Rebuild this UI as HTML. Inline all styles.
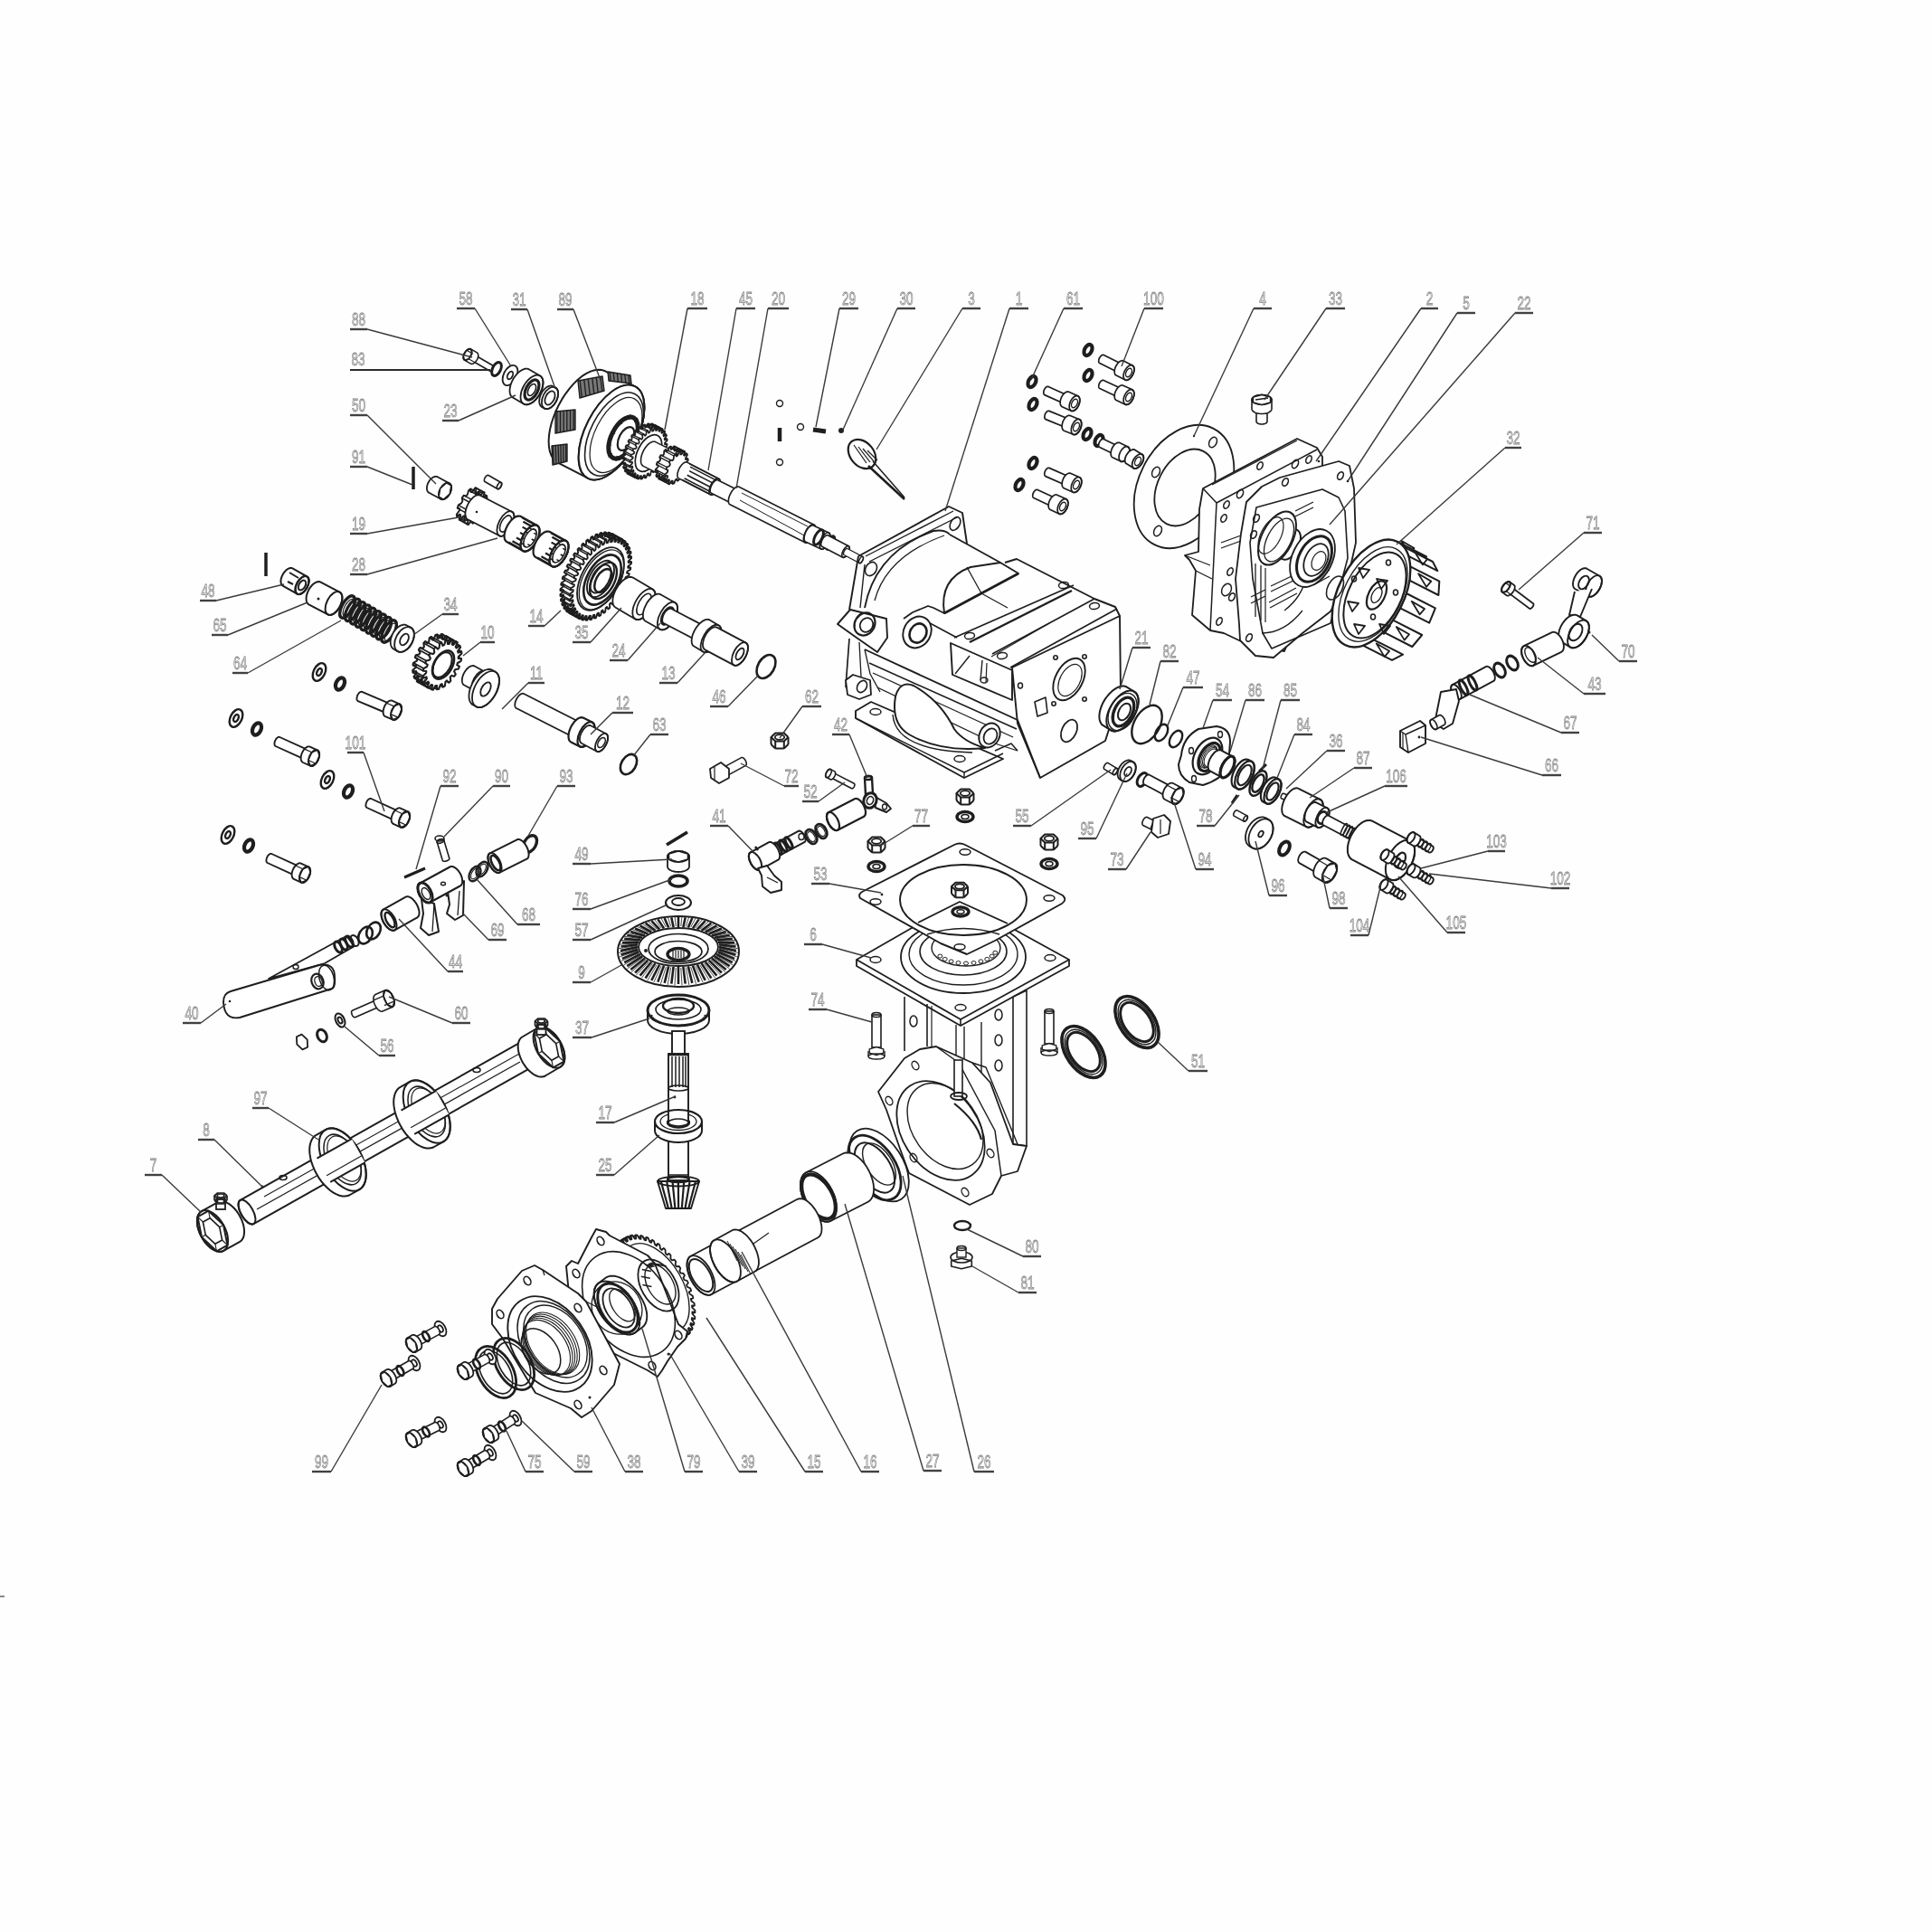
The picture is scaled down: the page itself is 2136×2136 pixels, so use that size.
<!DOCTYPE html>
<html><head><meta charset="utf-8"><style>
html,body{margin:0;padding:0;background:#fefefe;}
svg{display:block;}
.t{font-family:"Liberation Sans",sans-serif;font-size:20px;fill:#ececec;stroke:#7a7a7a;stroke-width:0.75;text-anchor:middle;}
</style></head><body>
<svg width="2136" height="2136" viewBox="0 0 2136 2136">
<rect x="0" y="0" width="2136" height="2136" fill="#fefefe"/>
<rect x="0" y="1764" width="5" height="2" fill="#888"/>
<polygon points="544.7,404 545,404.1 545.1,404.3 545.3,404.6 545.3,404.9 545.4,405.2 545.4,405.5 545.4,405.9 545.3,406.3 545.2,406.7 545.1,407.1 544.9,407.6 544.7,408 544.4,408.3 544.2,408.7 543.9,409 543.6,409.3 543.3,409.6 542.9,409.8 542.6,410 542.3,410.1 542,410.2 541.7,410.2 541.5,410.1 541.3,410 522.2,399 522,398.9 521.8,398.7 521.7,398.4 521.6,398.1 521.5,397.8 521.5,397.5 521.5,397.1 521.6,396.7 521.7,396.3 521.9,395.9 522,395.4 522.3,395 522.5,394.6 522.8,394.3 523.1,393.9 523.4,393.6 523.7,393.4 524,393.2 524.3,393 524.6,392.9 524.9,392.8 525.2,392.8 525.4,392.9 525.7,393" fill="#fff" stroke="#1e1e1e" stroke-width="1.6" stroke-linejoin="round"/>
<ellipse cx="523.9" cy="396" rx="1.9" ry="3.5" transform="rotate(-150 523.9 396)" fill="none" stroke="#1e1e1e" stroke-width="1.6"/>
<polygon points="527.4,389.9 527.8,390.2 528.2,390.6 528.4,391.1 528.6,391.7 528.7,392.4 528.8,393.1 528.7,393.8 528.6,394.6 528.3,395.5 528.1,396.3 527.7,397.1 527.3,397.9 526.8,398.7 526.2,399.4 525.7,400.1 525.1,400.7 524.4,401.2 523.8,401.6 523.2,402 522.6,402.2 522,402.3 521.4,402.4 520.9,402.3 520.4,402.1 513.5,398.1 513.1,397.8 512.8,397.4 512.5,396.9 512.3,396.3 512.2,395.6 512.2,394.9 512.2,394.2 512.4,393.4 512.6,392.5 512.9,391.7 513.2,390.9 513.7,390.1 514.2,389.3 514.7,388.6 515.3,387.9 515.9,387.3 516.5,386.8 517.1,386.4 517.7,386 518.4,385.8 519,385.7 519.5,385.6 520,385.7 520.5,385.9" fill="#fff" stroke="#1e1e1e" stroke-width="1.6" stroke-linejoin="round"/>
<ellipse cx="517" cy="392" rx="3.9" ry="7" transform="rotate(-150 517 392)" fill="none" stroke="#1e1e1e" stroke-width="1.6"/>
<line x1="515.9" y1="387.3" x2="522.8" y2="391.3" stroke="#1e1e1e" stroke-width="1.2"/>
<line x1="518.1" y1="396.7" x2="525.1" y2="400.7" stroke="#1e1e1e" stroke-width="1.2"/>
<polygon points="515.9,387.3 520.5,385.9 521.6,390.6 518.1,396.7 513.5,398.1 512.4,393.4" fill="none" stroke="#1e1e1e" stroke-width="1.3" stroke-linejoin="round"/>
<ellipse cx="549" cy="408" rx="4.5" ry="8" transform="rotate(27 549 408)" fill="none" stroke="#1e1e1e" stroke-width="3"/>
<ellipse cx="564" cy="415" rx="7.2" ry="12" transform="rotate(27 564 415)" fill="#fff" stroke="#1e1e1e" stroke-width="1.8"/>
<ellipse cx="564" cy="415" rx="2.7" ry="4.6" transform="rotate(27 564 415)" fill="none" stroke="#1e1e1e" stroke-width="1.8"/>
<polygon points="566.9,439.5 565.9,438.8 565,437.7 564.3,436.5 563.9,435 563.6,433.3 563.5,431.5 563.7,429.5 564.1,427.5 564.6,425.3 565.4,423.2 566.3,421.1 567.4,419 568.7,417 570.1,415.2 571.6,413.4 573.1,411.9 574.7,410.6 576.4,409.5 578,408.6 579.6,408 581.1,407.7 582.5,407.7 583.9,407.9 585.1,408.5 597.1,415.5 598.1,416.2 599,417.3 599.7,418.5 600.1,420 600.4,421.7 600.5,423.5 600.3,425.5 599.9,427.5 599.4,429.7 598.6,431.8 597.7,433.9 596.6,436 595.3,438 593.9,439.8 592.4,441.6 590.9,443.1 589.3,444.4 587.6,445.5 586,446.4 584.4,447 582.9,447.3 581.5,447.3 580.1,447.1 578.9,446.5" fill="#fff" stroke="#1e1e1e" stroke-width="1.8" stroke-linejoin="round"/>
<ellipse cx="588" cy="431" rx="9.9" ry="18" transform="rotate(30.3 588 431)" fill="none" stroke="#1e1e1e" stroke-width="1.8"/>
<ellipse cx="588" cy="431" rx="6.5" ry="12" transform="rotate(27 588 431)" fill="none" stroke="#1e1e1e" stroke-width="3.2"/>
<ellipse cx="588" cy="431" rx="3.8" ry="7" transform="rotate(27 588 431)" fill="none" stroke="#1e1e1e" stroke-width="1.6"/>
<polygon points="599.4,450.2 598.6,449.7 597.8,448.9 597.2,448 596.7,446.9 596.4,445.7 596.2,444.3 596.2,442.9 596.4,441.4 596.6,439.8 597.1,438.2 597.7,436.6 598.4,435.1 599.2,433.6 600.1,432.2 601.2,430.9 602.3,429.8 603.4,428.8 604.6,427.9 605.8,427.3 607,426.8 608.1,426.6 609.2,426.5 610.3,426.7 611.2,427.1 613.9,428.4 614.8,429 615.5,429.7 616.1,430.7 616.6,431.7 616.9,433 617.1,434.3 617.1,435.8 617,437.3 616.7,438.8 616.2,440.4 615.7,442 614.9,443.5 614.1,445 613.2,446.4 612.2,447.7 611.1,448.9 609.9,449.9 608.7,450.7 607.5,451.3 606.4,451.8 605.2,452.1 604.1,452.1 603.1,451.9 602.1,451.6" fill="#fff" stroke="#1e1e1e" stroke-width="1.8" stroke-linejoin="round"/>
<ellipse cx="608" cy="440" rx="7.8" ry="13" transform="rotate(27 608 440)" fill="none" stroke="#1e1e1e" stroke-width="1.8"/>
<ellipse cx="608" cy="440" rx="4.8" ry="8.1" transform="rotate(27 608 440)" fill="none" stroke="#1e1e1e" stroke-width="1.8"/>
<polygon points="616.9,511.7 613.8,509.5 611.2,506.6 609.2,502.8 607.7,498.4 606.9,493.3 606.6,487.6 607,481.5 608,475 609.6,468.3 611.8,461.5 614.5,454.7 617.7,447.9 621.3,441.4 625.3,435.3 629.6,429.6 634.1,424.4 638.8,419.8 643.5,415.9 648.3,412.9 652.9,410.6 657.4,409.2 661.7,408.7 665.6,409.1 669.1,410.3 702.1,427.3 705.2,429.5 707.8,432.4 709.8,436.2 711.3,440.6 712.1,445.7 712.4,451.4 712,457.5 711,464 709.4,470.7 707.2,477.5 704.5,484.3 701.3,491.1 697.7,497.6 693.7,503.7 689.4,509.4 684.9,514.6 680.2,519.2 675.5,523.1 670.7,526.1 666.1,528.4 661.6,529.8 657.3,530.3 653.4,529.9 649.9,528.7" fill="#fff" stroke="#1e1e1e" stroke-width="2" stroke-linejoin="round"/>
<ellipse cx="676" cy="478" rx="28.5" ry="57" transform="rotate(27.3 676 478)" fill="none" stroke="#1e1e1e" stroke-width="2"/>
<polygon points="639,421 666,416 668,432 641,440" fill="#777" stroke="#1e1e1e" stroke-width="1.4" stroke-linejoin="round"/>
<line x1="641.2" y1="420.6" x2="643.2" y2="439.3" stroke="#1e1e1e" stroke-width="1.3"/>
<line x1="645.8" y1="419.8" x2="647.8" y2="438" stroke="#1e1e1e" stroke-width="1.3"/>
<line x1="650.2" y1="418.9" x2="652.2" y2="436.7" stroke="#1e1e1e" stroke-width="1.3"/>
<line x1="654.8" y1="418.1" x2="656.8" y2="435.3" stroke="#1e1e1e" stroke-width="1.3"/>
<line x1="659.2" y1="417.2" x2="661.2" y2="434" stroke="#1e1e1e" stroke-width="1.3"/>
<line x1="663.8" y1="416.4" x2="665.8" y2="432.7" stroke="#1e1e1e" stroke-width="1.3"/>
<polygon points="614,455 636,453 636,475 614,479" fill="#777" stroke="#1e1e1e" stroke-width="1.4" stroke-linejoin="round"/>
<line x1="615.8" y1="454.8" x2="615.8" y2="478.7" stroke="#1e1e1e" stroke-width="1.3"/>
<line x1="619.5" y1="454.5" x2="619.5" y2="478" stroke="#1e1e1e" stroke-width="1.3"/>
<line x1="623.2" y1="454.2" x2="623.2" y2="477.3" stroke="#1e1e1e" stroke-width="1.3"/>
<line x1="626.8" y1="453.8" x2="626.8" y2="476.7" stroke="#1e1e1e" stroke-width="1.3"/>
<line x1="630.5" y1="453.5" x2="630.5" y2="476" stroke="#1e1e1e" stroke-width="1.3"/>
<line x1="634.2" y1="453.2" x2="634.2" y2="475.3" stroke="#1e1e1e" stroke-width="1.3"/>
<polygon points="610,493 627,491 627,510 611,514" fill="#777" stroke="#1e1e1e" stroke-width="1.4" stroke-linejoin="round"/>
<line x1="611.4" y1="492.8" x2="612.3" y2="513.7" stroke="#1e1e1e" stroke-width="1.3"/>
<line x1="614.2" y1="492.5" x2="615" y2="513" stroke="#1e1e1e" stroke-width="1.3"/>
<line x1="617.1" y1="492.2" x2="617.7" y2="512.3" stroke="#1e1e1e" stroke-width="1.3"/>
<line x1="619.9" y1="491.8" x2="620.3" y2="511.7" stroke="#1e1e1e" stroke-width="1.3"/>
<line x1="622.8" y1="491.5" x2="623" y2="511" stroke="#1e1e1e" stroke-width="1.3"/>
<line x1="625.6" y1="491.2" x2="625.7" y2="510.3" stroke="#1e1e1e" stroke-width="1.3"/>
<polygon points="672,411 697,415 698,424 673,421" fill="#777" stroke="#1e1e1e" stroke-width="1.4" stroke-linejoin="round"/>
<line x1="674.1" y1="411.3" x2="675.1" y2="421.2" stroke="#1e1e1e" stroke-width="1.3"/>
<line x1="678.2" y1="412" x2="679.2" y2="421.8" stroke="#1e1e1e" stroke-width="1.3"/>
<line x1="682.4" y1="412.7" x2="683.4" y2="422.2" stroke="#1e1e1e" stroke-width="1.3"/>
<line x1="686.6" y1="413.3" x2="687.6" y2="422.8" stroke="#1e1e1e" stroke-width="1.3"/>
<line x1="690.8" y1="414" x2="691.8" y2="423.2" stroke="#1e1e1e" stroke-width="1.3"/>
<line x1="694.9" y1="414.7" x2="695.9" y2="423.8" stroke="#1e1e1e" stroke-width="1.3"/>
<ellipse cx="676" cy="478" rx="28.5" ry="57" transform="rotate(27 676 478)" fill="#fff" stroke="#1e1e1e" stroke-width="2"/>
<ellipse cx="679" cy="480" rx="26" ry="50" transform="rotate(27 679 480)" fill="none" stroke="#1e1e1e" stroke-width="1.6"/>
<ellipse cx="681" cy="481" rx="23" ry="45" transform="rotate(27 681 481)" fill="none" stroke="#1e1e1e" stroke-width="1.2"/>
<ellipse cx="689" cy="484" rx="13" ry="25" transform="rotate(27 689 484)" fill="none" stroke="#1e1e1e" stroke-width="5"/>
<ellipse cx="692" cy="485" rx="7.5" ry="14" transform="rotate(27 692 485)" fill="none" stroke="#1e1e1e" stroke-width="2.2"/>
<line x1="697.9" y1="488.5" x2="702.4" y2="490.8" stroke="#1e1e1e" stroke-width="1.2"/>
<line x1="690.3" y1="499.2" x2="692.3" y2="504.2" stroke="#1e1e1e" stroke-width="1.2"/>
<line x1="682.3" y1="504" x2="681" y2="509.8" stroke="#1e1e1e" stroke-width="1.2"/>
<line x1="676.7" y1="501.2" x2="672.8" y2="505.6" stroke="#1e1e1e" stroke-width="1.2"/>
<line x1="675.9" y1="491.8" x2="670.7" y2="493.2" stroke="#1e1e1e" stroke-width="1.2"/>
<line x1="680.1" y1="479.5" x2="675.6" y2="477.2" stroke="#1e1e1e" stroke-width="1.2"/>
<line x1="687.7" y1="468.8" x2="685.7" y2="463.8" stroke="#1e1e1e" stroke-width="1.2"/>
<line x1="695.7" y1="464" x2="697" y2="458.2" stroke="#1e1e1e" stroke-width="1.2"/>
<line x1="701.3" y1="466.8" x2="705.2" y2="462.4" stroke="#1e1e1e" stroke-width="1.2"/>
<line x1="702.1" y1="476.2" x2="707.3" y2="474.8" stroke="#1e1e1e" stroke-width="1.2"/>
<polygon points="722.2,503.7 723.5,505.9 722.5,507.7 720.1,507.3 719.2,508.8 719.9,511.7 718.7,513.3 716.7,512.1 715.6,513.4 715.7,516.8 714.4,518.2 712.9,516.2 711.7,517.2 711.2,520.9 709.8,521.9 708.9,519.2 707.6,519.9 706.5,523.8 705.1,524.4 704.8,521.2 703.7,521.5 702,525.4 700.7,525.5 701,521.9 700,521.9 697.8,525.5 696.7,525.2 697.6,521.4 696.7,521 694.2,524.2 693.3,523.5 694.8,519.6 694.1,518.9 691.4,521.5 690.7,520.4 692.7,516.7 692.2,515.7 689.4,517.6 689,516.2 691.4,512.8 691.1,511.5 688.4,512.6 688.3,511 690.9,508.2 691,506.6 688.4,506.9 688.6,505.1 691.4,502.9 691.7,501.3 689.5,500.7 690,498.7 692.8,497.4 693.4,495.7 691.5,494.2 692.3,492.3 695,491.8 695.7,490.2 694.4,487.9 695.5,486.1 697.8,486.5 698.8,485 698.1,482.1 699.3,480.5 701.3,481.7 702.4,480.4 702.3,477 703.6,475.7 705.1,477.7 706.3,476.6 706.8,472.9 708.2,471.9 709.1,474.6 710.3,473.9 711.4,470 712.8,469.4 713.1,472.7 714.3,472.3 716,468.5 717.2,468.3 716.9,471.9 718,472 720.1,468.4 721.3,468.6 720.3,472.5 721.2,472.9 723.7,469.7 724.7,470.3 723.2,474.2 723.9,475 726.6,472.3 727.3,473.4 725.3,477.1 725.8,478.2 728.6,476.3 729,477.6 726.6,481 726.8,482.3 729.6,481.2 729.7,482.9 727,485.7 727,487.2 729.5,486.9 729.3,488.8 726.5,490.9 726.2,492.6 728.5,493.2 728,495.1 725.2,496.5 724.6,498.1 726.4,499.6 725.7,501.5 723,502" fill="#fff" stroke="#1e1e1e" stroke-width="1.7" stroke-linejoin="round"/>
<line x1="723.5" y1="505.9" x2="731.5" y2="510" stroke="#1e1e1e" stroke-width="1.4"/>
<line x1="722.5" y1="507.7" x2="730.5" y2="511.8" stroke="#1e1e1e" stroke-width="1.4"/>
<line x1="719.9" y1="511.7" x2="727.9" y2="515.8" stroke="#1e1e1e" stroke-width="1.4"/>
<line x1="718.7" y1="513.3" x2="726.7" y2="517.4" stroke="#1e1e1e" stroke-width="1.4"/>
<line x1="715.7" y1="516.8" x2="723.7" y2="520.9" stroke="#1e1e1e" stroke-width="1.4"/>
<line x1="714.4" y1="518.2" x2="722.4" y2="522.2" stroke="#1e1e1e" stroke-width="1.4"/>
<line x1="711.2" y1="520.9" x2="719.2" y2="525" stroke="#1e1e1e" stroke-width="1.4"/>
<line x1="709.8" y1="521.9" x2="717.8" y2="526" stroke="#1e1e1e" stroke-width="1.4"/>
<line x1="706.5" y1="523.8" x2="714.5" y2="527.9" stroke="#1e1e1e" stroke-width="1.4"/>
<line x1="705.1" y1="524.4" x2="713.2" y2="528.5" stroke="#1e1e1e" stroke-width="1.4"/>
<line x1="702" y1="525.4" x2="710" y2="529.4" stroke="#1e1e1e" stroke-width="1.4"/>
<line x1="700.7" y1="525.5" x2="708.7" y2="529.6" stroke="#1e1e1e" stroke-width="1.4"/>
<line x1="697.8" y1="525.5" x2="705.9" y2="529.6" stroke="#1e1e1e" stroke-width="1.4"/>
<line x1="696.7" y1="525.2" x2="704.7" y2="529.3" stroke="#1e1e1e" stroke-width="1.4"/>
<line x1="694.2" y1="524.2" x2="702.3" y2="528.2" stroke="#1e1e1e" stroke-width="1.4"/>
<line x1="693.3" y1="523.5" x2="701.3" y2="527.6" stroke="#1e1e1e" stroke-width="1.4"/>
<line x1="691.4" y1="521.5" x2="699.4" y2="525.6" stroke="#1e1e1e" stroke-width="1.4"/>
<line x1="690.7" y1="520.4" x2="698.7" y2="524.5" stroke="#1e1e1e" stroke-width="1.4"/>
<line x1="689.4" y1="517.6" x2="697.4" y2="521.7" stroke="#1e1e1e" stroke-width="1.4"/>
<line x1="689" y1="516.2" x2="697" y2="520.3" stroke="#1e1e1e" stroke-width="1.4"/>
<line x1="688.4" y1="512.6" x2="696.4" y2="516.7" stroke="#1e1e1e" stroke-width="1.4"/>
<line x1="688.3" y1="511" x2="696.3" y2="515.1" stroke="#1e1e1e" stroke-width="1.4"/>
<line x1="688.4" y1="506.9" x2="696.4" y2="511" stroke="#1e1e1e" stroke-width="1.4"/>
<line x1="688.6" y1="505.1" x2="696.6" y2="509.1" stroke="#1e1e1e" stroke-width="1.4"/>
<line x1="689.5" y1="500.7" x2="697.5" y2="504.7" stroke="#1e1e1e" stroke-width="1.4"/>
<line x1="690" y1="498.7" x2="698" y2="502.8" stroke="#1e1e1e" stroke-width="1.4"/>
<line x1="691.5" y1="494.2" x2="699.5" y2="498.3" stroke="#1e1e1e" stroke-width="1.4"/>
<line x1="692.3" y1="492.3" x2="700.3" y2="496.4" stroke="#1e1e1e" stroke-width="1.4"/>
<line x1="694.4" y1="487.9" x2="702.5" y2="492" stroke="#1e1e1e" stroke-width="1.4"/>
<line x1="695.5" y1="486.1" x2="703.5" y2="490.2" stroke="#1e1e1e" stroke-width="1.4"/>
<line x1="698.1" y1="482.1" x2="706.1" y2="486.2" stroke="#1e1e1e" stroke-width="1.4"/>
<line x1="699.3" y1="480.5" x2="707.3" y2="484.6" stroke="#1e1e1e" stroke-width="1.4"/>
<line x1="702.3" y1="477" x2="710.3" y2="481.1" stroke="#1e1e1e" stroke-width="1.4"/>
<line x1="703.6" y1="475.7" x2="711.6" y2="479.8" stroke="#1e1e1e" stroke-width="1.4"/>
<line x1="706.8" y1="472.9" x2="714.8" y2="477" stroke="#1e1e1e" stroke-width="1.4"/>
<line x1="708.2" y1="471.9" x2="716.2" y2="476" stroke="#1e1e1e" stroke-width="1.4"/>
<line x1="711.4" y1="470" x2="719.5" y2="474.1" stroke="#1e1e1e" stroke-width="1.4"/>
<line x1="712.8" y1="469.4" x2="720.8" y2="473.5" stroke="#1e1e1e" stroke-width="1.4"/>
<line x1="716" y1="468.5" x2="724" y2="472.6" stroke="#1e1e1e" stroke-width="1.4"/>
<line x1="717.2" y1="468.3" x2="725.3" y2="472.4" stroke="#1e1e1e" stroke-width="1.4"/>
<line x1="720.1" y1="468.4" x2="728.1" y2="472.4" stroke="#1e1e1e" stroke-width="1.4"/>
<line x1="721.3" y1="468.6" x2="729.3" y2="472.7" stroke="#1e1e1e" stroke-width="1.4"/>
<line x1="723.7" y1="469.7" x2="731.7" y2="473.8" stroke="#1e1e1e" stroke-width="1.4"/>
<line x1="724.7" y1="470.3" x2="732.7" y2="474.4" stroke="#1e1e1e" stroke-width="1.4"/>
<line x1="726.6" y1="472.3" x2="734.6" y2="476.4" stroke="#1e1e1e" stroke-width="1.4"/>
<line x1="727.3" y1="473.4" x2="735.3" y2="477.5" stroke="#1e1e1e" stroke-width="1.4"/>
<line x1="728.6" y1="476.3" x2="736.6" y2="480.3" stroke="#1e1e1e" stroke-width="1.4"/>
<line x1="729" y1="477.6" x2="737" y2="481.7" stroke="#1e1e1e" stroke-width="1.4"/>
<line x1="729.6" y1="481.2" x2="737.6" y2="485.3" stroke="#1e1e1e" stroke-width="1.4"/>
<line x1="729.7" y1="482.9" x2="737.7" y2="486.9" stroke="#1e1e1e" stroke-width="1.4"/>
<line x1="729.5" y1="486.9" x2="737.6" y2="491" stroke="#1e1e1e" stroke-width="1.4"/>
<line x1="729.3" y1="488.8" x2="737.4" y2="492.9" stroke="#1e1e1e" stroke-width="1.4"/>
<line x1="728.5" y1="493.2" x2="736.5" y2="497.3" stroke="#1e1e1e" stroke-width="1.4"/>
<line x1="728" y1="495.1" x2="736" y2="499.2" stroke="#1e1e1e" stroke-width="1.4"/>
<line x1="726.4" y1="499.6" x2="734.5" y2="503.7" stroke="#1e1e1e" stroke-width="1.4"/>
<line x1="725.7" y1="501.5" x2="733.7" y2="505.6" stroke="#1e1e1e" stroke-width="1.4"/>
<polygon points="730.2,507.7 731.5,510 730.5,511.8 728.2,511.4 727.2,512.9 727.9,515.8 726.7,517.4 724.7,516.2 723.6,517.5 723.7,520.9 722.4,522.2 720.9,520.2 719.7,521.3 719.2,525 717.8,526 716.9,523.3 715.7,524 714.5,527.9 713.2,528.5 712.9,525.3 711.7,525.6 710,529.4 708.7,529.6 709.1,526 708,526 705.9,529.6 704.7,529.3 705.7,525.5 704.7,525.1 702.3,528.2 701.3,527.6 702.8,523.7 702.1,523 699.4,525.6 698.7,524.5 700.7,520.8 700.2,519.7 697.4,521.7 697,520.3 699.4,516.9 699.2,515.6 696.4,516.7 696.3,515.1 699,512.3 699,510.7 696.4,511 696.6,509.1 699.4,507 699.8,505.4 697.5,504.7 698,502.8 700.8,501.5 701.4,499.8 699.5,498.3 700.3,496.4 703,495.9 703.8,494.3 702.5,492 703.5,490.2 705.8,490.6 706.8,489.1 706.1,486.2 707.3,484.6 709.3,485.8 710.4,484.5 710.3,481.1 711.6,479.8 713.1,481.8 714.3,480.7 714.8,477 716.2,476 717.1,478.7 718.3,478 719.5,474.1 720.8,473.5 721.1,476.7 722.3,476.4 724,472.6 725.3,472.4 724.9,476 726,476 728.1,472.4 729.3,472.7 728.3,476.5 729.3,476.9 731.7,473.8 732.7,474.4 731.2,478.3 731.9,479 734.6,476.4 735.3,477.5 733.3,481.2 733.8,482.3 736.6,480.3 737,481.7 734.6,485.1 734.8,486.4 737.6,485.3 737.7,486.9 735,489.7 735,491.3 737.6,491 737.4,492.9 734.6,495 734.2,496.6 736.5,497.3 736,499.2 733.2,500.5 732.6,502.2 734.5,503.7 733.7,505.6 731,506.1" fill="#fff" stroke="#1e1e1e" stroke-width="1.7" stroke-linejoin="round"/>
<ellipse cx="717" cy="501" rx="12.1" ry="22" transform="rotate(27 717 501)" fill="none" stroke="#1e1e1e" stroke-width="1.7"/>
<polygon points="711.3,515.4 710.5,514.9 709.8,514.1 709.2,513.1 708.8,511.9 708.6,510.6 708.5,509.1 708.6,507.5 708.8,505.8 709.2,504 709.8,502.2 710.5,500.4 711.3,498.6 712.2,496.9 713.3,495.3 714.4,493.8 715.5,492.4 716.8,491.2 718,490.1 719.2,489.3 720.5,488.7 721.6,488.3 722.7,488.2 723.8,488.3 724.7,488.6 744.7,498.6 745.5,499.1 746.2,499.9 746.8,500.9 747.2,502.1 747.4,503.4 747.5,504.9 747.4,506.5 747.2,508.2 746.8,510 746.2,511.8 745.5,513.6 744.7,515.4 743.8,517.1 742.7,518.7 741.6,520.2 740.5,521.6 739.2,522.8 738,523.9 736.8,524.7 735.5,525.3 734.4,525.7 733.3,525.8 732.2,525.7 731.3,525.4" fill="#fff" stroke="#1e1e1e" stroke-width="1.6" stroke-linejoin="round"/>
<ellipse cx="738" cy="512" rx="7.5" ry="15" transform="rotate(26.6 738 512)" fill="none" stroke="#1e1e1e" stroke-width="1.6"/>
<polygon points="744.4,515.2 745.4,517.7 744,519.9 741.8,519.4 740.6,521 740.3,524.6 738.6,526.2 737.4,524 736.1,525 734.6,528.9 733,529.6 733,526.2 731.8,526.3 729.5,529.8 728.2,529.4 729.4,525.4 728.6,524.6 725.9,527.1 725.3,525.6 727.4,521.9 727.2,520.4 724.6,521.3 724.7,519.1 727.4,516.4 727.7,514.5 725.8,513.6 726.6,511.1 729.3,509.9 730.2,507.9 729.2,505.4 730.6,503.2 732.8,503.7 734,502.1 734.3,498.5 736,496.9 737.2,499.1 738.5,498.1 740,494.2 741.6,493.5 741.6,496.9 742.8,496.8 745.1,493.3 746.4,493.7 745.2,497.7 746,498.5 748.7,496 749.4,497.5 747.2,501.2 747.4,502.7 750,501.8 749.9,504 747.3,506.7 746.9,508.6 748.8,509.5 748,512 745.3,513.2" fill="#fff" stroke="#1e1e1e" stroke-width="1.8" stroke-linejoin="round"/>
<line x1="745.4" y1="517.7" x2="756.1" y2="523.1" stroke="#1e1e1e" stroke-width="1.4"/>
<line x1="744" y1="519.9" x2="754.7" y2="525.4" stroke="#1e1e1e" stroke-width="1.4"/>
<line x1="740.3" y1="524.6" x2="751" y2="530" stroke="#1e1e1e" stroke-width="1.4"/>
<line x1="738.6" y1="526.2" x2="749.3" y2="531.7" stroke="#1e1e1e" stroke-width="1.4"/>
<line x1="734.6" y1="528.9" x2="745.3" y2="534.4" stroke="#1e1e1e" stroke-width="1.4"/>
<line x1="733" y1="529.6" x2="743.7" y2="535" stroke="#1e1e1e" stroke-width="1.4"/>
<line x1="729.5" y1="529.8" x2="740.2" y2="535.3" stroke="#1e1e1e" stroke-width="1.4"/>
<line x1="728.2" y1="529.4" x2="738.9" y2="534.8" stroke="#1e1e1e" stroke-width="1.4"/>
<line x1="725.9" y1="527.1" x2="736.6" y2="532.5" stroke="#1e1e1e" stroke-width="1.4"/>
<line x1="725.3" y1="525.6" x2="736" y2="531.1" stroke="#1e1e1e" stroke-width="1.4"/>
<line x1="724.6" y1="521.3" x2="735.3" y2="526.7" stroke="#1e1e1e" stroke-width="1.4"/>
<line x1="724.7" y1="519.1" x2="735.4" y2="524.6" stroke="#1e1e1e" stroke-width="1.4"/>
<line x1="725.8" y1="513.6" x2="736.5" y2="519" stroke="#1e1e1e" stroke-width="1.4"/>
<line x1="726.6" y1="511.1" x2="737.3" y2="516.5" stroke="#1e1e1e" stroke-width="1.4"/>
<line x1="729.2" y1="505.4" x2="739.9" y2="510.9" stroke="#1e1e1e" stroke-width="1.4"/>
<line x1="730.6" y1="503.2" x2="741.3" y2="508.6" stroke="#1e1e1e" stroke-width="1.4"/>
<line x1="734.3" y1="498.5" x2="745" y2="504" stroke="#1e1e1e" stroke-width="1.4"/>
<line x1="736" y1="496.9" x2="746.7" y2="502.3" stroke="#1e1e1e" stroke-width="1.4"/>
<line x1="740" y1="494.2" x2="750.7" y2="499.6" stroke="#1e1e1e" stroke-width="1.4"/>
<line x1="741.6" y1="493.5" x2="752.3" y2="499" stroke="#1e1e1e" stroke-width="1.4"/>
<line x1="745.1" y1="493.3" x2="755.8" y2="498.7" stroke="#1e1e1e" stroke-width="1.4"/>
<line x1="746.4" y1="493.7" x2="757.1" y2="499.2" stroke="#1e1e1e" stroke-width="1.4"/>
<line x1="748.7" y1="496" x2="759.4" y2="501.5" stroke="#1e1e1e" stroke-width="1.4"/>
<line x1="749.4" y1="497.5" x2="760" y2="502.9" stroke="#1e1e1e" stroke-width="1.4"/>
<line x1="750" y1="501.8" x2="760.7" y2="507.3" stroke="#1e1e1e" stroke-width="1.4"/>
<line x1="749.9" y1="504" x2="760.6" y2="509.4" stroke="#1e1e1e" stroke-width="1.4"/>
<line x1="748.8" y1="509.5" x2="759.5" y2="515" stroke="#1e1e1e" stroke-width="1.4"/>
<line x1="748" y1="512" x2="758.7" y2="517.5" stroke="#1e1e1e" stroke-width="1.4"/>
<polygon points="755.1,520.6 756.1,523.1 754.7,525.4 752.5,524.9 751.3,526.5 751,530 749.3,531.7 748.1,529.5 746.8,530.4 745.3,534.4 743.7,535 743.7,531.6 742.5,531.7 740.2,535.3 738.9,534.8 740.1,530.9 739.3,530.1 736.6,532.5 736,531.1 738.1,527.4 737.9,525.9 735.3,526.7 735.4,524.6 738,521.8 738.4,519.9 736.5,519 737.3,516.5 740,515.3 740.9,513.4 739.9,510.9 741.3,508.6 743.5,509.1 744.7,507.5 745,504 746.7,502.3 747.9,504.5 749.2,503.6 750.7,499.6 752.3,499 752.3,502.4 753.5,502.3 755.8,498.7 757.1,499.2 755.9,503.1 756.7,503.9 759.4,501.5 760,502.9 757.9,506.6 758.1,508.1 760.7,507.3 760.6,509.4 758,512.2 757.6,514.1 759.5,515 758.7,517.5 756,518.7" fill="#fff" stroke="#1e1e1e" stroke-width="1.8" stroke-linejoin="round"/>
<polygon points="750.4,528.9 749.9,528.5 749.5,528.1 749.2,527.4 749,526.7 748.9,525.8 748.9,524.8 749,523.8 749.2,522.7 749.6,521.5 750,520.3 750.4,519.1 751,517.9 751.6,516.8 752.3,515.7 753.1,514.7 753.8,513.8 754.6,513 755.4,512.3 756.2,511.7 757,511.3 757.7,511 758.4,510.9 759,510.9 759.6,511.1 794.6,529.1 795.1,529.5 795.5,529.9 795.8,530.6 796,531.3 796.1,532.2 796.1,533.2 796,534.2 795.8,535.3 795.4,536.5 795,537.7 794.6,538.9 794,540.1 793.4,541.2 792.7,542.3 791.9,543.3 791.2,544.2 790.4,545 789.6,545.7 788.8,546.3 788,546.7 787.3,547 786.6,547.1 786,547.1 785.4,546.9" fill="#fff" stroke="#1e1e1e" stroke-width="1.6" stroke-linejoin="round"/>
<ellipse cx="790" cy="538" rx="4.5" ry="10" transform="rotate(27.2 790 538)" fill="none" stroke="#1e1e1e" stroke-width="1.6"/>
<line x1="762.4" y1="512.9" x2="793.4" y2="528.9" stroke="#1e1e1e" stroke-width="1.6"/>
<line x1="763" y1="516.1" x2="794" y2="532.1" stroke="#1e1e1e" stroke-width="1.6"/>
<line x1="762.1" y1="520.6" x2="793.1" y2="536.6" stroke="#1e1e1e" stroke-width="1.6"/>
<line x1="759.7" y1="525.3" x2="790.7" y2="541.3" stroke="#1e1e1e" stroke-width="1.6"/>
<line x1="756.6" y1="528.8" x2="787.6" y2="544.8" stroke="#1e1e1e" stroke-width="1.6"/>
<line x1="753.6" y1="530.1" x2="784.6" y2="546.1" stroke="#1e1e1e" stroke-width="1.6"/>
<polygon points="786.4,545.2 786,544.9 785.7,544.5 785.5,544 785.3,543.4 785.2,542.7 785.2,541.9 785.3,541.1 785.4,540.2 785.7,539.3 786,538.3 786.3,537.3 786.8,536.4 787.3,535.5 787.8,534.6 788.4,533.8 789,533 789.6,532.4 790.3,531.8 790.9,531.3 791.5,531 792.1,530.8 792.6,530.7 793.1,530.7 793.6,530.8 815.6,541.8 816,542.1 816.3,542.5 816.5,543 816.7,543.6 816.8,544.3 816.8,545.1 816.7,545.9 816.6,546.8 816.3,547.7 816,548.7 815.7,549.7 815.2,550.6 814.7,551.5 814.2,552.4 813.6,553.2 813,554 812.4,554.6 811.7,555.2 811.1,555.7 810.5,556 809.9,556.2 809.4,556.3 808.9,556.3 808.4,556.2" fill="#fff" stroke="#1e1e1e" stroke-width="1.6" stroke-linejoin="round"/>
<ellipse cx="812" cy="549" rx="3.6" ry="8" transform="rotate(26.6 812 549)" fill="none" stroke="#1e1e1e" stroke-width="1.6"/>
<polygon points="807,557.8 806.5,557.4 806.1,556.9 805.7,556.2 805.5,555.4 805.4,554.4 805.4,553.4 805.5,552.2 805.7,551 806,549.7 806.4,548.4 807,547.1 807.6,545.8 808.3,544.5 809,543.3 809.8,542.2 810.7,541.2 811.5,540.3 812.4,539.5 813.3,538.9 814.1,538.4 814.9,538.1 815.7,537.9 816.3,538 817,538.2 900,580.2 900.5,580.6 900.9,581.1 901.3,581.8 901.5,582.6 901.6,583.6 901.6,584.6 901.5,585.8 901.3,587 901,588.3 900.6,589.6 900,590.9 899.4,592.2 898.7,593.5 898,594.7 897.2,595.8 896.3,596.8 895.5,597.7 894.6,598.5 893.7,599.1 892.9,599.6 892.1,599.9 891.3,600.1 890.7,600 890,599.8" fill="#fff" stroke="#1e1e1e" stroke-width="1.6" stroke-linejoin="round"/>
<ellipse cx="895" cy="590" rx="5" ry="11" transform="rotate(26.8 895 590)" fill="none" stroke="#1e1e1e" stroke-width="1.6"/>
<line x1="820" y1="545" x2="893" y2="582" stroke="#1e1e1e" stroke-width="1"/>
<line x1="818" y1="553" x2="891" y2="593" stroke="#1e1e1e" stroke-width="1"/>
<polygon points="890.7,599 890.2,598.7 889.8,598.2 889.5,597.6 889.3,596.9 889.1,596 889.1,595 889.2,594 889.3,592.9 889.6,591.7 890,590.5 890.4,589.3 890.9,588.1 891.5,586.9 892.2,585.8 892.9,584.8 893.6,583.8 894.4,583 895.1,582.2 895.9,581.7 896.7,581.2 897.4,580.9 898.1,580.8 898.7,580.8 899.3,581 916.3,589 916.8,589.3 917.2,589.8 917.5,590.4 917.7,591.1 917.9,592 917.9,593 917.8,594 917.7,595.1 917.4,596.3 917,597.5 916.6,598.7 916.1,599.9 915.5,601.1 914.8,602.2 914.1,603.2 913.4,604.2 912.6,605 911.9,605.8 911.1,606.3 910.3,606.8 909.6,607.1 908.9,607.2 908.3,607.2 907.7,607" fill="#fff" stroke="#1e1e1e" stroke-width="1.6" stroke-linejoin="round"/>
<ellipse cx="912" cy="598" rx="4.5" ry="10" transform="rotate(25.2 912 598)" fill="none" stroke="#1e1e1e" stroke-width="1.6"/>
<ellipse cx="905" cy="594" rx="4" ry="9" transform="rotate(27 905 594)" fill="none" stroke="#1e1e1e" stroke-width="3"/>
<ellipse cx="918" cy="600" rx="3.5" ry="8" transform="rotate(27 918 600)" fill="none" stroke="#1e1e1e" stroke-width="3"/>
<polygon points="908.8,604.2 908.4,604 908.1,603.6 907.9,603.2 907.8,602.6 907.7,602 907.7,601.4 907.8,600.6 908,599.8 908.2,599 908.5,598.2 908.8,597.4 909.2,596.5 909.7,595.7 910.1,595 910.7,594.3 911.2,593.6 911.8,593.1 912.3,592.6 912.9,592.2 913.4,591.9 913.9,591.7 914.4,591.6 914.8,591.7 915.2,591.8 938.2,603.8 938.6,604 938.9,604.4 939.1,604.8 939.2,605.4 939.3,606 939.3,606.6 939.2,607.4 939,608.2 938.8,609 938.5,609.8 938.2,610.6 937.8,611.5 937.3,612.3 936.9,613 936.3,613.7 935.8,614.4 935.2,614.9 934.7,615.4 934.1,615.8 933.6,616.1 933.1,616.3 932.6,616.4 932.2,616.3 931.8,616.2" fill="#fff" stroke="#1e1e1e" stroke-width="1.6" stroke-linejoin="round"/>
<ellipse cx="935" cy="610" rx="3.1" ry="7" transform="rotate(27.6 935 610)" fill="none" stroke="#1e1e1e" stroke-width="1.6"/>
<polygon points="933.1,613.5 932.9,613.4 932.8,613.2 932.7,612.9 932.6,612.6 932.5,612.3 932.6,611.9 932.6,611.5 932.7,611 932.8,610.6 933,610.1 933.2,609.6 933.4,609.2 933.7,608.7 933.9,608.3 934.2,607.9 934.6,607.5 934.9,607.2 935.2,606.9 935.5,606.7 935.8,606.5 936.1,606.4 936.4,606.4 936.6,606.4 936.9,606.5 953.9,615.5 954.1,615.6 954.2,615.8 954.3,616.1 954.4,616.4 954.5,616.7 954.4,617.1 954.4,617.5 954.3,618 954.2,618.4 954,618.9 953.8,619.4 953.6,619.8 953.3,620.3 953.1,620.7 952.8,621.1 952.4,621.5 952.1,621.8 951.8,622.1 951.5,622.3 951.2,622.5 950.9,622.6 950.6,622.6 950.4,622.6 950.1,622.5" fill="#fff" stroke="#1e1e1e" stroke-width="1.4" stroke-linejoin="round"/>
<ellipse cx="952" cy="619" rx="1.8" ry="4" transform="rotate(27.9 952 619)" fill="none" stroke="#1e1e1e" stroke-width="1.4"/>
<line x1="457" y1="516" x2="457" y2="541" stroke="#1e1e1e" stroke-width="3.5"/>
<polygon points="474.3,544.8 473.6,544.4 473.1,543.8 472.6,543 472.3,542.2 472,541.3 471.9,540.2 471.9,539.1 472.1,537.9 472.3,536.7 472.7,535.5 473.1,534.3 473.7,533.2 474.4,532 475.1,531 475.9,530 476.8,529.1 477.7,528.4 478.6,527.8 479.5,527.3 480.5,527 481.4,526.8 482.2,526.8 483,526.9 483.7,527.2 496.7,534.2 497.4,534.6 497.9,535.2 498.4,536 498.7,536.8 499,537.7 499.1,538.8 499.1,539.9 498.9,541.1 498.7,542.3 498.3,543.5 497.9,544.7 497.3,545.8 496.6,547 495.9,548 495.1,549 494.2,549.9 493.3,550.6 492.4,551.2 491.5,551.7 490.5,552 489.6,552.2 488.8,552.2 488,552.1 487.3,551.8" fill="#fff" stroke="#1e1e1e" stroke-width="1.8" stroke-linejoin="round"/>
<ellipse cx="492" cy="543" rx="6" ry="10" transform="rotate(28.3 492 543)" fill="none" stroke="#1e1e1e" stroke-width="1.8"/>
<polygon points="497.2,545.9 490.4,552 485.2,549.1 486.8,540.1 493.6,534 498.8,536.9" fill="#fff" stroke="#1e1e1e" stroke-width="1.4" stroke-linejoin="round"/>
<polygon points="536,532.5 535.8,532.3 535.6,532.1 535.5,531.8 535.4,531.5 535.4,531.2 535.4,530.8 535.4,530.3 535.5,529.9 535.6,529.4 535.8,528.9 536,528.5 536.3,528 536.5,527.6 536.8,527.1 537.2,526.8 537.5,526.4 537.8,526.1 538.2,525.8 538.5,525.6 538.9,525.5 539.2,525.4 539.5,525.4 539.7,525.4 540,525.5 554,533.5 554.2,533.7 554.4,533.9 554.5,534.2 554.6,534.5 554.6,534.8 554.6,535.2 554.6,535.7 554.5,536.1 554.4,536.6 554.2,537.1 554,537.5 553.7,538 553.5,538.4 553.2,538.9 552.8,539.2 552.5,539.6 552.2,539.9 551.8,540.2 551.5,540.4 551.1,540.5 550.8,540.6 550.5,540.6 550.3,540.6 550,540.5" fill="#fff" stroke="#1e1e1e" stroke-width="1.6" stroke-linejoin="round"/>
<ellipse cx="552" cy="537" rx="2" ry="4" transform="rotate(29.7 552 537)" fill="none" stroke="#1e1e1e" stroke-width="1.6"/>
<polygon points="523.2,560.4 523.8,563.7 521.7,566.7 519.5,565.7 517.8,567.5 516.4,572.3 514,573.9 513.7,570.2 512.2,570.6 509.2,575.2 507.6,574.6 509.3,569.8 508.5,568.6 505.1,571.1 504.8,568.7 507.9,564.5 508.2,562.2 505.7,561.8 506.8,558.4 510.1,556.4 511.4,553.9 510.7,550.6 512.8,547.6 515,548.6 516.8,546.8 518.2,542 520.5,540.4 520.8,544.1 522.3,543.7 525.3,539.2 526.9,539.7 525.2,544.5 526,545.7 529.4,543.2 529.7,545.6 526.6,549.8 526.3,552.1 528.8,552.5 527.7,555.9 524.4,557.9" fill="#fff" stroke="#1e1e1e" stroke-width="1.9" stroke-linejoin="round"/>
<line x1="523.8" y1="563.7" x2="532.6" y2="568.5" stroke="#1e1e1e" stroke-width="1.5"/>
<line x1="521.7" y1="566.7" x2="530.5" y2="571.6" stroke="#1e1e1e" stroke-width="1.5"/>
<line x1="516.4" y1="572.3" x2="525.1" y2="577.2" stroke="#1e1e1e" stroke-width="1.5"/>
<line x1="514" y1="573.9" x2="522.8" y2="578.7" stroke="#1e1e1e" stroke-width="1.5"/>
<line x1="509.2" y1="575.2" x2="518" y2="580" stroke="#1e1e1e" stroke-width="1.5"/>
<line x1="507.6" y1="574.6" x2="516.3" y2="579.5" stroke="#1e1e1e" stroke-width="1.5"/>
<line x1="505.1" y1="571.1" x2="513.9" y2="576" stroke="#1e1e1e" stroke-width="1.5"/>
<line x1="504.8" y1="568.7" x2="513.5" y2="573.6" stroke="#1e1e1e" stroke-width="1.5"/>
<line x1="505.7" y1="561.8" x2="514.4" y2="566.6" stroke="#1e1e1e" stroke-width="1.5"/>
<line x1="506.8" y1="558.4" x2="515.5" y2="563.3" stroke="#1e1e1e" stroke-width="1.5"/>
<line x1="510.7" y1="550.6" x2="519.4" y2="555.5" stroke="#1e1e1e" stroke-width="1.5"/>
<line x1="512.8" y1="547.6" x2="521.5" y2="552.4" stroke="#1e1e1e" stroke-width="1.5"/>
<line x1="518.2" y1="542" x2="526.9" y2="546.8" stroke="#1e1e1e" stroke-width="1.5"/>
<line x1="520.5" y1="540.4" x2="529.2" y2="545.3" stroke="#1e1e1e" stroke-width="1.5"/>
<line x1="525.3" y1="539.2" x2="534" y2="544" stroke="#1e1e1e" stroke-width="1.5"/>
<line x1="526.9" y1="539.7" x2="535.7" y2="544.5" stroke="#1e1e1e" stroke-width="1.5"/>
<line x1="529.4" y1="543.2" x2="538.1" y2="548" stroke="#1e1e1e" stroke-width="1.5"/>
<line x1="529.7" y1="545.6" x2="538.5" y2="550.4" stroke="#1e1e1e" stroke-width="1.5"/>
<line x1="528.8" y1="552.5" x2="537.6" y2="557.4" stroke="#1e1e1e" stroke-width="1.5"/>
<line x1="527.7" y1="555.9" x2="536.5" y2="560.7" stroke="#1e1e1e" stroke-width="1.5"/>
<polygon points="531.9,565.3 532.6,568.5 530.5,571.6 528.2,570.5 526.5,572.4 525.1,577.2 522.8,578.7 522.5,575.1 520.9,575.5 518,580 516.3,579.5 518,574.6 517.3,573.5 513.9,576 513.5,573.6 516.7,569.3 516.9,567.1 514.4,566.6 515.5,563.3 518.8,561.2 520.1,558.7 519.4,555.5 521.5,552.4 523.8,553.5 525.5,551.6 526.9,546.8 529.2,545.3 529.5,548.9 531.1,548.5 534,544 535.7,544.5 534,549.4 534.7,550.5 538.1,548 538.5,550.4 535.3,554.7 535.1,556.9 537.6,557.4 536.5,560.7 533.2,562.8" fill="#fff" stroke="#1e1e1e" stroke-width="1.9" stroke-linejoin="round"/>
<polygon points="517.1,574.3 516.3,573.8 515.6,573 515.1,572 514.7,570.8 514.5,569.5 514.4,568 514.5,566.4 514.8,564.7 515.2,562.9 515.8,561.1 516.5,559.3 517.3,557.6 518.3,555.9 519.3,554.2 520.5,552.7 521.7,551.4 522.9,550.2 524.1,549.1 525.4,548.3 526.6,547.7 527.8,547.4 528.9,547.2 529.9,547.3 530.9,547.7 565.9,565.7 566.7,566.2 567.4,567 567.9,568 568.3,569.2 568.5,570.5 568.6,572 568.5,573.6 568.2,575.3 567.8,577.1 567.2,578.9 566.5,580.7 565.7,582.4 564.7,584.1 563.7,585.8 562.5,587.3 561.3,588.6 560.1,589.8 558.9,590.9 557.6,591.7 556.4,592.3 555.2,592.6 554.1,592.8 553.1,592.7 552.1,592.3" fill="#fff" stroke="#1e1e1e" stroke-width="1.8" stroke-linejoin="round"/>
<ellipse cx="559" cy="579" rx="7.5" ry="15" transform="rotate(27.2 559 579)" fill="none" stroke="#1e1e1e" stroke-width="1.8"/>
<ellipse cx="559" cy="579" rx="5" ry="10" transform="rotate(29 559 579)" fill="none" stroke="#1e1e1e" stroke-width="1.6"/>
<circle cx="527" cy="566" r="1.3" fill="#222"/>
<polygon points="560.2,599 559.4,598.4 558.7,597.5 558.1,596.4 557.8,595.2 557.6,593.7 557.6,592.1 557.7,590.4 558.1,588.6 558.6,586.8 559.2,584.9 560.1,583 561,581.1 562.1,579.3 563.3,577.6 564.5,576.1 565.8,574.6 567.2,573.4 568.5,572.4 569.9,571.5 571.2,570.9 572.5,570.6 573.7,570.5 574.8,570.6 575.8,571 593.8,581 594.6,581.6 595.3,582.5 595.9,583.6 596.2,584.8 596.4,586.3 596.4,587.9 596.3,589.6 595.9,591.4 595.4,593.2 594.8,595.1 593.9,597 593,598.9 591.9,600.7 590.7,602.4 589.5,603.9 588.2,605.4 586.8,606.6 585.5,607.6 584.1,608.5 582.8,609.1 581.5,609.4 580.3,609.5 579.2,609.4 578.2,609" fill="#fff" stroke="#1e1e1e" stroke-width="2.2" stroke-linejoin="round"/>
<ellipse cx="586" cy="595" rx="8" ry="16" transform="rotate(29.1 586 595)" fill="none" stroke="#1e1e1e" stroke-width="2.2"/>
<line x1="577.3" y1="572.4" x2="595.3" y2="582.4" stroke="#1e1e1e" stroke-width="2.2"/>
<line x1="578.4" y1="576.7" x2="596.4" y2="586.7" stroke="#1e1e1e" stroke-width="2.2"/>
<line x1="577.6" y1="582.6" x2="595.6" y2="592.6" stroke="#1e1e1e" stroke-width="2.2"/>
<line x1="575" y1="588.9" x2="593" y2="598.9" stroke="#1e1e1e" stroke-width="2.2"/>
<line x1="571" y1="594.5" x2="589" y2="604.5" stroke="#1e1e1e" stroke-width="2.2"/>
<line x1="566.5" y1="598.3" x2="584.5" y2="608.3" stroke="#1e1e1e" stroke-width="2.2"/>
<line x1="562.2" y1="599.5" x2="580.2" y2="609.5" stroke="#1e1e1e" stroke-width="2.2"/>
<ellipse cx="586" cy="595" rx="8" ry="16" transform="rotate(29 586 595)" fill="#fff" stroke="#1e1e1e" stroke-width="2.4"/>
<ellipse cx="586" cy="595" rx="5.5" ry="11" transform="rotate(29 586 595)" fill="none" stroke="#1e1e1e" stroke-width="1.6"/>
<line x1="587.8" y1="596.2" x2="590.8" y2="597.7" stroke="#1e1e1e" stroke-width="1.4"/>
<line x1="583.3" y1="601.7" x2="586.3" y2="603.2" stroke="#1e1e1e" stroke-width="1.4"/>
<line x1="578.6" y1="603.4" x2="581.6" y2="604.9" stroke="#1e1e1e" stroke-width="1.4"/>
<line x1="576" y1="600.5" x2="579" y2="602" stroke="#1e1e1e" stroke-width="1.4"/>
<line x1="576.7" y1="594.3" x2="579.7" y2="595.8" stroke="#1e1e1e" stroke-width="1.4"/>
<line x1="580.3" y1="587.7" x2="583.3" y2="589.2" stroke="#1e1e1e" stroke-width="1.4"/>
<line x1="585.2" y1="583.8" x2="588.2" y2="585.3" stroke="#1e1e1e" stroke-width="1.4"/>
<line x1="589.1" y1="584.5" x2="592.1" y2="586" stroke="#1e1e1e" stroke-width="1.4"/>
<line x1="590.1" y1="589.4" x2="593.1" y2="590.9" stroke="#1e1e1e" stroke-width="1.4"/>
<line x1="587.8" y1="596.2" x2="590.8" y2="597.7" stroke="#1e1e1e" stroke-width="1.4"/>
<polygon points="592.2,616 591.4,615.4 590.7,614.5 590.1,613.4 589.8,612.2 589.6,610.7 589.6,609.1 589.7,607.4 590.1,605.6 590.6,603.8 591.2,601.9 592.1,600 593,598.1 594.1,596.3 595.3,594.6 596.5,593.1 597.8,591.6 599.2,590.4 600.5,589.4 601.9,588.5 603.2,587.9 604.5,587.6 605.7,587.5 606.8,587.6 607.8,588 625.8,598 626.6,598.6 627.3,599.5 627.9,600.6 628.2,601.8 628.4,603.3 628.4,604.9 628.3,606.6 627.9,608.4 627.4,610.2 626.8,612.1 625.9,614 625,615.9 623.9,617.7 622.7,619.4 621.5,620.9 620.2,622.4 618.8,623.6 617.5,624.6 616.1,625.5 614.8,626.1 613.5,626.4 612.3,626.5 611.2,626.4 610.2,626" fill="#fff" stroke="#1e1e1e" stroke-width="2.2" stroke-linejoin="round"/>
<ellipse cx="618" cy="612" rx="8" ry="16" transform="rotate(29.1 618 612)" fill="none" stroke="#1e1e1e" stroke-width="2.2"/>
<line x1="609.3" y1="589.4" x2="627.3" y2="599.4" stroke="#1e1e1e" stroke-width="2.2"/>
<line x1="610.4" y1="593.7" x2="628.4" y2="603.7" stroke="#1e1e1e" stroke-width="2.2"/>
<line x1="609.6" y1="599.6" x2="627.6" y2="609.6" stroke="#1e1e1e" stroke-width="2.2"/>
<line x1="607" y1="605.9" x2="625" y2="615.9" stroke="#1e1e1e" stroke-width="2.2"/>
<line x1="603" y1="611.5" x2="621" y2="621.5" stroke="#1e1e1e" stroke-width="2.2"/>
<line x1="598.5" y1="615.3" x2="616.5" y2="625.3" stroke="#1e1e1e" stroke-width="2.2"/>
<line x1="594.2" y1="616.5" x2="612.2" y2="626.5" stroke="#1e1e1e" stroke-width="2.2"/>
<ellipse cx="618" cy="612" rx="8" ry="16" transform="rotate(29 618 612)" fill="#fff" stroke="#1e1e1e" stroke-width="2.4"/>
<ellipse cx="618" cy="612" rx="5.5" ry="11" transform="rotate(29 618 612)" fill="none" stroke="#1e1e1e" stroke-width="1.6"/>
<line x1="619.8" y1="613.2" x2="622.8" y2="614.7" stroke="#1e1e1e" stroke-width="1.4"/>
<line x1="615.3" y1="618.7" x2="618.3" y2="620.2" stroke="#1e1e1e" stroke-width="1.4"/>
<line x1="610.6" y1="620.4" x2="613.6" y2="621.9" stroke="#1e1e1e" stroke-width="1.4"/>
<line x1="608" y1="617.5" x2="611" y2="619" stroke="#1e1e1e" stroke-width="1.4"/>
<line x1="608.7" y1="611.3" x2="611.7" y2="612.8" stroke="#1e1e1e" stroke-width="1.4"/>
<line x1="612.3" y1="604.7" x2="615.3" y2="606.2" stroke="#1e1e1e" stroke-width="1.4"/>
<line x1="617.2" y1="600.8" x2="620.2" y2="602.3" stroke="#1e1e1e" stroke-width="1.4"/>
<line x1="621.1" y1="601.5" x2="624.1" y2="603" stroke="#1e1e1e" stroke-width="1.4"/>
<line x1="622.1" y1="606.4" x2="625.1" y2="607.9" stroke="#1e1e1e" stroke-width="1.4"/>
<line x1="619.8" y1="613.2" x2="622.8" y2="614.7" stroke="#1e1e1e" stroke-width="1.4"/>
<polygon points="675.2,646.2 676.8,648.8 675.7,650.7 672.8,650.2 671.7,651.9 672.8,655.1 671.6,656.9 669,655.7 667.8,657.2 668.4,660.9 667,662.6 664.8,660.7 663.5,662.1 663.7,666.2 662.2,667.6 660.5,665.1 659.1,666.3 658.7,670.7 657.2,671.9 655.9,668.8 654.5,669.7 653.6,674.4 652.1,675.3 651.3,671.7 649.9,672.4 648.5,677.2 647,677.8 646.8,673.8 645.4,674.3 643.6,679 642.1,679.4 642.4,675 641.1,675.2 638.8,679.8 637.4,679.9 638.2,675.3 637.1,675.2 634.4,679.7 633.1,679.4 634.4,674.7 633.4,674.3 630.4,678.5 629.3,677.9 631.1,673.2 630.1,672.5 626.9,676.3 626,675.4 628.2,670.8 627.4,669.9 624,673.2 623.3,672 625.9,667.5 625.3,666.4 621.8,669.2 621.2,667.8 624.2,663.6 623.8,662.3 620.2,664.4 619.9,662.8 623.1,659 623,657.5 619.5,658.9 619.4,657.2 622.8,653.8 622.8,652.2 619.4,652.9 619.6,651 623.1,648.2 623.3,646.4 620.2,646.5 620.6,644.5 624.1,642.3 624.5,640.4 621.7,639.8 622.3,637.7 625.8,636.2 626.4,634.3 623.9,633 624.7,630.9 628,630 628.8,628.2 626.7,626.2 627.7,624.2 630.9,624 631.9,622.2 630.2,619.5 631.3,617.6 634.3,618.1 635.4,616.5 634.2,613.3 635.4,611.5 638,612.7 639.2,611.1 638.6,607.4 640,605.8 642.2,607.7 643.5,606.3 643.3,602.2 644.8,600.8 646.6,603.3 647.9,602.1 648.3,597.7 649.8,596.5 651.1,599.6 652.5,598.6 653.4,594 654.9,593.1 655.7,596.6 657.1,595.9 658.5,591.2 660,590.5 660.2,594.6 661.6,594.1 663.5,589.4 664.9,589 664.6,593.3 665.9,593.2 668.2,588.5 669.6,588.5 668.8,593.1 670,593.1 672.6,588.7 673.9,589 672.6,593.7 673.6,594 676.6,589.9 677.7,590.5 676,595.2 676.9,595.8 680.1,592.1 681.1,592.9 678.8,597.6 679.6,598.5 683,595.2 683.8,596.3 681.1,600.8 681.7,601.9 685.2,599.2 685.8,600.6 682.8,604.8 683.2,606.1 686.8,604 687.1,605.6 683.9,609.4 684.1,610.9 687.5,609.4 687.6,611.2 684.2,614.6 684.2,616.2 687.6,615.5 687.4,617.3 683.9,620.2 683.7,621.9 686.8,621.9 686.5,623.9 682.9,626.1 682.5,627.9 685.3,628.6 684.8,630.6 681.2,632.2 680.6,634 683.1,635.4 682.3,637.4 679,638.3 678.2,640.2 680.3,642.2 679.3,644.2 676.1,644.4" fill="#fff" stroke="#1e1e1e" stroke-width="1.9" stroke-linejoin="round"/>
<line x1="676.8" y1="648.8" x2="687.3" y2="654.6" stroke="#1e1e1e" stroke-width="1.5"/>
<line x1="675.7" y1="650.7" x2="686.2" y2="656.6" stroke="#1e1e1e" stroke-width="1.5"/>
<line x1="672.8" y1="655.1" x2="683.3" y2="660.9" stroke="#1e1e1e" stroke-width="1.5"/>
<line x1="671.6" y1="656.9" x2="682.1" y2="662.7" stroke="#1e1e1e" stroke-width="1.5"/>
<line x1="668.4" y1="660.9" x2="678.9" y2="666.8" stroke="#1e1e1e" stroke-width="1.5"/>
<line x1="667" y1="662.6" x2="677.5" y2="668.4" stroke="#1e1e1e" stroke-width="1.5"/>
<line x1="663.7" y1="666.2" x2="674.2" y2="672" stroke="#1e1e1e" stroke-width="1.5"/>
<line x1="662.2" y1="667.6" x2="672.7" y2="673.4" stroke="#1e1e1e" stroke-width="1.5"/>
<line x1="658.7" y1="670.7" x2="669.2" y2="676.5" stroke="#1e1e1e" stroke-width="1.5"/>
<line x1="657.2" y1="671.9" x2="667.7" y2="677.7" stroke="#1e1e1e" stroke-width="1.5"/>
<line x1="653.6" y1="674.4" x2="664.1" y2="680.2" stroke="#1e1e1e" stroke-width="1.5"/>
<line x1="652.1" y1="675.3" x2="662.6" y2="681.1" stroke="#1e1e1e" stroke-width="1.5"/>
<line x1="648.5" y1="677.2" x2="659" y2="683" stroke="#1e1e1e" stroke-width="1.5"/>
<line x1="647" y1="677.8" x2="657.5" y2="683.6" stroke="#1e1e1e" stroke-width="1.5"/>
<line x1="643.6" y1="679" x2="654.1" y2="684.8" stroke="#1e1e1e" stroke-width="1.5"/>
<line x1="642.1" y1="679.4" x2="652.6" y2="685.2" stroke="#1e1e1e" stroke-width="1.5"/>
<line x1="638.8" y1="679.8" x2="649.3" y2="685.7" stroke="#1e1e1e" stroke-width="1.5"/>
<line x1="637.4" y1="679.9" x2="647.9" y2="685.7" stroke="#1e1e1e" stroke-width="1.5"/>
<line x1="634.4" y1="679.7" x2="644.9" y2="685.5" stroke="#1e1e1e" stroke-width="1.5"/>
<line x1="633.1" y1="679.4" x2="643.6" y2="685.2" stroke="#1e1e1e" stroke-width="1.5"/>
<line x1="630.4" y1="678.5" x2="640.9" y2="684.3" stroke="#1e1e1e" stroke-width="1.5"/>
<line x1="629.3" y1="677.9" x2="639.8" y2="683.7" stroke="#1e1e1e" stroke-width="1.5"/>
<line x1="626.9" y1="676.3" x2="637.4" y2="682.1" stroke="#1e1e1e" stroke-width="1.5"/>
<line x1="626" y1="675.4" x2="636.4" y2="681.3" stroke="#1e1e1e" stroke-width="1.5"/>
<line x1="624" y1="673.2" x2="634.5" y2="679" stroke="#1e1e1e" stroke-width="1.5"/>
<line x1="623.3" y1="672" x2="633.7" y2="677.9" stroke="#1e1e1e" stroke-width="1.5"/>
<line x1="621.8" y1="669.2" x2="632.3" y2="675" stroke="#1e1e1e" stroke-width="1.5"/>
<line x1="621.2" y1="667.8" x2="631.7" y2="673.6" stroke="#1e1e1e" stroke-width="1.5"/>
<line x1="620.2" y1="664.4" x2="630.7" y2="670.2" stroke="#1e1e1e" stroke-width="1.5"/>
<line x1="619.9" y1="662.8" x2="630.4" y2="668.6" stroke="#1e1e1e" stroke-width="1.5"/>
<line x1="619.5" y1="658.9" x2="630" y2="664.7" stroke="#1e1e1e" stroke-width="1.5"/>
<line x1="619.4" y1="657.2" x2="629.9" y2="663" stroke="#1e1e1e" stroke-width="1.5"/>
<line x1="619.4" y1="652.9" x2="629.9" y2="658.7" stroke="#1e1e1e" stroke-width="1.5"/>
<line x1="619.6" y1="651" x2="630.1" y2="656.8" stroke="#1e1e1e" stroke-width="1.5"/>
<line x1="620.2" y1="646.5" x2="630.7" y2="652.3" stroke="#1e1e1e" stroke-width="1.5"/>
<line x1="620.6" y1="644.5" x2="631.1" y2="650.3" stroke="#1e1e1e" stroke-width="1.5"/>
<line x1="621.7" y1="639.8" x2="632.2" y2="645.6" stroke="#1e1e1e" stroke-width="1.5"/>
<line x1="622.3" y1="637.7" x2="632.8" y2="643.6" stroke="#1e1e1e" stroke-width="1.5"/>
<line x1="623.9" y1="633" x2="634.4" y2="638.8" stroke="#1e1e1e" stroke-width="1.5"/>
<line x1="624.7" y1="630.9" x2="635.2" y2="636.7" stroke="#1e1e1e" stroke-width="1.5"/>
<line x1="626.7" y1="626.2" x2="637.2" y2="632" stroke="#1e1e1e" stroke-width="1.5"/>
<line x1="627.7" y1="624.2" x2="638.2" y2="630" stroke="#1e1e1e" stroke-width="1.5"/>
<line x1="630.2" y1="619.5" x2="640.7" y2="625.4" stroke="#1e1e1e" stroke-width="1.5"/>
<line x1="631.3" y1="617.6" x2="641.8" y2="623.4" stroke="#1e1e1e" stroke-width="1.5"/>
<line x1="634.2" y1="613.3" x2="644.7" y2="619.1" stroke="#1e1e1e" stroke-width="1.5"/>
<line x1="635.4" y1="611.5" x2="645.9" y2="617.3" stroke="#1e1e1e" stroke-width="1.5"/>
<line x1="638.6" y1="607.4" x2="649.1" y2="613.2" stroke="#1e1e1e" stroke-width="1.5"/>
<line x1="640" y1="605.8" x2="650.5" y2="611.6" stroke="#1e1e1e" stroke-width="1.5"/>
<line x1="643.3" y1="602.2" x2="653.8" y2="608" stroke="#1e1e1e" stroke-width="1.5"/>
<line x1="644.8" y1="600.8" x2="655.3" y2="606.6" stroke="#1e1e1e" stroke-width="1.5"/>
<line x1="648.3" y1="597.7" x2="658.8" y2="603.5" stroke="#1e1e1e" stroke-width="1.5"/>
<line x1="649.8" y1="596.5" x2="660.3" y2="602.3" stroke="#1e1e1e" stroke-width="1.5"/>
<line x1="653.4" y1="594" x2="663.9" y2="599.8" stroke="#1e1e1e" stroke-width="1.5"/>
<line x1="654.9" y1="593.1" x2="665.4" y2="598.9" stroke="#1e1e1e" stroke-width="1.5"/>
<line x1="658.5" y1="591.2" x2="669" y2="597" stroke="#1e1e1e" stroke-width="1.5"/>
<line x1="660" y1="590.5" x2="670.5" y2="596.4" stroke="#1e1e1e" stroke-width="1.5"/>
<line x1="663.5" y1="589.4" x2="673.9" y2="595.2" stroke="#1e1e1e" stroke-width="1.5"/>
<line x1="664.9" y1="589" x2="675.4" y2="594.8" stroke="#1e1e1e" stroke-width="1.5"/>
<line x1="668.2" y1="588.5" x2="678.7" y2="594.3" stroke="#1e1e1e" stroke-width="1.5"/>
<line x1="669.6" y1="588.5" x2="680.1" y2="594.3" stroke="#1e1e1e" stroke-width="1.5"/>
<line x1="672.6" y1="588.7" x2="683.1" y2="594.5" stroke="#1e1e1e" stroke-width="1.5"/>
<line x1="673.9" y1="589" x2="684.4" y2="594.8" stroke="#1e1e1e" stroke-width="1.5"/>
<line x1="676.6" y1="589.9" x2="687.1" y2="595.7" stroke="#1e1e1e" stroke-width="1.5"/>
<line x1="677.7" y1="590.5" x2="688.2" y2="596.3" stroke="#1e1e1e" stroke-width="1.5"/>
<line x1="680.1" y1="592.1" x2="690.6" y2="597.9" stroke="#1e1e1e" stroke-width="1.5"/>
<line x1="681.1" y1="592.9" x2="691.6" y2="598.7" stroke="#1e1e1e" stroke-width="1.5"/>
<line x1="683" y1="595.2" x2="693.5" y2="601" stroke="#1e1e1e" stroke-width="1.5"/>
<line x1="683.8" y1="596.3" x2="694.3" y2="602.1" stroke="#1e1e1e" stroke-width="1.5"/>
<line x1="685.2" y1="599.2" x2="695.7" y2="605" stroke="#1e1e1e" stroke-width="1.5"/>
<line x1="685.8" y1="600.6" x2="696.3" y2="606.4" stroke="#1e1e1e" stroke-width="1.5"/>
<line x1="686.8" y1="604" x2="697.3" y2="609.8" stroke="#1e1e1e" stroke-width="1.5"/>
<line x1="687.1" y1="605.6" x2="697.6" y2="611.4" stroke="#1e1e1e" stroke-width="1.5"/>
<line x1="687.5" y1="609.4" x2="698" y2="615.3" stroke="#1e1e1e" stroke-width="1.5"/>
<line x1="687.6" y1="611.2" x2="698.1" y2="617" stroke="#1e1e1e" stroke-width="1.5"/>
<line x1="687.6" y1="615.5" x2="698.1" y2="621.3" stroke="#1e1e1e" stroke-width="1.5"/>
<line x1="687.4" y1="617.3" x2="697.9" y2="623.2" stroke="#1e1e1e" stroke-width="1.5"/>
<line x1="686.8" y1="621.9" x2="697.3" y2="627.7" stroke="#1e1e1e" stroke-width="1.5"/>
<line x1="686.5" y1="623.9" x2="696.9" y2="629.7" stroke="#1e1e1e" stroke-width="1.5"/>
<line x1="685.3" y1="628.6" x2="695.8" y2="634.4" stroke="#1e1e1e" stroke-width="1.5"/>
<line x1="684.8" y1="630.6" x2="695.2" y2="636.4" stroke="#1e1e1e" stroke-width="1.5"/>
<line x1="683.1" y1="635.4" x2="693.6" y2="641.2" stroke="#1e1e1e" stroke-width="1.5"/>
<line x1="682.3" y1="637.4" x2="692.8" y2="643.3" stroke="#1e1e1e" stroke-width="1.5"/>
<line x1="680.3" y1="642.2" x2="690.8" y2="648" stroke="#1e1e1e" stroke-width="1.5"/>
<line x1="679.3" y1="644.2" x2="689.8" y2="650" stroke="#1e1e1e" stroke-width="1.5"/>
<polygon points="685.6,652 687.3,654.6 686.2,656.6 683.2,656 682.2,657.7 683.3,660.9 682.1,662.7 679.5,661.5 678.3,663.1 678.9,666.8 677.5,668.4 675.3,666.5 674,667.9 674.2,672 672.7,673.4 670.9,670.9 669.6,672.1 669.2,676.5 667.7,677.7 666.4,674.6 665,675.6 664.1,680.2 662.6,681.1 661.8,677.5 660.4,678.3 659,683 657.5,683.6 657.3,679.6 655.9,680.1 654.1,684.8 652.6,685.2 652.9,680.8 651.6,681 649.3,685.7 647.9,685.7 648.7,681.1 647.5,681 644.9,685.5 643.6,685.2 644.9,680.5 643.9,680.1 640.9,684.3 639.8,683.7 641.5,679 640.6,678.4 637.4,682.1 636.4,681.3 638.7,676.6 637.9,675.7 634.5,679 633.7,677.9 636.4,673.4 635.8,672.3 632.3,675 631.7,673.6 634.7,669.4 634.3,668.1 630.7,670.2 630.4,668.6 633.6,664.8 633.4,663.3 630,664.7 629.9,663 633.3,659.6 633.3,658 629.9,658.7 630.1,656.8 633.6,654 633.8,652.3 630.7,652.3 631.1,650.3 634.6,648.1 635,646.3 632.2,645.6 632.8,643.6 636.3,642 636.9,640.1 634.4,638.8 635.2,636.7 638.5,635.8 639.3,634 637.2,632 638.2,630 641.4,629.8 642.4,628 640.7,625.4 641.8,623.4 644.8,624 645.8,622.3 644.7,619.1 645.9,617.3 648.5,618.5 649.7,616.9 649.1,613.2 650.5,611.6 652.7,613.5 654,612.1 653.8,608 655.3,606.6 657.1,609.1 658.4,607.9 658.8,603.5 660.3,602.3 661.6,605.4 663,604.4 663.9,599.8 665.4,598.9 666.2,602.5 667.6,601.7 669,597 670.5,596.4 670.7,600.4 672.1,599.9 673.9,595.2 675.4,594.8 675.1,599.2 676.4,599 678.7,594.3 680.1,594.3 679.3,598.9 680.5,599 683.1,594.5 684.4,594.8 683.1,599.5 684.1,599.9 687.1,595.7 688.2,596.3 686.5,601 687.4,601.6 690.6,597.9 691.6,598.7 689.3,603.4 690.1,604.3 693.5,601 694.3,602.1 691.6,606.6 692.2,607.7 695.7,605 696.3,606.4 693.3,610.6 693.7,611.9 697.3,609.8 697.6,611.4 694.4,615.2 694.6,616.7 698,615.3 698.1,617 694.7,620.4 694.7,622 698.1,621.3 697.9,623.2 694.4,626 694.2,627.7 697.3,627.7 696.9,629.7 693.4,631.9 693,633.7 695.8,634.4 695.2,636.4 691.7,638 691.1,639.9 693.6,641.2 692.8,643.3 689.5,644.2 688.7,646 690.8,648 689.8,650 686.6,650.2" fill="#fff" stroke="#1e1e1e" stroke-width="1.9" stroke-linejoin="round"/>
<ellipse cx="664" cy="640" rx="20.9" ry="38" transform="rotate(29 664 640)" fill="none" stroke="#1e1e1e" stroke-width="1.9"/>
<ellipse cx="664" cy="640" rx="12.1" ry="22" transform="rotate(29 664 640)" fill="none" stroke="#1e1e1e" stroke-width="1.9"/>
<ellipse cx="664" cy="640" rx="9.4" ry="17" transform="rotate(29 664 640)" fill="none" stroke="#1e1e1e" stroke-width="1.9"/>
<ellipse cx="665" cy="641" rx="20" ry="36" transform="rotate(29 665 641)" fill="none" stroke="#1e1e1e" stroke-width="1.3"/>
<ellipse cx="666" cy="641" rx="17" ry="30" transform="rotate(29 666 641)" fill="none" stroke="#1e1e1e" stroke-width="2.6"/>
<ellipse cx="667" cy="642" rx="12" ry="22" transform="rotate(29 667 642)" fill="none" stroke="#1e1e1e" stroke-width="2.4"/>
<ellipse cx="667" cy="642" rx="8" ry="14" transform="rotate(29 667 642)" fill="none" stroke="#1e1e1e" stroke-width="2.5"/>
<polygon points="680.3,671.4 679.3,670.6 678.5,669.5 677.9,668.3 677.5,666.7 677.4,665 677.4,663.1 677.6,661.1 678.1,659 678.7,656.8 679.6,654.6 680.6,652.3 681.8,650.2 683.2,648.1 684.6,646.1 686.1,644.3 687.7,642.6 689.4,641.2 691.1,640 692.7,639.1 694.3,638.4 695.8,638 697.2,637.9 698.5,638.2 699.7,638.6 721.7,651.6 722.7,652.4 723.5,653.5 724.1,654.7 724.5,656.3 724.6,658 724.6,659.9 724.4,661.9 723.9,664 723.3,666.2 722.4,668.4 721.4,670.7 720.2,672.8 718.8,674.9 717.4,676.9 715.9,678.7 714.3,680.4 712.6,681.8 710.9,683 709.3,683.9 707.7,684.6 706.2,685 704.8,685.1 703.5,684.8 702.3,684.4" fill="#fff" stroke="#1e1e1e" stroke-width="1.8" stroke-linejoin="round"/>
<ellipse cx="712" cy="668" rx="9.5" ry="19" transform="rotate(30.6 712 668)" fill="none" stroke="#1e1e1e" stroke-width="1.8"/>
<ellipse cx="712" cy="668" rx="6" ry="13" transform="rotate(29 712 668)" fill="none" stroke="#1e1e1e" stroke-width="1.6"/>
<polygon points="713.7,686.8 712.8,686.1 712,685.2 711.5,684.1 711.1,682.7 710.9,681.2 710.9,679.5 711,677.7 711.4,675.8 712,673.8 712.7,671.8 713.6,669.8 714.6,667.8 715.7,665.9 717,664.1 718.3,662.5 719.8,661 721.2,659.7 722.7,658.6 724.1,657.7 725.5,657.1 726.9,656.7 728.1,656.6 729.3,656.8 730.3,657.2 746.3,666.2 747.2,666.9 748,667.8 748.5,668.9 748.9,670.3 749.1,671.8 749.1,673.5 749,675.3 748.6,677.2 748,679.2 747.3,681.2 746.4,683.2 745.4,685.2 744.3,687.1 743,688.9 741.7,690.5 740.2,692 738.8,693.3 737.3,694.4 735.9,695.3 734.5,695.9 733.1,696.3 731.9,696.4 730.7,696.2 729.7,695.8" fill="#fff" stroke="#1e1e1e" stroke-width="1.8" stroke-linejoin="round"/>
<ellipse cx="738" cy="681" rx="8.5" ry="17" transform="rotate(29.4 738 681)" fill="none" stroke="#1e1e1e" stroke-width="1.8"/>
<ellipse cx="738" cy="681" rx="5" ry="10" transform="rotate(29 738 681)" fill="none" stroke="#1e1e1e" stroke-width="3.2"/>
<polygon points="733.8,689 733.3,688.6 732.9,688.2 732.6,687.6 732.4,686.9 732.3,686.1 732.2,685.2 732.3,684.2 732.5,683.2 732.7,682.1 733.1,681 733.5,680 734,678.9 734.6,677.9 735.2,676.9 735.9,676 736.6,675.2 737.4,674.5 738.1,673.9 738.9,673.4 739.6,673.1 740.3,672.8 741,672.8 741.6,672.8 742.2,673 784.2,695 784.7,695.4 785.1,695.8 785.4,696.4 785.6,697.1 785.7,697.9 785.8,698.8 785.7,699.8 785.5,700.8 785.3,701.9 784.9,703 784.5,704 784,705.1 783.4,706.1 782.8,707.1 782.1,708 781.4,708.8 780.6,709.5 779.9,710.1 779.1,710.6 778.4,710.9 777.7,711.2 777,711.2 776.4,711.2 775.8,711" fill="#fff" stroke="#1e1e1e" stroke-width="1.8" stroke-linejoin="round"/>
<ellipse cx="780" cy="703" rx="4.5" ry="9" transform="rotate(27.6 780 703)" fill="none" stroke="#1e1e1e" stroke-width="1.8"/>
<polygon points="767.3,714.6 766.4,713.9 765.7,712.9 765.1,711.8 764.8,710.4 764.6,708.9 764.7,707.2 764.9,705.4 765.3,703.5 765.9,701.5 766.7,699.5 767.6,697.6 768.7,695.6 769.9,693.8 771.2,692 772.6,690.4 774.1,688.9 775.5,687.7 777,686.6 778.5,685.8 779.9,685.2 781.3,684.9 782.6,684.8 783.7,685 784.7,685.4 794.7,691.4 795.6,692.1 796.3,693.1 796.9,694.2 797.2,695.6 797.4,697.1 797.3,698.8 797.1,700.6 796.7,702.5 796.1,704.5 795.3,706.5 794.4,708.4 793.3,710.4 792.1,712.2 790.8,714 789.4,715.6 787.9,717.1 786.5,718.3 785,719.4 783.5,720.2 782.1,720.8 780.7,721.1 779.4,721.2 778.3,721 777.3,720.6" fill="#fff" stroke="#1e1e1e" stroke-width="1.8" stroke-linejoin="round"/>
<ellipse cx="786" cy="706" rx="8.5" ry="17" transform="rotate(31 786 706)" fill="none" stroke="#1e1e1e" stroke-width="1.8"/>
<polygon points="779.4,718.4 778.7,717.8 778.1,717.1 777.6,716.2 777.2,715.1 777,713.8 777,712.4 777.1,710.9 777.4,709.3 777.8,707.7 778.3,706 779,704.4 779.8,702.7 780.7,701.1 781.7,699.6 782.8,698.2 783.9,697 785.1,695.9 786.3,694.9 787.4,694.2 788.6,693.7 789.7,693.3 790.7,693.2 791.7,693.3 792.6,693.6 824.6,710.6 825.3,711.2 825.9,711.9 826.4,712.8 826.8,713.9 827,715.2 827,716.6 826.9,718.1 826.6,719.7 826.2,721.3 825.7,723 825,724.6 824.2,726.3 823.3,727.9 822.3,729.4 821.2,730.8 820.1,732 818.9,733.1 817.7,734.1 816.6,734.8 815.4,735.3 814.3,735.7 813.3,735.8 812.3,735.7 811.4,735.4" fill="#fff" stroke="#1e1e1e" stroke-width="1.8" stroke-linejoin="round"/>
<ellipse cx="818" cy="723" rx="7" ry="14" transform="rotate(28 818 723)" fill="none" stroke="#1e1e1e" stroke-width="1.8"/>
<ellipse cx="818" cy="723" rx="3.5" ry="7" transform="rotate(29 818 723)" fill="none" stroke="#1e1e1e" stroke-width="1.8"/>
<line x1="294" y1="611" x2="294" y2="637" stroke="#1e1e1e" stroke-width="3.5"/>
<polygon points="312.6,647.6 312,647.1 311.4,646.5 311,645.7 310.7,644.8 310.5,643.8 310.5,642.7 310.5,641.5 310.7,640.2 311.1,638.9 311.5,637.6 312.1,636.3 312.7,635 313.5,633.8 314.3,632.7 315.2,631.6 316.1,630.6 317.1,629.8 318.1,629.1 319.1,628.6 320,628.2 321,628 321.8,628 322.7,628.1 323.4,628.4 339.4,637.4 340,637.9 340.6,638.5 341,639.3 341.3,640.2 341.5,641.2 341.5,642.3 341.5,643.5 341.3,644.8 340.9,646.1 340.5,647.4 339.9,648.7 339.3,650 338.5,651.2 337.7,652.3 336.8,653.4 335.9,654.4 334.9,655.2 333.9,655.9 332.9,656.4 332,656.8 331,657 330.2,657 329.3,656.9 328.6,656.6" fill="#fff" stroke="#1e1e1e" stroke-width="2" stroke-linejoin="round"/>
<ellipse cx="334" cy="647" rx="6.1" ry="11" transform="rotate(29.4 334 647)" fill="none" stroke="#1e1e1e" stroke-width="2"/>
<ellipse cx="334" cy="647" rx="6" ry="11" transform="rotate(29 334 647)" fill="none" stroke="#1e1e1e" stroke-width="2.2"/>
<ellipse cx="334" cy="647" rx="3.5" ry="6" transform="rotate(29 334 647)" fill="none" stroke="#1e1e1e" stroke-width="2"/>
<line x1="320" y1="633" x2="330" y2="639" stroke="#1e1e1e" stroke-width="2"/>
<line x1="318" y1="643" x2="324" y2="646" stroke="#1e1e1e" stroke-width="2"/>
<polygon points="341.5,668.4 340.7,667.8 340,667.1 339.4,666.1 339,665 338.7,663.7 338.6,662.2 338.6,660.7 338.8,659.1 339.2,657.4 339.7,655.8 340.4,654.1 341.2,652.4 342.1,650.8 343.1,649.3 344.2,648 345.3,646.7 346.5,645.6 347.8,644.7 349,644 350.2,643.5 351.4,643.2 352.5,643.1 353.6,643.2 354.5,643.6 375.5,654.6 376.3,655.2 377,655.9 377.6,656.9 378,658 378.3,659.3 378.4,660.8 378.4,662.3 378.2,663.9 377.8,665.6 377.3,667.2 376.6,668.9 375.8,670.6 374.9,672.2 373.9,673.7 372.8,675 371.7,676.3 370.5,677.4 369.2,678.3 368,679 366.8,679.5 365.6,679.8 364.5,679.9 363.4,679.8 362.5,679.4" fill="#fff" stroke="#1e1e1e" stroke-width="2" stroke-linejoin="round"/>
<ellipse cx="369" cy="667" rx="7.7" ry="14" transform="rotate(27.6 369 667)" fill="none" stroke="#1e1e1e" stroke-width="2"/>
<circle cx="352" cy="662" r="1.5" fill="#222"/>
<ellipse cx="384" cy="671" rx="6" ry="13.5" transform="rotate(29 384 671)" fill="none" stroke="#1e1e1e" stroke-width="3.4"/>
<ellipse cx="386" cy="672" rx="5" ry="11" transform="rotate(29 386 672)" fill="none" stroke="#1e1e1e" stroke-width="1.2"/>
<ellipse cx="389.8" cy="674.4" rx="6" ry="13.5" transform="rotate(29 389.8 674.4)" fill="none" stroke="#1e1e1e" stroke-width="3.4"/>
<ellipse cx="391.8" cy="675.4" rx="5" ry="11" transform="rotate(29 391.8 675.4)" fill="none" stroke="#1e1e1e" stroke-width="1.2"/>
<ellipse cx="395.5" cy="677.8" rx="6" ry="13.5" transform="rotate(29 395.5 677.8)" fill="none" stroke="#1e1e1e" stroke-width="3.4"/>
<ellipse cx="397.5" cy="678.8" rx="5" ry="11" transform="rotate(29 397.5 678.8)" fill="none" stroke="#1e1e1e" stroke-width="1.2"/>
<ellipse cx="401.2" cy="681.1" rx="6" ry="13.5" transform="rotate(29 401.2 681.1)" fill="none" stroke="#1e1e1e" stroke-width="3.4"/>
<ellipse cx="403.2" cy="682.1" rx="5" ry="11" transform="rotate(29 403.2 682.1)" fill="none" stroke="#1e1e1e" stroke-width="1.2"/>
<ellipse cx="407" cy="684.5" rx="6" ry="13.5" transform="rotate(29 407 684.5)" fill="none" stroke="#1e1e1e" stroke-width="3.4"/>
<ellipse cx="409" cy="685.5" rx="5" ry="11" transform="rotate(29 409 685.5)" fill="none" stroke="#1e1e1e" stroke-width="1.2"/>
<ellipse cx="412.8" cy="687.9" rx="6" ry="13.5" transform="rotate(29 412.8 687.9)" fill="none" stroke="#1e1e1e" stroke-width="3.4"/>
<ellipse cx="414.8" cy="688.9" rx="5" ry="11" transform="rotate(29 414.8 688.9)" fill="none" stroke="#1e1e1e" stroke-width="1.2"/>
<ellipse cx="418.5" cy="691.2" rx="6" ry="13.5" transform="rotate(29 418.5 691.2)" fill="none" stroke="#1e1e1e" stroke-width="3.4"/>
<ellipse cx="420.5" cy="692.2" rx="5" ry="11" transform="rotate(29 420.5 692.2)" fill="none" stroke="#1e1e1e" stroke-width="1.2"/>
<ellipse cx="424.2" cy="694.6" rx="6" ry="13.5" transform="rotate(29 424.2 694.6)" fill="none" stroke="#1e1e1e" stroke-width="3.4"/>
<ellipse cx="426.2" cy="695.6" rx="5" ry="11" transform="rotate(29 426.2 695.6)" fill="none" stroke="#1e1e1e" stroke-width="1.2"/>
<ellipse cx="430" cy="698" rx="6" ry="13.5" transform="rotate(29 430 698)" fill="none" stroke="#1e1e1e" stroke-width="3.4"/>
<ellipse cx="432" cy="699" rx="5" ry="11" transform="rotate(29 432 699)" fill="none" stroke="#1e1e1e" stroke-width="1.2"/>
<polygon points="435.4,717.7 434.4,717 433.5,716.1 432.8,715 432.3,713.7 431.9,712.2 431.7,710.7 431.7,709 431.9,707.2 432.3,705.4 432.9,703.6 433.6,701.8 434.5,700.1 435.5,698.4 436.7,696.8 437.9,695.4 439.2,694.1 440.6,693 442,692.1 443.4,691.4 444.9,691 446.2,690.7 447.5,690.7 448.8,691 449.9,691.5 454.3,693.9 455.3,694.6 456.1,695.5 456.8,696.6 457.4,697.9 457.7,699.3 457.9,700.9 457.9,702.6 457.7,704.3 457.3,706.1 456.7,708 456,709.8 455.1,711.5 454.1,713.2 453,714.8 451.7,716.2 450.4,717.5 449,718.6 447.6,719.5 446.2,720.2 444.8,720.6 443.4,720.8 442.1,720.8 440.9,720.6 439.7,720.1" fill="#fff" stroke="#1e1e1e" stroke-width="1.8" stroke-linejoin="round"/>
<ellipse cx="447" cy="707" rx="9.3" ry="15" transform="rotate(29 447 707)" fill="none" stroke="#1e1e1e" stroke-width="1.8"/>
<ellipse cx="447" cy="707" rx="4.2" ry="6.8" transform="rotate(29 447 707)" fill="none" stroke="#1e1e1e" stroke-width="1.8"/>
<polygon points="490.7,736 492.4,739.1 490.9,741.4 487.8,740.6 486.4,742.4 486.9,746.5 485.1,748.4 482.8,746.1 481.1,747.4 480.5,752.1 478.5,753.4 477.2,749.9 475.5,750.7 473.8,755.5 471.8,756 471.7,751.7 470.2,751.7 467.5,756.3 465.7,756 466.8,751.2 465.5,750.6 462.1,754.3 460.8,753.2 462.9,748.5 462,747.2 458.3,749.9 457.5,748.1 460.5,743.8 460.1,742.1 456.4,743.4 456.2,741.1 459.8,737.7 459.9,735.7 456.5,735.4 457,732.8 460.8,730.7 461.4,728.5 458.8,726.8 459.8,724.2 463.4,723.5 464.5,721.4 462.8,718.3 464.4,716 467.5,716.8 468.9,715 468.3,710.9 470.2,709 472.5,711.3 474.1,710 474.8,705.2 476.8,704 478,707.5 479.7,706.7 481.5,701.9 483.4,701.4 483.5,705.7 485.1,705.7 487.8,701.1 489.5,701.4 488.5,706.2 489.8,706.8 493.1,703.1 494.5,704.1 492.3,708.9 493.2,710.1 496.9,707.5 497.7,709.3 494.7,713.6 495.1,715.3 498.9,714 499,716.3 495.5,719.7 495.4,721.7 498.7,722 498.3,724.6 494.5,726.7 493.9,728.9 496.5,730.6 495.5,733.2 491.8,733.9" fill="#fff" stroke="#1e1e1e" stroke-width="2.1" stroke-linejoin="round"/>
<line x1="492.4" y1="739.1" x2="503.8" y2="745.4" stroke="#1e1e1e" stroke-width="1.7"/>
<line x1="490.9" y1="741.4" x2="502.3" y2="747.7" stroke="#1e1e1e" stroke-width="1.7"/>
<line x1="486.9" y1="746.5" x2="498.3" y2="752.8" stroke="#1e1e1e" stroke-width="1.7"/>
<line x1="485.1" y1="748.4" x2="496.4" y2="754.7" stroke="#1e1e1e" stroke-width="1.7"/>
<line x1="480.5" y1="752.1" x2="491.9" y2="758.4" stroke="#1e1e1e" stroke-width="1.7"/>
<line x1="478.5" y1="753.4" x2="489.8" y2="759.7" stroke="#1e1e1e" stroke-width="1.7"/>
<line x1="473.8" y1="755.5" x2="485.2" y2="761.8" stroke="#1e1e1e" stroke-width="1.7"/>
<line x1="471.8" y1="756" x2="483.2" y2="762.3" stroke="#1e1e1e" stroke-width="1.7"/>
<line x1="467.5" y1="756.3" x2="478.8" y2="762.6" stroke="#1e1e1e" stroke-width="1.7"/>
<line x1="465.7" y1="756" x2="477.1" y2="762.3" stroke="#1e1e1e" stroke-width="1.7"/>
<line x1="462.1" y1="754.3" x2="473.5" y2="760.6" stroke="#1e1e1e" stroke-width="1.7"/>
<line x1="460.8" y1="753.2" x2="472.2" y2="759.6" stroke="#1e1e1e" stroke-width="1.7"/>
<line x1="458.3" y1="749.9" x2="469.7" y2="756.2" stroke="#1e1e1e" stroke-width="1.7"/>
<line x1="457.5" y1="748.1" x2="468.9" y2="754.4" stroke="#1e1e1e" stroke-width="1.7"/>
<line x1="456.4" y1="743.4" x2="467.8" y2="749.7" stroke="#1e1e1e" stroke-width="1.7"/>
<line x1="456.2" y1="741.1" x2="467.6" y2="747.4" stroke="#1e1e1e" stroke-width="1.7"/>
<line x1="456.5" y1="735.4" x2="467.9" y2="741.7" stroke="#1e1e1e" stroke-width="1.7"/>
<line x1="457" y1="732.8" x2="468.4" y2="739.1" stroke="#1e1e1e" stroke-width="1.7"/>
<line x1="458.8" y1="726.8" x2="470.1" y2="733.1" stroke="#1e1e1e" stroke-width="1.7"/>
<line x1="459.8" y1="724.2" x2="471.2" y2="730.5" stroke="#1e1e1e" stroke-width="1.7"/>
<line x1="462.8" y1="718.3" x2="474.2" y2="724.6" stroke="#1e1e1e" stroke-width="1.7"/>
<line x1="464.4" y1="716" x2="475.7" y2="722.3" stroke="#1e1e1e" stroke-width="1.7"/>
<line x1="468.3" y1="710.9" x2="479.7" y2="717.2" stroke="#1e1e1e" stroke-width="1.7"/>
<line x1="470.2" y1="709" x2="481.6" y2="715.3" stroke="#1e1e1e" stroke-width="1.7"/>
<line x1="474.8" y1="705.2" x2="486.1" y2="711.6" stroke="#1e1e1e" stroke-width="1.7"/>
<line x1="476.8" y1="704" x2="488.2" y2="710.3" stroke="#1e1e1e" stroke-width="1.7"/>
<line x1="481.5" y1="701.9" x2="492.8" y2="708.2" stroke="#1e1e1e" stroke-width="1.7"/>
<line x1="483.4" y1="701.4" x2="494.8" y2="707.7" stroke="#1e1e1e" stroke-width="1.7"/>
<line x1="487.8" y1="701.1" x2="499.2" y2="707.4" stroke="#1e1e1e" stroke-width="1.7"/>
<line x1="489.5" y1="701.4" x2="500.9" y2="707.7" stroke="#1e1e1e" stroke-width="1.7"/>
<line x1="493.1" y1="703.1" x2="504.5" y2="709.4" stroke="#1e1e1e" stroke-width="1.7"/>
<line x1="494.5" y1="704.1" x2="505.8" y2="710.4" stroke="#1e1e1e" stroke-width="1.7"/>
<line x1="496.9" y1="707.5" x2="508.3" y2="713.8" stroke="#1e1e1e" stroke-width="1.7"/>
<line x1="497.7" y1="709.3" x2="509.1" y2="715.6" stroke="#1e1e1e" stroke-width="1.7"/>
<line x1="498.9" y1="714" x2="510.2" y2="720.3" stroke="#1e1e1e" stroke-width="1.7"/>
<line x1="499" y1="716.3" x2="510.4" y2="722.6" stroke="#1e1e1e" stroke-width="1.7"/>
<line x1="498.7" y1="722" x2="510.1" y2="728.3" stroke="#1e1e1e" stroke-width="1.7"/>
<line x1="498.3" y1="724.6" x2="509.6" y2="730.9" stroke="#1e1e1e" stroke-width="1.7"/>
<line x1="496.5" y1="730.6" x2="507.9" y2="736.9" stroke="#1e1e1e" stroke-width="1.7"/>
<line x1="495.5" y1="733.2" x2="506.8" y2="739.5" stroke="#1e1e1e" stroke-width="1.7"/>
<polygon points="502.1,742.3 503.8,745.4 502.3,747.7 499.2,746.9 497.7,748.7 498.3,752.8 496.4,754.7 494.1,752.4 492.5,753.7 491.9,758.4 489.8,759.7 488.6,756.2 486.9,757 485.2,761.8 483.2,762.3 483.1,758 481.5,758 478.8,762.6 477.1,762.3 478.2,757.5 476.9,756.9 473.5,760.6 472.2,759.6 474.3,754.8 473.4,753.5 469.7,756.2 468.9,754.4 471.9,750.1 471.5,748.4 467.8,749.7 467.6,747.4 471.1,744 471.3,742 467.9,741.7 468.4,739.1 472.1,737 472.8,734.8 470.1,733.1 471.2,730.5 474.8,729.8 475.9,727.7 474.2,724.6 475.7,722.3 478.8,723.1 480.3,721.3 479.7,717.2 481.6,715.3 483.9,717.6 485.5,716.3 486.1,711.6 488.2,710.3 489.4,713.8 491.1,713 492.8,708.2 494.8,707.7 494.9,712 496.5,712 499.2,707.4 500.9,707.7 499.8,712.5 501.1,713.1 504.5,709.4 505.8,710.4 503.7,715.2 504.6,716.5 508.3,713.8 509.1,715.6 506.1,719.9 506.5,721.6 510.2,720.3 510.4,722.6 506.9,726 506.7,728 510.1,728.3 509.6,730.9 505.9,733 505.2,735.2 507.9,736.9 506.8,739.5 503.2,740.2" fill="#fff" stroke="#1e1e1e" stroke-width="2.1" stroke-linejoin="round"/>
<ellipse cx="489" cy="735" rx="9" ry="15" transform="rotate(29 489 735)" fill="none" stroke="#1e1e1e" stroke-width="2.1"/>
<ellipse cx="490" cy="735" rx="10" ry="17" transform="rotate(29 490 735)" fill="none" stroke="#1e1e1e" stroke-width="2.6"/>
<polygon points="513.3,757.5 512.5,757 511.9,756.4 511.5,755.5 511.1,754.5 510.9,753.4 510.8,752.2 510.9,750.9 511.1,749.5 511.4,748.1 511.9,746.7 512.5,745.2 513.2,743.8 514,742.5 514.9,741.2 515.8,740 516.9,739 517.9,738.1 519,737.3 520,736.7 521.1,736.3 522.1,736.1 523.1,736 523.9,736.1 524.7,736.5 535.7,742.5 536.5,743 537.1,743.6 537.5,744.5 537.9,745.5 538.1,746.6 538.2,747.8 538.1,749.1 537.9,750.5 537.6,751.9 537.1,753.3 536.5,754.8 535.8,756.2 535,757.5 534.1,758.8 533.2,760 532.1,761 531.1,761.9 530,762.7 529,763.3 527.9,763.7 526.9,763.9 525.9,764 525.1,763.9 524.3,763.5" fill="#fff" stroke="#1e1e1e" stroke-width="1.8" stroke-linejoin="round"/>
<ellipse cx="530" cy="753" rx="6.6" ry="12" transform="rotate(28.6 530 753)" fill="none" stroke="#1e1e1e" stroke-width="1.8"/>
<polygon points="522.8,779.3 521.5,778.4 520.5,777.1 519.6,775.6 519,773.8 518.6,771.8 518.5,769.5 518.6,767.1 519,764.6 519.6,762 520.5,759.4 521.6,756.8 522.9,754.2 524.4,751.7 526,749.4 527.8,747.3 529.7,745.4 531.6,743.7 533.6,742.3 535.5,741.2 537.4,740.5 539.3,740 541.1,740 542.7,740.2 544.2,740.8 547.7,742.8 549,743.7 550,744.9 550.9,746.5 551.5,748.3 551.9,750.3 552,752.5 551.9,754.9 551.5,757.5 550.9,760.1 550,762.7 548.9,765.3 547.6,767.9 546.1,770.3 544.5,772.6 542.7,774.8 540.8,776.7 538.9,778.4 536.9,779.8 535,780.8 533.1,781.6 531.2,782 529.4,782.1 527.8,781.8 526.3,781.2" fill="#fff" stroke="#1e1e1e" stroke-width="1.8" stroke-linejoin="round"/>
<ellipse cx="537" cy="762" rx="12.1" ry="22" transform="rotate(29 537 762)" fill="none" stroke="#1e1e1e" stroke-width="1.8"/>
<ellipse cx="537" cy="762" rx="4.6" ry="8.4" transform="rotate(29 537 762)" fill="none" stroke="#1e1e1e" stroke-width="1.8"/>
<polygon points="570.9,783 570.4,782.7 570,782.2 569.7,781.6 569.5,780.9 569.3,780.1 569.3,779.2 569.3,778.3 569.5,777.2 569.7,776.2 570.1,775.1 570.5,774 571,773 571.6,771.9 572.2,771 572.9,770 573.6,769.2 574.3,768.5 575,767.9 575.8,767.4 576.5,767 577.2,766.8 577.9,766.7 578.5,766.8 579.1,767 644.1,800 644.6,800.3 645,800.8 645.3,801.4 645.5,802.1 645.7,802.9 645.7,803.8 645.7,804.7 645.5,805.8 645.3,806.8 644.9,807.9 644.5,809 644,810 643.4,811.1 642.8,812 642.1,813 641.4,813.8 640.7,814.5 640,815.1 639.2,815.6 638.5,816 637.8,816.2 637.1,816.3 636.5,816.2 635.9,816" fill="#fff" stroke="#1e1e1e" stroke-width="1.8" stroke-linejoin="round"/>
<ellipse cx="640" cy="808" rx="4.5" ry="9" transform="rotate(26.9 640 808)" fill="none" stroke="#1e1e1e" stroke-width="1.8"/>
<polygon points="631.3,820.4 630.5,819.9 629.8,819.1 629.2,818.1 628.8,816.9 628.6,815.6 628.5,814.1 628.6,812.5 628.8,810.8 629.2,809 629.8,807.2 630.5,805.4 631.3,803.6 632.2,801.9 633.3,800.3 634.4,798.8 635.5,797.4 636.8,796.2 638,795.1 639.2,794.3 640.5,793.7 641.6,793.3 642.7,793.2 643.8,793.3 644.7,793.6 654.7,798.6 655.5,799.1 656.2,799.9 656.8,800.9 657.2,802.1 657.4,803.4 657.5,804.9 657.4,806.5 657.2,808.2 656.8,810 656.2,811.8 655.5,813.6 654.7,815.4 653.8,817.1 652.7,818.7 651.6,820.2 650.5,821.6 649.2,822.8 648,823.9 646.8,824.7 645.5,825.3 644.4,825.7 643.3,825.8 642.2,825.7 641.3,825.4" fill="#fff" stroke="#1e1e1e" stroke-width="2.2" stroke-linejoin="round"/>
<ellipse cx="648" cy="812" rx="7.5" ry="15" transform="rotate(26.6 648 812)" fill="none" stroke="#1e1e1e" stroke-width="2.2"/>
<polygon points="642.9,821.7 642.3,821.3 641.8,820.7 641.4,820 641.1,819.1 641,818.1 640.9,817.1 641,815.9 641.2,814.6 641.5,813.3 642,812 642.5,810.7 643.1,809.4 643.9,808.2 644.6,807 645.5,805.9 646.4,804.9 647.3,804 648.2,803.3 649.1,802.7 650,802.3 650.9,802 651.7,801.9 652.5,802 653.1,802.3 670.1,811.3 670.7,811.7 671.2,812.3 671.6,813 671.9,813.9 672,814.9 672.1,815.9 672,817.1 671.8,818.4 671.5,819.7 671,821 670.5,822.3 669.9,823.6 669.1,824.8 668.4,826 667.5,827.1 666.6,828.1 665.7,829 664.8,829.7 663.9,830.3 663,830.7 662.1,831 661.3,831.1 660.5,831 659.9,830.7" fill="#fff" stroke="#1e1e1e" stroke-width="1.8" stroke-linejoin="round"/>
<ellipse cx="665" cy="821" rx="5.5" ry="11" transform="rotate(27.9 665 821)" fill="none" stroke="#1e1e1e" stroke-width="1.8"/>
<ellipse cx="665" cy="821" rx="3.5" ry="6" transform="rotate(29 665 821)" fill="none" stroke="#1e1e1e" stroke-width="1.6"/>
<ellipse cx="353" cy="743" rx="6.3" ry="10.5" transform="rotate(26 353 743)" fill="#fff" stroke="#1e1e1e" stroke-width="2.4"/>
<ellipse cx="353" cy="743" rx="2.5" ry="4.2" transform="rotate(26 353 743)" fill="none" stroke="#1e1e1e" stroke-width="2.4"/>
<ellipse cx="376" cy="756" rx="4.5" ry="7" transform="rotate(26 376 756)" fill="none" stroke="#1e1e1e" stroke-width="4.2"/>
<polygon points="395.8,775.1 395.5,774.9 395.2,774.6 394.9,774.2 394.7,773.8 394.6,773.3 394.5,772.7 394.5,772.1 394.5,771.5 394.6,770.8 394.8,770.2 395,769.5 395.2,768.8 395.5,768.2 395.9,767.5 396.3,767 396.7,766.4 397.1,766 397.6,765.6 398,765.3 398.5,765 398.9,764.9 399.4,764.8 399.8,764.8 400.2,764.9 431.9,778.4 432.2,778.6 432.5,778.9 432.8,779.3 433,779.7 433.1,780.2 433.2,780.7 433.2,781.3 433.2,782 433.1,782.6 433,783.3 432.8,784 432.5,784.7 432.2,785.3 431.8,785.9 431.5,786.5 431.1,787 430.6,787.5 430.2,787.9 429.7,788.2 429.2,788.5 428.8,788.6 428.4,788.7 427.9,788.7 427.6,788.5" fill="#fff" stroke="#1e1e1e" stroke-width="1.9" stroke-linejoin="round"/>
<ellipse cx="429.7" cy="783.5" rx="3" ry="5.5" transform="rotate(23 429.7 783.5)" fill="none" stroke="#1e1e1e" stroke-width="1.9"/>
<polygon points="426,792.2 425.4,791.9 424.9,791.4 424.4,790.8 424.1,790 423.8,789.2 423.7,788.2 423.6,787.2 423.7,786.1 423.9,784.9 424.1,783.8 424.5,782.6 424.9,781.4 425.4,780.3 426,779.2 426.7,778.2 427.4,777.3 428.2,776.5 428.9,775.9 429.7,775.3 430.5,774.9 431.3,774.6 432.1,774.5 432.8,774.5 433.4,774.7 441.7,778.3 442.3,778.6 442.8,779.1 443.3,779.7 443.6,780.5 443.9,781.3 444,782.3 444.1,783.3 444,784.4 443.9,785.5 443.6,786.7 443.3,787.9 442.8,789 442.3,790.2 441.7,791.2 441,792.2 440.3,793.1 439.6,793.9 438.8,794.6 438,795.2 437.2,795.6 436.4,795.9 435.7,796 434.9,795.9 434.3,795.7" fill="#fff" stroke="#1e1e1e" stroke-width="1.9" stroke-linejoin="round"/>
<ellipse cx="438" cy="787" rx="5.2" ry="9.5" transform="rotate(23 438 787)" fill="none" stroke="#1e1e1e" stroke-width="1.9"/>
<line x1="440.3" y1="793.1" x2="432" y2="789.6" stroke="#1e1e1e" stroke-width="1.2"/>
<line x1="435.7" y1="780.9" x2="427.4" y2="777.3" stroke="#1e1e1e" stroke-width="1.2"/>
<polygon points="440.3,793.1 434.3,795.7 432,789.6 435.7,780.9 441.7,778.3 444,784.4" fill="none" stroke="#1e1e1e" stroke-width="1.3" stroke-linejoin="round"/>
<ellipse cx="261" cy="794" rx="6.3" ry="10.5" transform="rotate(26 261 794)" fill="#fff" stroke="#1e1e1e" stroke-width="2.4"/>
<ellipse cx="261" cy="794" rx="2.5" ry="4.2" transform="rotate(26 261 794)" fill="none" stroke="#1e1e1e" stroke-width="2.4"/>
<ellipse cx="284" cy="806" rx="4.5" ry="7" transform="rotate(26 284 806)" fill="none" stroke="#1e1e1e" stroke-width="4.2"/>
<polygon points="304.7,825 304.4,824.8 304.1,824.5 303.9,824.2 303.7,823.7 303.5,823.2 303.5,822.7 303.4,822.1 303.5,821.4 303.6,820.8 303.8,820.1 304,819.4 304.2,818.8 304.6,818.1 304.9,817.5 305.3,816.9 305.7,816.4 306.2,816 306.6,815.6 307.1,815.3 307.6,815 308,814.9 308.5,814.8 308.9,814.9 309.3,815 341,829.3 341.4,829.5 341.7,829.8 341.9,830.1 342.1,830.6 342.3,831.1 342.3,831.6 342.4,832.2 342.3,832.9 342.2,833.5 342,834.2 341.8,834.9 341.6,835.5 341.2,836.2 340.9,836.8 340.5,837.4 340.1,837.9 339.6,838.3 339.1,838.7 338.7,839 338.2,839.3 337.8,839.4 337.3,839.5 336.9,839.4 336.5,839.3" fill="#fff" stroke="#1e1e1e" stroke-width="1.9" stroke-linejoin="round"/>
<ellipse cx="338.8" cy="834.3" rx="3" ry="5.5" transform="rotate(24.2 338.8 834.3)" fill="none" stroke="#1e1e1e" stroke-width="1.9"/>
<polygon points="334.9,843 334.3,842.6 333.8,842.1 333.4,841.5 333,840.7 332.8,839.9 332.7,838.9 332.6,837.9 332.7,836.8 332.9,835.6 333.2,834.5 333.6,833.3 334,832.2 334.6,831.1 335.2,830 335.9,829 336.6,828.1 337.4,827.3 338.2,826.7 339,826.1 339.8,825.7 340.6,825.5 341.3,825.4 342,825.4 342.7,825.6 350.9,829.3 351.5,829.7 352,830.2 352.4,830.8 352.8,831.6 353,832.4 353.1,833.4 353.2,834.4 353.1,835.5 352.9,836.7 352.6,837.8 352.2,839 351.8,840.1 351.2,841.3 350.6,842.3 349.9,843.3 349.2,844.2 348.4,845 347.6,845.6 346.8,846.2 346,846.6 345.2,846.8 344.5,846.9 343.8,846.9 343.1,846.7" fill="#fff" stroke="#1e1e1e" stroke-width="1.9" stroke-linejoin="round"/>
<ellipse cx="347" cy="838" rx="5.2" ry="9.5" transform="rotate(24.2 347 838)" fill="none" stroke="#1e1e1e" stroke-width="1.9"/>
<line x1="349.2" y1="844.2" x2="341" y2="840.5" stroke="#1e1e1e" stroke-width="1.2"/>
<line x1="344.8" y1="831.8" x2="336.6" y2="828.1" stroke="#1e1e1e" stroke-width="1.2"/>
<polygon points="349.2,844.2 343.1,846.7 340.9,840.5 344.8,831.8 350.9,829.3 353.1,835.5" fill="none" stroke="#1e1e1e" stroke-width="1.3" stroke-linejoin="round"/>
<ellipse cx="362" cy="862" rx="6.3" ry="10.5" transform="rotate(26 362 862)" fill="#fff" stroke="#1e1e1e" stroke-width="2.4"/>
<ellipse cx="362" cy="862" rx="2.5" ry="4.2" transform="rotate(26 362 862)" fill="none" stroke="#1e1e1e" stroke-width="2.4"/>
<ellipse cx="385" cy="875" rx="4.5" ry="7" transform="rotate(26 385 875)" fill="none" stroke="#1e1e1e" stroke-width="4.2"/>
<polygon points="405.7,893 405.4,892.8 405.1,892.5 404.8,892.1 404.6,891.7 404.5,891.2 404.4,890.6 404.4,890 404.5,889.4 404.6,888.7 404.8,888.1 405,887.4 405.3,886.7 405.6,886.1 405.9,885.5 406.3,884.9 406.8,884.4 407.2,884 407.7,883.6 408.2,883.3 408.6,883 409.1,882.9 409.5,882.8 409.9,882.9 410.3,883 441.1,897.2 441.5,897.4 441.8,897.7 442,898.1 442.2,898.5 442.3,899 442.4,899.6 442.4,900.2 442.4,900.8 442.2,901.5 442.1,902.2 441.9,902.8 441.6,903.5 441.3,904.1 440.9,904.7 440.5,905.3 440.1,905.8 439.6,906.3 439.1,906.7 438.7,907 438.2,907.2 437.8,907.3 437.3,907.4 436.9,907.3 436.5,907.2" fill="#fff" stroke="#1e1e1e" stroke-width="1.9" stroke-linejoin="round"/>
<ellipse cx="438.8" cy="902.2" rx="3" ry="5.5" transform="rotate(24.8 438.8 902.2)" fill="none" stroke="#1e1e1e" stroke-width="1.9"/>
<polygon points="434.8,910.9 434.3,910.5 433.8,910 433.3,909.4 433,908.6 432.8,907.7 432.7,906.8 432.6,905.7 432.7,904.6 432.9,903.5 433.2,902.3 433.6,901.2 434.1,900 434.6,898.9 435.3,897.9 436,896.9 436.7,896 437.5,895.2 438.3,894.6 439.1,894.1 439.9,893.7 440.7,893.4 441.4,893.3 442.2,893.4 442.8,893.6 451,897.4 451.6,897.7 452.1,898.2 452.5,898.9 452.8,899.6 453,900.5 453.2,901.4 453.2,902.5 453.1,903.6 452.9,904.7 452.6,905.9 452.2,907 451.7,908.2 451.2,909.3 450.6,910.3 449.9,911.3 449.1,912.2 448.3,913 447.5,913.6 446.7,914.2 445.9,914.6 445.1,914.8 444.4,914.9 443.7,914.8 443,914.6" fill="#fff" stroke="#1e1e1e" stroke-width="1.9" stroke-linejoin="round"/>
<ellipse cx="447" cy="906" rx="5.2" ry="9.5" transform="rotate(24.8 447 906)" fill="none" stroke="#1e1e1e" stroke-width="1.9"/>
<line x1="449.1" y1="912.2" x2="440.9" y2="908.4" stroke="#1e1e1e" stroke-width="1.2"/>
<line x1="444.9" y1="899.8" x2="436.7" y2="896" stroke="#1e1e1e" stroke-width="1.2"/>
<polygon points="449.1,912.2 443,914.6 440.9,908.4 444.9,899.8 451,897.4 453.1,903.6" fill="none" stroke="#1e1e1e" stroke-width="1.3" stroke-linejoin="round"/>
<ellipse cx="252" cy="923" rx="6.3" ry="10.5" transform="rotate(26 252 923)" fill="#fff" stroke="#1e1e1e" stroke-width="2.4"/>
<ellipse cx="252" cy="923" rx="2.5" ry="4.2" transform="rotate(26 252 923)" fill="none" stroke="#1e1e1e" stroke-width="2.4"/>
<ellipse cx="275" cy="935" rx="4.5" ry="7" transform="rotate(26 275 935)" fill="none" stroke="#1e1e1e" stroke-width="4.2"/>
<polygon points="295.7,954 295.4,953.8 295.1,953.5 294.8,953.1 294.6,952.7 294.5,952.2 294.4,951.6 294.4,951 294.5,950.4 294.6,949.7 294.8,949.1 295,948.4 295.3,947.7 295.6,947.1 295.9,946.5 296.3,945.9 296.8,945.4 297.2,945 297.7,944.6 298.2,944.3 298.6,944 299.1,943.9 299.5,943.8 299.9,943.9 300.3,944 331.1,958.2 331.5,958.4 331.8,958.7 332,959.1 332.2,959.5 332.3,960 332.4,960.6 332.4,961.2 332.4,961.8 332.2,962.5 332.1,963.2 331.9,963.8 331.6,964.5 331.3,965.1 330.9,965.7 330.5,966.3 330.1,966.8 329.6,967.3 329.1,967.7 328.7,968 328.2,968.2 327.8,968.3 327.3,968.4 326.9,968.3 326.5,968.2" fill="#fff" stroke="#1e1e1e" stroke-width="1.9" stroke-linejoin="round"/>
<ellipse cx="328.8" cy="963.2" rx="3" ry="5.5" transform="rotate(24.8 328.8 963.2)" fill="none" stroke="#1e1e1e" stroke-width="1.9"/>
<polygon points="324.8,971.9 324.3,971.5 323.8,971 323.3,970.4 323,969.6 322.8,968.7 322.7,967.8 322.6,966.7 322.7,965.6 322.9,964.5 323.2,963.3 323.6,962.2 324.1,961 324.6,959.9 325.3,958.9 326,957.9 326.7,957 327.5,956.2 328.3,955.6 329.1,955.1 329.9,954.7 330.7,954.4 331.4,954.3 332.2,954.4 332.8,954.6 341,958.4 341.6,958.7 342.1,959.2 342.5,959.9 342.8,960.6 343,961.5 343.2,962.4 343.2,963.5 343.1,964.6 342.9,965.7 342.6,966.9 342.2,968 341.7,969.2 341.2,970.3 340.6,971.3 339.9,972.3 339.1,973.2 338.3,974 337.5,974.6 336.7,975.2 335.9,975.6 335.1,975.8 334.4,975.9 333.7,975.8 333,975.6" fill="#fff" stroke="#1e1e1e" stroke-width="1.9" stroke-linejoin="round"/>
<ellipse cx="337" cy="967" rx="5.2" ry="9.5" transform="rotate(24.8 337 967)" fill="none" stroke="#1e1e1e" stroke-width="1.9"/>
<line x1="339.1" y1="973.2" x2="330.9" y2="969.4" stroke="#1e1e1e" stroke-width="1.2"/>
<line x1="334.9" y1="960.8" x2="326.7" y2="957" stroke="#1e1e1e" stroke-width="1.2"/>
<polygon points="339.1,973.2 333,975.6 330.9,969.4 334.9,960.8 341,958.4 343.1,964.6" fill="none" stroke="#1e1e1e" stroke-width="1.3" stroke-linejoin="round"/>
<line x1="447" y1="970" x2="470" y2="960" stroke="#1e1e1e" stroke-width="3"/>
<polygon points="496.8,948.9 496.9,949.1 496.8,949.4 496.8,949.7 496.6,950 496.4,950.3 496.1,950.5 495.8,950.8 495.4,951.1 495,951.3 494.5,951.6 494.1,951.7 493.6,951.9 493.1,952 492.6,952.1 492.1,952.2 491.6,952.2 491.1,952.2 490.7,952.2 490.3,952.1 490,952 489.7,951.8 489.4,951.6 489.3,951.4 489.2,951.1 483.2,931.1 483.1,930.9 483.2,930.6 483.2,930.3 483.4,930 483.6,929.7 483.9,929.5 484.2,929.2 484.6,928.9 485,928.7 485.5,928.4 485.9,928.3 486.4,928.1 486.9,928 487.4,927.9 487.9,927.8 488.4,927.8 488.9,927.8 489.3,927.8 489.7,927.9 490,928 490.3,928.2 490.6,928.4 490.7,928.6 490.8,928.9" fill="#fff" stroke="#1e1e1e" stroke-width="1.6" stroke-linejoin="round"/>
<ellipse cx="487" cy="930" rx="2" ry="4" transform="rotate(-106.7 487 930)" fill="none" stroke="#1e1e1e" stroke-width="1.6"/>
<ellipse cx="486" cy="927" rx="5" ry="3" fill="none" stroke="#1e1e1e" stroke-width="1.6"/>
<ellipse cx="586" cy="933" rx="6.5" ry="10" transform="rotate(30 586 933)" fill="none" stroke="#1e1e1e" stroke-width="3.4"/>
<polygon points="571.6,928.3 572.4,928 573.2,927.9 574.1,928.1 575,928.4 576,928.9 577,929.5 578,930.3 579,931.3 579.9,932.4 580.8,933.6 581.6,934.9 582.4,936.3 583,937.7 583.6,939.2 584,940.6 584.3,942 584.5,943.4 584.6,944.7 584.5,945.9 584.3,947 584,947.9 583.6,948.7 583,949.3 582.4,949.7 552.4,964.7 551.6,965 550.8,965.1 549.9,964.9 549,964.6 548,964.1 547,963.5 546,962.7 545,961.7 544.1,960.6 543.2,959.4 542.4,958.1 541.6,956.7 541,955.3 540.4,953.8 540,952.4 539.7,951 539.5,949.6 539.4,948.3 539.5,947.1 539.7,946 540,945.1 540.4,944.3 541,943.7 541.6,943.3" fill="#fff" stroke="#1e1e1e" stroke-width="2" stroke-linejoin="round"/>
<ellipse cx="547" cy="954" rx="6" ry="12" transform="rotate(153.4 547 954)" fill="none" stroke="#1e1e1e" stroke-width="2"/>
<ellipse cx="548" cy="954" rx="4" ry="9" transform="rotate(-28 548 954)" fill="none" stroke="#1e1e1e" stroke-width="2.6"/>
<ellipse cx="525" cy="966" rx="5.5" ry="9" transform="rotate(30 525 966)" fill="none" stroke="#1e1e1e" stroke-width="2.4"/>
<ellipse cx="533" cy="961" rx="5.5" ry="9" transform="rotate(30 533 961)" fill="none" stroke="#1e1e1e" stroke-width="2.4"/>
<ellipse cx="525" cy="966" rx="3.5" ry="6.5" transform="rotate(30 525 966)" fill="none" stroke="#1e1e1e" stroke-width="1.1"/>
<ellipse cx="533" cy="961" rx="3.5" ry="6.5" transform="rotate(30 533 961)" fill="none" stroke="#1e1e1e" stroke-width="1.1"/>
<polygon points="466,994 480,999 485,1030 474,1034 465,1026 468,1010" fill="#fff" stroke="#1e1e1e" stroke-width="2" stroke-linejoin="round"/>
<polygon points="495,986 513,974 512,1012 503,1017 494,1010 497,1000" fill="#fff" stroke="#1e1e1e" stroke-width="2" stroke-linejoin="round"/>
<line x1="480" y1="1000" x2="478" y2="1030" stroke="#1e1e1e" stroke-width="1.3"/>
<line x1="508" y1="985" x2="506" y2="1012" stroke="#1e1e1e" stroke-width="1.3"/>
<polygon points="497.3,958.5 498.1,958.1 498.9,958 499.9,958.1 500.9,958.3 502,958.7 503,959.3 504.1,960.1 505.1,961 506.2,962 507.1,963.2 508,964.5 508.8,965.8 509.5,967.2 510.1,968.7 510.6,970.1 510.9,971.5 511.1,972.9 511.2,974.2 511.1,975.4 510.9,976.5 510.5,977.5 510.1,978.4 509.5,979 508.7,979.5 475.7,997.5 474.9,997.9 474.1,998 473.1,997.9 472.1,997.7 471,997.3 470,996.7 468.9,995.9 467.9,995 466.8,994 465.9,992.8 465,991.5 464.2,990.2 463.5,988.8 462.9,987.3 462.4,985.9 462.1,984.5 461.9,983.1 461.8,981.8 461.9,980.6 462.1,979.5 462.5,978.5 462.9,977.6 463.5,977 464.3,976.5" fill="#fff" stroke="#1e1e1e" stroke-width="2" stroke-linejoin="round"/>
<ellipse cx="470" cy="987" rx="6.6" ry="12" transform="rotate(151.4 470 987)" fill="none" stroke="#1e1e1e" stroke-width="2"/>
<ellipse cx="470" cy="987" rx="6.6" ry="12" transform="rotate(-28 470 987)" fill="#fff" stroke="#1e1e1e" stroke-width="3"/>
<ellipse cx="471" cy="988" rx="4" ry="7" transform="rotate(-28 471 988)" fill="none" stroke="#1e1e1e" stroke-width="1.4"/>
<ellipse cx="490" cy="977" rx="2.5" ry="1.8" fill="none" stroke="#1e1e1e" stroke-width="1.4"/>
<circle cx="494" cy="990" r="1.5" fill="#222"/>
<polygon points="448.6,991.7 449.4,991.3 450.3,991.2 451.3,991.3 452.3,991.6 453.4,992.1 454.5,992.7 455.6,993.6 456.7,994.6 457.8,995.7 458.8,997 459.8,998.4 460.7,999.8 461.5,1001.3 462.1,1002.9 462.7,1004.4 463.1,1005.9 463.4,1007.4 463.5,1008.8 463.5,1010.1 463.3,1011.2 463,1012.3 462.6,1013.1 462,1013.8 461.4,1014.3 436.4,1028.3 435.6,1028.7 434.7,1028.8 433.7,1028.7 432.7,1028.4 431.6,1027.9 430.5,1027.3 429.4,1026.4 428.3,1025.4 427.2,1024.3 426.2,1023 425.2,1021.6 424.3,1020.2 423.5,1018.7 422.9,1017.1 422.3,1015.6 421.9,1014.1 421.6,1012.6 421.5,1011.2 421.5,1009.9 421.7,1008.8 422,1007.7 422.4,1006.9 423,1006.2 423.6,1005.7" fill="#fff" stroke="#1e1e1e" stroke-width="2" stroke-linejoin="round"/>
<ellipse cx="430" cy="1017" rx="6.5" ry="13" transform="rotate(150.8 430 1017)" fill="none" stroke="#1e1e1e" stroke-width="2"/>
<ellipse cx="431" cy="1017" rx="4" ry="9" transform="rotate(-28 431 1017)" fill="none" stroke="#1e1e1e" stroke-width="2.4"/>
<ellipse cx="404" cy="1034" rx="7" ry="10" transform="rotate(30 404 1034)" fill="none" stroke="#1e1e1e" stroke-width="2.6"/>
<ellipse cx="413" cy="1029" rx="7" ry="10" transform="rotate(30 413 1029)" fill="none" stroke="#1e1e1e" stroke-width="2.6"/>
<polygon points="297,1082 383,1035 392,1046 359,1065" fill="#fff" stroke="#1e1e1e" stroke-width="1.8" stroke-linejoin="round"/>
<ellipse cx="386" cy="1041" rx="3.5" ry="6.5" transform="rotate(-28 386 1041)" fill="none" stroke="#1e1e1e" stroke-width="3"/>
<ellipse cx="380" cy="1044" rx="3.5" ry="6.5" transform="rotate(-28 380 1044)" fill="none" stroke="#1e1e1e" stroke-width="3"/>
<ellipse cx="374" cy="1047" rx="3.5" ry="6.5" transform="rotate(-28 374 1047)" fill="none" stroke="#1e1e1e" stroke-width="3"/>
<ellipse cx="392" cy="1040" rx="4" ry="6.5" transform="rotate(-28 392 1040)" fill="none" stroke="#1e1e1e" stroke-width="2"/>
<ellipse cx="327" cy="1069" rx="3" ry="2.5" fill="none" stroke="#1e1e1e" stroke-width="1.4"/>
<path d="M255,1096 L353,1067 Q370,1064 370,1080 Q371,1092 367,1093 L265,1125 Q248,1128 247,1108 Q247,1098 255,1096 Z" fill="#fff" stroke="#1e1e1e" stroke-width="1.9" stroke-linejoin="round"/>
<ellipse cx="361" cy="1081" rx="8" ry="14" transform="rotate(-15 361 1081)" fill="none" stroke="#1e1e1e" stroke-width="1.5"/>
<ellipse cx="351" cy="1085" rx="6.5" ry="8.5" transform="rotate(-20 351 1085)" fill="none" stroke="#1e1e1e" stroke-width="2.2"/>
<ellipse cx="352" cy="1085" rx="4" ry="5.5" transform="rotate(-20 352 1085)" fill="none" stroke="#1e1e1e" stroke-width="1.4"/>
<circle cx="254" cy="1107" r="1.3" fill="#222"/>
<polygon points="392.6,1124.7 392.3,1124.7 392.1,1124.7 391.8,1124.7 391.5,1124.6 391.2,1124.4 390.8,1124.2 390.5,1123.9 390.2,1123.5 389.9,1123.1 389.6,1122.7 389.4,1122.3 389.2,1121.8 389,1121.3 388.8,1120.8 388.7,1120.3 388.6,1119.9 388.6,1119.4 388.6,1119 388.6,1118.6 388.7,1118.2 388.8,1117.9 389,1117.7 389.2,1117.5 389.4,1117.3 417.4,1105.1 417.7,1105.1 417.9,1105 418.2,1105.1 418.5,1105.2 418.8,1105.4 419.2,1105.6 419.5,1105.9 419.8,1106.3 420.1,1106.7 420.4,1107.1 420.6,1107.5 420.8,1108 421,1108.5 421.2,1109 421.3,1109.5 421.4,1109.9 421.4,1110.4 421.4,1110.8 421.4,1111.2 421.3,1111.6 421.2,1111.9 421,1112.1 420.8,1112.3 420.6,1112.5" fill="#fff" stroke="#1e1e1e" stroke-width="1.6" stroke-linejoin="round"/>
<ellipse cx="419" cy="1108.8" rx="2" ry="4" transform="rotate(-23.6 419 1108.8)" fill="none" stroke="#1e1e1e" stroke-width="1.6"/>
<polygon points="423,1118 422.4,1118.1 421.7,1118.2 420.9,1118 420.2,1117.7 419.4,1117.3 418.6,1116.7 417.8,1116 417,1115.1 416.3,1114.1 415.6,1113.1 415,1112 414.4,1110.8 413.9,1109.6 413.5,1108.4 413.2,1107.1 413,1105.9 412.9,1104.8 412.9,1103.7 413,1102.7 413.2,1101.9 413.6,1101.1 414,1100.5 414.4,1100 415,1099.6 426,1094.8 426.6,1094.7 427.3,1094.6 428.1,1094.8 428.8,1095.1 429.6,1095.5 430.4,1096.1 431.2,1096.8 432,1097.7 432.7,1098.6 433.4,1099.7 434,1100.8 434.6,1102 435.1,1103.2 435.5,1104.4 435.8,1105.7 436,1106.9 436.1,1108 436.1,1109.1 436,1110.1 435.8,1110.9 435.4,1111.7 435,1112.3 434.6,1112.8 434,1113.2" fill="#fff" stroke="#1e1e1e" stroke-width="1.6" stroke-linejoin="round"/>
<ellipse cx="430" cy="1104" rx="5" ry="10" transform="rotate(-23.6 430 1104)" fill="none" stroke="#1e1e1e" stroke-width="1.6"/>
<line x1="436" y1="1106.9" x2="425" y2="1111.6" stroke="#1e1e1e" stroke-width="1.2"/>
<line x1="424" y1="1101.1" x2="413" y2="1105.9" stroke="#1e1e1e" stroke-width="1.2"/>
<polygon points="436,1106.9 434,1113.2 428,1110.3 424,1101.1 426,1094.8 432,1097.7" fill="none" stroke="#1e1e1e" stroke-width="1.3" stroke-linejoin="round"/>
<ellipse cx="376" cy="1128" rx="4.8" ry="8" transform="rotate(-25 376 1128)" fill="#fff" stroke="#1e1e1e" stroke-width="2"/>
<ellipse cx="376" cy="1128" rx="2.2" ry="3.6" transform="rotate(-25 376 1128)" fill="none" stroke="#1e1e1e" stroke-width="2"/>
<ellipse cx="356" cy="1145" rx="5" ry="7" transform="rotate(-25 356 1145)" fill="none" stroke="#1e1e1e" stroke-width="3"/>
<polygon points="339.7,1149.3 340.1,1157.7 334.4,1160.4 328.3,1154.7 327.9,1146.3 333.6,1143.6" fill="#fff" stroke="#1e1e1e" stroke-width="1.8" stroke-linejoin="round"/>
<polygon points="574.6,1152.9 575.5,1152.6 576.4,1152.5 577.5,1152.7 578.6,1153 579.7,1153.6 581,1154.4 582.2,1155.4 583.4,1156.6 584.6,1157.9 585.8,1159.4 586.9,1161 587.9,1162.7 588.8,1164.4 589.6,1166.2 590.3,1167.9 590.8,1169.7 591.1,1171.3 591.4,1172.9 591.4,1174.4 591.3,1175.7 591.1,1176.8 590.6,1177.8 590.1,1178.5 589.4,1179.1 280.4,1353.1 279.5,1353.4 278.6,1353.5 277.5,1353.3 276.4,1353 275.3,1352.4 274,1351.6 272.8,1350.6 271.6,1349.4 270.4,1348.1 269.2,1346.6 268.1,1345 267.1,1343.3 266.2,1341.6 265.4,1339.8 264.7,1338.1 264.2,1336.3 263.9,1334.7 263.6,1333.1 263.6,1331.6 263.7,1330.3 263.9,1329.2 264.4,1328.2 264.9,1327.5 265.6,1326.9" fill="#fff" stroke="#1e1e1e" stroke-width="2" stroke-linejoin="round"/>
<ellipse cx="273" cy="1340" rx="6.8" ry="15" transform="rotate(150.6 273 1340)" fill="none" stroke="#1e1e1e" stroke-width="2"/>
<line x1="575" y1="1174" x2="284" y2="1337" stroke="#1e1e1e" stroke-width="1.3"/>
<line x1="583" y1="1160" x2="292" y2="1323" stroke="#1e1e1e" stroke-width="1.1"/>
<ellipse cx="313" cy="1302" rx="4" ry="2.5" fill="none" stroke="#1e1e1e" stroke-width="1.6"/>
<ellipse cx="355" cy="1275" rx="4" ry="2.5" fill="none" stroke="#1e1e1e" stroke-width="1.6"/>
<ellipse cx="527" cy="1183" rx="4" ry="2.5" fill="none" stroke="#1e1e1e" stroke-width="1.6"/>
<circle cx="290" cy="1312" r="1.4" fill="#222"/>
<polygon points="386.9,1321 384.4,1322.1 381.5,1322.5 378.5,1322.4 375.3,1321.7 372,1320.4 368.6,1318.6 365.2,1316.2 361.8,1313.3 358.6,1310 355.5,1306.4 352.6,1302.4 350.1,1298.1 347.8,1293.7 345.9,1289.2 344.3,1284.7 343.2,1280.2 342.5,1275.9 342.2,1271.7 342.4,1267.8 343.1,1264.3 344.1,1261.2 345.6,1258.5 347.4,1256.4 349.7,1254.8 360.1,1248.9 362.7,1247.8 365.5,1247.4 368.5,1247.5 371.7,1248.2 375.1,1249.5 378.5,1251.4 381.9,1253.7 385.2,1256.6 388.5,1259.9 391.5,1263.6 394.4,1267.5 397,1271.8 399.2,1276.2 401.2,1280.7 402.7,1285.2 403.8,1289.7 404.5,1294.1 404.8,1298.2 404.6,1302.1 404,1305.6 402.9,1308.7 401.4,1311.4 399.6,1313.5 397.4,1315.1" fill="#fff" stroke="#1e1e1e" stroke-width="2" stroke-linejoin="round"/>
<ellipse cx="378.7" cy="1282" rx="20.9" ry="38" transform="rotate(-29.3 378.7 1282)" fill="none" stroke="#1e1e1e" stroke-width="2"/>
<ellipse cx="378.7" cy="1282" rx="16.7" ry="30.4" transform="rotate(-29 378.7 1282)" fill="none" stroke="#1e1e1e" stroke-width="1.5"/>
<ellipse cx="380.5" cy="1281" rx="15" ry="27.4" transform="rotate(-29 380.5 1281)" fill="none" stroke="#1e1e1e" stroke-width="1.2"/>
<polygon points="365.2,1306.9 403.5,1285.3 388.8,1259.1 350.5,1280.7" fill="#fff" stroke="none"/>
<line x1="365.2" y1="1306.9" x2="403.5" y2="1285.3" stroke="#1e1e1e" stroke-width="2"/>
<line x1="350.5" y1="1280.7" x2="388.8" y2="1259.1" stroke="#1e1e1e" stroke-width="2"/>
<line x1="361.1" y1="1299.7" x2="399.5" y2="1278.1" stroke="#1e1e1e" stroke-width="1.2"/>
<polygon points="479.9,1268 477.4,1269.1 474.5,1269.5 471.5,1269.4 468.3,1268.7 465,1267.4 461.6,1265.6 458.2,1263.2 454.8,1260.3 451.6,1257 448.5,1253.4 445.6,1249.4 443.1,1245.1 440.8,1240.7 438.9,1236.2 437.3,1231.7 436.2,1227.2 435.5,1222.9 435.2,1218.7 435.4,1214.8 436.1,1211.3 437.1,1208.2 438.6,1205.5 440.4,1203.4 442.7,1201.8 453.1,1195.9 455.7,1194.8 458.5,1194.4 461.5,1194.5 464.7,1195.2 468.1,1196.5 471.5,1198.4 474.9,1200.7 478.2,1203.6 481.5,1206.9 484.5,1210.6 487.4,1214.5 490,1218.8 492.2,1223.2 494.2,1227.7 495.7,1232.2 496.8,1236.7 497.5,1241.1 497.8,1245.2 497.6,1249.1 497,1252.6 495.9,1255.7 494.4,1258.4 492.6,1260.5 490.4,1262.1" fill="#fff" stroke="#1e1e1e" stroke-width="2" stroke-linejoin="round"/>
<ellipse cx="471.7" cy="1229" rx="20.9" ry="38" transform="rotate(-29.3 471.7 1229)" fill="none" stroke="#1e1e1e" stroke-width="2"/>
<ellipse cx="471.7" cy="1229" rx="16.7" ry="30.4" transform="rotate(-29 471.7 1229)" fill="none" stroke="#1e1e1e" stroke-width="1.5"/>
<ellipse cx="473.5" cy="1228" rx="15" ry="27.4" transform="rotate(-29 473.5 1228)" fill="none" stroke="#1e1e1e" stroke-width="1.2"/>
<polygon points="458.2,1253.9 496.5,1232.3 481.8,1206.1 443.5,1227.7" fill="#fff" stroke="none"/>
<line x1="458.2" y1="1253.9" x2="496.5" y2="1232.3" stroke="#1e1e1e" stroke-width="2"/>
<line x1="443.5" y1="1227.7" x2="481.8" y2="1206.1" stroke="#1e1e1e" stroke-width="2"/>
<line x1="454.1" y1="1246.7" x2="492.5" y2="1225.1" stroke="#1e1e1e" stroke-width="1.2"/>
<polygon points="240.9,1329.1 242.5,1328.5 244.4,1328.2 246.4,1328.3 248.5,1328.7 250.7,1329.6 252.9,1330.8 255.1,1332.4 257.3,1334.3 259.5,1336.5 261.5,1338.9 263.3,1341.5 265,1344.3 266.5,1347.2 267.8,1350.2 268.8,1353.2 269.5,1356.1 269.9,1359 270.1,1361.7 269.9,1364.3 269.5,1366.6 268.8,1368.6 267.8,1370.4 266.6,1371.8 265.1,1372.9 247.1,1382.9 245.5,1383.5 243.6,1383.8 241.6,1383.7 239.5,1383.3 237.3,1382.4 235.1,1381.2 232.9,1379.6 230.7,1377.7 228.5,1375.5 226.5,1373.1 224.7,1370.5 223,1367.7 221.5,1364.8 220.2,1361.8 219.2,1358.8 218.5,1355.9 218.1,1353 217.9,1350.3 218.1,1347.7 218.5,1345.4 219.2,1343.4 220.2,1341.6 221.4,1340.2 222.9,1339.1" fill="#fff" stroke="#1e1e1e" stroke-width="2" stroke-linejoin="round"/>
<ellipse cx="235" cy="1361" rx="13.8" ry="25" transform="rotate(150.9 235 1361)" fill="none" stroke="#1e1e1e" stroke-width="2"/>
<polygon points="247,1354.3 251.5,1376.6 239.5,1383.3 223,1367.7 218.5,1345.4 230.5,1338.7" fill="#fff" stroke="#1e1e1e" stroke-width="2" stroke-linejoin="round"/>
<polygon points="242.7,1356.7 245.6,1371 237.9,1375.3 227.3,1365.3 224.4,1351 232.1,1346.7" fill="none" stroke="#1e1e1e" stroke-width="1.6" stroke-linejoin="round"/>
<line x1="242.7" y1="1356.7" x2="247" y2="1354.3" stroke="#1e1e1e" stroke-width="1.1"/>
<line x1="245.6" y1="1371" x2="251.5" y2="1376.6" stroke="#1e1e1e" stroke-width="1.1"/>
<line x1="237.9" y1="1375.3" x2="239.5" y2="1383.3" stroke="#1e1e1e" stroke-width="1.1"/>
<line x1="227.3" y1="1365.3" x2="223" y2="1367.7" stroke="#1e1e1e" stroke-width="1.1"/>
<line x1="224.4" y1="1351" x2="218.5" y2="1345.4" stroke="#1e1e1e" stroke-width="1.1"/>
<line x1="232.1" y1="1346.7" x2="230.5" y2="1338.7" stroke="#1e1e1e" stroke-width="1.1"/>
<rect x="239" y="1326" width="10" height="11" fill="#fff" stroke="#1e1e1e" stroke-width="1.8"/>
<line x1="239" y1="1331" x2="249" y2="1331" stroke="#1e1e1e" stroke-width="1.4"/>
<polyline points="251,1322 247.5,1325 240.5,1325 237,1322 240.5,1319 247.5,1319 251,1322" fill="#fff" stroke="#1e1e1e" stroke-width="1.7" stroke-linejoin="round"/>
<line x1="237" y1="1322" x2="237" y2="1327" stroke="#1e1e1e" stroke-width="1.7"/>
<line x1="240.5" y1="1325" x2="240.5" y2="1330" stroke="#1e1e1e" stroke-width="1.7"/>
<line x1="247.5" y1="1325" x2="247.5" y2="1330" stroke="#1e1e1e" stroke-width="1.7"/>
<line x1="251" y1="1322" x2="251" y2="1327" stroke="#1e1e1e" stroke-width="1.7"/>
<line x1="237" y1="1327" x2="240.5" y2="1330" stroke="#1e1e1e" stroke-width="1.7"/>
<line x1="240.5" y1="1330" x2="247.5" y2="1330" stroke="#1e1e1e" stroke-width="1.7"/>
<line x1="247.5" y1="1330" x2="251" y2="1327" stroke="#1e1e1e" stroke-width="1.7"/>
<ellipse cx="244" cy="1322" rx="3.9" ry="1.9" fill="none" stroke="#1e1e1e" stroke-width="1.5"/>
<polygon points="602.7,1189.5 601,1190.3 599.2,1190.6 597.2,1190.6 595.1,1190.1 592.8,1189.3 590.6,1188.2 588.3,1186.6 586.1,1184.8 583.9,1182.7 581.8,1180.3 579.9,1177.7 578.1,1175 576.6,1172.1 575.3,1169.2 574.2,1166.2 573.4,1163.3 572.9,1160.4 572.7,1157.7 572.7,1155.1 573.1,1152.8 573.8,1150.8 574.7,1149 575.9,1147.5 577.3,1146.5 594.3,1136.5 596,1135.7 597.8,1135.4 599.8,1135.4 601.9,1135.9 604.2,1136.7 606.4,1137.8 608.7,1139.4 610.9,1141.2 613.1,1143.3 615.2,1145.7 617.1,1148.3 618.9,1151 620.4,1153.9 621.7,1156.8 622.8,1159.8 623.6,1162.7 624.1,1165.6 624.3,1168.3 624.3,1170.9 623.9,1173.2 623.2,1175.2 622.3,1177 621.1,1178.5 619.7,1179.5" fill="#fff" stroke="#1e1e1e" stroke-width="2" stroke-linejoin="round"/>
<ellipse cx="607" cy="1158" rx="13.8" ry="25" transform="rotate(-30.5 607 1158)" fill="none" stroke="#1e1e1e" stroke-width="2"/>
<polygon points="619,1151.3 623.5,1173.6 611.5,1180.3 595,1164.7 590.5,1142.4 602.5,1135.7" fill="#fff" stroke="#1e1e1e" stroke-width="2" stroke-linejoin="round"/>
<polygon points="614.7,1153.7 617.6,1168 609.9,1172.3 599.3,1162.3 596.4,1148 604.1,1143.7" fill="none" stroke="#1e1e1e" stroke-width="1.6" stroke-linejoin="round"/>
<line x1="614.7" y1="1153.7" x2="619" y2="1151.3" stroke="#1e1e1e" stroke-width="1.1"/>
<line x1="617.6" y1="1168" x2="623.5" y2="1173.6" stroke="#1e1e1e" stroke-width="1.1"/>
<line x1="609.9" y1="1172.3" x2="611.5" y2="1180.3" stroke="#1e1e1e" stroke-width="1.1"/>
<line x1="599.3" y1="1162.3" x2="595" y2="1164.7" stroke="#1e1e1e" stroke-width="1.1"/>
<line x1="596.4" y1="1148" x2="590.5" y2="1142.4" stroke="#1e1e1e" stroke-width="1.1"/>
<line x1="604.1" y1="1143.7" x2="602.5" y2="1135.7" stroke="#1e1e1e" stroke-width="1.1"/>
<rect x="593.5" y="1133" width="10" height="11" fill="#fff" stroke="#1e1e1e" stroke-width="1.8"/>
<line x1="593.5" y1="1138" x2="603.5" y2="1138" stroke="#1e1e1e" stroke-width="1.4"/>
<polyline points="605.5,1129 602,1132 595,1132 591.5,1129 595,1126 602,1126 605.5,1129" fill="#fff" stroke="#1e1e1e" stroke-width="1.7" stroke-linejoin="round"/>
<line x1="591.5" y1="1129" x2="591.5" y2="1134" stroke="#1e1e1e" stroke-width="1.7"/>
<line x1="595" y1="1132" x2="595" y2="1137" stroke="#1e1e1e" stroke-width="1.7"/>
<line x1="602" y1="1132" x2="602" y2="1137" stroke="#1e1e1e" stroke-width="1.7"/>
<line x1="605.5" y1="1129" x2="605.5" y2="1134" stroke="#1e1e1e" stroke-width="1.7"/>
<line x1="591.5" y1="1134" x2="595" y2="1137" stroke="#1e1e1e" stroke-width="1.7"/>
<line x1="595" y1="1137" x2="602" y2="1137" stroke="#1e1e1e" stroke-width="1.7"/>
<line x1="602" y1="1137" x2="605.5" y2="1134" stroke="#1e1e1e" stroke-width="1.7"/>
<ellipse cx="598.5" cy="1129" rx="3.9" ry="1.9" fill="none" stroke="#1e1e1e" stroke-width="1.5"/>
<ellipse cx="862" cy="446" rx="3.5" ry="3.5" fill="none" stroke="#1e1e1e" stroke-width="1.4"/>
<ellipse cx="885" cy="472" rx="3.5" ry="3.5" fill="none" stroke="#1e1e1e" stroke-width="1.4"/>
<ellipse cx="862" cy="511" rx="3.5" ry="3.5" fill="none" stroke="#1e1e1e" stroke-width="1.4"/>
<line x1="862" y1="473" x2="862" y2="488" stroke="#1e1e1e" stroke-width="4.5"/>
<line x1="899" y1="475" x2="913" y2="477" stroke="#1e1e1e" stroke-width="5"/>
<circle cx="930" cy="476" r="3" fill="#222"/>
<ellipse cx="953" cy="502" rx="13" ry="18" transform="rotate(-40 953 502)" fill="#fff" stroke="#1e1e1e" stroke-width="2.2"/>
<line x1="944" y1="492" x2="958" y2="512" stroke="#1e1e1e" stroke-width="1.2"/>
<line x1="949" y1="494" x2="962" y2="511" stroke="#1e1e1e" stroke-width="1.2"/>
<line x1="954" y1="496" x2="966" y2="510" stroke="#1e1e1e" stroke-width="1.2"/>
<line x1="959" y1="498" x2="970" y2="509" stroke="#1e1e1e" stroke-width="1.2"/>
<line x1="960" y1="515" x2="1000" y2="552" stroke="#1e1e1e" stroke-width="2.5"/>
<line x1="965" y1="510" x2="1000" y2="550" stroke="#1e1e1e" stroke-width="1.5"/>
<polygon points="946,786 963,776 1109,839 1066,860 946,794" fill="#fff" stroke="#1e1e1e" stroke-width="1.9" stroke-linejoin="round"/>
<line x1="946" y1="794" x2="1066" y2="854" stroke="#1e1e1e" stroke-width="1.4"/>
<line x1="1066" y1="854" x2="1109" y2="833" stroke="#1e1e1e" stroke-width="1.4"/>
<line x1="1066" y1="854" x2="1066" y2="860" stroke="#1e1e1e" stroke-width="1.4"/>
<ellipse cx="968" cy="787" rx="6" ry="3.5" fill="none" stroke="#1e1e1e" stroke-width="1.5"/>
<ellipse cx="1061" cy="839" rx="6" ry="3.5" fill="none" stroke="#1e1e1e" stroke-width="1.5"/>
<polygon points="1119,738 1238,681 1239,766 1222,819 1150,860 1125,800" fill="#fff" stroke="#1e1e1e" stroke-width="1.9" stroke-linejoin="round"/>
<ellipse cx="1182" cy="751" rx="15" ry="25" transform="rotate(28 1182 751)" fill="none" stroke="#1e1e1e" stroke-width="1.9"/>
<ellipse cx="1183" cy="752" rx="11" ry="19" transform="rotate(28 1183 752)" fill="none" stroke="#1e1e1e" stroke-width="1.2"/>
<ellipse cx="1167" cy="727" rx="2.2" ry="2.2" fill="none" stroke="#1e1e1e" stroke-width="1.6"/>
<ellipse cx="1199" cy="726" rx="2.2" ry="2.2" fill="none" stroke="#1e1e1e" stroke-width="1.6"/>
<ellipse cx="1199" cy="773" rx="2.2" ry="2.2" fill="none" stroke="#1e1e1e" stroke-width="1.6"/>
<ellipse cx="1165" cy="778" rx="2.2" ry="2.2" fill="none" stroke="#1e1e1e" stroke-width="1.6"/>
<polygon points="1144,776 1156,771 1158,788 1147,792" fill="none" stroke="#1e1e1e" stroke-width="1.6" stroke-linejoin="round"/>
<ellipse cx="1182" cy="808" rx="8" ry="13" transform="rotate(25 1182 808)" fill="none" stroke="#1e1e1e" stroke-width="1.8"/>
<ellipse cx="1128" cy="758" rx="2.5" ry="3" fill="none" stroke="#1e1e1e" stroke-width="1.5"/>
<polyline points="956,718 1125,796 1150,860" fill="none" stroke="#1e1e1e" stroke-width="1.9" stroke-linejoin="round"/>
<line x1="961" y1="733" x2="1124" y2="806" stroke="#1e1e1e" stroke-width="1.6"/>
<line x1="965" y1="744" x2="1120" y2="815" stroke="#1e1e1e" stroke-width="1.3"/>
<polyline points="970,760 1100,822 1125,830" fill="none" stroke="#1e1e1e" stroke-width="1.3" stroke-linejoin="round"/>
<path d="M990,770 Q995,752 1010,758 Q1040,775 1055,806 Q1065,820 1089,827 Q1040,832 1005,812 Q985,800 990,770 Z" fill="#fff" stroke="#1e1e1e" stroke-width="2" stroke-linejoin="round"/>
<path d="M987,790 Q990,830 1075,832" fill="none" stroke="#1e1e1e" stroke-width="1.4" stroke-linejoin="round"/>
<ellipse cx="1094" cy="813" rx="11" ry="14" transform="rotate(28 1094 813)" fill="#fff" stroke="#1e1e1e" stroke-width="1.9"/>
<ellipse cx="1095" cy="814" rx="7" ry="9" transform="rotate(28 1095 814)" fill="none" stroke="#1e1e1e" stroke-width="1.8"/>
<polyline points="1100,830 1118,822 1125,830" fill="none" stroke="#1e1e1e" stroke-width="1.5" stroke-linejoin="round"/>
<polyline points="949,615 1049,560 1064,567 1069,601" fill="none" stroke="#1e1e1e" stroke-width="1.9" stroke-linejoin="round"/>
<line x1="957" y1="615" x2="1054" y2="565" stroke="#1e1e1e" stroke-width="1.4"/>
<line x1="961" y1="621" x2="1058" y2="572" stroke="#1e1e1e" stroke-width="1.4"/>
<ellipse cx="1056" cy="579" rx="5" ry="8" transform="rotate(30 1056 579)" fill="none" stroke="#1e1e1e" stroke-width="1.6"/>
<polyline points="949,615 939,674" fill="none" stroke="#1e1e1e" stroke-width="1.9" stroke-linejoin="round"/>
<line x1="951" y1="672" x2="956" y2="624" stroke="#1e1e1e" stroke-width="1.4"/>
<ellipse cx="963" cy="629" rx="6" ry="8" transform="rotate(30 963 629)" fill="none" stroke="#1e1e1e" stroke-width="1.6"/>
<path d="M956,672 Q968,610 1032,587 Q1045,585 1050,591" fill="none" stroke="#1e1e1e" stroke-width="1.9" stroke-linejoin="round"/>
<path d="M967,664 Q980,615 1044,592" fill="none" stroke="#1e1e1e" stroke-width="1.3" stroke-linejoin="round"/>
<line x1="1050" y1="591" x2="1106" y2="622" stroke="#1e1e1e" stroke-width="1.9"/>
<path d="M1044,678 Q1038,640 1073,627 L1106,622 L1126,634 Z" fill="#fff" stroke="#1e1e1e" stroke-width="1.9" stroke-linejoin="round"/>
<line x1="1126" y1="634" x2="1044" y2="678" stroke="#1e1e1e" stroke-width="2.6"/>
<polyline points="1069,627 1085,656 1114,672" fill="none" stroke="#1e1e1e" stroke-width="1.3" stroke-linejoin="round"/>
<polyline points="1111,622 1124,618 1210,662 1233,671 1238,681" fill="none" stroke="#1e1e1e" stroke-width="1.9" stroke-linejoin="round"/>
<line x1="1055" y1="705" x2="1187" y2="647" stroke="#1e1e1e" stroke-width="1.7"/>
<line x1="1072" y1="710" x2="1185" y2="653" stroke="#1e1e1e" stroke-width="2.4"/>
<line x1="1097" y1="723" x2="1210" y2="662" stroke="#1e1e1e" stroke-width="1.7"/>
<line x1="1117" y1="738" x2="1235" y2="673" stroke="#1e1e1e" stroke-width="1.7"/>
<line x1="1096" y1="726" x2="1160" y2="689" stroke="#1e1e1e" stroke-width="1.2"/>
<ellipse cx="1072" cy="703" rx="5.5" ry="3.5" transform="rotate(-8 1072 703)" fill="none" stroke="#1e1e1e" stroke-width="1.5"/>
<ellipse cx="1108" cy="725" rx="5.5" ry="3.5" transform="rotate(-8 1108 725)" fill="none" stroke="#1e1e1e" stroke-width="1.5"/>
<ellipse cx="1176" cy="647" rx="5.5" ry="3.5" transform="rotate(-8 1176 647)" fill="none" stroke="#1e1e1e" stroke-width="1.5"/>
<ellipse cx="1210" cy="670" rx="5.5" ry="3.5" transform="rotate(-8 1210 670)" fill="none" stroke="#1e1e1e" stroke-width="1.5"/>
<polygon points="1051,711 1053,746 1119,774 1119,741" fill="#fff" stroke="#1e1e1e" stroke-width="1.9" stroke-linejoin="round"/>
<line x1="1056" y1="745" x2="1072" y2="725" stroke="#1e1e1e" stroke-width="1.4"/>
<line x1="1086" y1="730" x2="1084" y2="752" stroke="#1e1e1e" stroke-width="1.4"/>
<line x1="1091" y1="733" x2="1090" y2="755" stroke="#1e1e1e" stroke-width="1.2"/>
<ellipse cx="1088" cy="752" rx="4" ry="3" fill="none" stroke="#1e1e1e" stroke-width="1.4"/>
<polyline points="999,684 1009,677 1026,670 1032,672 1044,678" fill="none" stroke="#1e1e1e" stroke-width="1.8" stroke-linejoin="round"/>
<line x1="1017" y1="683" x2="1058" y2="705" stroke="#1e1e1e" stroke-width="1.6"/>
<ellipse cx="1014" cy="699" rx="15" ry="18" transform="rotate(28 1014 699)" fill="#fff" stroke="#1e1e1e" stroke-width="1.9"/>
<ellipse cx="1015" cy="700" rx="9" ry="11" transform="rotate(28 1015 700)" fill="none" stroke="#1e1e1e" stroke-width="2.6"/>
<polygon points="926,690 940,674 980,684 981,705 970,721 947,705" fill="#fff" stroke="#1e1e1e" stroke-width="1.9" stroke-linejoin="round"/>
<ellipse cx="956" cy="690" rx="11" ry="13" transform="rotate(30 956 690)" fill="none" stroke="#1e1e1e" stroke-width="2.2"/>
<ellipse cx="958" cy="691" rx="7" ry="8" transform="rotate(30 958 691)" fill="none" stroke="#1e1e1e" stroke-width="1.8"/>
<polyline points="939,706 936,746 935,760" fill="none" stroke="#1e1e1e" stroke-width="1.7" stroke-linejoin="round"/>
<line x1="950" y1="710" x2="952" y2="748" stroke="#1e1e1e" stroke-width="1.3"/>
<polygon points="935,752 943,746 962,752 963,768 950,773 937,768" fill="#fff" stroke="#1e1e1e" stroke-width="1.8" stroke-linejoin="round"/>
<ellipse cx="953" cy="759" rx="5" ry="7" transform="rotate(30 953 759)" fill="none" stroke="#1e1e1e" stroke-width="1.6"/>
<polyline points="956,718 962,745 973,765" fill="none" stroke="#1e1e1e" stroke-width="1.3" stroke-linejoin="round"/>
<ellipse cx="1203" cy="387" rx="4" ry="6.5" transform="rotate(25 1203 387)" fill="none" stroke="#1e1e1e" stroke-width="4.2"/>
<polygon points="1215.8,401.5 1215.5,401.3 1215.2,401 1215,400.7 1214.8,400.3 1214.7,399.8 1214.7,399.3 1214.7,398.7 1214.8,398.2 1214.9,397.6 1215,397 1215.3,396.4 1215.5,395.8 1215.9,395.2 1216.2,394.7 1216.6,394.2 1217,393.7 1217.4,393.3 1217.8,393 1218.3,392.7 1218.7,392.5 1219.1,392.4 1219.5,392.4 1219.9,392.4 1220.2,392.5 1240.4,402.6 1240.7,402.8 1241,403.1 1241.2,403.4 1241.3,403.8 1241.4,404.3 1241.5,404.8 1241.5,405.3 1241.4,405.9 1241.3,406.5 1241.1,407.1 1240.9,407.7 1240.6,408.3 1240.3,408.9 1240,409.4 1239.6,409.9 1239.2,410.4 1238.8,410.8 1238.3,411.1 1237.9,411.4 1237.5,411.6 1237,411.7 1236.6,411.7 1236.3,411.7 1235.9,411.6" fill="#fff" stroke="#1e1e1e" stroke-width="1.7" stroke-linejoin="round"/>
<ellipse cx="1238.2" cy="407.1" rx="2.8" ry="5" transform="rotate(26.6 1238.2 407.1)" fill="none" stroke="#1e1e1e" stroke-width="1.7"/>
<polygon points="1234.1,415.1 1233.6,414.8 1233.1,414.3 1232.7,413.7 1232.5,412.9 1232.3,412.1 1232.2,411.2 1232.2,410.2 1232.3,409.2 1232.5,408.1 1232.8,407 1233.2,405.9 1233.7,404.9 1234.3,403.8 1234.9,402.9 1235.6,402 1236.3,401.1 1237.1,400.4 1237.9,399.8 1238.7,399.3 1239.4,399 1240.2,398.8 1240.9,398.7 1241.6,398.8 1242.2,399 1252,404 1252.6,404.3 1253,404.8 1253.4,405.4 1253.7,406.1 1253.9,407 1254,407.9 1254,408.9 1253.8,409.9 1253.6,411 1253.3,412.1 1252.9,413.1 1252.4,414.2 1251.9,415.2 1251.2,416.2 1250.6,417.1 1249.8,417.9 1249.1,418.7 1248.3,419.3 1247.5,419.7 1246.7,420.1 1246,420.3 1245.3,420.3 1244.6,420.3 1244,420" fill="#fff" stroke="#1e1e1e" stroke-width="1.7" stroke-linejoin="round"/>
<ellipse cx="1248" cy="412" rx="5" ry="9" transform="rotate(26.6 1248 412)" fill="none" stroke="#1e1e1e" stroke-width="1.7"/>
<ellipse cx="1248" cy="412" rx="3" ry="5" transform="rotate(25 1248 412)" fill="none" stroke="#1e1e1e" stroke-width="1.4"/>
<ellipse cx="1203" cy="415" rx="4" ry="6.5" transform="rotate(25 1203 415)" fill="none" stroke="#1e1e1e" stroke-width="4.2"/>
<polygon points="1215.9,429.5 1215.6,429.3 1215.3,429.1 1215.1,428.7 1214.9,428.3 1214.8,427.9 1214.7,427.4 1214.7,426.8 1214.8,426.3 1214.9,425.7 1215,425 1215.3,424.4 1215.5,423.8 1215.8,423.3 1216.1,422.7 1216.5,422.2 1216.9,421.7 1217.3,421.3 1217.7,421 1218.2,420.7 1218.6,420.5 1219,420.4 1219.4,420.3 1219.8,420.4 1220.1,420.5 1240.1,429.8 1240.5,430 1240.7,430.3 1240.9,430.6 1241.1,431 1241.2,431.5 1241.3,432 1241.3,432.5 1241.2,433.1 1241.1,433.7 1241,434.3 1240.8,434.9 1240.5,435.5 1240.2,436.1 1239.9,436.6 1239.5,437.2 1239.1,437.6 1238.7,438 1238.3,438.4 1237.9,438.7 1237.4,438.9 1237,439 1236.6,439 1236.3,439 1235.9,438.9" fill="#fff" stroke="#1e1e1e" stroke-width="1.7" stroke-linejoin="round"/>
<ellipse cx="1238" cy="434.3" rx="2.8" ry="5" transform="rotate(25 1238 434.3)" fill="none" stroke="#1e1e1e" stroke-width="1.7"/>
<polygon points="1234.2,442.5 1233.7,442.2 1233.2,441.7 1232.8,441.1 1232.5,440.4 1232.3,439.5 1232.2,438.6 1232.2,437.7 1232.2,436.6 1232.4,435.5 1232.7,434.4 1233.1,433.3 1233.5,432.3 1234.1,431.2 1234.7,430.2 1235.3,429.3 1236.1,428.5 1236.8,427.7 1237.6,427.1 1238.3,426.6 1239.1,426.2 1239.8,426 1240.5,425.9 1241.2,426 1241.8,426.2 1251.8,430.8 1252.4,431.2 1252.8,431.7 1253.2,432.3 1253.5,433 1253.8,433.8 1253.9,434.7 1253.9,435.7 1253.8,436.7 1253.6,437.8 1253.3,438.9 1252.9,440 1252.5,441.1 1252,442.1 1251.3,443.1 1250.7,444.1 1250,444.9 1249.2,445.6 1248.5,446.2 1247.7,446.7 1246.9,447.1 1246.2,447.3 1245.5,447.4 1244.8,447.4 1244.2,447.2" fill="#fff" stroke="#1e1e1e" stroke-width="1.7" stroke-linejoin="round"/>
<ellipse cx="1248" cy="439" rx="5" ry="9" transform="rotate(25 1248 439)" fill="none" stroke="#1e1e1e" stroke-width="1.7"/>
<ellipse cx="1248" cy="439" rx="3" ry="5" transform="rotate(25 1248 439)" fill="none" stroke="#1e1e1e" stroke-width="1.4"/>
<ellipse cx="1141" cy="422" rx="4" ry="6.5" transform="rotate(25 1141 422)" fill="none" stroke="#1e1e1e" stroke-width="4.2"/>
<polygon points="1154.9,436.6 1154.6,436.4 1154.4,436.1 1154.1,435.8 1154,435.4 1153.8,434.9 1153.8,434.4 1153.8,433.9 1153.8,433.3 1153.9,432.7 1154,432.1 1154.2,431.5 1154.5,430.9 1154.8,430.3 1155.1,429.7 1155.5,429.2 1155.9,428.7 1156.3,428.3 1156.7,428 1157.1,427.7 1157.5,427.5 1157.9,427.4 1158.3,427.3 1158.7,427.3 1159.1,427.4 1180,436.9 1180.3,437.1 1180.6,437.4 1180.8,437.7 1181,438.1 1181.1,438.5 1181.2,439.1 1181.2,439.6 1181.2,440.2 1181.1,440.8 1180.9,441.4 1180.7,442 1180.5,442.6 1180.2,443.2 1179.9,443.7 1179.5,444.3 1179.1,444.7 1178.7,445.1 1178.3,445.5 1177.9,445.8 1177.4,446 1177,446.1 1176.6,446.2 1176.3,446.1 1175.9,446" fill="#fff" stroke="#1e1e1e" stroke-width="1.7" stroke-linejoin="round"/>
<ellipse cx="1178" cy="441.5" rx="2.8" ry="5" transform="rotate(24.3 1178 441.5)" fill="none" stroke="#1e1e1e" stroke-width="1.7"/>
<polygon points="1174.3,449.7 1173.7,449.3 1173.2,448.9 1172.8,448.3 1172.5,447.6 1172.3,446.7 1172.2,445.8 1172.1,444.8 1172.2,443.8 1172.4,442.7 1172.7,441.6 1173,440.5 1173.5,439.4 1174,438.4 1174.6,437.4 1175.2,436.5 1175.9,435.6 1176.7,434.9 1177.4,434.2 1178.2,433.7 1178.9,433.4 1179.7,433.1 1180.4,433 1181.1,433.1 1181.7,433.3 1191.7,437.8 1192.3,438.1 1192.7,438.6 1193.1,439.2 1193.5,439.9 1193.7,440.7 1193.8,441.6 1193.8,442.6 1193.8,443.7 1193.6,444.7 1193.3,445.8 1193,446.9 1192.5,448 1192,449.1 1191.4,450.1 1190.8,451 1190.1,451.9 1189.3,452.6 1188.6,453.2 1187.8,453.7 1187,454.1 1186.3,454.4 1185.6,454.5 1184.9,454.4 1184.3,454.2" fill="#fff" stroke="#1e1e1e" stroke-width="1.7" stroke-linejoin="round"/>
<ellipse cx="1188" cy="446" rx="5" ry="9" transform="rotate(24.3 1188 446)" fill="none" stroke="#1e1e1e" stroke-width="1.7"/>
<ellipse cx="1188" cy="446" rx="3" ry="5" transform="rotate(25 1188 446)" fill="none" stroke="#1e1e1e" stroke-width="1.4"/>
<ellipse cx="1142" cy="447" rx="4" ry="6.5" transform="rotate(25 1142 447)" fill="none" stroke="#1e1e1e" stroke-width="4.2"/>
<polygon points="1156.1,463.6 1155.8,463.5 1155.5,463.2 1155.3,462.9 1155.1,462.5 1155,462 1154.9,461.5 1154.8,461 1154.9,460.4 1154.9,459.8 1155.1,459.2 1155.2,458.6 1155.5,458 1155.7,457.4 1156,456.8 1156.4,456.3 1156.7,455.8 1157.1,455.4 1157.5,455 1157.9,454.7 1158.4,454.5 1158.8,454.3 1159.2,454.3 1159.5,454.3 1159.9,454.4 1181.7,463.2 1182,463.4 1182.3,463.7 1182.5,464 1182.7,464.4 1182.9,464.8 1182.9,465.3 1183,465.9 1183,466.4 1182.9,467 1182.8,467.7 1182.6,468.3 1182.4,468.9 1182.1,469.5 1181.8,470.1 1181.4,470.6 1181.1,471.1 1180.7,471.5 1180.3,471.9 1179.9,472.2 1179.5,472.4 1179,472.5 1178.7,472.6 1178.3,472.6 1177.9,472.5" fill="#fff" stroke="#1e1e1e" stroke-width="1.7" stroke-linejoin="round"/>
<ellipse cx="1179.8" cy="467.9" rx="2.8" ry="5" transform="rotate(22.1 1179.8 467.9)" fill="none" stroke="#1e1e1e" stroke-width="1.7"/>
<polygon points="1176.4,476.2 1175.9,475.9 1175.3,475.4 1174.9,474.9 1174.6,474.1 1174.3,473.3 1174.2,472.4 1174.1,471.5 1174.1,470.4 1174.3,469.3 1174.5,468.2 1174.8,467.1 1175.2,466 1175.7,464.9 1176.3,463.9 1176.9,462.9 1177.5,462.1 1178.2,461.3 1179,460.6 1179.7,460.1 1180.4,459.7 1181.2,459.4 1181.9,459.3 1182.6,459.3 1183.2,459.5 1193.4,463.7 1194,464 1194.5,464.4 1194.9,465 1195.2,465.7 1195.5,466.5 1195.6,467.4 1195.7,468.4 1195.7,469.4 1195.5,470.5 1195.3,471.6 1195,472.8 1194.6,473.9 1194.1,474.9 1193.6,476 1192.9,476.9 1192.3,477.8 1191.6,478.6 1190.8,479.2 1190.1,479.7 1189.4,480.2 1188.6,480.4 1187.9,480.5 1187.2,480.5 1186.6,480.3" fill="#fff" stroke="#1e1e1e" stroke-width="1.7" stroke-linejoin="round"/>
<ellipse cx="1190" cy="472" rx="5" ry="9" transform="rotate(22.1 1190 472)" fill="none" stroke="#1e1e1e" stroke-width="1.7"/>
<ellipse cx="1190" cy="472" rx="3" ry="5" transform="rotate(25 1190 472)" fill="none" stroke="#1e1e1e" stroke-width="1.4"/>
<ellipse cx="1142" cy="512" rx="4" ry="6.5" transform="rotate(25 1142 512)" fill="none" stroke="#1e1e1e" stroke-width="4.2"/>
<polygon points="1156,526.6 1155.7,526.4 1155.4,526.1 1155.2,525.8 1155,525.4 1154.9,525 1154.8,524.5 1154.8,523.9 1154.8,523.3 1154.9,522.7 1155,522.1 1155.2,521.5 1155.5,520.9 1155.8,520.3 1156.1,519.7 1156.4,519.2 1156.8,518.8 1157.2,518.3 1157.6,518 1158.1,517.7 1158.5,517.5 1158.9,517.3 1159.3,517.3 1159.7,517.3 1160,517.4 1181.9,527 1182.2,527.2 1182.5,527.5 1182.7,527.8 1182.9,528.2 1183,528.6 1183.1,529.1 1183.1,529.7 1183.1,530.3 1183,530.9 1182.9,531.5 1182.7,532.1 1182.4,532.7 1182.2,533.3 1181.8,533.8 1181.5,534.4 1181.1,534.8 1180.7,535.3 1180.3,535.6 1179.9,535.9 1179.4,536.1 1179,536.2 1178.6,536.3 1178.3,536.3 1177.9,536.2" fill="#fff" stroke="#1e1e1e" stroke-width="1.7" stroke-linejoin="round"/>
<ellipse cx="1179.9" cy="531.6" rx="2.8" ry="5" transform="rotate(23.6 1179.9 531.6)" fill="none" stroke="#1e1e1e" stroke-width="1.7"/>
<polygon points="1176.3,539.8 1175.8,539.5 1175.3,539 1174.9,538.4 1174.5,537.7 1174.3,536.9 1174.2,536 1174.1,535 1174.2,534 1174.4,532.9 1174.6,531.8 1175,530.7 1175.4,529.6 1175.9,528.5 1176.5,527.5 1177.1,526.6 1177.8,525.8 1178.5,525 1179.3,524.4 1180,523.8 1180.8,523.5 1181.5,523.2 1182.2,523.1 1182.9,523.2 1183.5,523.3 1193.6,527.8 1194.2,528.1 1194.7,528.5 1195.1,529.1 1195.4,529.9 1195.6,530.7 1195.8,531.6 1195.8,532.6 1195.7,533.6 1195.6,534.7 1195.3,535.8 1195,536.9 1194.5,538 1194,539 1193.4,540.1 1192.8,541 1192.1,541.8 1191.4,542.6 1190.7,543.2 1189.9,543.7 1189.1,544.1 1188.4,544.4 1187.7,544.5 1187,544.4 1186.4,544.2" fill="#fff" stroke="#1e1e1e" stroke-width="1.7" stroke-linejoin="round"/>
<ellipse cx="1190" cy="536" rx="5" ry="9" transform="rotate(23.6 1190 536)" fill="none" stroke="#1e1e1e" stroke-width="1.7"/>
<ellipse cx="1190" cy="536" rx="3" ry="5" transform="rotate(25 1190 536)" fill="none" stroke="#1e1e1e" stroke-width="1.4"/>
<ellipse cx="1127" cy="536" rx="4" ry="6.5" transform="rotate(25 1127 536)" fill="none" stroke="#1e1e1e" stroke-width="4.2"/>
<polygon points="1142.9,550.5 1142.6,550.3 1142.3,550.1 1142.1,549.7 1141.9,549.3 1141.8,548.9 1141.7,548.4 1141.7,547.8 1141.8,547.3 1141.9,546.7 1142,546 1142.3,545.4 1142.5,544.8 1142.8,544.3 1143.1,543.7 1143.5,543.2 1143.9,542.7 1144.3,542.3 1144.7,542 1145.2,541.7 1145.6,541.5 1146,541.4 1146.4,541.3 1146.8,541.4 1147.1,541.5 1167.1,550.8 1167.5,551 1167.7,551.3 1167.9,551.6 1168.1,552 1168.2,552.5 1168.3,553 1168.3,553.5 1168.2,554.1 1168.1,554.7 1168,555.3 1167.8,555.9 1167.5,556.5 1167.2,557.1 1166.9,557.6 1166.5,558.2 1166.1,558.6 1165.7,559 1165.3,559.4 1164.9,559.7 1164.4,559.9 1164,560 1163.6,560 1163.3,560 1162.9,559.9" fill="#fff" stroke="#1e1e1e" stroke-width="1.7" stroke-linejoin="round"/>
<ellipse cx="1165" cy="555.3" rx="2.8" ry="5" transform="rotate(25 1165 555.3)" fill="none" stroke="#1e1e1e" stroke-width="1.7"/>
<polygon points="1161.2,563.5 1160.7,563.2 1160.2,562.7 1159.8,562.1 1159.5,561.4 1159.3,560.5 1159.2,559.6 1159.2,558.7 1159.2,557.6 1159.4,556.5 1159.7,555.4 1160.1,554.3 1160.5,553.3 1161.1,552.2 1161.7,551.2 1162.3,550.3 1163.1,549.5 1163.8,548.7 1164.6,548.1 1165.3,547.6 1166.1,547.2 1166.8,547 1167.5,546.9 1168.2,547 1168.8,547.2 1178.8,551.8 1179.4,552.2 1179.8,552.7 1180.2,553.3 1180.5,554 1180.8,554.8 1180.9,555.7 1180.9,556.7 1180.8,557.7 1180.6,558.8 1180.3,559.9 1179.9,561 1179.5,562.1 1179,563.1 1178.3,564.1 1177.7,565.1 1177,565.9 1176.2,566.6 1175.5,567.2 1174.7,567.7 1173.9,568.1 1173.2,568.3 1172.5,568.4 1171.8,568.4 1171.2,568.2" fill="#fff" stroke="#1e1e1e" stroke-width="1.7" stroke-linejoin="round"/>
<ellipse cx="1175" cy="560" rx="5" ry="9" transform="rotate(25 1175 560)" fill="none" stroke="#1e1e1e" stroke-width="1.7"/>
<ellipse cx="1175" cy="560" rx="3" ry="5" transform="rotate(25 1175 560)" fill="none" stroke="#1e1e1e" stroke-width="1.4"/>
<ellipse cx="1202" cy="480" rx="4" ry="6.5" transform="rotate(25 1202 480)" fill="none" stroke="#1e1e1e" stroke-width="4.2"/>
<ellipse cx="1215" cy="487" rx="4" ry="6.5" transform="rotate(25 1215 487)" fill="none" stroke="#1e1e1e" stroke-width="4.2"/>
<polygon points="1215.8,494.5 1215.5,494.3 1215.3,494 1215.1,493.7 1214.9,493.3 1214.8,492.9 1214.7,492.3 1214.7,491.8 1214.8,491.2 1214.9,490.6 1215,490 1215.3,489.4 1215.5,488.8 1215.8,488.2 1216.2,487.7 1216.5,487.2 1216.9,486.7 1217.4,486.3 1217.8,486 1218.2,485.7 1218.6,485.5 1219.1,485.4 1219.4,485.3 1219.8,485.4 1220.2,485.5 1236.1,493.2 1236.5,493.4 1236.7,493.6 1236.9,494 1237.1,494.4 1237.2,494.8 1237.3,495.3 1237.3,495.9 1237.2,496.4 1237.1,497 1236.9,497.7 1236.7,498.3 1236.5,498.9 1236.2,499.4 1235.8,500 1235.4,500.5 1235,501 1234.6,501.4 1234.2,501.7 1233.8,502 1233.4,502.2 1232.9,502.3 1232.5,502.3 1232.2,502.3 1231.8,502.2" fill="#fff" stroke="#1e1e1e" stroke-width="1.7" stroke-linejoin="round"/>
<ellipse cx="1234" cy="497.7" rx="2.8" ry="5" transform="rotate(25.6 1234 497.7)" fill="none" stroke="#1e1e1e" stroke-width="1.7"/>
<polygon points="1230.1,505.8 1229.5,505.4 1229.1,505 1228.7,504.3 1228.4,503.6 1228.2,502.8 1228.1,501.9 1228.1,500.9 1228.2,499.9 1228.4,498.8 1228.7,497.7 1229.1,496.6 1229.5,495.5 1230.1,494.5 1230.7,493.5 1231.4,492.6 1232.1,491.8 1232.8,491 1233.6,490.4 1234.4,489.9 1235.1,489.6 1235.9,489.4 1236.6,489.3 1237.3,489.3 1237.9,489.6 1246.9,493.9 1247.4,494.2 1247.9,494.7 1248.3,495.3 1248.6,496 1248.8,496.9 1248.9,497.8 1248.9,498.8 1248.8,499.8 1248.6,500.9 1248.3,502 1247.9,503.1 1247.5,504.1 1246.9,505.2 1246.3,506.2 1245.6,507.1 1244.9,507.9 1244.2,508.6 1243.4,509.3 1242.6,509.7 1241.9,510.1 1241.1,510.3 1240.4,510.4 1239.7,510.3 1239.1,510.1" fill="#fff" stroke="#1e1e1e" stroke-width="1.7" stroke-linejoin="round"/>
<ellipse cx="1243" cy="502" rx="5" ry="9" transform="rotate(25.6 1243 502)" fill="none" stroke="#1e1e1e" stroke-width="1.7"/>
<polygon points="1245.2,512.6 1244.7,512.2 1244.3,511.7 1244,511 1243.8,510.3 1243.7,509.5 1243.7,508.5 1243.8,507.6 1244,506.5 1244.3,505.5 1244.7,504.4 1245.2,503.4 1245.8,502.4 1246.5,501.4 1247.2,500.5 1247.9,499.7 1248.7,498.9 1249.6,498.3 1250.4,497.7 1251.2,497.3 1252,497.1 1252.8,496.9 1253.5,496.9 1254.2,497.1 1254.8,497.4 1262.8,502.4 1263.3,502.8 1263.7,503.3 1264,504 1264.2,504.7 1264.3,505.5 1264.3,506.5 1264.2,507.4 1264,508.5 1263.7,509.5 1263.3,510.6 1262.8,511.6 1262.2,512.6 1261.5,513.6 1260.8,514.5 1260.1,515.3 1259.3,516.1 1258.4,516.7 1257.6,517.3 1256.8,517.7 1256,517.9 1255.2,518.1 1254.5,518.1 1253.8,517.9 1253.2,517.6" fill="#fff" stroke="#1e1e1e" stroke-width="1.8" stroke-linejoin="round"/>
<ellipse cx="1258" cy="510" rx="5" ry="9" transform="rotate(32 1258 510)" fill="none" stroke="#1e1e1e" stroke-width="1.8"/>
<ellipse cx="1258" cy="510" rx="3" ry="5" transform="rotate(25 1258 510)" fill="none" stroke="#1e1e1e" stroke-width="1.4"/>
<polygon points="1401,466 1400.9,466.4 1400.8,466.8 1400.5,467.1 1400.2,467.5 1399.8,467.8 1399.2,468.1 1398.7,468.4 1398,468.6 1397.3,468.8 1396.6,468.9 1395.8,469 1395,469 1394.2,469 1393.4,468.9 1392.7,468.8 1392,468.6 1391.3,468.4 1390.8,468.1 1390.2,467.8 1389.8,467.5 1389.5,467.1 1389.2,466.8 1389.1,466.4 1389,466 1389,450 1389.1,449.6 1389.2,449.2 1389.5,448.9 1389.8,448.5 1390.2,448.2 1390.8,447.9 1391.3,447.6 1392,447.4 1392.7,447.2 1393.4,447.1 1394.2,447 1395,447 1395.8,447 1396.6,447.1 1397.3,447.2 1398,447.4 1398.7,447.6 1399.2,447.9 1399.8,448.2 1400.2,448.5 1400.5,448.9 1400.8,449.2 1400.9,449.6 1401,450" fill="#fff" stroke="#1e1e1e" stroke-width="1.6" stroke-linejoin="round"/>
<ellipse cx="1395" cy="450" rx="3" ry="6" transform="rotate(-90 1395 450)" fill="none" stroke="#1e1e1e" stroke-width="1.6"/>
<polygon points="1406,452 1405.9,452.7 1405.6,453.4 1405.2,454.1 1404.5,454.8 1403.7,455.3 1402.8,455.9 1401.7,456.4 1400.5,456.8 1399.2,457.1 1397.8,457.3 1396.4,457.5 1395,457.5 1393.6,457.5 1392.2,457.3 1390.8,457.1 1389.5,456.8 1388.3,456.4 1387.2,455.9 1386.3,455.3 1385.5,454.8 1384.8,454.1 1384.4,453.4 1384.1,452.7 1384,452 1384,442 1384.1,441.3 1384.4,440.6 1384.8,439.9 1385.5,439.2 1386.3,438.7 1387.2,438.1 1388.3,437.6 1389.5,437.2 1390.8,436.9 1392.2,436.7 1393.6,436.5 1395,436.5 1396.4,436.5 1397.8,436.7 1399.2,436.9 1400.5,437.2 1401.7,437.6 1402.8,438.1 1403.7,438.7 1404.5,439.2 1405.2,439.9 1405.6,440.6 1405.9,441.3 1406,442" fill="#fff" stroke="#1e1e1e" stroke-width="1.6" stroke-linejoin="round"/>
<ellipse cx="1395" cy="442" rx="5.5" ry="11" transform="rotate(-90 1395 442)" fill="none" stroke="#1e1e1e" stroke-width="1.6"/>
<polygon points="1395,447.5 1385.5,444.8 1385.5,439.2 1395,436.5 1404.5,439.2 1404.5,444.8" fill="#fff" stroke="#1e1e1e" stroke-width="1.4" stroke-linejoin="round"/>
<line x1="1388" y1="442" x2="1402" y2="440" stroke="#1e1e1e" stroke-width="1.6"/>
<ellipse cx="1309" cy="538" rx="50" ry="72" transform="rotate(27 1309 538)" fill="none" stroke="#1e1e1e" stroke-width="1.8"/>
<ellipse cx="1310" cy="539" rx="30" ry="45" transform="rotate(27 1310 539)" fill="none" stroke="#1e1e1e" stroke-width="1.8"/>
<ellipse cx="1341" cy="489" rx="4" ry="6" transform="rotate(27 1341 489)" fill="none" stroke="#1e1e1e" stroke-width="1.5"/>
<ellipse cx="1278" cy="522" rx="4" ry="6" transform="rotate(27 1278 522)" fill="none" stroke="#1e1e1e" stroke-width="1.5"/>
<ellipse cx="1280" cy="587" rx="4" ry="6" transform="rotate(27 1280 587)" fill="none" stroke="#1e1e1e" stroke-width="1.5"/>
<circle cx="1320" cy="482" r="1.2" fill="#222"/>
<polygon points="1330,540 1434,485 1456,495 1462,505 1462,523 1470,600 1420,720 1370,708 1353,700 1338,697 1318,680 1322,631 1315,619 1310,614 1325,610 1326,563" fill="#fff" stroke="#1e1e1e" stroke-width="1.8" stroke-linejoin="round"/>
<polyline points="1340,536 1434,487" fill="none" stroke="#1e1e1e" stroke-width="1.3" stroke-linejoin="round"/>
<polyline points="1345,556 1456,497" fill="none" stroke="#1e1e1e" stroke-width="1.5" stroke-linejoin="round"/>
<polyline points="1330,540 1345,556 1338,697" fill="none" stroke="#1e1e1e" stroke-width="1.5" stroke-linejoin="round"/>
<polyline points="1310,614 1338,625" fill="none" stroke="#1e1e1e" stroke-width="1.3" stroke-linejoin="round"/>
<polyline points="1322,631 1340,640" fill="none" stroke="#1e1e1e" stroke-width="1.3" stroke-linejoin="round"/>
<ellipse cx="1356" cy="558" rx="2.8" ry="4.4" transform="rotate(27 1356 558)" fill="none" stroke="#1e1e1e" stroke-width="1.6"/>
<ellipse cx="1353" cy="573" rx="2.8" ry="4.4" transform="rotate(27 1353 573)" fill="none" stroke="#1e1e1e" stroke-width="1.6"/>
<ellipse cx="1371" cy="546" rx="3.1" ry="5" transform="rotate(27 1371 546)" fill="none" stroke="#1e1e1e" stroke-width="1.6"/>
<ellipse cx="1393" cy="515" rx="2.8" ry="4.4" transform="rotate(27 1393 515)" fill="none" stroke="#1e1e1e" stroke-width="1.6"/>
<ellipse cx="1432" cy="513" rx="3.1" ry="5" transform="rotate(27 1432 513)" fill="none" stroke="#1e1e1e" stroke-width="1.6"/>
<ellipse cx="1447" cy="508" rx="2.8" ry="4.4" transform="rotate(27 1447 508)" fill="none" stroke="#1e1e1e" stroke-width="1.6"/>
<ellipse cx="1348" cy="687" rx="2.8" ry="4.4" transform="rotate(27 1348 687)" fill="none" stroke="#1e1e1e" stroke-width="1.6"/>
<ellipse cx="1360" cy="632" rx="2.8" ry="4.4" transform="rotate(27 1360 632)" fill="none" stroke="#1e1e1e" stroke-width="1.6"/>
<polygon points="1378,555 1395,538 1415,528 1480,510 1492,515 1497,540 1499,600 1490,640 1471,676 1440,700 1408,727 1388,725 1371,708 1370,690 1366,640 1372,590" fill="#fff" stroke="#1e1e1e" stroke-width="1.8" stroke-linejoin="round"/>
<polygon points="1389,561 1462,541 1480,550 1487,565 1490,617 1471,689 1406,717 1396,700 1385,640 1382,600" fill="none" stroke="#1e1e1e" stroke-width="1.6" stroke-linejoin="round"/>
<ellipse cx="1421" cy="533" rx="3" ry="4.5" transform="rotate(27 1421 533)" fill="none" stroke="#1e1e1e" stroke-width="1.6"/>
<ellipse cx="1482" cy="526" rx="3" ry="4.5" transform="rotate(27 1482 526)" fill="none" stroke="#1e1e1e" stroke-width="1.6"/>
<ellipse cx="1389" cy="573" rx="3" ry="4.5" transform="rotate(27 1389 573)" fill="none" stroke="#1e1e1e" stroke-width="1.6"/>
<ellipse cx="1386" cy="591" rx="3" ry="4.5" transform="rotate(27 1386 591)" fill="none" stroke="#1e1e1e" stroke-width="1.6"/>
<ellipse cx="1381" cy="705" rx="3" ry="4.5" transform="rotate(27 1381 705)" fill="none" stroke="#1e1e1e" stroke-width="1.6"/>
<ellipse cx="1362" cy="660" rx="3" ry="4.5" transform="rotate(27 1362 660)" fill="none" stroke="#1e1e1e" stroke-width="1.6"/>
<circle cx="1458" cy="510" r="1.3" fill="#222"/>
<circle cx="1490" cy="532" r="1.3" fill="#222"/>
<line x1="1350" y1="600" x2="1372" y2="592" stroke="#1e1e1e" stroke-width="1.3"/>
<line x1="1350" y1="606" x2="1372" y2="598" stroke="#1e1e1e" stroke-width="1.3"/>
<line x1="1388" y1="623" x2="1388" y2="682" stroke="#1e1e1e" stroke-width="1.3"/>
<line x1="1394" y1="625" x2="1394" y2="686" stroke="#1e1e1e" stroke-width="1.3"/>
<line x1="1399" y1="628" x2="1399" y2="688" stroke="#1e1e1e" stroke-width="1.2"/>
<line x1="1405" y1="648" x2="1430" y2="636" stroke="#1e1e1e" stroke-width="1.3"/>
<line x1="1405" y1="654" x2="1430" y2="642" stroke="#1e1e1e" stroke-width="1.3"/>
<line x1="1432" y1="565" x2="1452" y2="555" stroke="#1e1e1e" stroke-width="1.3"/>
<line x1="1432" y1="571" x2="1452" y2="561" stroke="#1e1e1e" stroke-width="1.3"/>
<path d="M1420,675 Q1440,660 1445,635" fill="none" stroke="#1e1e1e" stroke-width="1.3" stroke-linejoin="round"/>
<line x1="1403" y1="666" x2="1433" y2="650" stroke="#1e1e1e" stroke-width="1.3"/>
<line x1="1404" y1="672" x2="1434" y2="656" stroke="#1e1e1e" stroke-width="1.3"/>
<line x1="1383" y1="660" x2="1399" y2="652" stroke="#1e1e1e" stroke-width="1.3"/>
<line x1="1383" y1="667" x2="1399" y2="659" stroke="#1e1e1e" stroke-width="1.3"/>
<line x1="1452" y1="640" x2="1470" y2="630" stroke="#1e1e1e" stroke-width="1.3"/>
<line x1="1452" y1="647" x2="1470" y2="637" stroke="#1e1e1e" stroke-width="1.3"/>
<path d="M1395,700 Q1420,700 1440,675" fill="none" stroke="#1e1e1e" stroke-width="1.3" stroke-linejoin="round"/>
<ellipse cx="1356" cy="652" rx="5" ry="7" transform="rotate(27 1356 652)" fill="none" stroke="#1e1e1e" stroke-width="1.5"/>
<polygon points="1434,585.9 1435.1,586.6 1436.1,587.6 1436.8,588.8 1437.4,590.3 1437.8,591.9 1438,593.7 1437.9,595.7 1437.7,597.8 1437.3,599.9 1436.6,602.1 1435.8,604.3 1434.9,606.4 1433.7,608.5 1432.5,610.4 1431.1,612.3 1429.6,613.9 1428.1,615.3 1426.6,616.5 1425,617.5 1423.5,618.2 1422,618.6 1420.5,618.7 1419.2,618.5 1418,618.1 1404,611.1 1402.9,610.4 1401.9,609.4 1401.2,608.2 1400.6,606.7 1400.2,605.1 1400,603.3 1400.1,601.3 1400.3,599.2 1400.7,597.1 1401.4,594.9 1402.2,592.7 1403.1,590.6 1404.3,588.5 1405.5,586.6 1406.9,584.7 1408.4,583.1 1409.9,581.7 1411.4,580.5 1413,579.5 1414.5,578.8 1416,578.4 1417.5,578.3 1418.8,578.5 1420,578.9" fill="#fff" stroke="#1e1e1e" stroke-width="2" stroke-linejoin="round"/>
<ellipse cx="1412" cy="595" rx="9.9" ry="18" transform="rotate(-153.4 1412 595)" fill="none" stroke="#1e1e1e" stroke-width="2"/>
<ellipse cx="1412" cy="595" rx="17" ry="32" transform="rotate(27 1412 595)" fill="#fff" stroke="#1e1e1e" stroke-width="2"/>
<ellipse cx="1414" cy="597" rx="13" ry="26" transform="rotate(27 1414 597)" fill="none" stroke="#1e1e1e" stroke-width="1.3"/>
<ellipse cx="1405" cy="592" rx="11" ry="22" transform="rotate(27 1405 592)" fill="none" stroke="#1e1e1e" stroke-width="1.2"/>
<ellipse cx="1451" cy="617" rx="22" ry="34" transform="rotate(27 1451 617)" fill="#fff" stroke="#1e1e1e" stroke-width="1.8"/>
<ellipse cx="1453" cy="618" rx="17" ry="27" transform="rotate(27 1453 618)" fill="none" stroke="#1e1e1e" stroke-width="3"/>
<ellipse cx="1455" cy="619" rx="12" ry="19" transform="rotate(27 1455 619)" fill="none" stroke="#1e1e1e" stroke-width="1.8"/>
<ellipse cx="1458" cy="620" rx="7" ry="11" transform="rotate(27 1458 620)" fill="none" stroke="#1e1e1e" stroke-width="1.2"/>
<polygon points="1535.1,596.7 1567.2,613 1577.1,615.3 1545.1,599" fill="#fff" stroke="#1e1e1e" stroke-width="2" stroke-linejoin="round"/>
<polygon points="1549.2,597.8 1563.5,606.1 1558.1,612.3" fill="none" stroke="#1e1e1e" stroke-width="1.8" stroke-linejoin="round"/>
<polygon points="1552,604.6 1584,621 1589.3,631.1 1557.2,614.8" fill="#fff" stroke="#1e1e1e" stroke-width="2" stroke-linejoin="round"/>
<polygon points="1563.9,609.8 1578.1,618.1 1572.8,624.3" fill="none" stroke="#1e1e1e" stroke-width="1.8" stroke-linejoin="round"/>
<polygon points="1559.2,626.3 1591.3,642.7 1590.4,658 1558.3,641.6" fill="#fff" stroke="#1e1e1e" stroke-width="2" stroke-linejoin="round"/>
<polygon points="1568.1,634.3 1582.3,642.6 1577,648.9" fill="none" stroke="#1e1e1e" stroke-width="1.8" stroke-linejoin="round"/>
<polygon points="1554.8,656 1586.9,672.3 1580.2,688.7 1548.1,672.3" fill="#fff" stroke="#1e1e1e" stroke-width="2" stroke-linejoin="round"/>
<polygon points="1560.7,664.8 1575,673.1 1569.6,679.3" fill="none" stroke="#1e1e1e" stroke-width="1.8" stroke-linejoin="round"/>
<polygon points="1540.1,685.7 1572.2,702 1561.3,715 1529.3,698.7" fill="#fff" stroke="#1e1e1e" stroke-width="2" stroke-linejoin="round"/>
<polygon points="1543.8,693.1 1558,701.3 1552.7,707.6" fill="none" stroke="#1e1e1e" stroke-width="1.8" stroke-linejoin="round"/>
<polygon points="1518.9,707.4 1551,723.7 1539,729.9 1506.9,713.6" fill="#fff" stroke="#1e1e1e" stroke-width="2" stroke-linejoin="round"/>
<polygon points="1521.8,711.5 1536,719.8 1530.7,726.1" fill="none" stroke="#1e1e1e" stroke-width="1.8" stroke-linejoin="round"/>
<ellipse cx="1516" cy="656" rx="36" ry="64" transform="rotate(27 1516 656)" fill="#fff" stroke="#1e1e1e" stroke-width="2.4"/>
<ellipse cx="1518" cy="657" rx="31.7" ry="56.3" transform="rotate(27 1518 657)" fill="none" stroke="#1e1e1e" stroke-width="1.3"/>
<ellipse cx="1520" cy="658" rx="28.8" ry="51.2" transform="rotate(27 1520 658)" fill="none" stroke="#1e1e1e" stroke-width="2"/>
<polygon points="1502,628 1514,630 1507,639" fill="none" stroke="#1e1e1e" stroke-width="1.8" stroke-linejoin="round"/>
<polygon points="1522,640 1534,642 1527,651" fill="none" stroke="#1e1e1e" stroke-width="1.8" stroke-linejoin="round"/>
<polygon points="1490,665 1502,667 1495,676" fill="none" stroke="#1e1e1e" stroke-width="1.8" stroke-linejoin="round"/>
<polygon points="1497,690 1509,692 1502,701" fill="none" stroke="#1e1e1e" stroke-width="1.8" stroke-linejoin="round"/>
<polygon points="1525,690 1537,692 1530,701" fill="none" stroke="#1e1e1e" stroke-width="1.8" stroke-linejoin="round"/>
<ellipse cx="1522" cy="658" rx="9" ry="17" transform="rotate(27 1522 658)" fill="none" stroke="#1e1e1e" stroke-width="2.2"/>
<ellipse cx="1522" cy="658" rx="5" ry="9" transform="rotate(27 1522 658)" fill="none" stroke="#1e1e1e" stroke-width="1.4"/>
<ellipse cx="1535" cy="622" rx="2.5" ry="3" fill="none" stroke="#1e1e1e" stroke-width="1.6"/>
<ellipse cx="1543" cy="655" rx="2.5" ry="3" fill="none" stroke="#1e1e1e" stroke-width="1.6"/>
<ellipse cx="1518" cy="682" rx="2.5" ry="3" fill="none" stroke="#1e1e1e" stroke-width="1.6"/>
<ellipse cx="1497" cy="640" rx="2.5" ry="3" fill="none" stroke="#1e1e1e" stroke-width="1.6"/>
<ellipse cx="1476" cy="650" rx="8" ry="14" transform="rotate(27 1476 650)" fill="none" stroke="#1e1e1e" stroke-width="1.6"/>
<polygon points="1695.1,667.2 1695.3,667.4 1695.4,667.6 1695.5,667.8 1695.5,668.1 1695.5,668.4 1695.5,668.8 1695.4,669.1 1695.3,669.5 1695.1,669.9 1694.9,670.3 1694.7,670.7 1694.4,671 1694.1,671.4 1693.8,671.7 1693.5,672 1693.2,672.3 1692.8,672.5 1692.5,672.7 1692.2,672.9 1691.9,672.9 1691.6,673 1691.3,673 1691.1,672.9 1690.9,672.8 1667.7,655.4 1667.5,655.2 1667.4,655 1667.3,654.8 1667.3,654.5 1667.3,654.2 1667.3,653.8 1667.4,653.5 1667.5,653.1 1667.7,652.7 1667.9,652.3 1668.1,651.9 1668.4,651.6 1668.7,651.2 1669,650.9 1669.3,650.6 1669.6,650.3 1670,650.1 1670.3,649.9 1670.6,649.7 1670.9,649.7 1671.2,649.6 1671.5,649.6 1671.7,649.7 1671.9,649.8" fill="#fff" stroke="#1e1e1e" stroke-width="1.8" stroke-linejoin="round"/>
<ellipse cx="1669.8" cy="652.6" rx="1.8" ry="3.5" transform="rotate(-143.1 1669.8 652.6)" fill="none" stroke="#1e1e1e" stroke-width="1.8"/>
<polygon points="1674,647 1674.3,647.3 1674.6,647.7 1674.8,648.2 1674.8,648.8 1674.8,649.4 1674.7,650.1 1674.6,650.9 1674.3,651.6 1674,652.4 1673.6,653.2 1673.1,654 1672.6,654.7 1672,655.4 1671.4,656.1 1670.8,656.7 1670.1,657.2 1669.5,657.7 1668.8,658 1668.2,658.3 1667.6,658.5 1667,658.6 1666.5,658.6 1666,658.4 1665.6,658.2 1660.8,654.6 1660.5,654.3 1660.2,653.9 1660,653.4 1660,652.8 1660,652.2 1660.1,651.5 1660.2,650.7 1660.5,650 1660.8,649.2 1661.2,648.4 1661.7,647.6 1662.2,646.9 1662.8,646.2 1663.4,645.5 1664,644.9 1664.7,644.4 1665.3,643.9 1666,643.6 1666.6,643.3 1667.2,643.1 1667.8,643 1668.3,643 1668.8,643.2 1669.2,643.4" fill="#fff" stroke="#1e1e1e" stroke-width="1.8" stroke-linejoin="round"/>
<ellipse cx="1665" cy="649" rx="3.5" ry="7" transform="rotate(-143.1 1665 649)" fill="none" stroke="#1e1e1e" stroke-width="1.8"/>
<line x1="1664.7" y1="644.4" x2="1669.5" y2="648" stroke="#1e1e1e" stroke-width="1.2"/>
<line x1="1665.3" y1="653.6" x2="1670.1" y2="657.2" stroke="#1e1e1e" stroke-width="1.2"/>
<polygon points="1664.7,644.4 1669.2,643.4 1669.5,648 1665.3,653.6 1660.8,654.6 1660.5,650" fill="none" stroke="#1e1e1e" stroke-width="1.3" stroke-linejoin="round"/>
<polygon points="1741.6,651.3 1740.8,650.7 1740.2,650 1739.7,649.1 1739.3,648 1739.1,646.8 1739,645.5 1739.1,644.1 1739.4,642.6 1739.8,641 1740.3,639.5 1741,638 1741.8,636.5 1742.7,635 1743.7,633.7 1744.7,632.4 1745.8,631.3 1747,630.3 1748.2,629.5 1749.3,628.9 1750.5,628.5 1751.6,628.2 1752.6,628.2 1753.6,628.3 1754.4,628.7 1768.4,636.7 1769.2,637.3 1769.8,638 1770.3,638.9 1770.7,640 1770.9,641.2 1771,642.5 1770.9,643.9 1770.6,645.4 1770.2,647 1769.7,648.5 1769,650 1768.2,651.5 1767.3,653 1766.3,654.3 1765.3,655.6 1764.2,656.7 1763,657.7 1761.8,658.5 1760.7,659.1 1759.5,659.5 1758.4,659.8 1757.4,659.8 1756.4,659.7 1755.6,659.3" fill="#fff" stroke="#1e1e1e" stroke-width="1.9" stroke-linejoin="round"/>
<ellipse cx="1762" cy="648" rx="7.2" ry="13" transform="rotate(29.7 1762 648)" fill="none" stroke="#1e1e1e" stroke-width="1.9"/>
<ellipse cx="1751" cy="644" rx="5" ry="8" transform="rotate(30 1751 644)" fill="none" stroke="#1e1e1e" stroke-width="1.9"/>
<polyline points="1741,654 1735,680 1747,682 1760,651" fill="#fff" stroke="#1e1e1e" stroke-width="1.9" stroke-linejoin="round"/>
<polygon points="1726.3,709.6 1725.3,708.8 1724.5,707.8 1723.9,706.6 1723.4,705.2 1723.2,703.6 1723.1,701.9 1723.3,700.1 1723.7,698.1 1724.2,696.1 1725,694.1 1725.9,692.1 1727,690.2 1728.2,688.3 1729.5,686.6 1730.9,685 1732.4,683.5 1734,682.3 1735.5,681.3 1737.1,680.5 1738.6,680 1740,679.7 1741.4,679.7 1742.6,679.9 1743.7,680.4 1753.7,686.4 1754.7,687.2 1755.5,688.2 1756.1,689.4 1756.6,690.8 1756.8,692.4 1756.9,694.1 1756.7,695.9 1756.3,697.9 1755.8,699.9 1755,701.9 1754.1,703.9 1753,705.8 1751.8,707.7 1750.5,709.4 1749.1,711 1747.6,712.5 1746,713.7 1744.5,714.7 1742.9,715.5 1741.4,716 1740,716.3 1738.6,716.3 1737.4,716.1 1736.3,715.6" fill="#fff" stroke="#1e1e1e" stroke-width="1.9" stroke-linejoin="round"/>
<ellipse cx="1745" cy="701" rx="9.4" ry="17" transform="rotate(31 1745 701)" fill="none" stroke="#1e1e1e" stroke-width="1.9"/>
<ellipse cx="1742" cy="699" rx="6.5" ry="10" transform="rotate(30 1742 699)" fill="none" stroke="#1e1e1e" stroke-width="1.9"/>
<circle cx="1757" cy="699" r="1.5" fill="#222"/>
<polygon points="1715.8,699.2 1716.6,698.9 1717.5,698.8 1718.4,698.9 1719.4,699.2 1720.5,699.7 1721.5,700.3 1722.5,701.1 1723.5,702.1 1724.5,703.2 1725.4,704.4 1726.2,705.7 1726.9,707.1 1727.6,708.6 1728.1,710 1728.5,711.5 1728.8,712.9 1728.9,714.3 1728.9,715.6 1728.8,716.8 1728.5,717.9 1728.1,718.9 1727.6,719.7 1727,720.3 1726.2,720.8 1695.2,735.8 1694.4,736.1 1693.5,736.2 1692.6,736.1 1691.6,735.8 1690.5,735.3 1689.5,734.7 1688.5,733.9 1687.5,732.9 1686.5,731.8 1685.6,730.6 1684.8,729.3 1684.1,727.9 1683.4,726.4 1682.9,725 1682.5,723.5 1682.2,722.1 1682.1,720.7 1682.1,719.4 1682.2,718.2 1682.5,717.1 1682.9,716.1 1683.4,715.3 1684,714.7 1684.8,714.2" fill="#fff" stroke="#1e1e1e" stroke-width="1.9" stroke-linejoin="round"/>
<ellipse cx="1690" cy="725" rx="6.6" ry="12" transform="rotate(154.2 1690 725)" fill="none" stroke="#1e1e1e" stroke-width="1.9"/>
<ellipse cx="1692" cy="724" rx="5" ry="9" transform="rotate(-30 1692 724)" fill="none" stroke="#1e1e1e" stroke-width="1.4"/>
<ellipse cx="1658" cy="741" rx="5.5" ry="8.5" transform="rotate(-30 1658 741)" fill="none" stroke="#1e1e1e" stroke-width="3"/>
<ellipse cx="1672" cy="733" rx="5.5" ry="8.5" transform="rotate(-30 1672 733)" fill="none" stroke="#1e1e1e" stroke-width="3"/>
<polygon points="1642.7,737.1 1643.3,736.9 1643.9,736.8 1644.6,736.9 1645.3,737.1 1646,737.4 1646.8,737.9 1647.5,738.5 1648.3,739.2 1649,740 1649.7,740.9 1650.4,741.8 1651,742.9 1651.5,743.9 1651.9,745 1652.3,746.1 1652.6,747.1 1652.7,748.1 1652.8,749.1 1652.8,750 1652.7,750.8 1652.5,751.5 1652.2,752.1 1651.8,752.6 1651.3,752.9 1614.3,772.9 1613.7,773.1 1613.1,773.2 1612.4,773.1 1611.7,772.9 1611,772.6 1610.2,772.1 1609.5,771.5 1608.7,770.8 1608,770 1607.3,769.1 1606.6,768.2 1606,767.1 1605.5,766.1 1605.1,765 1604.7,763.9 1604.4,762.9 1604.3,761.9 1604.2,760.9 1604.2,760 1604.3,759.2 1604.5,758.5 1604.8,757.9 1605.2,757.4 1605.7,757.1" fill="#fff" stroke="#1e1e1e" stroke-width="1.9" stroke-linejoin="round"/>
<ellipse cx="1610" cy="765" rx="4.5" ry="9" transform="rotate(151.6 1610 765)" fill="none" stroke="#1e1e1e" stroke-width="1.9"/>
<ellipse cx="1618" cy="760" rx="3" ry="9" transform="rotate(-27 1618 760)" fill="none" stroke="#1e1e1e" stroke-width="3"/>
<ellipse cx="1628" cy="755" rx="3" ry="9" transform="rotate(-27 1628 755)" fill="none" stroke="#1e1e1e" stroke-width="3"/>
<polygon points="1593,765 1610,762 1613,775 1606,800 1596,806 1586,800 1590,780" fill="#fff" stroke="#1e1e1e" stroke-width="1.9" stroke-linejoin="round"/>
<polygon points="1591.1,790.8 1591.5,790.6 1591.9,790.6 1592.3,790.6 1592.8,790.7 1593.3,791 1593.8,791.3 1594.3,791.7 1594.8,792.1 1595.3,792.6 1595.8,793.2 1596.2,793.9 1596.6,794.5 1597,795.2 1597.3,796 1597.5,796.7 1597.7,797.4 1597.9,798 1597.9,798.7 1597.9,799.3 1597.8,799.8 1597.7,800.3 1597.5,800.7 1597.2,801 1596.9,801.2 1587.9,806.2 1587.5,806.4 1587.1,806.4 1586.7,806.4 1586.2,806.3 1585.7,806 1585.2,805.7 1584.7,805.3 1584.2,804.9 1583.7,804.4 1583.2,803.8 1582.8,803.1 1582.4,802.5 1582,801.8 1581.7,801 1581.5,800.3 1581.3,799.6 1581.1,799 1581.1,798.3 1581.1,797.7 1581.2,797.2 1581.3,796.7 1581.5,796.3 1581.8,796 1582.1,795.8" fill="#fff" stroke="#1e1e1e" stroke-width="1.7" stroke-linejoin="round"/>
<ellipse cx="1585" cy="801" rx="3" ry="6" transform="rotate(150.9 1585 801)" fill="none" stroke="#1e1e1e" stroke-width="1.7"/>
<polygon points="1548,808 1570,797 1576,802 1576,822 1557,832 1548,826" fill="#fff" stroke="#1e1e1e" stroke-width="1.9" stroke-linejoin="round"/>
<line x1="1548" y1="808" x2="1554" y2="812" stroke="#1e1e1e" stroke-width="1.4"/>
<line x1="1554" y1="812" x2="1576" y2="802" stroke="#1e1e1e" stroke-width="1.4"/>
<line x1="1554" y1="812" x2="1557" y2="832" stroke="#1e1e1e" stroke-width="1.4"/>
<line x1="1551" y1="810" x2="1551" y2="828" stroke="#1e1e1e" stroke-width="1.2"/>
<circle cx="1569" cy="815" r="1.4" fill="#222"/>
<polygon points="1219.8,802.2 1218.3,801.1 1217.2,799.6 1216.3,797.8 1215.7,795.7 1215.4,793.4 1215.4,790.8 1215.7,788.1 1216.3,785.3 1217.2,782.4 1218.3,779.4 1219.7,776.5 1221.3,773.7 1223.2,771 1225.2,768.5 1227.3,766.2 1229.5,764.1 1231.8,762.3 1234.1,760.9 1236.4,759.7 1238.6,759 1240.8,758.6 1242.8,758.6 1244.6,759 1246.2,759.8 1254.2,764.8 1255.7,765.9 1256.8,767.4 1257.7,769.2 1258.3,771.3 1258.6,773.6 1258.6,776.2 1258.3,778.9 1257.7,781.7 1256.8,784.6 1255.7,787.6 1254.3,790.5 1252.7,793.3 1250.8,796 1248.8,798.5 1246.7,800.8 1244.5,802.9 1242.2,804.7 1239.9,806.1 1237.6,807.3 1235.4,808 1233.2,808.4 1231.2,808.4 1229.4,808 1227.8,807.2" fill="#fff" stroke="#1e1e1e" stroke-width="2" stroke-linejoin="round"/>
<ellipse cx="1241" cy="786" rx="13.8" ry="25" transform="rotate(32 1241 786)" fill="none" stroke="#1e1e1e" stroke-width="2"/>
<ellipse cx="1241" cy="787" rx="14" ry="22" transform="rotate(27 1241 787)" fill="none" stroke="#1e1e1e" stroke-width="1.4"/>
<ellipse cx="1242" cy="787" rx="10" ry="17" transform="rotate(27 1242 787)" fill="none" stroke="#1e1e1e" stroke-width="3.4"/>
<ellipse cx="1243" cy="787" rx="6" ry="10" transform="rotate(27 1243 787)" fill="none" stroke="#1e1e1e" stroke-width="2"/>
<ellipse cx="1268" cy="801" rx="14" ry="23" transform="rotate(30 1268 801)" fill="none" stroke="#1e1e1e" stroke-width="2.4"/>
<ellipse cx="1284" cy="810" rx="6" ry="10" transform="rotate(30 1284 810)" fill="none" stroke="#1e1e1e" stroke-width="2.4"/>
<ellipse cx="1300" cy="817" rx="6" ry="10" transform="rotate(30 1300 817)" fill="none" stroke="#1e1e1e" stroke-width="2.4"/>
<path d="M1306,835 Q1308,815 1325,806 L1345,803 Q1360,805 1360,820 L1358,848 Q1350,862 1330,868 L1315,865 Q1303,858 1303,845 Z" fill="#fff" stroke="#1e1e1e" stroke-width="2" stroke-linejoin="round"/>
<ellipse cx="1335" cy="836" rx="14" ry="22" transform="rotate(30 1335 836)" fill="none" stroke="#1e1e1e" stroke-width="2.2"/>
<ellipse cx="1337" cy="837" rx="10" ry="17" transform="rotate(30 1337 837)" fill="none" stroke="#1e1e1e" stroke-width="3.2"/>
<ellipse cx="1336" cy="836.5" rx="8" ry="14" transform="rotate(30 1336 836.5)" fill="none" stroke="#1e1e1e" stroke-width="1"/>
<ellipse cx="1337" cy="837" rx="7.5" ry="13" transform="rotate(30 1337 837)" fill="none" stroke="#1e1e1e" stroke-width="1"/>
<ellipse cx="1338" cy="837.5" rx="7" ry="12" transform="rotate(30 1338 837.5)" fill="none" stroke="#1e1e1e" stroke-width="1"/>
<ellipse cx="1339" cy="838" rx="6.5" ry="11" transform="rotate(30 1339 838)" fill="none" stroke="#1e1e1e" stroke-width="1"/>
<ellipse cx="1317" cy="830" rx="2.5" ry="3.5" fill="none" stroke="#1e1e1e" stroke-width="1.4"/>
<ellipse cx="1349" cy="812" rx="2.5" ry="3.5" fill="none" stroke="#1e1e1e" stroke-width="1.4"/>
<ellipse cx="1320" cy="861" rx="2.5" ry="3.5" fill="none" stroke="#1e1e1e" stroke-width="1.4"/>
<polygon points="1337.8,852.4 1337.1,851.9 1336.6,851.3 1336.1,850.4 1335.8,849.4 1335.6,848.2 1335.6,846.9 1335.7,845.5 1336,844.1 1336.4,842.5 1336.9,841 1337.5,839.4 1338.3,837.9 1339.1,836.5 1340.1,835.1 1341.1,833.8 1342.1,832.6 1343.2,831.6 1344.3,830.7 1345.4,830 1346.5,829.5 1347.5,829.2 1348.5,829.1 1349.4,829.2 1350.2,829.6 1363.2,836.6 1363.9,837.1 1364.4,837.7 1364.9,838.6 1365.2,839.6 1365.4,840.8 1365.4,842.1 1365.3,843.5 1365,844.9 1364.6,846.5 1364.1,848 1363.5,849.6 1362.7,851.1 1361.9,852.5 1360.9,853.9 1359.9,855.2 1358.9,856.4 1357.8,857.4 1356.7,858.3 1355.6,859 1354.5,859.5 1353.5,859.8 1352.5,859.9 1351.6,859.8 1350.8,859.4" fill="#fff" stroke="#1e1e1e" stroke-width="2" stroke-linejoin="round"/>
<ellipse cx="1357" cy="848" rx="6.5" ry="13" transform="rotate(28.3 1357 848)" fill="none" stroke="#1e1e1e" stroke-width="2"/>
<ellipse cx="1357" cy="848" rx="6" ry="13" transform="rotate(27 1357 848)" fill="none" stroke="#1e1e1e" stroke-width="3.2"/>
<polygon points="1364.7,870.3 1363.8,869.7 1363,868.8 1362.4,867.7 1362,866.4 1361.7,864.9 1361.6,863.2 1361.7,861.3 1362,859.4 1362.5,857.4 1363.1,855.4 1363.9,853.3 1364.9,851.3 1365.9,849.4 1367.1,847.5 1368.4,845.8 1369.7,844.3 1371.1,842.9 1372.5,841.7 1373.9,840.8 1375.3,840.1 1376.7,839.7 1377.9,839.6 1379.1,839.7 1380.2,840 1383.7,841.9 1384.6,842.5 1385.4,843.4 1386,844.5 1386.5,845.8 1386.7,847.3 1386.8,849 1386.7,850.8 1386.4,852.8 1386,854.8 1385.3,856.8 1384.5,858.8 1383.6,860.9 1382.5,862.8 1381.3,864.6 1380,866.4 1378.7,867.9 1377.3,869.3 1375.9,870.4 1374.5,871.4 1373.1,872 1371.8,872.5 1370.5,872.6 1369.3,872.5 1368.3,872.1" fill="#fff" stroke="#1e1e1e" stroke-width="2.2" stroke-linejoin="round"/>
<ellipse cx="1376" cy="857" rx="8.5" ry="17" transform="rotate(27 1376 857)" fill="none" stroke="#1e1e1e" stroke-width="2.2"/>
<ellipse cx="1376" cy="857" rx="6.1" ry="12.2" transform="rotate(27 1376 857)" fill="none" stroke="#1e1e1e" stroke-width="2.2"/>
<ellipse cx="1391" cy="866" rx="7.5" ry="15" transform="rotate(27 1391 866)" fill="#fff" stroke="#1e1e1e" stroke-width="2.4"/>
<ellipse cx="1391" cy="866" rx="5.2" ry="10.5" transform="rotate(27 1391 866)" fill="none" stroke="#1e1e1e" stroke-width="2.4"/>
<line x1="1392" y1="853" x2="1400" y2="845" stroke="#1e1e1e" stroke-width="2.8"/>
<polygon points="1396.6,886.5 1395.8,886 1395.1,885.2 1394.6,884.2 1394.2,883.1 1394,881.7 1393.9,880.2 1394,878.6 1394.2,876.9 1394.7,875.2 1395.2,873.4 1395.9,871.6 1396.8,869.8 1397.7,868.1 1398.7,866.4 1399.9,864.9 1401.1,863.6 1402.3,862.3 1403.5,861.3 1404.8,860.5 1406,859.9 1407.2,859.5 1408.3,859.4 1409.3,859.5 1410.2,859.8 1413.8,861.6 1414.6,862.2 1415.3,863 1415.8,864 1416.2,865.1 1416.5,866.5 1416.5,868 1416.4,869.6 1416.2,871.3 1415.8,873 1415.2,874.8 1414.5,876.6 1413.7,878.4 1412.7,880.1 1411.7,881.7 1410.6,883.3 1409.4,884.6 1408.2,885.8 1406.9,886.9 1405.7,887.7 1404.4,888.3 1403.3,888.7 1402.2,888.8 1401.1,888.7 1400.2,888.4" fill="#fff" stroke="#1e1e1e" stroke-width="2.2" stroke-linejoin="round"/>
<ellipse cx="1407" cy="875" rx="7.5" ry="15" transform="rotate(27 1407 875)" fill="none" stroke="#1e1e1e" stroke-width="2.2"/>
<ellipse cx="1407" cy="875" rx="5.2" ry="10.5" transform="rotate(27 1407 875)" fill="none" stroke="#1e1e1e" stroke-width="2.2"/>
<polygon points="1416.8,882.8 1416.6,882.7 1416.5,882.5 1416.4,882.3 1416.3,882.1 1416.2,881.8 1416.2,881.5 1416.2,881.2 1416.2,880.9 1416.3,880.5 1416.4,880.1 1416.5,879.8 1416.6,879.4 1416.8,879.1 1417,878.7 1417.2,878.4 1417.4,878.1 1417.6,877.9 1417.9,877.6 1418.1,877.5 1418.3,877.3 1418.6,877.2 1418.8,877.2 1419,877.2 1419.2,877.2 1433.2,883.2 1433.4,883.3 1433.5,883.5 1433.6,883.7 1433.7,883.9 1433.8,884.2 1433.8,884.5 1433.8,884.8 1433.8,885.1 1433.7,885.5 1433.6,885.9 1433.5,886.2 1433.4,886.6 1433.2,886.9 1433,887.3 1432.8,887.6 1432.6,887.9 1432.4,888.1 1432.1,888.4 1431.9,888.5 1431.7,888.7 1431.4,888.8 1431.2,888.8 1431,888.8 1430.8,888.8" fill="#fff" stroke="#1e1e1e" stroke-width="1.6" stroke-linejoin="round"/>
<ellipse cx="1432" cy="886" rx="1.5" ry="3" transform="rotate(23.2 1432 886)" fill="none" stroke="#1e1e1e" stroke-width="1.6"/>
<polygon points="1420.4,902.2 1419.5,901.6 1418.7,900.7 1418.1,899.6 1417.6,898.3 1417.3,896.7 1417.2,895.1 1417.3,893.2 1417.6,891.3 1418.1,889.3 1418.7,887.3 1419.5,885.2 1420.4,883.2 1421.5,881.2 1422.6,879.4 1423.9,877.7 1425.2,876.1 1426.6,874.7 1428,873.6 1429.4,872.6 1430.8,871.9 1432.1,871.5 1433.4,871.3 1434.5,871.4 1435.6,871.8 1459.6,883.8 1460.5,884.4 1461.3,885.3 1461.9,886.4 1462.4,887.7 1462.7,889.3 1462.8,890.9 1462.7,892.8 1462.4,894.7 1461.9,896.7 1461.3,898.7 1460.5,900.8 1459.6,902.8 1458.5,904.8 1457.4,906.6 1456.1,908.3 1454.8,909.9 1453.4,911.3 1452,912.4 1450.6,913.4 1449.2,914.1 1447.9,914.5 1446.6,914.7 1445.5,914.6 1444.4,914.2" fill="#fff" stroke="#1e1e1e" stroke-width="1.9" stroke-linejoin="round"/>
<ellipse cx="1452" cy="899" rx="8.5" ry="17" transform="rotate(26.6 1452 899)" fill="none" stroke="#1e1e1e" stroke-width="1.9"/>
<polygon points="1444.6,908.7 1444,908.3 1443.4,907.7 1443,906.9 1442.7,906 1442.5,904.9 1442.4,903.7 1442.5,902.4 1442.7,901 1443,899.6 1443.4,898.2 1444,896.7 1444.6,895.3 1445.4,893.9 1446.2,892.6 1447.1,891.4 1448,890.3 1449,889.3 1450,888.5 1451,887.9 1452,887.4 1452.9,887.1 1453.8,886.9 1454.6,887 1455.4,887.3 1467.4,893.3 1468,893.7 1468.6,894.3 1469,895.1 1469.3,896 1469.5,897.1 1469.6,898.3 1469.5,899.6 1469.3,901 1469,902.4 1468.6,903.8 1468,905.3 1467.4,906.7 1466.6,908.1 1465.8,909.4 1464.9,910.6 1464,911.7 1463,912.7 1462,913.5 1461,914.1 1460,914.6 1459.1,914.9 1458.2,915.1 1457.4,915 1456.6,914.7" fill="#fff" stroke="#1e1e1e" stroke-width="1.9" stroke-linejoin="round"/>
<ellipse cx="1462" cy="904" rx="6" ry="12" transform="rotate(26.6 1462 904)" fill="none" stroke="#1e1e1e" stroke-width="1.9"/>
<ellipse cx="1462" cy="904" rx="5" ry="7" transform="rotate(27 1462 904)" fill="none" stroke="#1e1e1e" stroke-width="2.6"/>
<polygon points="1463.2,912.3 1462.9,912.1 1462.6,911.8 1462.4,911.4 1462.2,910.9 1462.2,910.4 1462.1,909.8 1462.2,909.1 1462.3,908.4 1462.5,907.7 1462.7,907 1463,906.3 1463.3,905.6 1463.7,904.9 1464.2,904.3 1464.6,903.7 1465.1,903.1 1465.6,902.7 1466.1,902.3 1466.6,901.9 1467.1,901.7 1467.6,901.6 1468,901.5 1468.4,901.6 1468.8,901.7 1502.8,919.7 1503.1,919.9 1503.4,920.2 1503.6,920.6 1503.8,921.1 1503.8,921.6 1503.9,922.2 1503.8,922.9 1503.7,923.6 1503.5,924.3 1503.3,925 1503,925.7 1502.7,926.4 1502.3,927.1 1501.8,927.7 1501.4,928.3 1500.9,928.9 1500.4,929.3 1499.9,929.7 1499.4,930.1 1498.9,930.3 1498.4,930.4 1498,930.5 1497.6,930.4 1497.2,930.3" fill="#fff" stroke="#1e1e1e" stroke-width="1.8" stroke-linejoin="round"/>
<ellipse cx="1500" cy="925" rx="3" ry="6" transform="rotate(27.9 1500 925)" fill="none" stroke="#1e1e1e" stroke-width="1.8"/>
<ellipse cx="1486" cy="917" rx="2" ry="7" transform="rotate(27 1486 917)" fill="none" stroke="#1e1e1e" stroke-width="1.6"/>
<ellipse cx="1489" cy="918.6" rx="2" ry="7" transform="rotate(27 1489 918.6)" fill="none" stroke="#1e1e1e" stroke-width="1.6"/>
<ellipse cx="1492" cy="920.2" rx="2" ry="7" transform="rotate(27 1492 920.2)" fill="none" stroke="#1e1e1e" stroke-width="1.6"/>
<ellipse cx="1495" cy="921.8" rx="2" ry="7" transform="rotate(27 1495 921.8)" fill="none" stroke="#1e1e1e" stroke-width="1.6"/>
<ellipse cx="1498" cy="923.4" rx="2" ry="7" transform="rotate(27 1498 923.4)" fill="none" stroke="#1e1e1e" stroke-width="1.6"/>
<polygon points="1494.9,950.3 1493.4,949.3 1492.2,948 1491.2,946.3 1490.5,944.3 1490,942.1 1489.9,939.7 1489.9,937.1 1490.3,934.3 1490.9,931.5 1491.8,928.6 1493,925.7 1494.3,922.9 1495.9,920.2 1497.6,917.6 1499.5,915.2 1501.4,913.1 1503.5,911.2 1505.6,909.6 1507.7,908.4 1509.8,907.5 1511.8,907 1513.7,906.9 1515.5,907.1 1517.1,907.7 1559.1,929.7 1560.6,930.7 1561.8,932 1562.8,933.7 1563.5,935.7 1564,937.9 1564.1,940.3 1564.1,942.9 1563.7,945.7 1563.1,948.5 1562.2,951.4 1561,954.3 1559.7,957.1 1558.1,959.8 1556.4,962.4 1554.5,964.8 1552.6,966.9 1550.5,968.8 1548.4,970.4 1546.3,971.6 1544.2,972.5 1542.2,973 1540.3,973.1 1538.5,972.9 1536.9,972.3" fill="#fff" stroke="#1e1e1e" stroke-width="2" stroke-linejoin="round"/>
<ellipse cx="1548" cy="951" rx="13.2" ry="24" transform="rotate(27.6 1548 951)" fill="none" stroke="#1e1e1e" stroke-width="2"/>
<ellipse cx="1548" cy="951" rx="5" ry="9" transform="rotate(27 1548 951)" fill="none" stroke="#1e1e1e" stroke-width="2.2"/>
<polygon points="1530.1,949.5 1529.9,949.4 1529.7,949.2 1529.6,948.9 1529.5,948.6 1529.4,948.2 1529.4,947.8 1529.4,947.4 1529.5,946.9 1529.6,946.5 1529.8,946 1530,945.5 1530.2,945.1 1530.5,944.6 1530.8,944.2 1531.1,943.8 1531.4,943.4 1531.8,943.1 1532.1,942.8 1532.4,942.6 1532.8,942.5 1533.1,942.4 1533.4,942.4 1533.7,942.4 1533.9,942.5 1546.9,949.5 1547.1,949.6 1547.3,949.8 1547.4,950.1 1547.5,950.4 1547.6,950.8 1547.6,951.2 1547.6,951.6 1547.5,952.1 1547.4,952.5 1547.2,953 1547,953.5 1546.8,953.9 1546.5,954.4 1546.2,954.8 1545.9,955.2 1545.6,955.6 1545.2,955.9 1544.9,956.2 1544.6,956.4 1544.2,956.5 1543.9,956.6 1543.6,956.6 1543.3,956.6 1543.1,956.5" fill="#fff" stroke="#1e1e1e" stroke-width="1.6" stroke-linejoin="round"/>
<ellipse cx="1545" cy="953" rx="2" ry="4" transform="rotate(28.3 1545 953)" fill="none" stroke="#1e1e1e" stroke-width="1.6"/>
<polygon points="1584,935.6 1584.3,935.7 1584.5,936 1584.6,936.2 1584.7,936.6 1584.8,936.9 1584.8,937.4 1584.7,937.8 1584.7,938.2 1584.5,938.7 1584.4,939.2 1584.1,939.7 1583.9,940.1 1583.6,940.6 1583.3,941 1583,941.4 1582.6,941.7 1582.3,942 1581.9,942.2 1581.5,942.4 1581.2,942.5 1580.8,942.6 1580.5,942.6 1580.2,942.6 1580,942.4 1564,933 1563.8,932.8 1563.6,932.6 1563.4,932.3 1563.3,932 1563.3,931.6 1563.2,931.2 1563.3,930.8 1563.4,930.3 1563.5,929.8 1563.7,929.4 1563.9,928.9 1564.1,928.4 1564.4,928 1564.7,927.6 1565.1,927.2 1565.4,926.9 1565.8,926.6 1566.1,926.3 1566.5,926.1 1566.8,926 1567.2,926 1567.5,925.9 1567.8,926 1568.1,926.1" fill="#fff" stroke="#1e1e1e" stroke-width="1.9" stroke-linejoin="round"/>
<ellipse cx="1566" cy="929.6" rx="2.2" ry="4" transform="rotate(-149.4 1566 929.6)" fill="none" stroke="#1e1e1e" stroke-width="1.9"/>
<polygon points="1569.3,924 1569.7,924.3 1570,924.6 1570.3,925.1 1570.4,925.6 1570.5,926.2 1570.5,926.9 1570.5,927.6 1570.3,928.3 1570.1,929.1 1569.9,929.9 1569.5,930.6 1569.1,931.4 1568.6,932.1 1568.1,932.8 1567.6,933.4 1567,933.9 1566.5,934.4 1565.9,934.8 1565.3,935.1 1564.7,935.3 1564.1,935.4 1563.6,935.4 1563.1,935.3 1562.7,935.2 1556.7,931.6 1556.3,931.3 1556,930.9 1555.8,930.5 1555.6,929.9 1555.5,929.3 1555.5,928.7 1555.5,928 1555.7,927.2 1555.9,926.5 1556.2,925.7 1556.5,924.9 1556.9,924.2 1557.4,923.5 1557.9,922.8 1558.4,922.2 1559,921.6 1559.6,921.2 1560.2,920.8 1560.7,920.5 1561.3,920.2 1561.9,920.1 1562.4,920.1 1562.9,920.2 1563.3,920.4" fill="#fff" stroke="#1e1e1e" stroke-width="1.9" stroke-linejoin="round"/>
<ellipse cx="1560" cy="926" rx="3.6" ry="6.5" transform="rotate(-149.4 1560 926)" fill="none" stroke="#1e1e1e" stroke-width="1.9"/>
<ellipse cx="1579" cy="937" rx="2" ry="5" transform="rotate(30 1579 937)" fill="none" stroke="#1e1e1e" stroke-width="1.4"/>
<ellipse cx="1575" cy="934.6" rx="2" ry="5" transform="rotate(30 1575 934.6)" fill="none" stroke="#1e1e1e" stroke-width="1.4"/>
<ellipse cx="1571" cy="932.2" rx="2" ry="5" transform="rotate(30 1571 932.2)" fill="none" stroke="#1e1e1e" stroke-width="1.4"/>
<polygon points="1584,970.6 1584.3,970.7 1584.5,971 1584.6,971.2 1584.7,971.6 1584.8,971.9 1584.8,972.4 1584.7,972.8 1584.7,973.2 1584.5,973.7 1584.4,974.2 1584.1,974.7 1583.9,975.1 1583.6,975.6 1583.3,976 1583,976.4 1582.6,976.7 1582.3,977 1581.9,977.2 1581.5,977.4 1581.2,977.5 1580.8,977.6 1580.5,977.6 1580.2,977.6 1580,977.4 1564,968 1563.8,967.8 1563.6,967.6 1563.4,967.3 1563.3,967 1563.3,966.6 1563.2,966.2 1563.3,965.8 1563.4,965.3 1563.5,964.8 1563.7,964.4 1563.9,963.9 1564.1,963.4 1564.4,963 1564.7,962.6 1565.1,962.2 1565.4,961.9 1565.8,961.6 1566.1,961.3 1566.5,961.1 1566.8,961 1567.2,961 1567.5,960.9 1567.8,961 1568.1,961.1" fill="#fff" stroke="#1e1e1e" stroke-width="1.9" stroke-linejoin="round"/>
<ellipse cx="1566" cy="964.6" rx="2.2" ry="4" transform="rotate(-149.4 1566 964.6)" fill="none" stroke="#1e1e1e" stroke-width="1.9"/>
<polygon points="1569.3,959 1569.7,959.3 1570,959.6 1570.3,960.1 1570.4,960.6 1570.5,961.2 1570.5,961.9 1570.5,962.6 1570.3,963.3 1570.1,964.1 1569.9,964.9 1569.5,965.6 1569.1,966.4 1568.6,967.1 1568.1,967.8 1567.6,968.4 1567,968.9 1566.5,969.4 1565.9,969.8 1565.3,970.1 1564.7,970.3 1564.1,970.4 1563.6,970.4 1563.1,970.3 1562.7,970.2 1556.7,966.6 1556.3,966.3 1556,965.9 1555.8,965.5 1555.6,964.9 1555.5,964.3 1555.5,963.7 1555.5,963 1555.7,962.2 1555.9,961.5 1556.2,960.7 1556.5,959.9 1556.9,959.2 1557.4,958.5 1557.9,957.8 1558.4,957.2 1559,956.6 1559.6,956.2 1560.2,955.8 1560.7,955.5 1561.3,955.2 1561.9,955.1 1562.4,955.1 1562.9,955.2 1563.3,955.4" fill="#fff" stroke="#1e1e1e" stroke-width="1.9" stroke-linejoin="round"/>
<ellipse cx="1560" cy="961" rx="3.6" ry="6.5" transform="rotate(-149.4 1560 961)" fill="none" stroke="#1e1e1e" stroke-width="1.9"/>
<ellipse cx="1579" cy="972" rx="2" ry="5" transform="rotate(30 1579 972)" fill="none" stroke="#1e1e1e" stroke-width="1.4"/>
<ellipse cx="1575" cy="969.6" rx="2" ry="5" transform="rotate(30 1575 969.6)" fill="none" stroke="#1e1e1e" stroke-width="1.4"/>
<ellipse cx="1571" cy="967.2" rx="2" ry="5" transform="rotate(30 1571 967.2)" fill="none" stroke="#1e1e1e" stroke-width="1.4"/>
<polygon points="1553.1,987.6 1553.3,987.8 1553.5,988 1553.7,988.3 1553.8,988.6 1553.8,989 1553.8,989.4 1553.8,989.8 1553.7,990.3 1553.5,990.8 1553.4,991.2 1553.1,991.7 1552.9,992.2 1552.6,992.6 1552.3,993 1551.9,993.4 1551.6,993.7 1551.2,994 1550.8,994.2 1550.5,994.4 1550.1,994.5 1549.8,994.6 1549.5,994.6 1549.2,994.5 1548.9,994.4 1533.8,985.1 1533.6,984.9 1533.4,984.7 1533.3,984.4 1533.2,984.1 1533.1,983.7 1533.1,983.3 1533.2,982.8 1533.3,982.4 1533.4,981.9 1533.6,981.4 1533.8,981 1534.1,980.5 1534.4,980.1 1534.7,979.7 1535,979.3 1535.4,979 1535.7,978.7 1536.1,978.5 1536.5,978.3 1536.8,978.2 1537.2,978.1 1537.5,978.1 1537.8,978.2 1538.1,978.3" fill="#fff" stroke="#1e1e1e" stroke-width="1.9" stroke-linejoin="round"/>
<ellipse cx="1536" cy="981.7" rx="2.2" ry="4" transform="rotate(-148.2 1536 981.7)" fill="none" stroke="#1e1e1e" stroke-width="1.9"/>
<polygon points="1539.4,976.2 1539.7,976.5 1540,976.8 1540.3,977.3 1540.4,977.8 1540.5,978.4 1540.5,979.1 1540.4,979.8 1540.3,980.6 1540.1,981.3 1539.8,982.1 1539.4,982.8 1539,983.6 1538.5,984.3 1538,984.9 1537.5,985.5 1536.9,986.1 1536.3,986.5 1535.7,986.9 1535.1,987.2 1534.5,987.4 1534,987.5 1533.4,987.5 1533,987.4 1532.5,987.2 1526.6,983.5 1526.2,983.2 1525.9,982.9 1525.7,982.4 1525.5,981.8 1525.4,981.2 1525.4,980.6 1525.5,979.9 1525.7,979.1 1525.9,978.4 1526.2,977.6 1526.5,976.9 1527,976.1 1527.4,975.4 1527.9,974.8 1528.5,974.1 1529.1,973.6 1529.7,973.1 1530.3,972.8 1530.9,972.5 1531.4,972.3 1532,972.2 1532.5,972.2 1533,972.3 1533.4,972.5" fill="#fff" stroke="#1e1e1e" stroke-width="1.9" stroke-linejoin="round"/>
<ellipse cx="1530" cy="978" rx="3.6" ry="6.5" transform="rotate(-148.2 1530 978)" fill="none" stroke="#1e1e1e" stroke-width="1.9"/>
<ellipse cx="1548" cy="989" rx="2" ry="5" transform="rotate(30 1548 989)" fill="none" stroke="#1e1e1e" stroke-width="1.4"/>
<ellipse cx="1544" cy="986.6" rx="2" ry="5" transform="rotate(30 1544 986.6)" fill="none" stroke="#1e1e1e" stroke-width="1.4"/>
<ellipse cx="1540" cy="984.2" rx="2" ry="5" transform="rotate(30 1540 984.2)" fill="none" stroke="#1e1e1e" stroke-width="1.4"/>
<polygon points="1554.1,954.6 1554.3,954.8 1554.5,955 1554.7,955.3 1554.8,955.6 1554.8,956 1554.8,956.4 1554.8,956.8 1554.7,957.3 1554.5,957.8 1554.4,958.2 1554.1,958.7 1553.9,959.2 1553.6,959.6 1553.3,960 1552.9,960.4 1552.6,960.7 1552.2,961 1551.8,961.2 1551.5,961.4 1551.1,961.5 1550.8,961.6 1550.5,961.6 1550.2,961.5 1549.9,961.4 1534.8,952.1 1534.6,951.9 1534.4,951.7 1534.3,951.4 1534.2,951.1 1534.1,950.7 1534.1,950.3 1534.2,949.8 1534.3,949.4 1534.4,948.9 1534.6,948.4 1534.8,948 1535.1,947.5 1535.4,947.1 1535.7,946.7 1536,946.3 1536.4,946 1536.7,945.7 1537.1,945.5 1537.5,945.3 1537.8,945.2 1538.2,945.1 1538.5,945.1 1538.8,945.2 1539.1,945.3" fill="#fff" stroke="#1e1e1e" stroke-width="1.9" stroke-linejoin="round"/>
<ellipse cx="1537" cy="948.7" rx="2.2" ry="4" transform="rotate(-148.2 1537 948.7)" fill="none" stroke="#1e1e1e" stroke-width="1.9"/>
<polygon points="1540.4,943.2 1540.7,943.5 1541,943.8 1541.3,944.3 1541.4,944.8 1541.5,945.4 1541.5,946.1 1541.4,946.8 1541.3,947.6 1541.1,948.3 1540.8,949.1 1540.4,949.8 1540,950.6 1539.5,951.3 1539,951.9 1538.5,952.5 1537.9,953.1 1537.3,953.5 1536.7,953.9 1536.1,954.2 1535.5,954.4 1535,954.5 1534.4,954.5 1534,954.4 1533.5,954.2 1527.6,950.5 1527.2,950.2 1526.9,949.9 1526.7,949.4 1526.5,948.8 1526.4,948.2 1526.4,947.6 1526.5,946.9 1526.7,946.1 1526.9,945.4 1527.2,944.6 1527.5,943.9 1528,943.1 1528.4,942.4 1528.9,941.8 1529.5,941.1 1530.1,940.6 1530.7,940.1 1531.3,939.8 1531.9,939.5 1532.4,939.3 1533,939.2 1533.5,939.2 1534,939.3 1534.4,939.5" fill="#fff" stroke="#1e1e1e" stroke-width="1.9" stroke-linejoin="round"/>
<ellipse cx="1531" cy="945" rx="3.6" ry="6.5" transform="rotate(-148.2 1531 945)" fill="none" stroke="#1e1e1e" stroke-width="1.9"/>
<ellipse cx="1549" cy="956" rx="2" ry="5" transform="rotate(30 1549 956)" fill="none" stroke="#1e1e1e" stroke-width="1.4"/>
<ellipse cx="1545" cy="953.6" rx="2" ry="5" transform="rotate(30 1545 953.6)" fill="none" stroke="#1e1e1e" stroke-width="1.4"/>
<ellipse cx="1541" cy="951.2" rx="2" ry="5" transform="rotate(30 1541 951.2)" fill="none" stroke="#1e1e1e" stroke-width="1.4"/>
<polygon points="1220.9,850.4 1220.7,850.3 1220.6,850 1220.4,849.8 1220.4,849.5 1220.3,849.1 1220.3,848.7 1220.4,848.3 1220.5,847.8 1220.6,847.4 1220.8,846.9 1221,846.4 1221.3,846 1221.6,845.5 1221.9,845.1 1222.2,844.7 1222.5,844.4 1222.9,844.1 1223.2,843.8 1223.6,843.7 1223.9,843.5 1224.2,843.4 1224.5,843.4 1224.8,843.5 1225.1,843.6 1235.1,849.6 1235.3,849.7 1235.4,850 1235.6,850.2 1235.6,850.5 1235.7,850.9 1235.7,851.3 1235.6,851.7 1235.5,852.2 1235.4,852.6 1235.2,853.1 1235,853.6 1234.7,854 1234.4,854.5 1234.1,854.9 1233.8,855.3 1233.5,855.6 1233.1,855.9 1232.8,856.2 1232.4,856.3 1232.1,856.5 1231.8,856.6 1231.5,856.6 1231.2,856.5 1230.9,856.4" fill="#fff" stroke="#1e1e1e" stroke-width="1.6" stroke-linejoin="round"/>
<ellipse cx="1233" cy="853" rx="2" ry="4" transform="rotate(31 1233 853)" fill="none" stroke="#1e1e1e" stroke-width="1.6"/>
<polygon points="1238.4,861.9 1237.6,861.3 1236.9,860.6 1236.4,859.7 1236,858.6 1235.7,857.5 1235.6,856.2 1235.6,854.9 1235.8,853.5 1236.2,852 1236.6,850.6 1237.2,849.2 1238,847.8 1238.8,846.5 1239.7,845.2 1240.7,844.1 1241.8,843.1 1242.9,842.2 1244.1,841.5 1245.2,841 1246.4,840.6 1247.5,840.5 1248.5,840.5 1249.5,840.7 1250.4,841.1 1253,842.6 1253.8,843.2 1254.5,843.9 1255,844.8 1255.4,845.9 1255.7,847 1255.8,848.3 1255.8,849.6 1255.6,851 1255.2,852.5 1254.8,853.9 1254.2,855.3 1253.4,856.7 1252.6,858 1251.7,859.3 1250.7,860.4 1249.6,861.4 1248.5,862.3 1247.3,863 1246.2,863.5 1245,863.9 1243.9,864 1242.9,864 1241.9,863.8 1241,863.4" fill="#fff" stroke="#1e1e1e" stroke-width="1.8" stroke-linejoin="round"/>
<ellipse cx="1247" cy="853" rx="7.4" ry="12" transform="rotate(30 1247 853)" fill="none" stroke="#1e1e1e" stroke-width="1.8"/>
<ellipse cx="1247" cy="853" rx="3.3" ry="5.4" transform="rotate(30 1247 853)" fill="none" stroke="#1e1e1e" stroke-width="1.8"/>
<ellipse cx="1263" cy="862" rx="5" ry="8" transform="rotate(30 1263 862)" fill="none" stroke="#1e1e1e" stroke-width="3"/>
<polygon points="1265.2,867.3 1264.8,867.1 1264.5,866.7 1264.3,866.3 1264.1,865.8 1264,865.3 1264,864.7 1264,864 1264.1,863.3 1264.2,862.6 1264.5,861.9 1264.7,861.2 1265.1,860.5 1265.5,859.8 1265.9,859.1 1266.4,858.5 1266.9,858 1267.4,857.5 1267.9,857.2 1268.5,856.9 1269,856.6 1269.5,856.5 1270,856.5 1270.4,856.5 1270.8,856.7 1295.1,869.6 1295.4,869.8 1295.7,870.1 1296,870.5 1296.2,871 1296.3,871.6 1296.3,872.2 1296.3,872.9 1296.2,873.5 1296,874.3 1295.8,875 1295.5,875.7 1295.2,876.4 1294.8,877.1 1294.4,877.7 1293.9,878.3 1293.4,878.8 1292.9,879.3 1292.4,879.7 1291.8,880 1291.3,880.2 1290.8,880.3 1290.3,880.4 1289.9,880.3 1289.5,880.2" fill="#fff" stroke="#1e1e1e" stroke-width="1.8" stroke-linejoin="round"/>
<ellipse cx="1292.3" cy="874.9" rx="3.3" ry="6" transform="rotate(27.9 1292.3 874.9)" fill="none" stroke="#1e1e1e" stroke-width="1.8"/>
<polygon points="1287.6,883.7 1287,883.3 1286.5,882.7 1286.1,882 1285.8,881.2 1285.6,880.3 1285.5,879.3 1285.6,878.2 1285.7,877 1286,875.9 1286.4,874.7 1286.8,873.5 1287.4,872.3 1288.1,871.1 1288.8,870.1 1289.6,869.1 1290.4,868.2 1291.3,867.4 1292.1,866.8 1293,866.3 1293.9,865.9 1294.7,865.7 1295.5,865.7 1296.3,865.8 1297,866 1306.7,871.2 1307.3,871.6 1307.8,872.1 1308.2,872.8 1308.5,873.6 1308.7,874.6 1308.7,875.6 1308.7,876.7 1308.5,877.8 1308.3,879 1307.9,880.2 1307.4,881.4 1306.9,882.6 1306.2,883.7 1305.5,884.8 1304.7,885.8 1303.9,886.6 1303,887.4 1302.1,888.1 1301.2,888.6 1300.4,888.9 1299.5,889.1 1298.7,889.2 1298,889.1 1297.3,888.8" fill="#fff" stroke="#1e1e1e" stroke-width="1.8" stroke-linejoin="round"/>
<ellipse cx="1302" cy="880" rx="5.5" ry="10" transform="rotate(27.9 1302 880)" fill="none" stroke="#1e1e1e" stroke-width="1.8"/>
<line x1="1303.9" y1="886.6" x2="1294.1" y2="881.5" stroke="#1e1e1e" stroke-width="1.2"/>
<line x1="1300.1" y1="873.4" x2="1290.4" y2="868.2" stroke="#1e1e1e" stroke-width="1.2"/>
<polygon points="1303.9,886.6 1297.3,888.8 1295.5,882.2 1300.1,873.4 1306.7,871.2 1308.5,877.8" fill="none" stroke="#1e1e1e" stroke-width="1.3" stroke-linejoin="round"/>
<polygon points="1263.8,912.5 1263.5,912.3 1263.3,912 1263.1,911.7 1262.9,911.3 1262.9,910.9 1262.8,910.4 1262.9,909.8 1262.9,909.3 1263.1,908.7 1263.3,908.1 1263.5,907.5 1263.8,906.9 1264.1,906.3 1264.4,905.8 1264.8,905.3 1265.2,904.8 1265.6,904.4 1266,904 1266.4,903.8 1266.8,903.6 1267.2,903.4 1267.6,903.4 1267.9,903.4 1268.2,903.5 1278.2,908.5 1278.5,908.7 1278.7,909 1278.9,909.3 1279.1,909.7 1279.1,910.1 1279.2,910.6 1279.1,911.2 1279.1,911.7 1278.9,912.3 1278.7,912.9 1278.5,913.5 1278.2,914.1 1277.9,914.7 1277.6,915.2 1277.2,915.7 1276.8,916.2 1276.4,916.6 1276,917 1275.6,917.2 1275.2,917.4 1274.8,917.6 1274.4,917.6 1274.1,917.6 1273.8,917.5" fill="#fff" stroke="#1e1e1e" stroke-width="1.6" stroke-linejoin="round"/>
<ellipse cx="1276" cy="913" rx="2.5" ry="5" transform="rotate(26.6 1276 913)" fill="none" stroke="#1e1e1e" stroke-width="1.6"/>
<polygon points="1275,905 1287,901 1294,908 1292,922 1280,926 1273,920" fill="#fff" stroke="#1e1e1e" stroke-width="1.8" stroke-linejoin="round"/>
<line x1="1283" y1="906" x2="1283" y2="922" stroke="#1e1e1e" stroke-width="1.2"/>
<line x1="1362" y1="888" x2="1368" y2="879" stroke="#1e1e1e" stroke-width="3"/>
<polygon points="1364.3,902.1 1364.1,901.9 1364,901.8 1363.9,901.5 1363.8,901.2 1363.7,900.9 1363.7,900.6 1363.8,900.2 1363.8,899.8 1363.9,899.4 1364.1,899 1364.3,898.6 1364.5,898.2 1364.7,897.8 1364.9,897.4 1365.2,897 1365.5,896.7 1365.8,896.5 1366.1,896.2 1366.4,896.1 1366.7,895.9 1367,895.8 1367.2,895.8 1367.5,895.8 1367.7,895.9 1378.7,901.9 1378.9,902.1 1379,902.2 1379.1,902.5 1379.2,902.8 1379.3,903.1 1379.3,903.4 1379.2,903.8 1379.2,904.2 1379.1,904.6 1378.9,905 1378.7,905.4 1378.5,905.8 1378.3,906.2 1378.1,906.6 1377.8,907 1377.5,907.3 1377.2,907.5 1376.9,907.8 1376.6,907.9 1376.3,908.1 1376,908.2 1375.8,908.2 1375.5,908.2 1375.3,908.1" fill="#fff" stroke="#1e1e1e" stroke-width="1.6" stroke-linejoin="round"/>
<ellipse cx="1377" cy="905" rx="1.8" ry="3.5" transform="rotate(28.6 1377 905)" fill="none" stroke="#1e1e1e" stroke-width="1.6"/>
<polygon points="1381.5,935.6 1380.3,934.7 1379.2,933.5 1378.3,932.2 1377.7,930.6 1377.2,928.8 1377,926.9 1377,924.8 1377.3,922.7 1377.7,920.6 1378.4,918.4 1379.3,916.2 1380.4,914.1 1381.7,912.2 1383.1,910.3 1384.6,908.6 1386.3,907.1 1388,905.9 1389.7,904.8 1391.5,904.1 1393.3,903.6 1395,903.4 1396.6,903.4 1398.1,903.8 1399.5,904.4 1403,906.4 1404.2,907.3 1405.3,908.5 1406.2,909.8 1406.9,911.4 1407.3,913.2 1407.5,915.1 1407.5,917.2 1407.3,919.3 1406.8,921.4 1406.1,923.6 1405.2,925.8 1404.1,927.9 1402.9,929.8 1401.5,931.7 1399.9,933.4 1398.3,934.9 1396.6,936.1 1394.8,937.2 1393,937.9 1391.3,938.4 1389.6,938.6 1387.9,938.6 1386.4,938.2 1385,937.6" fill="#fff" stroke="#1e1e1e" stroke-width="1.8" stroke-linejoin="round"/>
<ellipse cx="1394" cy="922" rx="11.7" ry="18" transform="rotate(30 1394 922)" fill="none" stroke="#1e1e1e" stroke-width="1.8"/>
<ellipse cx="1394" cy="922" rx="2.3" ry="3.6" transform="rotate(30 1394 922)" fill="none" stroke="#1e1e1e" stroke-width="1.8"/>
<ellipse cx="1420" cy="938" rx="5" ry="8" transform="rotate(30 1420 938)" fill="none" stroke="#1e1e1e" stroke-width="4"/>
<polygon points="1436.5,954.1 1436.1,953.8 1435.8,953.4 1435.5,952.9 1435.3,952.3 1435.2,951.7 1435.2,951 1435.2,950.2 1435.4,949.4 1435.6,948.6 1435.9,947.7 1436.2,946.9 1436.7,946.1 1437.1,945.3 1437.7,944.6 1438.2,943.9 1438.8,943.3 1439.4,942.8 1440.1,942.4 1440.7,942 1441.3,941.8 1441.9,941.6 1442.5,941.6 1443,941.7 1443.5,941.9 1463.9,953.5 1464.3,953.8 1464.6,954.2 1464.9,954.7 1465.1,955.3 1465.2,955.9 1465.2,956.6 1465.2,957.4 1465.1,958.2 1464.8,959 1464.6,959.8 1464.2,960.7 1463.8,961.5 1463.3,962.3 1462.8,963 1462.2,963.7 1461.6,964.3 1461,964.8 1460.4,965.2 1459.7,965.6 1459.1,965.8 1458.5,965.9 1458,966 1457.4,965.9 1457,965.7" fill="#fff" stroke="#1e1e1e" stroke-width="1.8" stroke-linejoin="round"/>
<ellipse cx="1460.4" cy="959.6" rx="3.9" ry="7" transform="rotate(29.5 1460.4 959.6)" fill="none" stroke="#1e1e1e" stroke-width="1.8"/>
<polygon points="1454.5,970 1453.8,969.5 1453.2,968.8 1452.8,968 1452.4,967 1452.2,965.9 1452.2,964.7 1452.3,963.4 1452.5,962 1452.9,960.6 1453.4,959.1 1454,957.7 1454.7,956.3 1455.5,955 1456.4,953.7 1457.4,952.6 1458.4,951.5 1459.5,950.6 1460.6,949.9 1461.6,949.3 1462.7,948.9 1463.7,948.7 1464.7,948.7 1465.5,948.8 1466.3,949.1 1475.9,954.6 1476.6,955.1 1477.2,955.8 1477.7,956.6 1478,957.6 1478.2,958.7 1478.2,959.9 1478.2,961.2 1477.9,962.6 1477.6,964 1477.1,965.4 1476.5,966.9 1475.7,968.3 1474.9,969.6 1474,970.8 1473,972 1472,973 1471,973.9 1469.9,974.7 1468.8,975.3 1467.7,975.7 1466.7,975.9 1465.8,975.9 1464.9,975.8 1464.1,975.4" fill="#fff" stroke="#1e1e1e" stroke-width="1.8" stroke-linejoin="round"/>
<ellipse cx="1470" cy="965" rx="6.6" ry="12" transform="rotate(29.5 1470 965)" fill="none" stroke="#1e1e1e" stroke-width="1.8"/>
<line x1="1472" y1="973" x2="1462.4" y2="967.6" stroke="#1e1e1e" stroke-width="1.2"/>
<line x1="1468" y1="957" x2="1458.4" y2="951.5" stroke="#1e1e1e" stroke-width="1.2"/>
<polygon points="1472,973 1464.1,975.4 1462.1,967.4 1468,957 1475.9,954.6 1477.9,962.6" fill="none" stroke="#1e1e1e" stroke-width="1.3" stroke-linejoin="round"/>
<ellipse cx="847" cy="737" rx="9" ry="14" transform="rotate(30 847 737)" fill="none" stroke="#1e1e1e" stroke-width="2.6"/>
<ellipse cx="695" cy="845" rx="8" ry="12" transform="rotate(30 695 845)" fill="none" stroke="#1e1e1e" stroke-width="2.6"/>
<polygon points="819.6,837.6 819.9,837.5 820.3,837.5 820.6,837.5 821,837.6 821.4,837.8 821.9,838 822.3,838.4 822.7,838.8 823.1,839.2 823.5,839.7 823.9,840.2 824.2,840.8 824.5,841.4 824.7,842 824.9,842.6 825.1,843.2 825.2,843.7 825.2,844.3 825.2,844.8 825.2,845.2 825.1,845.6 824.9,845.9 824.7,846.2 824.4,846.4 802.4,858.4 802.1,858.5 801.7,858.5 801.4,858.5 801,858.4 800.6,858.2 800.1,858 799.7,857.6 799.3,857.2 798.9,856.8 798.5,856.3 798.1,855.8 797.8,855.2 797.5,854.6 797.3,854 797.1,853.4 796.9,852.8 796.8,852.3 796.8,851.7 796.8,851.2 796.8,850.8 796.9,850.4 797.1,850.1 797.3,849.8 797.6,849.6" fill="#fff" stroke="#1e1e1e" stroke-width="1.6" stroke-linejoin="round"/>
<ellipse cx="800" cy="854" rx="2.5" ry="5" transform="rotate(151.4 800 854)" fill="none" stroke="#1e1e1e" stroke-width="1.6"/>
<polygon points="785,850 797,843 806,850 806,860 795,866 786,860" fill="#fff" stroke="#1e1e1e" stroke-width="1.8" stroke-linejoin="round"/>
<line x1="790" y1="848" x2="790" y2="862" stroke="#1e1e1e" stroke-width="1.2"/>
<polygon points="944.4,866.3 944.5,866.4 944.7,866.6 944.8,866.8 944.9,867 944.9,867.3 944.9,867.6 944.9,867.9 944.8,868.3 944.8,868.6 944.6,869 944.5,869.3 944.3,869.7 944.1,870 943.9,870.4 943.7,870.7 943.5,870.9 943.2,871.2 943,871.4 942.7,871.5 942.5,871.7 942.2,871.7 942,871.8 941.8,871.7 941.6,871.7 919.1,860 918.9,859.9 918.8,859.7 918.7,859.5 918.6,859.3 918.5,859 918.5,858.7 918.5,858.4 918.6,858 918.7,857.7 918.8,857.3 918.9,857 919.1,856.6 919.3,856.3 919.5,855.9 919.7,855.6 920,855.4 920.2,855.1 920.5,854.9 920.7,854.8 921,854.6 921.2,854.6 921.4,854.6 921.6,854.6 921.8,854.6" fill="#fff" stroke="#1e1e1e" stroke-width="1.6" stroke-linejoin="round"/>
<ellipse cx="920.4" cy="857.3" rx="1.5" ry="3" transform="rotate(-152.6 920.4 857.3)" fill="none" stroke="#1e1e1e" stroke-width="1.6"/>
<polygon points="922.7,852.9 923,853.1 923.2,853.3 923.4,853.6 923.5,854 923.6,854.5 923.6,855 923.6,855.5 923.5,856.1 923.4,856.7 923.2,857.3 922.9,857.9 922.7,858.5 922.3,859 922,859.6 921.6,860.1 921.2,860.5 920.8,860.9 920.4,861.3 920,861.5 919.6,861.7 919.2,861.8 918.8,861.9 918.4,861.9 918.1,861.7 913.7,859.4 913.4,859.3 913.2,859 913,858.7 912.9,858.3 912.8,857.8 912.8,857.3 912.8,856.8 912.9,856.2 913.1,855.6 913.3,855 913.5,854.4 913.8,853.8 914.1,853.3 914.5,852.7 914.8,852.2 915.2,851.8 915.6,851.4 916.1,851 916.5,850.8 916.9,850.6 917.3,850.5 917.6,850.4 918,850.4 918.3,850.6" fill="#fff" stroke="#1e1e1e" stroke-width="1.6" stroke-linejoin="round"/>
<ellipse cx="916" cy="855" rx="2.5" ry="5" transform="rotate(-152.6 916 855)" fill="none" stroke="#1e1e1e" stroke-width="1.6"/>
<polygon points="965,877.8 965,878 964.9,878.3 964.7,878.6 964.5,878.8 964.2,879 963.9,879.3 963.5,879.4 963.1,879.6 962.6,879.8 962.1,879.9 961.6,880 961.1,880 960.6,880 960.1,880 959.6,879.9 959.1,879.8 958.7,879.7 958.3,879.6 957.9,879.4 957.6,879.2 957.4,879 957.2,878.7 957.1,878.5 957,878.2 956,860.2 956,860 956.1,859.7 956.3,859.4 956.5,859.2 956.8,859 957.1,858.7 957.5,858.6 957.9,858.4 958.4,858.2 958.9,858.1 959.4,858 959.9,858 960.4,858 960.9,858 961.4,858.1 961.9,858.2 962.3,858.3 962.7,858.4 963.1,858.6 963.4,858.8 963.6,859 963.8,859.3 963.9,859.5 964,859.8" fill="#fff" stroke="#1e1e1e" stroke-width="2.4" stroke-linejoin="round"/>
<ellipse cx="960" cy="860" rx="2" ry="4" transform="rotate(-93.2 960 860)" fill="none" stroke="#1e1e1e" stroke-width="2.4"/>
<polygon points="966,880 980,888 985,894 980,898 968,893" fill="#fff" stroke="#1e1e1e" stroke-width="1.9" stroke-linejoin="round"/>
<ellipse cx="962" cy="885" rx="7" ry="8.5" transform="rotate(20 962 885)" fill="#fff" stroke="#1e1e1e" stroke-width="3"/>
<ellipse cx="962" cy="885" rx="3.5" ry="4.5" transform="rotate(20 962 885)" fill="none" stroke="#1e1e1e" stroke-width="1.6"/>
<ellipse cx="978" cy="892" rx="2.5" ry="3" fill="none" stroke="#1e1e1e" stroke-width="1.4"/>
<polygon points="944.9,883.2 945.6,883 946.4,882.9 947.2,883 948.1,883.3 949,883.7 949.9,884.3 950.8,885 951.7,885.9 952.6,886.9 953.4,888 954.2,889.2 954.9,890.5 955.5,891.8 956,893.1 956.4,894.4 956.8,895.7 957,896.9 957,898.1 957,899.2 956.8,900.2 956.5,901.1 956.1,901.8 955.6,902.4 955.1,902.8 926.1,917.8 925.4,918 924.6,918.1 923.8,918 922.9,917.7 922,917.3 921.1,916.7 920.2,916 919.3,915.1 918.4,914.1 917.6,913 916.8,911.8 916.1,910.5 915.5,909.2 915,907.9 914.6,906.6 914.2,905.3 914,904.1 914,902.9 914,901.8 914.2,900.8 914.5,899.9 914.9,899.2 915.4,898.6 915.9,898.2" fill="#fff" stroke="#1e1e1e" stroke-width="2.2" stroke-linejoin="round"/>
<ellipse cx="921" cy="908" rx="5.5" ry="11" transform="rotate(152.7 921 908)" fill="none" stroke="#1e1e1e" stroke-width="2.2"/>
<ellipse cx="897" cy="925" rx="5.5" ry="8.5" transform="rotate(-30 897 925)" fill="none" stroke="#1e1e1e" stroke-width="2.8"/>
<ellipse cx="908" cy="919" rx="5.5" ry="8.5" transform="rotate(-30 908 919)" fill="none" stroke="#1e1e1e" stroke-width="2.8"/>
<ellipse cx="897" cy="925" rx="3.5" ry="6" transform="rotate(-30 897 925)" fill="none" stroke="#1e1e1e" stroke-width="1.2"/>
<ellipse cx="908" cy="919" rx="3.5" ry="6" transform="rotate(-30 908 919)" fill="none" stroke="#1e1e1e" stroke-width="1.2"/>
<polygon points="882.7,918.8 883.1,918.7 883.6,918.6 884.1,918.7 884.7,918.8 885.3,919.1 885.8,919.5 886.4,919.9 887,920.5 887.6,921.1 888.1,921.8 888.6,922.6 889.1,923.3 889.5,924.2 889.8,925 890.1,925.8 890.3,926.7 890.5,927.4 890.5,928.2 890.5,928.9 890.4,929.5 890.2,930.1 890,930.5 889.7,930.9 889.3,931.2 848.3,953.2 847.9,953.3 847.4,953.4 846.9,953.3 846.3,953.2 845.7,952.9 845.2,952.5 844.6,952.1 844,951.5 843.4,950.9 842.9,950.2 842.4,949.4 841.9,948.7 841.5,947.8 841.2,947 840.9,946.2 840.7,945.3 840.5,944.6 840.5,943.8 840.5,943.1 840.6,942.5 840.8,941.9 841,941.5 841.3,941.1 841.7,940.8" fill="#fff" stroke="#1e1e1e" stroke-width="2" stroke-linejoin="round"/>
<ellipse cx="845" cy="947" rx="3.5" ry="7" transform="rotate(151.8 845 947)" fill="none" stroke="#1e1e1e" stroke-width="2"/>
<ellipse cx="872" cy="932" rx="2.5" ry="7" transform="rotate(-30 872 932)" fill="none" stroke="#1e1e1e" stroke-width="3"/>
<ellipse cx="866" cy="935.2" rx="2.5" ry="7" transform="rotate(-30 866 935.2)" fill="none" stroke="#1e1e1e" stroke-width="3"/>
<ellipse cx="860" cy="938.4" rx="2.5" ry="7" transform="rotate(-30 860 938.4)" fill="none" stroke="#1e1e1e" stroke-width="3"/>
<ellipse cx="886" cy="925" rx="3" ry="3.5" fill="none" stroke="#1e1e1e" stroke-width="1.4"/>
<polygon points="849.7,931.4 850.4,931.1 851.1,931 851.9,931.1 852.8,931.3 853.7,931.7 854.7,932.3 855.6,933 856.5,933.9 857.4,934.9 858.3,935.9 859.1,937.1 859.8,938.3 860.5,939.6 861,940.9 861.5,942.2 861.8,943.5 862.1,944.8 862.2,945.9 862.1,947 862,948 861.7,948.9 861.4,949.6 860.9,950.2 860.3,950.6 840.3,961.6 839.6,961.9 838.9,962 838.1,961.9 837.2,961.7 836.3,961.3 835.3,960.7 834.4,960 833.5,959.1 832.6,958.1 831.7,957.1 830.9,955.9 830.2,954.7 829.5,953.4 829,952.1 828.5,950.8 828.2,949.5 827.9,948.2 827.8,947.1 827.9,946 828,945 828.3,944.1 828.6,943.4 829.1,942.8 829.7,942.4" fill="#fff" stroke="#1e1e1e" stroke-width="2" stroke-linejoin="round"/>
<ellipse cx="835" cy="952" rx="5.5" ry="11" transform="rotate(151.2 835 952)" fill="none" stroke="#1e1e1e" stroke-width="2"/>
<polygon points="838,960 848,957 856,968 864,975 864,984 852,987 843,980 842,968" fill="#fff" stroke="#1e1e1e" stroke-width="1.9" stroke-linejoin="round"/>
<line x1="848" y1="970" x2="860" y2="976" stroke="#1e1e1e" stroke-width="1.3"/>
<line x1="835" y1="936" x2="838" y2="940" stroke="#1e1e1e" stroke-width="2.5"/>
<line x1="737" y1="934" x2="760" y2="920" stroke="#1e1e1e" stroke-width="3.5"/>
<polygon points="762,958 761.9,958.8 761.6,959.6 761.1,960.3 760.4,961 759.5,961.7 758.5,962.2 757.3,962.8 756,963.2 754.6,963.5 753.1,963.8 751.6,963.9 750,964 748.4,963.9 746.9,963.8 745.4,963.5 744,963.2 742.7,962.8 741.5,962.2 740.5,961.7 739.6,961 738.9,960.3 738.4,959.6 738.1,958.8 738,958 738,947 738.1,946.2 738.4,945.4 738.9,944.7 739.6,944 740.5,943.3 741.5,942.8 742.7,942.2 744,941.8 745.4,941.5 746.9,941.2 748.4,941.1 750,941 751.6,941.1 753.1,941.2 754.6,941.5 756,941.8 757.3,942.2 758.5,942.8 759.5,943.3 760.4,944 761.1,944.7 761.6,945.4 761.9,946.2 762,947" fill="#fff" stroke="#1e1e1e" stroke-width="1.8" stroke-linejoin="round"/>
<ellipse cx="750" cy="947" rx="6" ry="12" transform="rotate(-90 750 947)" fill="none" stroke="#1e1e1e" stroke-width="1.8"/>
<polygon points="750,953 739.6,950 739.6,944 750,941 760.4,944 760.4,950" fill="#fff" stroke="#1e1e1e" stroke-width="1.4" stroke-linejoin="round"/>
<ellipse cx="750" cy="974" rx="10" ry="6" fill="none" stroke="#1e1e1e" stroke-width="3.6"/>
<ellipse cx="750" cy="998" rx="14" ry="8" fill="none" stroke="#1e1e1e" stroke-width="2.2"/>
<ellipse cx="750" cy="997" rx="7" ry="4" fill="none" stroke="#1e1e1e" stroke-width="1.8"/>
<ellipse cx="750" cy="1052" rx="67" ry="39" fill="#fff" stroke="#1e1e1e" stroke-width="2"/>
<line x1="814" y1="1051" x2="795" y2="1047" stroke="#1e1e1e" stroke-width="2.6"/>
<line x1="815.9" y1="1053.3" x2="795.9" y2="1048.4" stroke="#1e1e1e" stroke-width="0.8"/>
<line x1="813.5" y1="1055.5" x2="794.7" y2="1049.7" stroke="#1e1e1e" stroke-width="2.6"/>
<line x1="814.9" y1="1057.9" x2="795.2" y2="1051.1" stroke="#1e1e1e" stroke-width="0.8"/>
<line x1="812.1" y1="1059.9" x2="793.7" y2="1052.3" stroke="#1e1e1e" stroke-width="2.6"/>
<line x1="813" y1="1062.5" x2="793.9" y2="1053.8" stroke="#1e1e1e" stroke-width="0.8"/>
<line x1="809.8" y1="1064.1" x2="792.1" y2="1054.8" stroke="#1e1e1e" stroke-width="2.6"/>
<line x1="810.2" y1="1066.8" x2="791.9" y2="1056.4" stroke="#1e1e1e" stroke-width="0.8"/>
<line x1="806.7" y1="1068.2" x2="789.8" y2="1057.2" stroke="#1e1e1e" stroke-width="2.6"/>
<line x1="806.5" y1="1070.9" x2="789.4" y2="1058.9" stroke="#1e1e1e" stroke-width="0.8"/>
<line x1="802.7" y1="1072" x2="787" y2="1059.5" stroke="#1e1e1e" stroke-width="2.6"/>
<line x1="802" y1="1074.7" x2="786.2" y2="1061.2" stroke="#1e1e1e" stroke-width="0.8"/>
<line x1="797.9" y1="1075.5" x2="783.7" y2="1061.6" stroke="#1e1e1e" stroke-width="2.6"/>
<line x1="796.7" y1="1078.2" x2="782.5" y2="1063.3" stroke="#1e1e1e" stroke-width="0.8"/>
<line x1="792.4" y1="1078.7" x2="779.8" y2="1063.5" stroke="#1e1e1e" stroke-width="2.6"/>
<line x1="790.7" y1="1081.3" x2="778.4" y2="1065.1" stroke="#1e1e1e" stroke-width="0.8"/>
<line x1="786.4" y1="1081.5" x2="775.6" y2="1065.1" stroke="#1e1e1e" stroke-width="2.6"/>
<line x1="784.1" y1="1083.9" x2="773.8" y2="1066.7" stroke="#1e1e1e" stroke-width="0.8"/>
<line x1="779.7" y1="1083.8" x2="770.9" y2="1066.5" stroke="#1e1e1e" stroke-width="2.6"/>
<line x1="777.1" y1="1086.1" x2="768.9" y2="1068" stroke="#1e1e1e" stroke-width="0.8"/>
<line x1="772.7" y1="1085.6" x2="766" y2="1067.6" stroke="#1e1e1e" stroke-width="2.6"/>
<line x1="769.6" y1="1087.8" x2="763.7" y2="1069" stroke="#1e1e1e" stroke-width="0.8"/>
<line x1="765.3" y1="1086.9" x2="760.8" y2="1068.4" stroke="#1e1e1e" stroke-width="2.6"/>
<line x1="761.9" y1="1088.9" x2="758.3" y2="1069.6" stroke="#1e1e1e" stroke-width="0.8"/>
<line x1="757.7" y1="1087.7" x2="755.4" y2="1068.8" stroke="#1e1e1e" stroke-width="2.6"/>
<line x1="754" y1="1089.4" x2="752.8" y2="1070" stroke="#1e1e1e" stroke-width="0.8"/>
<line x1="750" y1="1088" x2="750" y2="1069" stroke="#1e1e1e" stroke-width="2.6"/>
<line x1="746" y1="1089.4" x2="747.2" y2="1070" stroke="#1e1e1e" stroke-width="0.8"/>
<line x1="742.3" y1="1087.7" x2="744.6" y2="1068.8" stroke="#1e1e1e" stroke-width="2.6"/>
<line x1="738.1" y1="1088.9" x2="741.7" y2="1069.6" stroke="#1e1e1e" stroke-width="0.8"/>
<line x1="734.7" y1="1086.9" x2="739.2" y2="1068.4" stroke="#1e1e1e" stroke-width="2.6"/>
<line x1="730.4" y1="1087.8" x2="736.3" y2="1069" stroke="#1e1e1e" stroke-width="0.8"/>
<line x1="727.3" y1="1085.6" x2="734" y2="1067.6" stroke="#1e1e1e" stroke-width="2.6"/>
<line x1="722.9" y1="1086.1" x2="731.1" y2="1068" stroke="#1e1e1e" stroke-width="0.8"/>
<line x1="720.3" y1="1083.8" x2="729.1" y2="1066.5" stroke="#1e1e1e" stroke-width="2.6"/>
<line x1="715.9" y1="1083.9" x2="726.2" y2="1066.7" stroke="#1e1e1e" stroke-width="0.8"/>
<line x1="713.6" y1="1081.5" x2="724.4" y2="1065.1" stroke="#1e1e1e" stroke-width="2.6"/>
<line x1="709.3" y1="1081.3" x2="721.6" y2="1065.1" stroke="#1e1e1e" stroke-width="0.8"/>
<line x1="707.6" y1="1078.7" x2="720.2" y2="1063.5" stroke="#1e1e1e" stroke-width="2.6"/>
<line x1="703.3" y1="1078.2" x2="717.5" y2="1063.3" stroke="#1e1e1e" stroke-width="0.8"/>
<line x1="702.1" y1="1075.5" x2="716.3" y2="1061.6" stroke="#1e1e1e" stroke-width="2.6"/>
<line x1="698" y1="1074.7" x2="713.8" y2="1061.2" stroke="#1e1e1e" stroke-width="0.8"/>
<line x1="697.3" y1="1072" x2="713" y2="1059.5" stroke="#1e1e1e" stroke-width="2.6"/>
<line x1="693.5" y1="1070.9" x2="710.6" y2="1058.9" stroke="#1e1e1e" stroke-width="0.8"/>
<line x1="693.3" y1="1068.2" x2="710.2" y2="1057.2" stroke="#1e1e1e" stroke-width="2.6"/>
<line x1="689.8" y1="1066.8" x2="708.1" y2="1056.4" stroke="#1e1e1e" stroke-width="0.8"/>
<line x1="690.2" y1="1064.1" x2="707.9" y2="1054.8" stroke="#1e1e1e" stroke-width="2.6"/>
<line x1="687" y1="1062.5" x2="706.1" y2="1053.8" stroke="#1e1e1e" stroke-width="0.8"/>
<line x1="687.9" y1="1059.9" x2="706.3" y2="1052.3" stroke="#1e1e1e" stroke-width="2.6"/>
<line x1="685.1" y1="1057.9" x2="704.8" y2="1051.1" stroke="#1e1e1e" stroke-width="0.8"/>
<line x1="686.5" y1="1055.5" x2="705.3" y2="1049.7" stroke="#1e1e1e" stroke-width="2.6"/>
<line x1="684.1" y1="1053.3" x2="704.1" y2="1048.4" stroke="#1e1e1e" stroke-width="0.8"/>
<line x1="686" y1="1051" x2="705" y2="1047" stroke="#1e1e1e" stroke-width="2.6"/>
<line x1="684.1" y1="1048.7" x2="704.1" y2="1045.6" stroke="#1e1e1e" stroke-width="0.8"/>
<line x1="686.5" y1="1046.5" x2="705.3" y2="1044.3" stroke="#1e1e1e" stroke-width="2.6"/>
<line x1="685.1" y1="1044.1" x2="704.8" y2="1042.9" stroke="#1e1e1e" stroke-width="0.8"/>
<line x1="687.9" y1="1042.1" x2="706.3" y2="1041.7" stroke="#1e1e1e" stroke-width="2.6"/>
<line x1="687" y1="1039.5" x2="706.1" y2="1040.2" stroke="#1e1e1e" stroke-width="0.8"/>
<line x1="690.2" y1="1037.9" x2="707.9" y2="1039.2" stroke="#1e1e1e" stroke-width="2.6"/>
<line x1="689.8" y1="1035.2" x2="708.1" y2="1037.6" stroke="#1e1e1e" stroke-width="0.8"/>
<line x1="693.3" y1="1033.8" x2="710.2" y2="1036.8" stroke="#1e1e1e" stroke-width="2.6"/>
<line x1="693.5" y1="1031.1" x2="710.6" y2="1035.1" stroke="#1e1e1e" stroke-width="0.8"/>
<line x1="697.3" y1="1030" x2="713" y2="1034.5" stroke="#1e1e1e" stroke-width="2.6"/>
<line x1="698" y1="1027.3" x2="713.8" y2="1032.8" stroke="#1e1e1e" stroke-width="0.8"/>
<line x1="702.1" y1="1026.5" x2="716.3" y2="1032.4" stroke="#1e1e1e" stroke-width="2.6"/>
<line x1="703.3" y1="1023.8" x2="717.5" y2="1030.7" stroke="#1e1e1e" stroke-width="0.8"/>
<line x1="707.6" y1="1023.3" x2="720.2" y2="1030.5" stroke="#1e1e1e" stroke-width="2.6"/>
<line x1="709.3" y1="1020.7" x2="721.6" y2="1028.9" stroke="#1e1e1e" stroke-width="0.8"/>
<line x1="713.6" y1="1020.5" x2="724.4" y2="1028.9" stroke="#1e1e1e" stroke-width="2.6"/>
<line x1="715.9" y1="1018.1" x2="726.2" y2="1027.3" stroke="#1e1e1e" stroke-width="0.8"/>
<line x1="720.3" y1="1018.2" x2="729.1" y2="1027.5" stroke="#1e1e1e" stroke-width="2.6"/>
<line x1="722.9" y1="1015.9" x2="731.1" y2="1026" stroke="#1e1e1e" stroke-width="0.8"/>
<line x1="727.3" y1="1016.4" x2="734" y2="1026.4" stroke="#1e1e1e" stroke-width="2.6"/>
<line x1="730.4" y1="1014.2" x2="736.3" y2="1025" stroke="#1e1e1e" stroke-width="0.8"/>
<line x1="734.7" y1="1015.1" x2="739.2" y2="1025.6" stroke="#1e1e1e" stroke-width="2.6"/>
<line x1="738.1" y1="1013.1" x2="741.7" y2="1024.4" stroke="#1e1e1e" stroke-width="0.8"/>
<line x1="742.3" y1="1014.3" x2="744.6" y2="1025.2" stroke="#1e1e1e" stroke-width="2.6"/>
<line x1="746" y1="1012.6" x2="747.2" y2="1024" stroke="#1e1e1e" stroke-width="0.8"/>
<line x1="750" y1="1014" x2="750" y2="1025" stroke="#1e1e1e" stroke-width="2.6"/>
<line x1="754" y1="1012.6" x2="752.8" y2="1024" stroke="#1e1e1e" stroke-width="0.8"/>
<line x1="757.7" y1="1014.3" x2="755.4" y2="1025.2" stroke="#1e1e1e" stroke-width="2.6"/>
<line x1="761.9" y1="1013.1" x2="758.3" y2="1024.4" stroke="#1e1e1e" stroke-width="0.8"/>
<line x1="765.3" y1="1015.1" x2="760.8" y2="1025.6" stroke="#1e1e1e" stroke-width="2.6"/>
<line x1="769.6" y1="1014.2" x2="763.7" y2="1025" stroke="#1e1e1e" stroke-width="0.8"/>
<line x1="772.7" y1="1016.4" x2="766" y2="1026.4" stroke="#1e1e1e" stroke-width="2.6"/>
<line x1="777.1" y1="1015.9" x2="768.9" y2="1026" stroke="#1e1e1e" stroke-width="0.8"/>
<line x1="779.7" y1="1018.2" x2="770.9" y2="1027.5" stroke="#1e1e1e" stroke-width="2.6"/>
<line x1="784.1" y1="1018.1" x2="773.8" y2="1027.3" stroke="#1e1e1e" stroke-width="0.8"/>
<line x1="786.4" y1="1020.5" x2="775.6" y2="1028.9" stroke="#1e1e1e" stroke-width="2.6"/>
<line x1="790.7" y1="1020.7" x2="778.4" y2="1028.9" stroke="#1e1e1e" stroke-width="0.8"/>
<line x1="792.4" y1="1023.3" x2="779.8" y2="1030.5" stroke="#1e1e1e" stroke-width="2.6"/>
<line x1="796.7" y1="1023.8" x2="782.5" y2="1030.7" stroke="#1e1e1e" stroke-width="0.8"/>
<line x1="797.9" y1="1026.5" x2="783.7" y2="1032.4" stroke="#1e1e1e" stroke-width="2.6"/>
<line x1="802" y1="1027.3" x2="786.2" y2="1032.8" stroke="#1e1e1e" stroke-width="0.8"/>
<line x1="802.7" y1="1030" x2="787" y2="1034.5" stroke="#1e1e1e" stroke-width="2.6"/>
<line x1="806.5" y1="1031.1" x2="789.4" y2="1035.1" stroke="#1e1e1e" stroke-width="0.8"/>
<line x1="806.7" y1="1033.8" x2="789.8" y2="1036.8" stroke="#1e1e1e" stroke-width="2.6"/>
<line x1="810.2" y1="1035.2" x2="791.9" y2="1037.6" stroke="#1e1e1e" stroke-width="0.8"/>
<line x1="809.8" y1="1037.9" x2="792.1" y2="1039.2" stroke="#1e1e1e" stroke-width="2.6"/>
<line x1="813" y1="1039.5" x2="793.9" y2="1040.2" stroke="#1e1e1e" stroke-width="0.8"/>
<line x1="812.1" y1="1042.1" x2="793.7" y2="1041.7" stroke="#1e1e1e" stroke-width="2.6"/>
<line x1="814.9" y1="1044.1" x2="795.2" y2="1042.9" stroke="#1e1e1e" stroke-width="0.8"/>
<line x1="813.5" y1="1046.5" x2="794.7" y2="1044.3" stroke="#1e1e1e" stroke-width="2.6"/>
<line x1="815.9" y1="1048.7" x2="795.9" y2="1045.6" stroke="#1e1e1e" stroke-width="0.8"/>
<ellipse cx="750" cy="1047" rx="44" ry="21" fill="#fff" stroke="#1e1e1e" stroke-width="1.9"/>
<ellipse cx="750" cy="1049" rx="33" ry="16.5" fill="none" stroke="#1e1e1e" stroke-width="1.7"/>
<ellipse cx="750" cy="1052" rx="26" ry="11.5" fill="none" stroke="#1e1e1e" stroke-width="1.7"/>
<ellipse cx="750" cy="1055" rx="12" ry="6.5" fill="#fff" stroke="#1e1e1e" stroke-width="3.4"/>
<line x1="744" y1="1051" x2="744" y2="1059" stroke="#1e1e1e" stroke-width="1.2"/>
<line x1="747" y1="1051" x2="747" y2="1059" stroke="#1e1e1e" stroke-width="1.2"/>
<line x1="750" y1="1051" x2="750" y2="1059" stroke="#1e1e1e" stroke-width="1.2"/>
<line x1="753" y1="1051" x2="753" y2="1059" stroke="#1e1e1e" stroke-width="1.2"/>
<line x1="756" y1="1051" x2="756" y2="1059" stroke="#1e1e1e" stroke-width="1.2"/>
<circle cx="714" cy="1051" r="2" fill="#222"/>
<path d="M716,1118 L716,1128 A34,15 0 0 0 784,1128 L784,1118 Z" fill="#fff" stroke="#1e1e1e" stroke-width="2"/>
<ellipse cx="750" cy="1117" rx="34" ry="17" fill="#fff" stroke="#1e1e1e" stroke-width="3"/>
<ellipse cx="750" cy="1116" rx="25" ry="11" fill="none" stroke="#1e1e1e" stroke-width="1.6"/>
<ellipse cx="750" cy="1112" rx="17" ry="8" fill="none" stroke="#1e1e1e" stroke-width="2.4"/>
<ellipse cx="750" cy="1118" rx="12" ry="4" fill="none" stroke="#1e1e1e" stroke-width="1.4"/>
<circle cx="779.6" cy="1123" r="1.2" fill="#222"/>
<circle cx="777.9" cy="1125.8" r="1.2" fill="#222"/>
<circle cx="774.9" cy="1128.3" r="1.2" fill="#222"/>
<circle cx="770.7" cy="1130.4" r="1.2" fill="#222"/>
<circle cx="765.5" cy="1132.1" r="1.2" fill="#222"/>
<circle cx="759.6" cy="1133.3" r="1.2" fill="#222"/>
<circle cx="753.3" cy="1133.9" r="1.2" fill="#222"/>
<circle cx="746.7" cy="1133.9" r="1.2" fill="#222"/>
<circle cx="740.4" cy="1133.3" r="1.2" fill="#222"/>
<circle cx="734.5" cy="1132.1" r="1.2" fill="#222"/>
<circle cx="729.3" cy="1130.4" r="1.2" fill="#222"/>
<circle cx="725.1" cy="1128.3" r="1.2" fill="#222"/>
<circle cx="722.1" cy="1125.8" r="1.2" fill="#222"/>
<circle cx="720.4" cy="1123" r="1.2" fill="#222"/>
<rect x="743" y="1140" width="14" height="26" fill="#fff" stroke="#1e1e1e" stroke-width="1.9"/>
<rect x="739" y="1165" width="22" height="140" fill="#fff" stroke="#1e1e1e" stroke-width="1.9"/>
<line x1="739" y1="1166" x2="761" y2="1166" stroke="#1e1e1e" stroke-width="2.6"/>
<line x1="743" y1="1168" x2="743" y2="1202" stroke="#1e1e1e" stroke-width="1.5"/>
<line x1="747" y1="1168" x2="747" y2="1202" stroke="#1e1e1e" stroke-width="1.5"/>
<line x1="751" y1="1168" x2="751" y2="1202" stroke="#1e1e1e" stroke-width="1.5"/>
<line x1="755" y1="1168" x2="755" y2="1202" stroke="#1e1e1e" stroke-width="1.5"/>
<line x1="758" y1="1168" x2="758" y2="1202" stroke="#1e1e1e" stroke-width="1.5"/>
<ellipse cx="750" cy="1203" rx="11" ry="3" fill="none" stroke="#1e1e1e" stroke-width="1.6"/>
<circle cx="746" cy="1213" r="1.4" fill="#222"/>
<path d="M724,1240 L724,1250 A26,13 0 0 0 776,1250 L776,1240 Z" fill="#fff" stroke="#1e1e1e" stroke-width="2"/>
<ellipse cx="750" cy="1240" rx="26" ry="13" fill="#fff" stroke="#1e1e1e" stroke-width="2.2"/>
<ellipse cx="750" cy="1240" rx="20" ry="9.5" fill="none" stroke="#1e1e1e" stroke-width="1.3"/>
<ellipse cx="750" cy="1241" rx="12" ry="5.5" fill="none" stroke="#1e1e1e" stroke-width="2.4"/>
<rect x="739" y="1229" width="22" height="12" fill="#fff"/>
<line x1="739" y1="1228" x2="739" y2="1241" stroke="#1e1e1e" stroke-width="1.9"/>
<line x1="761" y1="1228" x2="761" y2="1241" stroke="#1e1e1e" stroke-width="1.9"/>
<ellipse cx="750" cy="1241" rx="11" ry="4" fill="none" stroke="#1e1e1e" stroke-width="1.6"/>
<line x1="739" y1="1299" x2="761" y2="1299" stroke="#1e1e1e" stroke-width="1.5"/>
<polygon points="727,1306 773,1306 764,1336 736,1336" fill="#fff" stroke="#1e1e1e" stroke-width="1.9" stroke-linejoin="round"/>
<line x1="731" y1="1307" x2="739" y2="1336" stroke="#1e1e1e" stroke-width="2.2"/>
<line x1="737.3" y1="1307" x2="742.7" y2="1336" stroke="#1e1e1e" stroke-width="2.2"/>
<line x1="743.6" y1="1307" x2="746.4" y2="1336" stroke="#1e1e1e" stroke-width="2.2"/>
<line x1="749.9" y1="1307" x2="750.1" y2="1336" stroke="#1e1e1e" stroke-width="2.2"/>
<line x1="756.2" y1="1307" x2="753.8" y2="1336" stroke="#1e1e1e" stroke-width="2.2"/>
<line x1="762.5" y1="1307" x2="757.5" y2="1336" stroke="#1e1e1e" stroke-width="2.2"/>
<line x1="768.8" y1="1307" x2="761.2" y2="1336" stroke="#1e1e1e" stroke-width="2.2"/>
<ellipse cx="750" cy="1306" rx="23" ry="5.5" fill="none" stroke="#1e1e1e" stroke-width="1.9"/>
<ellipse cx="750" cy="1304" rx="12" ry="3" fill="none" stroke="#1e1e1e" stroke-width="2.4"/>
<polyline points="1076.5,877 1071.8,881.5 1062.2,881.5 1057.5,877 1062.2,872.5 1071.8,872.5 1076.5,877" fill="#fff" stroke="#1e1e1e" stroke-width="2" stroke-linejoin="round"/>
<line x1="1057.5" y1="877" x2="1057.5" y2="885" stroke="#1e1e1e" stroke-width="2"/>
<line x1="1062.2" y1="881.5" x2="1062.2" y2="889.5" stroke="#1e1e1e" stroke-width="2"/>
<line x1="1071.8" y1="881.5" x2="1071.8" y2="889.5" stroke="#1e1e1e" stroke-width="2"/>
<line x1="1076.5" y1="877" x2="1076.5" y2="885" stroke="#1e1e1e" stroke-width="2"/>
<line x1="1057.5" y1="885" x2="1062.2" y2="889.5" stroke="#1e1e1e" stroke-width="2"/>
<line x1="1062.2" y1="889.5" x2="1071.8" y2="889.5" stroke="#1e1e1e" stroke-width="2"/>
<line x1="1071.8" y1="889.5" x2="1076.5" y2="885" stroke="#1e1e1e" stroke-width="2"/>
<ellipse cx="1067" cy="877" rx="5.2" ry="2.9" fill="none" stroke="#1e1e1e" stroke-width="1.8"/>
<ellipse cx="1067" cy="903" rx="9" ry="5.5" fill="none" stroke="#1e1e1e" stroke-width="3.4"/>
<ellipse cx="1067" cy="903" rx="4" ry="2.5" fill="none" stroke="#1e1e1e" stroke-width="1.6"/>
<polyline points="978.5,930 973.8,934.5 964.2,934.5 959.5,930 964.2,925.5 973.8,925.5 978.5,930" fill="#fff" stroke="#1e1e1e" stroke-width="2" stroke-linejoin="round"/>
<line x1="959.5" y1="930" x2="959.5" y2="938" stroke="#1e1e1e" stroke-width="2"/>
<line x1="964.2" y1="934.5" x2="964.2" y2="942.5" stroke="#1e1e1e" stroke-width="2"/>
<line x1="973.8" y1="934.5" x2="973.8" y2="942.5" stroke="#1e1e1e" stroke-width="2"/>
<line x1="978.5" y1="930" x2="978.5" y2="938" stroke="#1e1e1e" stroke-width="2"/>
<line x1="959.5" y1="938" x2="964.2" y2="942.5" stroke="#1e1e1e" stroke-width="2"/>
<line x1="964.2" y1="942.5" x2="973.8" y2="942.5" stroke="#1e1e1e" stroke-width="2"/>
<line x1="973.8" y1="942.5" x2="978.5" y2="938" stroke="#1e1e1e" stroke-width="2"/>
<ellipse cx="969" cy="930" rx="5.2" ry="2.9" fill="none" stroke="#1e1e1e" stroke-width="1.8"/>
<ellipse cx="969" cy="958" rx="9" ry="5.5" fill="none" stroke="#1e1e1e" stroke-width="3.4"/>
<ellipse cx="969" cy="958" rx="4" ry="2.5" fill="none" stroke="#1e1e1e" stroke-width="1.6"/>
<polyline points="1169.5,927 1164.8,931.5 1155.2,931.5 1150.5,927 1155.2,922.5 1164.8,922.5 1169.5,927" fill="#fff" stroke="#1e1e1e" stroke-width="2" stroke-linejoin="round"/>
<line x1="1150.5" y1="927" x2="1150.5" y2="935" stroke="#1e1e1e" stroke-width="2"/>
<line x1="1155.2" y1="931.5" x2="1155.2" y2="939.5" stroke="#1e1e1e" stroke-width="2"/>
<line x1="1164.8" y1="931.5" x2="1164.8" y2="939.5" stroke="#1e1e1e" stroke-width="2"/>
<line x1="1169.5" y1="927" x2="1169.5" y2="935" stroke="#1e1e1e" stroke-width="2"/>
<line x1="1150.5" y1="935" x2="1155.2" y2="939.5" stroke="#1e1e1e" stroke-width="2"/>
<line x1="1155.2" y1="939.5" x2="1164.8" y2="939.5" stroke="#1e1e1e" stroke-width="2"/>
<line x1="1164.8" y1="939.5" x2="1169.5" y2="935" stroke="#1e1e1e" stroke-width="2"/>
<ellipse cx="1160" cy="927" rx="5.2" ry="2.9" fill="none" stroke="#1e1e1e" stroke-width="1.8"/>
<ellipse cx="1160" cy="955" rx="9" ry="5.5" fill="none" stroke="#1e1e1e" stroke-width="3.4"/>
<ellipse cx="1160" cy="955" rx="4" ry="2.5" fill="none" stroke="#1e1e1e" stroke-width="1.6"/>
<polyline points="871.5,815 866.8,819.5 857.2,819.5 852.5,815 857.2,810.5 866.8,810.5 871.5,815" fill="#fff" stroke="#1e1e1e" stroke-width="2" stroke-linejoin="round"/>
<line x1="852.5" y1="815" x2="852.5" y2="823" stroke="#1e1e1e" stroke-width="2"/>
<line x1="857.2" y1="819.5" x2="857.2" y2="827.5" stroke="#1e1e1e" stroke-width="2"/>
<line x1="866.8" y1="819.5" x2="866.8" y2="827.5" stroke="#1e1e1e" stroke-width="2"/>
<line x1="871.5" y1="815" x2="871.5" y2="823" stroke="#1e1e1e" stroke-width="2"/>
<line x1="852.5" y1="823" x2="857.2" y2="827.5" stroke="#1e1e1e" stroke-width="2"/>
<line x1="857.2" y1="827.5" x2="866.8" y2="827.5" stroke="#1e1e1e" stroke-width="2"/>
<line x1="866.8" y1="827.5" x2="871.5" y2="823" stroke="#1e1e1e" stroke-width="2"/>
<ellipse cx="862" cy="815" rx="5.2" ry="2.9" fill="none" stroke="#1e1e1e" stroke-width="1.8"/>
<polygon points="947,1061 1062,995 1182,1061 1062,1127" fill="#fff" stroke="#1e1e1e" stroke-width="1.8" stroke-linejoin="round"/>
<polyline points="947,1061 947,1068 1062,1134 1182,1068 1182,1061" fill="none" stroke="#1e1e1e" stroke-width="1.8" stroke-linejoin="round"/>
<line x1="1062" y1="1127" x2="1062" y2="1134" stroke="#1e1e1e" stroke-width="1.6"/>
<ellipse cx="1065" cy="1058" rx="69" ry="40" fill="none" stroke="#1e1e1e" stroke-width="1.8"/>
<ellipse cx="1065" cy="1055" rx="60" ry="34" fill="none" stroke="#1e1e1e" stroke-width="1.4"/>
<ellipse cx="1065" cy="1052" rx="48" ry="26" fill="none" stroke="#1e1e1e" stroke-width="1.6"/>
<ellipse cx="1068" cy="1048" rx="38" ry="20" fill="none" stroke="#1e1e1e" stroke-width="1.4"/>
<ellipse cx="1100.3" cy="1053.3" rx="2.5" ry="2" fill="none" stroke="#1e1e1e" stroke-width="1"/>
<ellipse cx="1096.7" cy="1057.1" rx="2.5" ry="2" fill="none" stroke="#1e1e1e" stroke-width="1"/>
<ellipse cx="1091.3" cy="1060.4" rx="2.5" ry="2" fill="none" stroke="#1e1e1e" stroke-width="1"/>
<ellipse cx="1084.4" cy="1062.9" rx="2.5" ry="2" fill="none" stroke="#1e1e1e" stroke-width="1"/>
<ellipse cx="1076.5" cy="1064.5" rx="2.5" ry="2" fill="none" stroke="#1e1e1e" stroke-width="1"/>
<ellipse cx="1068" cy="1065" rx="2.5" ry="2" fill="none" stroke="#1e1e1e" stroke-width="1"/>
<ellipse cx="1059.5" cy="1064.5" rx="2.5" ry="2" fill="none" stroke="#1e1e1e" stroke-width="1"/>
<ellipse cx="1051.6" cy="1062.9" rx="2.5" ry="2" fill="none" stroke="#1e1e1e" stroke-width="1"/>
<ellipse cx="1044.7" cy="1060.4" rx="2.5" ry="2" fill="none" stroke="#1e1e1e" stroke-width="1"/>
<ellipse cx="1039.3" cy="1057.1" rx="2.5" ry="2" fill="none" stroke="#1e1e1e" stroke-width="1"/>
<ellipse cx="968" cy="1061" rx="6" ry="3.5" fill="none" stroke="#1e1e1e" stroke-width="1.5"/>
<ellipse cx="1161" cy="1059" rx="6" ry="3.5" fill="none" stroke="#1e1e1e" stroke-width="1.5"/>
<ellipse cx="1062" cy="1114" rx="6" ry="3.5" fill="none" stroke="#1e1e1e" stroke-width="1.5"/>
<polyline points="1000,1102 1000,1162" fill="none" stroke="#1e1e1e" stroke-width="1.6" stroke-linejoin="round"/>
<polyline points="1025,1110 1025,1157" fill="none" stroke="#1e1e1e" stroke-width="1.6" stroke-linejoin="round"/>
<polyline points="1030,1112 1030,1160" fill="none" stroke="#1e1e1e" stroke-width="1.2" stroke-linejoin="round"/>
<polyline points="1057,1133 1057,1175" fill="none" stroke="#1e1e1e" stroke-width="1.4" stroke-linejoin="round"/>
<polyline points="1066,1135 1066,1172" fill="none" stroke="#1e1e1e" stroke-width="1.4" stroke-linejoin="round"/>
<polyline points="1085,1130 1085,1190" fill="none" stroke="#1e1e1e" stroke-width="1.4" stroke-linejoin="round"/>
<polyline points="1120,1102 1135,1095 1135,1267 1120,1265 1120,1102" fill="none" stroke="#1e1e1e" stroke-width="1.6" stroke-linejoin="round"/>
<ellipse cx="1104" cy="1122" rx="4" ry="6" fill="none" stroke="#1e1e1e" stroke-width="1.5"/>
<ellipse cx="1104" cy="1150" rx="4" ry="6" fill="none" stroke="#1e1e1e" stroke-width="1.5"/>
<ellipse cx="1104" cy="1178" rx="4" ry="6" fill="none" stroke="#1e1e1e" stroke-width="1.5"/>
<ellipse cx="1010" cy="1129" rx="4" ry="6" fill="none" stroke="#1e1e1e" stroke-width="1.5"/>
<rect x="964" y="1122" width="10" height="36" fill="#fff" stroke="#1e1e1e" stroke-width="1.6"/>
<ellipse cx="969" cy="1122" rx="5" ry="2.5" fill="none" stroke="#1e1e1e" stroke-width="1.4"/>
<polygon points="969,1166.5 961.2,1164.2 961.2,1159.8 969,1157.5 976.8,1159.8 976.8,1164.2" fill="#fff" stroke="#1e1e1e" stroke-width="1.4" stroke-linejoin="round"/>
<line x1="960" y1="1162" x2="960" y2="1168" stroke="#1e1e1e" stroke-width="1.4"/>
<line x1="978" y1="1162" x2="978" y2="1168" stroke="#1e1e1e" stroke-width="1.4"/>
<ellipse cx="969" cy="1168" rx="9" ry="3" fill="none" stroke="#1e1e1e" stroke-width="1.4"/>
<rect x="1155" y="1118" width="10" height="36" fill="#fff" stroke="#1e1e1e" stroke-width="1.6"/>
<ellipse cx="1160" cy="1118" rx="5" ry="2.5" fill="none" stroke="#1e1e1e" stroke-width="1.4"/>
<polygon points="1160,1162.5 1152.2,1160.2 1152.2,1155.8 1160,1153.5 1167.8,1155.8 1167.8,1160.2" fill="#fff" stroke="#1e1e1e" stroke-width="1.4" stroke-linejoin="round"/>
<line x1="1151" y1="1158" x2="1151" y2="1164" stroke="#1e1e1e" stroke-width="1.4"/>
<line x1="1169" y1="1158" x2="1169" y2="1164" stroke="#1e1e1e" stroke-width="1.4"/>
<ellipse cx="1160" cy="1164" rx="9" ry="3" fill="none" stroke="#1e1e1e" stroke-width="1.4"/>
<path d="M951,993 Q948,988 955,985 L1055,934 Q1061,931 1067,934 L1175,990 Q1180,995 1174,999 L1100,1040 L1069,1055 L1040,1043 Z" fill="#fff" stroke="#1e1e1e" stroke-width="1.9" stroke-linejoin="round"/>
<ellipse cx="1065" cy="995" rx="70" ry="39" fill="none" stroke="#1e1e1e" stroke-width="1.9"/>
<polyline points="1015,1020 1061,997 1114,1021" fill="none" stroke="#1e1e1e" stroke-width="1.8" stroke-linejoin="round"/>
<path d="M1025,1033 Q1065,1020 1105,1033" fill="none" stroke="#1e1e1e" stroke-width="1.5" stroke-linejoin="round"/>
<ellipse cx="968" cy="997" rx="6" ry="3.2" fill="none" stroke="#1e1e1e" stroke-width="1.5"/>
<ellipse cx="1067" cy="942" rx="6" ry="3.2" fill="none" stroke="#1e1e1e" stroke-width="1.5"/>
<ellipse cx="1160" cy="993" rx="6" ry="3.2" fill="none" stroke="#1e1e1e" stroke-width="1.5"/>
<ellipse cx="1061" cy="1047" rx="6" ry="3.2" fill="none" stroke="#1e1e1e" stroke-width="1.5"/>
<circle cx="975" cy="989" r="1.4" fill="#222"/>
<polyline points="1070,980 1065.5,984.3 1056.5,984.3 1052,980 1056.5,975.7 1065.5,975.7 1070,980" fill="#fff" stroke="#1e1e1e" stroke-width="2" stroke-linejoin="round"/>
<line x1="1052" y1="980" x2="1052" y2="988" stroke="#1e1e1e" stroke-width="2"/>
<line x1="1056.5" y1="984.3" x2="1056.5" y2="992.3" stroke="#1e1e1e" stroke-width="2"/>
<line x1="1065.5" y1="984.3" x2="1065.5" y2="992.3" stroke="#1e1e1e" stroke-width="2"/>
<line x1="1070" y1="980" x2="1070" y2="988" stroke="#1e1e1e" stroke-width="2"/>
<line x1="1052" y1="988" x2="1056.5" y2="992.3" stroke="#1e1e1e" stroke-width="2"/>
<line x1="1056.5" y1="992.3" x2="1065.5" y2="992.3" stroke="#1e1e1e" stroke-width="2"/>
<line x1="1065.5" y1="992.3" x2="1070" y2="988" stroke="#1e1e1e" stroke-width="2"/>
<ellipse cx="1061" cy="980" rx="5" ry="2.7" fill="none" stroke="#1e1e1e" stroke-width="1.8"/>
<ellipse cx="1062" cy="1008" rx="9" ry="5" fill="none" stroke="#1e1e1e" stroke-width="3.4"/>
<ellipse cx="1062" cy="1008" rx="4" ry="2.2" fill="none" stroke="#1e1e1e" stroke-width="1.5"/>
<polygon points="971,1207 1000,1170 1017,1160 1035,1157 1075,1175 1095,1197 1120,1265 1135,1267 1125,1295 1107,1300 1097,1320 1072,1332 1005,1297 995,1270 980,1227" fill="#fff" stroke="#1e1e1e" stroke-width="1.8" stroke-linejoin="round"/>
<ellipse cx="1040" cy="1250" rx="42" ry="60" transform="rotate(-35 1040 1250)" fill="none" stroke="#1e1e1e" stroke-width="1.8"/>
<ellipse cx="1045" cy="1245" rx="36" ry="52" transform="rotate(-35 1045 1245)" fill="none" stroke="#1e1e1e" stroke-width="1.4"/>
<polyline points="1035,1157 1060,1175 1100,1250 1107,1300" fill="none" stroke="#1e1e1e" stroke-width="1.5" stroke-linejoin="round"/>
<polyline points="1075,1175 1090,1180 1125,1265" fill="none" stroke="#1e1e1e" stroke-width="1.4" stroke-linejoin="round"/>
<ellipse cx="1012" cy="1178" rx="3.5" ry="5" transform="rotate(-30 1012 1178)" fill="none" stroke="#1e1e1e" stroke-width="1.4"/>
<ellipse cx="983" cy="1217" rx="3.5" ry="5" transform="rotate(-30 983 1217)" fill="none" stroke="#1e1e1e" stroke-width="1.4"/>
<ellipse cx="1010" cy="1280" rx="3.5" ry="5" transform="rotate(-30 1010 1280)" fill="none" stroke="#1e1e1e" stroke-width="1.4"/>
<ellipse cx="1067" cy="1318" rx="3.5" ry="5" transform="rotate(-30 1067 1318)" fill="none" stroke="#1e1e1e" stroke-width="1.4"/>
<ellipse cx="1095" cy="1275" rx="3.5" ry="5" transform="rotate(-30 1095 1275)" fill="none" stroke="#1e1e1e" stroke-width="1.4"/>
<ellipse cx="1060" cy="1190" rx="3.5" ry="5" transform="rotate(-30 1060 1190)" fill="none" stroke="#1e1e1e" stroke-width="1.4"/>
<rect x="1055" y="1172" width="9" height="40" fill="#fff" stroke="#1e1e1e" stroke-width="1.6"/>
<ellipse cx="1060" cy="1212" rx="9" ry="4" fill="none" stroke="#1e1e1e" stroke-width="1.8"/>
<path d="M1055,1220 Q1080,1240 1085,1260" fill="none" stroke="#1e1e1e" stroke-width="2.2" stroke-linejoin="round"/>
<ellipse cx="1198" cy="1163" rx="19" ry="32" transform="rotate(-35 1198 1163)" fill="none" stroke="#1e1e1e" stroke-width="3.6"/>
<ellipse cx="1198" cy="1163" rx="16.5" ry="27.8" transform="rotate(-35 1198 1163)" fill="none" stroke="#1e1e1e" stroke-width="1.4"/>
<ellipse cx="1198" cy="1163" rx="14.5" ry="24.3" transform="rotate(-35 1198 1163)" fill="none" stroke="#1e1e1e" stroke-width="3"/>
<ellipse cx="1257" cy="1130" rx="19" ry="32" transform="rotate(-35 1257 1130)" fill="none" stroke="#1e1e1e" stroke-width="3.6"/>
<ellipse cx="1257" cy="1130" rx="16.5" ry="27.8" transform="rotate(-35 1257 1130)" fill="none" stroke="#1e1e1e" stroke-width="1.4"/>
<ellipse cx="1257" cy="1130" rx="14.5" ry="24.3" transform="rotate(-35 1257 1130)" fill="none" stroke="#1e1e1e" stroke-width="3"/>
<ellipse cx="972" cy="1288" rx="26" ry="45" transform="rotate(-33 972 1288)" fill="#fff" stroke="#1e1e1e" stroke-width="1.8"/>
<ellipse cx="967" cy="1291" rx="23" ry="40" transform="rotate(-33 967 1291)" fill="none" stroke="#1e1e1e" stroke-width="2.8"/>
<ellipse cx="967" cy="1291" rx="17" ry="31" transform="rotate(-33 967 1291)" fill="none" stroke="#1e1e1e" stroke-width="2"/>
<ellipse cx="972" cy="1287" rx="14" ry="26" transform="rotate(-33 972 1287)" fill="none" stroke="#1e1e1e" stroke-width="1.4"/>
<polygon points="932.3,1275.3 934.4,1274.5 936.6,1274.3 939,1274.5 941.5,1275.1 944.1,1276.2 946.7,1277.8 949.3,1279.8 951.9,1282.1 954.3,1284.8 956.6,1287.8 958.8,1291.1 960.7,1294.5 962.3,1298 963.7,1301.6 964.8,1305.3 965.6,1308.8 966,1312.3 966.1,1315.6 965.8,1318.6 965.2,1321.4 964.3,1323.8 963,1325.8 961.5,1327.5 959.7,1328.7 918.7,1349.7 916.6,1350.5 914.4,1350.7 912,1350.5 909.5,1349.9 906.9,1348.8 904.3,1347.2 901.7,1345.2 899.1,1342.9 896.7,1340.2 894.4,1337.2 892.2,1333.9 890.3,1330.5 888.7,1327 887.3,1323.4 886.2,1319.7 885.4,1316.2 885,1312.7 884.9,1309.4 885.2,1306.4 885.8,1303.6 886.7,1301.2 888,1299.2 889.5,1297.5 891.3,1296.3" fill="#fff" stroke="#1e1e1e" stroke-width="1.8" stroke-linejoin="round"/>
<ellipse cx="905" cy="1323" rx="16.5" ry="30" transform="rotate(152.9 905 1323)" fill="none" stroke="#1e1e1e" stroke-width="1.8"/>
<ellipse cx="905" cy="1323" rx="15" ry="27" transform="rotate(-30 905 1323)" fill="none" stroke="#1e1e1e" stroke-width="4"/>
<polygon points="881.7,1325.8 883.2,1325.3 884.8,1325.1 886.6,1325.3 888.5,1325.8 890.5,1326.8 892.5,1328 894.5,1329.6 896.5,1331.5 898.5,1333.7 900.3,1336.1 902,1338.6 903.6,1341.3 905,1344.2 906.2,1347 907.1,1349.9 907.8,1352.7 908.3,1355.4 908.5,1358 908.4,1360.4 908.1,1362.5 907.5,1364.4 906.7,1366 905.6,1367.3 904.3,1368.2 786.3,1431.2 784.8,1431.7 783.2,1431.9 781.4,1431.7 779.5,1431.2 777.5,1430.2 775.5,1429 773.5,1427.4 771.5,1425.5 769.5,1423.3 767.7,1420.9 766,1418.4 764.4,1415.7 763,1412.8 761.8,1410 760.9,1407.1 760.2,1404.3 759.7,1401.6 759.5,1399 759.6,1396.6 759.9,1394.5 760.5,1392.6 761.3,1391 762.4,1389.7 763.7,1388.8" fill="#fff" stroke="#1e1e1e" stroke-width="1.8" stroke-linejoin="round"/>
<ellipse cx="775" cy="1410" rx="12" ry="24" transform="rotate(151.9 775 1410)" fill="none" stroke="#1e1e1e" stroke-width="1.8"/>
<line x1="826" y1="1380" x2="850" y2="1363" stroke="#1e1e1e" stroke-width="1.2"/>
<polygon points="809.5,1360.2 811.1,1359.6 812.8,1359.4 814.8,1359.6 816.8,1360.1 819,1361.1 821.2,1362.5 823.4,1364.2 825.6,1366.2 827.7,1368.5 829.8,1371.1 831.7,1373.8 833.4,1376.7 834.9,1379.8 836.2,1382.8 837.3,1385.9 838.1,1389 838.7,1391.9 838.9,1394.7 838.9,1397.3 838.5,1399.6 837.9,1401.6 837.1,1403.4 835.9,1404.8 834.5,1405.8 814.5,1416.8 812.9,1417.4 811.2,1417.6 809.2,1417.4 807.2,1416.9 805,1415.9 802.8,1414.5 800.6,1412.8 798.4,1410.8 796.3,1408.5 794.2,1405.9 792.3,1403.2 790.6,1400.3 789.1,1397.2 787.8,1394.2 786.7,1391.1 785.9,1388 785.3,1385.1 785.1,1382.3 785.1,1379.7 785.5,1377.4 786.1,1375.4 786.9,1373.6 788.1,1372.2 789.5,1371.2" fill="#fff" stroke="#1e1e1e" stroke-width="1.8" stroke-linejoin="round"/>
<ellipse cx="802" cy="1394" rx="13" ry="26" transform="rotate(151.2 802 1394)" fill="none" stroke="#1e1e1e" stroke-width="1.8"/>
<line x1="804" y1="1372" x2="815" y2="1394" stroke="#1e1e1e" stroke-width="1"/>
<line x1="807" y1="1375" x2="818" y2="1397" stroke="#1e1e1e" stroke-width="1"/>
<line x1="810" y1="1378" x2="821" y2="1400" stroke="#1e1e1e" stroke-width="1"/>
<line x1="813" y1="1381" x2="824" y2="1403" stroke="#1e1e1e" stroke-width="1"/>
<line x1="816" y1="1384" x2="827" y2="1406" stroke="#1e1e1e" stroke-width="1"/>
<line x1="819" y1="1387" x2="830" y2="1409" stroke="#1e1e1e" stroke-width="1"/>
<ellipse cx="775" cy="1410" rx="10" ry="20" transform="rotate(-30 775 1410)" fill="none" stroke="#1e1e1e" stroke-width="2"/>
<polygon points="746.5,1411 749.6,1411.4 750.9,1413.8 749.4,1416.3 750.5,1418.6 753.7,1419.5 754.8,1422 752.9,1424 753.8,1426.3 757.1,1427.9 758,1430.4 755.7,1431.8 756.4,1434.1 759.7,1436.2 760.4,1438.7 757.7,1439.4 758.2,1441.7 761.5,1444.4 761.9,1446.8 759,1446.9 759.2,1449.1 762.4,1452.2 762.5,1454.5 759.4,1453.9 759.3,1456 762.4,1459.5 762.2,1461.6 758.9,1460.5 758.6,1462.3 761.4,1466.2 761,1468 757.6,1466.3 757.1,1467.9 759.6,1472 758.9,1473.6 755.6,1471.4 754.8,1472.7 756.9,1477 756,1478.3 752.7,1475.5 751.7,1476.6 753.5,1481 752.3,1482 749.1,1478.7 747.9,1479.5 749.3,1483.8 747.9,1484.5 744.9,1480.8 743.6,1481.3 744.5,1485.6 742.9,1485.9 740.2,1481.9 738.7,1482 739.1,1486.1 737.4,1486 735,1481.9 733.4,1481.6 733.3,1485.5 731.5,1485 729.4,1480.7 727.7,1480.1 727.2,1483.6 725.3,1482.8 723.7,1478.5 721.9,1477.6 720.9,1480.6 719,1479.5 717.8,1475.2 716,1474 714.6,1476.6 712.7,1475.2 711.9,1470.9 710.1,1469.5 708.3,1471.5 706.4,1469.8 706.1,1465.8 704.4,1464.1 702.2,1465.6 700.4,1463.6 700.6,1459.9 699,1458 696.4,1458.9 694.8,1456.7 695.4,1453.3 693.9,1451.2 691.1,1451.5 689.6,1449.2 690.7,1446.2 689.4,1444 686.3,1443.6 685,1441.2 686.5,1438.7 685.4,1436.4 682.2,1435.5 681.1,1433 683,1431 682.1,1428.7 678.8,1427.1 677.9,1424.6 680.2,1423.2 679.5,1420.9 676.1,1418.8 675.5,1416.3 678.1,1415.6 677.7,1413.3 674.4,1410.6 674,1408.2 676.9,1408.1 676.7,1405.9 673.5,1402.8 673.4,1400.5 676.5,1401.1 676.6,1399 673.5,1395.5 673.7,1393.4 677,1394.5 677.2,1392.7 674.5,1388.8 674.9,1387 678.2,1388.7 678.8,1387.1 676.3,1383 677,1381.4 680.3,1383.6 681.1,1382.3 678.9,1378 679.9,1376.7 683.2,1379.5 684.2,1378.4 682.4,1374 683.6,1373 686.7,1376.3 687.9,1375.5 686.6,1371.2 688,1370.5 690.9,1374.2 692.3,1373.7 691.4,1369.4 693,1369.1 695.7,1373.1 697.2,1373 696.8,1368.9 698.5,1369 700.9,1373.1 702.5,1373.4 702.6,1369.5 704.4,1370 706.4,1374.3 708.2,1374.9 708.7,1371.4 710.5,1372.2 712.2,1376.5 714,1377.4 715,1374.4 716.9,1375.5 718.1,1379.8 719.9,1381 721.3,1378.4 723.2,1379.8 724,1384.1 725.8,1385.5 727.6,1383.5 729.4,1385.2 729.8,1389.2 731.5,1390.9 733.7,1389.4 735.5,1391.4 735.3,1395.1 736.9,1397 739.5,1396.1 741.1,1398.3 740.5,1401.7 742,1403.8 744.8,1403.5 746.3,1405.8 745.2,1408.8" fill="#fff" stroke="#1e1e1e" stroke-width="1.8" stroke-linejoin="round"/>
<line x1="749.6" y1="1411.4" x2="755.6" y2="1407.9" stroke="#1e1e1e" stroke-width="1.4"/>
<line x1="750.9" y1="1413.8" x2="756.9" y2="1410.3" stroke="#1e1e1e" stroke-width="1.4"/>
<line x1="753.7" y1="1419.5" x2="759.8" y2="1416" stroke="#1e1e1e" stroke-width="1.4"/>
<line x1="754.8" y1="1422" x2="760.9" y2="1418.5" stroke="#1e1e1e" stroke-width="1.4"/>
<line x1="757.1" y1="1427.9" x2="763.2" y2="1424.4" stroke="#1e1e1e" stroke-width="1.4"/>
<line x1="758" y1="1430.4" x2="764.1" y2="1426.9" stroke="#1e1e1e" stroke-width="1.4"/>
<line x1="759.7" y1="1436.2" x2="765.8" y2="1432.7" stroke="#1e1e1e" stroke-width="1.4"/>
<line x1="760.4" y1="1438.7" x2="766.4" y2="1435.2" stroke="#1e1e1e" stroke-width="1.4"/>
<line x1="761.5" y1="1444.4" x2="767.6" y2="1440.9" stroke="#1e1e1e" stroke-width="1.4"/>
<line x1="761.9" y1="1446.8" x2="767.9" y2="1443.3" stroke="#1e1e1e" stroke-width="1.4"/>
<line x1="762.4" y1="1452.2" x2="768.4" y2="1448.7" stroke="#1e1e1e" stroke-width="1.4"/>
<line x1="762.5" y1="1454.5" x2="768.5" y2="1451" stroke="#1e1e1e" stroke-width="1.4"/>
<line x1="762.4" y1="1459.5" x2="768.4" y2="1456" stroke="#1e1e1e" stroke-width="1.4"/>
<line x1="762.2" y1="1461.6" x2="768.2" y2="1458.1" stroke="#1e1e1e" stroke-width="1.4"/>
<line x1="761.4" y1="1466.2" x2="767.5" y2="1462.7" stroke="#1e1e1e" stroke-width="1.4"/>
<line x1="761" y1="1468" x2="767" y2="1464.5" stroke="#1e1e1e" stroke-width="1.4"/>
<line x1="759.6" y1="1472" x2="765.7" y2="1468.5" stroke="#1e1e1e" stroke-width="1.4"/>
<line x1="758.9" y1="1473.6" x2="765" y2="1470.1" stroke="#1e1e1e" stroke-width="1.4"/>
<line x1="756.9" y1="1477" x2="763" y2="1473.5" stroke="#1e1e1e" stroke-width="1.4"/>
<line x1="756" y1="1478.3" x2="762" y2="1474.8" stroke="#1e1e1e" stroke-width="1.4"/>
<line x1="753.5" y1="1481" x2="759.5" y2="1477.5" stroke="#1e1e1e" stroke-width="1.4"/>
<line x1="752.3" y1="1482" x2="758.4" y2="1478.5" stroke="#1e1e1e" stroke-width="1.4"/>
<line x1="749.3" y1="1483.8" x2="755.4" y2="1480.3" stroke="#1e1e1e" stroke-width="1.4"/>
<line x1="747.9" y1="1484.5" x2="754" y2="1481" stroke="#1e1e1e" stroke-width="1.4"/>
<line x1="744.5" y1="1485.6" x2="750.5" y2="1482.1" stroke="#1e1e1e" stroke-width="1.4"/>
<line x1="742.9" y1="1485.9" x2="749" y2="1482.4" stroke="#1e1e1e" stroke-width="1.4"/>
<line x1="739.1" y1="1486.1" x2="745.2" y2="1482.6" stroke="#1e1e1e" stroke-width="1.4"/>
<line x1="737.4" y1="1486" x2="743.5" y2="1482.5" stroke="#1e1e1e" stroke-width="1.4"/>
<line x1="733.3" y1="1485.5" x2="739.4" y2="1482" stroke="#1e1e1e" stroke-width="1.4"/>
<line x1="731.5" y1="1485" x2="737.6" y2="1481.5" stroke="#1e1e1e" stroke-width="1.4"/>
<line x1="727.2" y1="1483.6" x2="733.3" y2="1480.1" stroke="#1e1e1e" stroke-width="1.4"/>
<line x1="725.3" y1="1482.8" x2="731.4" y2="1479.3" stroke="#1e1e1e" stroke-width="1.4"/>
<line x1="720.9" y1="1480.6" x2="727" y2="1477.1" stroke="#1e1e1e" stroke-width="1.4"/>
<line x1="719" y1="1479.5" x2="725.1" y2="1476" stroke="#1e1e1e" stroke-width="1.4"/>
<line x1="714.6" y1="1476.6" x2="720.6" y2="1473.1" stroke="#1e1e1e" stroke-width="1.4"/>
<line x1="712.7" y1="1475.2" x2="718.7" y2="1471.7" stroke="#1e1e1e" stroke-width="1.4"/>
<line x1="708.3" y1="1471.5" x2="714.3" y2="1468" stroke="#1e1e1e" stroke-width="1.4"/>
<line x1="706.4" y1="1469.8" x2="712.5" y2="1466.3" stroke="#1e1e1e" stroke-width="1.4"/>
<line x1="702.2" y1="1465.6" x2="708.3" y2="1462.1" stroke="#1e1e1e" stroke-width="1.4"/>
<line x1="700.4" y1="1463.6" x2="706.5" y2="1460.1" stroke="#1e1e1e" stroke-width="1.4"/>
<line x1="696.4" y1="1458.9" x2="702.5" y2="1455.4" stroke="#1e1e1e" stroke-width="1.4"/>
<line x1="694.8" y1="1456.7" x2="700.8" y2="1453.2" stroke="#1e1e1e" stroke-width="1.4"/>
<line x1="691.1" y1="1451.5" x2="697.2" y2="1448" stroke="#1e1e1e" stroke-width="1.4"/>
<line x1="689.6" y1="1449.2" x2="695.7" y2="1445.7" stroke="#1e1e1e" stroke-width="1.4"/>
<line x1="686.3" y1="1443.6" x2="692.4" y2="1440.1" stroke="#1e1e1e" stroke-width="1.4"/>
<line x1="685" y1="1441.2" x2="691.1" y2="1437.7" stroke="#1e1e1e" stroke-width="1.4"/>
<line x1="682.2" y1="1435.5" x2="688.2" y2="1432" stroke="#1e1e1e" stroke-width="1.4"/>
<line x1="681.1" y1="1433" x2="687.1" y2="1429.5" stroke="#1e1e1e" stroke-width="1.4"/>
<line x1="678.8" y1="1427.1" x2="684.8" y2="1423.6" stroke="#1e1e1e" stroke-width="1.4"/>
<line x1="677.9" y1="1424.6" x2="683.9" y2="1421.1" stroke="#1e1e1e" stroke-width="1.4"/>
<line x1="676.1" y1="1418.8" x2="682.2" y2="1415.3" stroke="#1e1e1e" stroke-width="1.4"/>
<line x1="675.5" y1="1416.3" x2="681.6" y2="1412.8" stroke="#1e1e1e" stroke-width="1.4"/>
<line x1="674.4" y1="1410.6" x2="680.4" y2="1407.1" stroke="#1e1e1e" stroke-width="1.4"/>
<line x1="674" y1="1408.2" x2="680.1" y2="1404.7" stroke="#1e1e1e" stroke-width="1.4"/>
<line x1="673.5" y1="1402.8" x2="679.6" y2="1399.3" stroke="#1e1e1e" stroke-width="1.4"/>
<line x1="673.4" y1="1400.5" x2="679.5" y2="1397" stroke="#1e1e1e" stroke-width="1.4"/>
<line x1="673.5" y1="1395.5" x2="679.6" y2="1392" stroke="#1e1e1e" stroke-width="1.4"/>
<line x1="673.7" y1="1393.4" x2="679.8" y2="1389.9" stroke="#1e1e1e" stroke-width="1.4"/>
<line x1="674.5" y1="1388.8" x2="680.5" y2="1385.3" stroke="#1e1e1e" stroke-width="1.4"/>
<line x1="674.9" y1="1387" x2="681" y2="1383.5" stroke="#1e1e1e" stroke-width="1.4"/>
<line x1="676.3" y1="1383" x2="682.3" y2="1379.5" stroke="#1e1e1e" stroke-width="1.4"/>
<line x1="677" y1="1381.4" x2="683" y2="1377.9" stroke="#1e1e1e" stroke-width="1.4"/>
<line x1="678.9" y1="1378" x2="685" y2="1374.5" stroke="#1e1e1e" stroke-width="1.4"/>
<line x1="679.9" y1="1376.7" x2="686" y2="1373.2" stroke="#1e1e1e" stroke-width="1.4"/>
<line x1="682.4" y1="1374" x2="688.5" y2="1370.5" stroke="#1e1e1e" stroke-width="1.4"/>
<line x1="683.6" y1="1373" x2="689.6" y2="1369.5" stroke="#1e1e1e" stroke-width="1.4"/>
<line x1="686.6" y1="1371.2" x2="692.6" y2="1367.7" stroke="#1e1e1e" stroke-width="1.4"/>
<line x1="688" y1="1370.5" x2="694" y2="1367" stroke="#1e1e1e" stroke-width="1.4"/>
<line x1="691.4" y1="1369.4" x2="697.5" y2="1365.9" stroke="#1e1e1e" stroke-width="1.4"/>
<line x1="693" y1="1369.1" x2="699" y2="1365.6" stroke="#1e1e1e" stroke-width="1.4"/>
<line x1="696.8" y1="1368.9" x2="702.8" y2="1365.4" stroke="#1e1e1e" stroke-width="1.4"/>
<line x1="698.5" y1="1369" x2="704.5" y2="1365.5" stroke="#1e1e1e" stroke-width="1.4"/>
<line x1="702.6" y1="1369.5" x2="708.6" y2="1366" stroke="#1e1e1e" stroke-width="1.4"/>
<line x1="704.4" y1="1370" x2="710.4" y2="1366.5" stroke="#1e1e1e" stroke-width="1.4"/>
<line x1="708.7" y1="1371.4" x2="714.7" y2="1367.9" stroke="#1e1e1e" stroke-width="1.4"/>
<line x1="710.5" y1="1372.2" x2="716.6" y2="1368.7" stroke="#1e1e1e" stroke-width="1.4"/>
<line x1="715" y1="1374.4" x2="721" y2="1370.9" stroke="#1e1e1e" stroke-width="1.4"/>
<line x1="716.9" y1="1375.5" x2="722.9" y2="1372" stroke="#1e1e1e" stroke-width="1.4"/>
<line x1="721.3" y1="1378.4" x2="727.4" y2="1374.9" stroke="#1e1e1e" stroke-width="1.4"/>
<line x1="723.2" y1="1379.8" x2="729.3" y2="1376.3" stroke="#1e1e1e" stroke-width="1.4"/>
<line x1="727.6" y1="1383.5" x2="733.7" y2="1380" stroke="#1e1e1e" stroke-width="1.4"/>
<line x1="729.4" y1="1385.2" x2="735.5" y2="1381.7" stroke="#1e1e1e" stroke-width="1.4"/>
<line x1="733.7" y1="1389.4" x2="739.7" y2="1385.9" stroke="#1e1e1e" stroke-width="1.4"/>
<line x1="735.5" y1="1391.4" x2="741.5" y2="1387.9" stroke="#1e1e1e" stroke-width="1.4"/>
<line x1="739.5" y1="1396.1" x2="745.5" y2="1392.6" stroke="#1e1e1e" stroke-width="1.4"/>
<line x1="741.1" y1="1398.3" x2="747.2" y2="1394.8" stroke="#1e1e1e" stroke-width="1.4"/>
<line x1="744.8" y1="1403.5" x2="750.8" y2="1400" stroke="#1e1e1e" stroke-width="1.4"/>
<line x1="746.3" y1="1405.8" x2="752.3" y2="1402.3" stroke="#1e1e1e" stroke-width="1.4"/>
<polygon points="752.6,1407.5 755.6,1407.9 756.9,1410.3 755.4,1412.8 756.6,1415.1 759.8,1416 760.9,1418.5 759,1420.5 759.9,1422.8 763.2,1424.4 764.1,1426.9 761.8,1428.3 762.5,1430.6 765.8,1432.7 766.4,1435.2 763.8,1435.9 764.3,1438.2 767.6,1440.9 767.9,1443.3 765,1443.4 765.2,1445.6 768.4,1448.7 768.5,1451 765.4,1450.4 765.4,1452.5 768.4,1456 768.2,1458.1 765,1457 764.7,1458.8 767.5,1462.7 767,1464.5 763.7,1462.8 763.2,1464.4 765.7,1468.5 765,1470.1 761.6,1467.9 760.8,1469.2 763,1473.5 762,1474.8 758.8,1472 757.8,1473.1 759.5,1477.5 758.4,1478.5 755.2,1475.2 754,1476 755.4,1480.3 754,1481 751,1477.3 749.6,1477.8 750.5,1482.1 749,1482.4 746.3,1478.4 744.7,1478.5 745.2,1482.6 743.5,1482.5 741,1478.4 739.4,1478.1 739.4,1482 737.6,1481.5 735.5,1477.2 733.8,1476.6 733.3,1480.1 731.4,1479.3 729.7,1475 728,1474.1 727,1477.1 725.1,1476 723.8,1471.7 722,1470.5 720.6,1473.1 718.7,1471.7 717.9,1467.4 716.2,1466 714.3,1468 712.5,1466.3 712.2,1462.3 710.5,1460.6 708.3,1462.1 706.5,1460.1 706.6,1456.4 705,1454.5 702.5,1455.4 700.8,1453.2 701.4,1449.8 700,1447.7 697.2,1448 695.7,1445.7 696.7,1442.7 695.4,1440.5 692.4,1440.1 691.1,1437.7 692.6,1435.2 691.4,1432.9 688.2,1432 687.1,1429.5 689,1427.5 688.1,1425.2 684.8,1423.6 683.9,1421.1 686.2,1419.7 685.5,1417.4 682.2,1415.3 681.6,1412.8 684.2,1412.1 683.7,1409.8 680.4,1407.1 680.1,1404.7 683,1404.6 682.8,1402.4 679.6,1399.3 679.5,1397 682.6,1397.6 682.6,1395.5 679.6,1392 679.8,1389.9 683,1391 683.3,1389.2 680.5,1385.3 681,1383.5 684.3,1385.2 684.8,1383.6 682.3,1379.5 683,1377.9 686.4,1380.1 687.2,1378.8 685,1374.5 686,1373.2 689.2,1376 690.2,1374.9 688.5,1370.5 689.6,1369.5 692.8,1372.8 694,1372 692.6,1367.7 694,1367 697,1370.7 698.4,1370.2 697.5,1365.9 699,1365.6 701.7,1369.6 703.3,1369.5 702.8,1365.4 704.5,1365.5 707,1369.6 708.6,1369.9 708.6,1366 710.4,1366.5 712.5,1370.8 714.2,1371.4 714.7,1367.9 716.6,1368.7 718.3,1373 720,1373.9 721,1370.9 722.9,1372 724.2,1376.3 726,1377.5 727.4,1374.9 729.3,1376.3 730.1,1380.6 731.8,1382 733.7,1380 735.5,1381.7 735.8,1385.7 737.5,1387.4 739.7,1385.9 741.5,1387.9 741.4,1391.6 743,1393.5 745.5,1392.6 747.2,1394.8 746.6,1398.2 748,1400.3 750.8,1400 752.3,1402.3 751.3,1405.3" fill="#fff" stroke="#1e1e1e" stroke-width="1.8" stroke-linejoin="round"/>
<ellipse cx="724" cy="1424" rx="31" ry="54" transform="rotate(-30 724 1424)" fill="none" stroke="#1e1e1e" stroke-width="1.4"/>
<polygon points="626,1400 632,1394 639,1397 654,1368 659,1359 670,1362 674,1366 716,1388 724,1397 750,1464 760,1472 758,1480 749,1489 738,1505 732,1515 727,1522 716,1515 674,1494 650,1478 640,1462 630,1440" fill="#fff" stroke="#1e1e1e" stroke-width="1.9" stroke-linejoin="round"/>
<ellipse cx="695" cy="1442" rx="44" ry="64" transform="rotate(-35 695 1442)" fill="none" stroke="#1e1e1e" stroke-width="1.6"/>
<ellipse cx="664" cy="1372" rx="3.5" ry="5" transform="rotate(-30 664 1372)" fill="none" stroke="#1e1e1e" stroke-width="1.6"/>
<ellipse cx="637" cy="1408" rx="3.5" ry="5" transform="rotate(-30 637 1408)" fill="none" stroke="#1e1e1e" stroke-width="1.6"/>
<ellipse cx="721" cy="1510" rx="3.5" ry="5" transform="rotate(-30 721 1510)" fill="none" stroke="#1e1e1e" stroke-width="1.6"/>
<ellipse cx="750" cy="1476" rx="3.5" ry="5" transform="rotate(-30 750 1476)" fill="none" stroke="#1e1e1e" stroke-width="1.6"/>
<circle cx="739" cy="1497" r="1.5" fill="#222"/>
<ellipse cx="728" cy="1421" rx="19" ry="31" transform="rotate(-30 728 1421)" fill="none" stroke="#1e1e1e" stroke-width="1.8"/>
<ellipse cx="730" cy="1420" rx="14" ry="24" transform="rotate(-30 730 1420)" fill="none" stroke="#1e1e1e" stroke-width="1.4"/>
<line x1="710.4" y1="1420.5" x2="720.4" y2="1422.5" stroke="#1e1e1e" stroke-width="1.6"/>
<line x1="708.7" y1="1411.3" x2="718.7" y2="1413.3" stroke="#1e1e1e" stroke-width="1.6"/>
<line x1="709.8" y1="1403.5" x2="719.8" y2="1405.5" stroke="#1e1e1e" stroke-width="1.6"/>
<line x1="713.6" y1="1398.2" x2="723.6" y2="1400.2" stroke="#1e1e1e" stroke-width="1.6"/>
<line x1="719.4" y1="1396.3" x2="729.4" y2="1398.3" stroke="#1e1e1e" stroke-width="1.6"/>
<line x1="726.6" y1="1397.9" x2="736.6" y2="1399.9" stroke="#1e1e1e" stroke-width="1.6"/>
<circle cx="719" cy="1399" r="2.8" fill="#222"/>
<polygon points="669.6,1412.8 671.7,1411.6 674.2,1410.8 676.9,1410.6 679.8,1410.8 682.9,1411.6 686.2,1412.8 689.4,1414.5 692.8,1416.7 696,1419.2 699.2,1422.1 702.2,1425.3 705,1428.8 707.5,1432.4 709.7,1436.2 711.6,1440 713.2,1443.9 714.3,1447.7 715,1451.3 715.3,1454.7 715.1,1457.9 714.6,1460.8 713.6,1463.4 712.2,1465.5 710.4,1467.2 702.4,1473.2 700.3,1474.4 697.8,1475.2 695.1,1475.4 692.2,1475.2 689.1,1474.4 685.8,1473.2 682.6,1471.5 679.2,1469.3 676,1466.8 672.8,1463.9 669.8,1460.7 667,1457.2 664.5,1453.6 662.3,1449.8 660.4,1446 658.8,1442.1 657.7,1438.3 657,1434.7 656.7,1431.3 656.9,1428.1 657.4,1425.2 658.4,1422.6 659.8,1420.5 661.6,1418.8" fill="#fff" stroke="#1e1e1e" stroke-width="1.9" stroke-linejoin="round"/>
<ellipse cx="682" cy="1446" rx="18.7" ry="34" transform="rotate(143.1 682 1446)" fill="none" stroke="#1e1e1e" stroke-width="1.9"/>
<ellipse cx="682" cy="1446" rx="27" ry="30" transform="rotate(-33 682 1446)" fill="none" stroke="#1e1e1e" stroke-width="1.3"/>
<ellipse cx="683" cy="1446" rx="18" ry="30" transform="rotate(-33 683 1446)" fill="none" stroke="#1e1e1e" stroke-width="3"/>
<ellipse cx="684" cy="1446" rx="14" ry="24" transform="rotate(-33 684 1446)" fill="none" stroke="#1e1e1e" stroke-width="1.8"/>
<ellipse cx="688" cy="1443" rx="11" ry="20" transform="rotate(-33 688 1443)" fill="none" stroke="#1e1e1e" stroke-width="1.3"/>
<polygon points="544,1447 550,1436 577,1405 591,1399 600,1404 639,1430 648,1439 685,1508 679,1531 654,1560 643,1567 631,1557 592,1540 556,1480 544,1464" fill="#fff" stroke="#1e1e1e" stroke-width="1.9" stroke-linejoin="round"/>
<line x1="600" y1="1404" x2="602" y2="1410" stroke="#1e1e1e" stroke-width="1.3"/>
<line x1="648" y1="1439" x2="660" y2="1445" stroke="#1e1e1e" stroke-width="1.3"/>
<ellipse cx="608" cy="1486" rx="40" ry="58" transform="rotate(-35 608 1486)" fill="none" stroke="#1e1e1e" stroke-width="1.9"/>
<ellipse cx="612" cy="1484" rx="34" ry="50" transform="rotate(-35 612 1484)" fill="none" stroke="#1e1e1e" stroke-width="1.5"/>
<ellipse cx="614" cy="1483" rx="30" ry="44" transform="rotate(-35 614 1483)" fill="none" stroke="#1e1e1e" stroke-width="1.4"/>
<ellipse cx="604" cy="1490" rx="22" ry="34" transform="rotate(-35 604 1490)" fill="none" stroke="#1e1e1e" stroke-width="1.1"/>
<ellipse cx="605.8" cy="1488.8" rx="22.6" ry="35" transform="rotate(-35 605.8 1488.8)" fill="none" stroke="#1e1e1e" stroke-width="1.1"/>
<ellipse cx="607.6" cy="1487.6" rx="23.2" ry="36" transform="rotate(-35 607.6 1487.6)" fill="none" stroke="#1e1e1e" stroke-width="1.1"/>
<ellipse cx="609.4" cy="1486.4" rx="23.8" ry="37" transform="rotate(-35 609.4 1486.4)" fill="none" stroke="#1e1e1e" stroke-width="1.1"/>
<ellipse cx="611.2" cy="1485.2" rx="24.4" ry="38" transform="rotate(-35 611.2 1485.2)" fill="none" stroke="#1e1e1e" stroke-width="1.1"/>
<ellipse cx="598" cy="1494" rx="18" ry="28" transform="rotate(-35 598 1494)" fill="none" stroke="#1e1e1e" stroke-width="1.5"/>
<ellipse cx="583" cy="1416" rx="3.5" ry="5" transform="rotate(-30 583 1416)" fill="none" stroke="#1e1e1e" stroke-width="1.6"/>
<ellipse cx="553" cy="1453" rx="3.5" ry="5" transform="rotate(-30 553 1453)" fill="none" stroke="#1e1e1e" stroke-width="1.6"/>
<ellipse cx="639" cy="1446" rx="3.5" ry="5" transform="rotate(-30 639 1446)" fill="none" stroke="#1e1e1e" stroke-width="1.6"/>
<ellipse cx="667" cy="1515" rx="3.5" ry="5" transform="rotate(-30 667 1515)" fill="none" stroke="#1e1e1e" stroke-width="1.6"/>
<ellipse cx="639" cy="1553" rx="3.5" ry="5" transform="rotate(-30 639 1553)" fill="none" stroke="#1e1e1e" stroke-width="1.6"/>
<circle cx="652" cy="1545" r="1.5" fill="#222"/>
<ellipse cx="548" cy="1517" rx="19" ry="31" transform="rotate(-30 548 1517)" fill="none" stroke="#1e1e1e" stroke-width="2.8"/>
<ellipse cx="548" cy="1517" rx="15.5" ry="26" transform="rotate(-30 548 1517)" fill="none" stroke="#1e1e1e" stroke-width="1.6"/>
<ellipse cx="568" cy="1508" rx="19" ry="31" transform="rotate(-30 568 1508)" fill="none" stroke="#1e1e1e" stroke-width="2.8"/>
<ellipse cx="568" cy="1508" rx="15.5" ry="26" transform="rotate(-30 568 1508)" fill="none" stroke="#1e1e1e" stroke-width="1.6"/>
<ellipse cx="487" cy="1469" rx="5.4" ry="9" transform="rotate(-30 487 1469)" fill="#fff" stroke="#1e1e1e" stroke-width="1.8"/>
<ellipse cx="487" cy="1469" rx="2.4" ry="4" transform="rotate(-30 487 1469)" fill="none" stroke="#1e1e1e" stroke-width="1.8"/>
<polygon points="480.6,1466.6 480.9,1466.5 481.3,1466.5 481.6,1466.5 482,1466.6 482.4,1466.8 482.9,1467 483.3,1467.4 483.7,1467.8 484.1,1468.2 484.5,1468.7 484.9,1469.2 485.2,1469.8 485.5,1470.4 485.7,1471 485.9,1471.6 486.1,1472.2 486.2,1472.7 486.2,1473.3 486.2,1473.8 486.2,1474.2 486.1,1474.6 485.9,1474.9 485.7,1475.2 485.4,1475.4 463.4,1487.4 463.1,1487.5 462.7,1487.5 462.4,1487.5 462,1487.4 461.6,1487.2 461.1,1487 460.7,1486.6 460.3,1486.2 459.9,1485.8 459.5,1485.3 459.1,1484.8 458.8,1484.2 458.5,1483.6 458.3,1483 458.1,1482.4 457.9,1481.8 457.8,1481.3 457.8,1480.7 457.8,1480.2 457.8,1479.8 457.9,1479.4 458.1,1479.1 458.3,1478.8 458.6,1478.6" fill="#fff" stroke="#1e1e1e" stroke-width="1.6" stroke-linejoin="round"/>
<ellipse cx="461" cy="1483" rx="2.5" ry="5" transform="rotate(151.4 461 1483)" fill="none" stroke="#1e1e1e" stroke-width="1.6"/>
<ellipse cx="471" cy="1477.5" rx="3" ry="6" transform="rotate(-30 471 1477.5)" fill="none" stroke="#1e1e1e" stroke-width="2.6"/>
<polygon points="455.4,1476.3 456,1476 456.6,1475.9 457.3,1475.9 458.1,1476 458.9,1476.3 459.7,1476.7 460.5,1477.3 461.4,1477.9 462.1,1478.7 462.9,1479.5 463.6,1480.5 464.2,1481.5 464.8,1482.5 465.3,1483.5 465.7,1484.6 466,1485.7 466.2,1486.7 466.3,1487.7 466.3,1488.6 466.1,1489.4 465.9,1490.2 465.6,1490.8 465.1,1491.3 464.6,1491.7 459.6,1494.7 459,1495 458.4,1495.1 457.7,1495.1 456.9,1495 456.1,1494.7 455.3,1494.3 454.5,1493.7 453.6,1493.1 452.9,1492.3 452.1,1491.5 451.4,1490.5 450.8,1489.5 450.2,1488.5 449.7,1487.5 449.3,1486.4 449,1485.3 448.8,1484.3 448.7,1483.3 448.7,1482.4 448.9,1481.6 449.1,1480.8 449.4,1480.2 449.9,1479.7 450.4,1479.3" fill="#fff" stroke="#1e1e1e" stroke-width="1.8" stroke-linejoin="round"/>
<ellipse cx="455" cy="1487" rx="5" ry="9" transform="rotate(149 455 1487)" fill="none" stroke="#1e1e1e" stroke-width="1.8"/>
<polygon points="459.3,1484.5 461,1492.5 456.8,1495 450.7,1489.5 449,1481.5 453.2,1479" fill="#fff" stroke="#1e1e1e" stroke-width="1.4" stroke-linejoin="round"/>
<ellipse cx="458" cy="1507" rx="5.4" ry="9" transform="rotate(-30 458 1507)" fill="#fff" stroke="#1e1e1e" stroke-width="1.8"/>
<ellipse cx="458" cy="1507" rx="2.4" ry="4" transform="rotate(-30 458 1507)" fill="none" stroke="#1e1e1e" stroke-width="1.8"/>
<polygon points="451.5,1504.7 451.8,1504.5 452.2,1504.5 452.5,1504.5 452.9,1504.6 453.4,1504.8 453.8,1505.1 454.2,1505.4 454.6,1505.8 455.1,1506.2 455.5,1506.7 455.8,1507.2 456.2,1507.8 456.5,1508.3 456.7,1508.9 457,1509.5 457.1,1510.1 457.2,1510.7 457.3,1511.2 457.3,1511.7 457.2,1512.1 457.1,1512.5 457,1512.9 456.7,1513.1 456.5,1513.3 435.5,1525.3 435.2,1525.5 434.8,1525.5 434.5,1525.5 434.1,1525.4 433.6,1525.2 433.2,1524.9 432.8,1524.6 432.4,1524.2 431.9,1523.8 431.5,1523.3 431.2,1522.8 430.8,1522.2 430.5,1521.7 430.3,1521.1 430,1520.5 429.9,1519.9 429.8,1519.3 429.7,1518.8 429.7,1518.3 429.8,1517.9 429.9,1517.5 430,1517.1 430.3,1516.9 430.5,1516.7" fill="#fff" stroke="#1e1e1e" stroke-width="1.6" stroke-linejoin="round"/>
<ellipse cx="433" cy="1521" rx="2.5" ry="5" transform="rotate(150.3 433 1521)" fill="none" stroke="#1e1e1e" stroke-width="1.6"/>
<ellipse cx="442.5" cy="1515.5" rx="3" ry="6" transform="rotate(-30 442.5 1515.5)" fill="none" stroke="#1e1e1e" stroke-width="2.6"/>
<polygon points="427.4,1514.3 428,1514 428.6,1513.9 429.3,1513.9 430.1,1514 430.9,1514.3 431.7,1514.7 432.5,1515.3 433.4,1515.9 434.1,1516.7 434.9,1517.5 435.6,1518.5 436.2,1519.5 436.8,1520.5 437.3,1521.5 437.7,1522.6 438,1523.7 438.2,1524.7 438.3,1525.7 438.3,1526.6 438.1,1527.4 437.9,1528.2 437.6,1528.8 437.1,1529.3 436.6,1529.7 431.6,1532.7 431,1533 430.4,1533.1 429.7,1533.1 428.9,1533 428.1,1532.7 427.3,1532.3 426.5,1531.7 425.6,1531.1 424.9,1530.3 424.1,1529.5 423.4,1528.5 422.8,1527.5 422.2,1526.5 421.7,1525.5 421.3,1524.4 421,1523.3 420.8,1522.3 420.7,1521.3 420.7,1520.4 420.9,1519.6 421.1,1518.8 421.4,1518.2 421.9,1517.7 422.4,1517.3" fill="#fff" stroke="#1e1e1e" stroke-width="1.8" stroke-linejoin="round"/>
<ellipse cx="427" cy="1525" rx="5" ry="9" transform="rotate(149 427 1525)" fill="none" stroke="#1e1e1e" stroke-width="1.8"/>
<polygon points="431.3,1522.5 433,1530.5 428.8,1533 422.7,1527.5 421,1519.5 425.2,1517" fill="#fff" stroke="#1e1e1e" stroke-width="1.4" stroke-linejoin="round"/>
<ellipse cx="487" cy="1575" rx="5.4" ry="9" transform="rotate(-30 487 1575)" fill="#fff" stroke="#1e1e1e" stroke-width="1.8"/>
<ellipse cx="487" cy="1575" rx="2.4" ry="4" transform="rotate(-30 487 1575)" fill="none" stroke="#1e1e1e" stroke-width="1.8"/>
<polygon points="480.8,1572.5 481.1,1572.4 481.4,1572.4 481.8,1572.4 482.2,1572.6 482.6,1572.8 483,1573 483.4,1573.4 483.8,1573.8 484.2,1574.3 484.6,1574.8 484.9,1575.3 485.2,1575.9 485.5,1576.5 485.7,1577.1 485.9,1577.7 486.1,1578.3 486.1,1578.8 486.2,1579.4 486.1,1579.9 486.1,1580.3 485.9,1580.7 485.7,1581 485.5,1581.3 485.2,1581.5 463.2,1592.5 462.9,1592.6 462.6,1592.6 462.2,1592.6 461.8,1592.4 461.4,1592.2 461,1592 460.6,1591.6 460.2,1591.2 459.8,1590.7 459.4,1590.2 459.1,1589.7 458.8,1589.1 458.5,1588.5 458.3,1587.9 458.1,1587.3 457.9,1586.7 457.9,1586.2 457.8,1585.6 457.9,1585.1 457.9,1584.7 458.1,1584.3 458.3,1584 458.5,1583.7 458.8,1583.5" fill="#fff" stroke="#1e1e1e" stroke-width="1.6" stroke-linejoin="round"/>
<ellipse cx="461" cy="1588" rx="2.5" ry="5" transform="rotate(153.4 461 1588)" fill="none" stroke="#1e1e1e" stroke-width="1.6"/>
<ellipse cx="471" cy="1583" rx="3" ry="6" transform="rotate(-30 471 1583)" fill="none" stroke="#1e1e1e" stroke-width="2.6"/>
<polygon points="455.4,1581.3 456,1581 456.6,1580.9 457.3,1580.9 458.1,1581 458.9,1581.3 459.7,1581.7 460.5,1582.3 461.4,1582.9 462.1,1583.7 462.9,1584.5 463.6,1585.5 464.2,1586.5 464.8,1587.5 465.3,1588.5 465.7,1589.6 466,1590.7 466.2,1591.7 466.3,1592.7 466.3,1593.6 466.1,1594.4 465.9,1595.2 465.6,1595.8 465.1,1596.3 464.6,1596.7 459.6,1599.7 459,1600 458.4,1600.1 457.7,1600.1 456.9,1600 456.1,1599.7 455.3,1599.3 454.5,1598.7 453.6,1598.1 452.9,1597.3 452.1,1596.5 451.4,1595.5 450.8,1594.5 450.2,1593.5 449.7,1592.5 449.3,1591.4 449,1590.3 448.8,1589.3 448.7,1588.3 448.7,1587.4 448.9,1586.6 449.1,1585.8 449.4,1585.2 449.9,1584.7 450.4,1584.3" fill="#fff" stroke="#1e1e1e" stroke-width="1.8" stroke-linejoin="round"/>
<ellipse cx="455" cy="1592" rx="5" ry="9" transform="rotate(149 455 1592)" fill="none" stroke="#1e1e1e" stroke-width="1.8"/>
<polygon points="459.3,1589.5 461,1597.5 456.8,1600 450.7,1594.5 449,1586.5 453.2,1584" fill="#fff" stroke="#1e1e1e" stroke-width="1.4" stroke-linejoin="round"/>
<ellipse cx="542" cy="1606" rx="5.4" ry="9" transform="rotate(-30 542 1606)" fill="#fff" stroke="#1e1e1e" stroke-width="1.8"/>
<ellipse cx="542" cy="1606" rx="2.4" ry="4" transform="rotate(-30 542 1606)" fill="none" stroke="#1e1e1e" stroke-width="1.8"/>
<polygon points="535.4,1603.7 535.7,1603.6 536.1,1603.5 536.4,1603.5 536.8,1603.6 537.3,1603.8 537.7,1604.1 538.1,1604.4 538.6,1604.7 539,1605.2 539.4,1605.6 539.8,1606.2 540.1,1606.7 540.5,1607.3 540.7,1607.9 541,1608.5 541.1,1609 541.3,1609.6 541.3,1610.1 541.3,1610.6 541.3,1611.1 541.2,1611.5 541,1611.8 540.8,1612.1 540.6,1612.3 520.6,1624.3 520.3,1624.4 519.9,1624.5 519.6,1624.5 519.2,1624.4 518.7,1624.2 518.3,1623.9 517.9,1623.6 517.4,1623.3 517,1622.8 516.6,1622.4 516.2,1621.8 515.9,1621.3 515.5,1620.7 515.3,1620.1 515,1619.5 514.9,1619 514.7,1618.4 514.7,1617.9 514.7,1617.4 514.7,1616.9 514.8,1616.5 515,1616.2 515.2,1615.9 515.4,1615.7" fill="#fff" stroke="#1e1e1e" stroke-width="1.6" stroke-linejoin="round"/>
<ellipse cx="518" cy="1620" rx="2.5" ry="5" transform="rotate(149 518 1620)" fill="none" stroke="#1e1e1e" stroke-width="1.6"/>
<ellipse cx="527" cy="1614.5" rx="3" ry="6" transform="rotate(-30 527 1614.5)" fill="none" stroke="#1e1e1e" stroke-width="2.6"/>
<polygon points="512.4,1613.3 513,1613 513.6,1612.9 514.3,1612.9 515.1,1613 515.9,1613.3 516.7,1613.7 517.5,1614.3 518.4,1614.9 519.1,1615.7 519.9,1616.5 520.6,1617.5 521.2,1618.5 521.8,1619.5 522.3,1620.5 522.7,1621.6 523,1622.7 523.2,1623.7 523.3,1624.7 523.3,1625.6 523.1,1626.4 522.9,1627.2 522.6,1627.8 522.1,1628.3 521.6,1628.7 516.6,1631.7 516,1632 515.4,1632.1 514.7,1632.1 513.9,1632 513.1,1631.7 512.3,1631.3 511.5,1630.7 510.6,1630.1 509.9,1629.3 509.1,1628.5 508.4,1627.5 507.8,1626.5 507.2,1625.5 506.7,1624.5 506.3,1623.4 506,1622.3 505.8,1621.3 505.7,1620.3 505.7,1619.4 505.9,1618.6 506.1,1617.8 506.4,1617.2 506.9,1616.7 507.4,1616.3" fill="#fff" stroke="#1e1e1e" stroke-width="1.8" stroke-linejoin="round"/>
<ellipse cx="512" cy="1624" rx="5" ry="9" transform="rotate(149 512 1624)" fill="none" stroke="#1e1e1e" stroke-width="1.8"/>
<polygon points="516.3,1621.5 518,1629.5 513.8,1632 507.7,1626.5 506,1618.5 510.2,1616" fill="#fff" stroke="#1e1e1e" stroke-width="1.4" stroke-linejoin="round"/>
<ellipse cx="570" cy="1568" rx="5.4" ry="9" transform="rotate(-30 570 1568)" fill="#fff" stroke="#1e1e1e" stroke-width="1.8"/>
<ellipse cx="570" cy="1568" rx="2.4" ry="4" transform="rotate(-30 570 1568)" fill="none" stroke="#1e1e1e" stroke-width="1.8"/>
<polygon points="563.3,1565.8 563.6,1565.7 563.9,1565.6 564.3,1565.6 564.7,1565.7 565.1,1565.8 565.6,1566.1 566,1566.4 566.5,1566.7 566.9,1567.1 567.3,1567.6 567.7,1568.1 568.1,1568.6 568.4,1569.2 568.7,1569.8 569,1570.3 569.2,1570.9 569.3,1571.5 569.4,1572 569.4,1572.5 569.4,1572.9 569.3,1573.4 569.2,1573.7 569,1574 568.7,1574.2 548.7,1587.2 548.4,1587.3 548.1,1587.4 547.7,1587.4 547.3,1587.3 546.9,1587.2 546.4,1586.9 546,1586.6 545.5,1586.3 545.1,1585.9 544.7,1585.4 544.3,1584.9 543.9,1584.4 543.6,1583.8 543.3,1583.2 543,1582.7 542.8,1582.1 542.7,1581.5 542.6,1581 542.6,1580.5 542.6,1580.1 542.7,1579.6 542.8,1579.3 543,1579 543.3,1578.8" fill="#fff" stroke="#1e1e1e" stroke-width="1.6" stroke-linejoin="round"/>
<ellipse cx="546" cy="1583" rx="2.5" ry="5" transform="rotate(147 546 1583)" fill="none" stroke="#1e1e1e" stroke-width="1.6"/>
<ellipse cx="555" cy="1577" rx="3" ry="6" transform="rotate(-30 555 1577)" fill="none" stroke="#1e1e1e" stroke-width="2.6"/>
<polygon points="540.4,1576.3 541,1576 541.6,1575.9 542.3,1575.9 543.1,1576 543.9,1576.3 544.7,1576.7 545.5,1577.3 546.4,1577.9 547.1,1578.7 547.9,1579.5 548.6,1580.5 549.2,1581.5 549.8,1582.5 550.3,1583.5 550.7,1584.6 551,1585.7 551.2,1586.7 551.3,1587.7 551.3,1588.6 551.1,1589.4 550.9,1590.2 550.6,1590.8 550.1,1591.3 549.6,1591.7 544.6,1594.7 544,1595 543.4,1595.1 542.7,1595.1 541.9,1595 541.1,1594.7 540.3,1594.3 539.5,1593.7 538.6,1593.1 537.9,1592.3 537.1,1591.5 536.4,1590.5 535.8,1589.5 535.2,1588.5 534.7,1587.5 534.3,1586.4 534,1585.3 533.8,1584.3 533.7,1583.3 533.7,1582.4 533.9,1581.6 534.1,1580.8 534.4,1580.2 534.9,1579.7 535.4,1579.3" fill="#fff" stroke="#1e1e1e" stroke-width="1.8" stroke-linejoin="round"/>
<ellipse cx="540" cy="1587" rx="5" ry="9" transform="rotate(149 540 1587)" fill="none" stroke="#1e1e1e" stroke-width="1.8"/>
<polygon points="544.3,1584.5 546,1592.5 541.8,1595 535.7,1589.5 534,1581.5 538.2,1579" fill="#fff" stroke="#1e1e1e" stroke-width="1.4" stroke-linejoin="round"/>
<ellipse cx="542" cy="1500" rx="5.4" ry="9" transform="rotate(-30 542 1500)" fill="#fff" stroke="#1e1e1e" stroke-width="1.8"/>
<ellipse cx="542" cy="1500" rx="2.4" ry="4" transform="rotate(-30 542 1500)" fill="none" stroke="#1e1e1e" stroke-width="1.8"/>
<polygon points="535.6,1497.6 535.9,1497.5 536.2,1497.5 536.6,1497.5 537,1497.6 537.4,1497.8 537.8,1498.1 538.3,1498.4 538.7,1498.8 539.1,1499.2 539.5,1499.7 539.9,1500.2 540.2,1500.8 540.5,1501.4 540.7,1502 540.9,1502.6 541.1,1503.1 541.2,1503.7 541.3,1504.2 541.2,1504.7 541.2,1505.2 541.1,1505.6 540.9,1505.9 540.7,1506.2 540.4,1506.4 520.4,1517.4 520.1,1517.5 519.8,1517.5 519.4,1517.5 519,1517.4 518.6,1517.2 518.2,1516.9 517.7,1516.6 517.3,1516.2 516.9,1515.8 516.5,1515.3 516.1,1514.8 515.8,1514.2 515.5,1513.6 515.3,1513 515.1,1512.4 514.9,1511.9 514.8,1511.3 514.7,1510.8 514.8,1510.3 514.8,1509.8 514.9,1509.4 515.1,1509.1 515.3,1508.8 515.6,1508.6" fill="#fff" stroke="#1e1e1e" stroke-width="1.6" stroke-linejoin="round"/>
<ellipse cx="518" cy="1513" rx="2.5" ry="5" transform="rotate(151.2 518 1513)" fill="none" stroke="#1e1e1e" stroke-width="1.6"/>
<ellipse cx="527" cy="1508" rx="3" ry="6" transform="rotate(-30 527 1508)" fill="none" stroke="#1e1e1e" stroke-width="2.6"/>
<polygon points="512.4,1506.3 513,1506 513.6,1505.9 514.3,1505.9 515.1,1506 515.9,1506.3 516.7,1506.7 517.5,1507.3 518.4,1507.9 519.1,1508.7 519.9,1509.5 520.6,1510.5 521.2,1511.5 521.8,1512.5 522.3,1513.5 522.7,1514.6 523,1515.7 523.2,1516.7 523.3,1517.7 523.3,1518.6 523.1,1519.4 522.9,1520.2 522.6,1520.8 522.1,1521.3 521.6,1521.7 516.6,1524.7 516,1525 515.4,1525.1 514.7,1525.1 513.9,1525 513.1,1524.7 512.3,1524.3 511.5,1523.7 510.6,1523.1 509.9,1522.3 509.1,1521.5 508.4,1520.5 507.8,1519.5 507.2,1518.5 506.7,1517.5 506.3,1516.4 506,1515.3 505.8,1514.3 505.7,1513.3 505.7,1512.4 505.9,1511.6 506.1,1510.8 506.4,1510.2 506.9,1509.7 507.4,1509.3" fill="#fff" stroke="#1e1e1e" stroke-width="1.8" stroke-linejoin="round"/>
<ellipse cx="512" cy="1517" rx="5" ry="9" transform="rotate(149 512 1517)" fill="none" stroke="#1e1e1e" stroke-width="1.8"/>
<polygon points="516.3,1514.5 518,1522.5 513.8,1525 507.7,1519.5 506,1511.5 510.2,1509" fill="#fff" stroke="#1e1e1e" stroke-width="1.4" stroke-linejoin="round"/>
<ellipse cx="1064" cy="1355" rx="9" ry="5" fill="none" stroke="#1e1e1e" stroke-width="2.4"/>
<polygon points="1063,1402.8 1051.7,1399.9 1051.7,1394.1 1063,1391.2 1074.3,1394.1 1074.3,1399.9" fill="#fff" stroke="#1e1e1e" stroke-width="1.6" stroke-linejoin="round"/>
<ellipse cx="1063" cy="1390" rx="12" ry="6" fill="none" stroke="#1e1e1e" stroke-width="1.6"/>
<rect x="1058" y="1380" width="10" height="10" fill="#fff" stroke="#1e1e1e" stroke-width="1.4"/>
<ellipse cx="1063" cy="1380" rx="5" ry="2.5" fill="none" stroke="#1e1e1e" stroke-width="1.4"/>
<g opacity="0.995">
<text x="757.4" y="337" transform="scale(0.68 1)" class="t">58</text>
<line x1="505" y1="341" x2="525" y2="341" stroke="#404040" stroke-width="2.4"/>
<line x1="525" y1="341" x2="565" y2="405" stroke="#3a3a3a" stroke-width="1.4"/>
<text x="844.1" y="338" transform="scale(0.68 1)" class="t">31</text>
<line x1="565" y1="342" x2="583" y2="342" stroke="#404040" stroke-width="2.4"/>
<line x1="583" y1="342" x2="614" y2="430" stroke="#3a3a3a" stroke-width="1.4"/>
<text x="919.1" y="338" transform="scale(0.68 1)" class="t">89</text>
<line x1="616" y1="342" x2="634" y2="342" stroke="#404040" stroke-width="2.4"/>
<line x1="634" y1="342" x2="665" y2="423" stroke="#3a3a3a" stroke-width="1.4"/>
<text x="583.1" y="360" transform="scale(0.68 1)" class="t">88</text>
<line x1="387" y1="364" x2="406" y2="364" stroke="#404040" stroke-width="2.4"/>
<line x1="406" y1="364" x2="522" y2="395" stroke="#3a3a3a" stroke-width="1.4"/>
<text x="583.1" y="455" transform="scale(0.68 1)" class="t">50</text>
<line x1="387" y1="459" x2="406" y2="459" stroke="#404040" stroke-width="2.4"/>
<line x1="406" y1="459" x2="482" y2="535" stroke="#3a3a3a" stroke-width="1.4"/>
<text x="583.1" y="512" transform="scale(0.68 1)" class="t">91</text>
<line x1="387" y1="516" x2="406" y2="516" stroke="#404040" stroke-width="2.4"/>
<line x1="406" y1="516" x2="456" y2="536" stroke="#3a3a3a" stroke-width="1.4"/>
<text x="583.1" y="586" transform="scale(0.68 1)" class="t">19</text>
<line x1="387" y1="590" x2="406" y2="590" stroke="#404040" stroke-width="2.4"/>
<line x1="406" y1="590" x2="507" y2="572" stroke="#3a3a3a" stroke-width="1.4"/>
<text x="583.1" y="631" transform="scale(0.68 1)" class="t">28</text>
<line x1="387" y1="635" x2="406" y2="635" stroke="#404040" stroke-width="2.4"/>
<line x1="406" y1="635" x2="550" y2="595" stroke="#3a3a3a" stroke-width="1.4"/>
<text x="338.2" y="660" transform="scale(0.68 1)" class="t">48</text>
<line x1="221" y1="664" x2="239" y2="664" stroke="#404040" stroke-width="2.4"/>
<line x1="239" y1="664" x2="314" y2="646" stroke="#3a3a3a" stroke-width="1.4"/>
<text x="357.4" y="698" transform="scale(0.68 1)" class="t">65</text>
<line x1="234" y1="702" x2="252" y2="702" stroke="#404040" stroke-width="2.4"/>
<line x1="252" y1="702" x2="340" y2="666" stroke="#3a3a3a" stroke-width="1.4"/>
<text x="390.4" y="740" transform="scale(0.68 1)" class="t">64</text>
<line x1="257" y1="744" x2="274" y2="744" stroke="#404040" stroke-width="2.4"/>
<line x1="274" y1="744" x2="377" y2="686" stroke="#3a3a3a" stroke-width="1.4"/>
<text x="732.4" y="675" transform="scale(0.68 1)" class="t">34</text>
<line x1="489" y1="679" x2="507" y2="679" stroke="#404040" stroke-width="2.4"/>
<line x1="489" y1="679" x2="457" y2="702" stroke="#3a3a3a" stroke-width="1.4"/>
<text x="792.6" y="706" transform="scale(0.68 1)" class="t">10</text>
<line x1="531" y1="710" x2="547" y2="710" stroke="#404040" stroke-width="2.4"/>
<line x1="531" y1="710" x2="512" y2="725" stroke="#3a3a3a" stroke-width="1.4"/>
<text x="872.1" y="688" transform="scale(0.68 1)" class="t">14</text>
<line x1="584" y1="692" x2="602" y2="692" stroke="#404040" stroke-width="2.4"/>
<line x1="602" y1="692" x2="620" y2="675" stroke="#3a3a3a" stroke-width="1.4"/>
<text x="872.1" y="751" transform="scale(0.68 1)" class="t">11</text>
<line x1="584" y1="755" x2="602" y2="755" stroke="#404040" stroke-width="2.4"/>
<line x1="584" y1="755" x2="555" y2="784" stroke="#3a3a3a" stroke-width="1.4"/>
<text x="732.4" y="461" transform="scale(0.68 1)" class="t">23</text>
<line x1="489" y1="465" x2="507" y2="465" stroke="#404040" stroke-width="2.4"/>
<line x1="507" y1="465" x2="570" y2="437" stroke="#3a3a3a" stroke-width="1.4"/>
<text x="1133.8" y="337" transform="scale(0.68 1)" class="t">18</text>
<line x1="760" y1="341" x2="782" y2="341" stroke="#404040" stroke-width="2.4"/>
<line x1="760" y1="341" x2="735" y2="475" stroke="#3a3a3a" stroke-width="1.4"/>
<text x="1212.5" y="337" transform="scale(0.68 1)" class="t">45</text>
<line x1="814" y1="341" x2="835" y2="341" stroke="#404040" stroke-width="2.4"/>
<line x1="814" y1="341" x2="783" y2="520" stroke="#3a3a3a" stroke-width="1.4"/>
<text x="1265.4" y="337" transform="scale(0.68 1)" class="t">20</text>
<line x1="849" y1="341" x2="872" y2="341" stroke="#404040" stroke-width="2.4"/>
<line x1="849" y1="341" x2="814" y2="540" stroke="#3a3a3a" stroke-width="1.4"/>
<text x="1380.1" y="337" transform="scale(0.68 1)" class="t">29</text>
<line x1="928" y1="341" x2="949" y2="341" stroke="#404040" stroke-width="2.4"/>
<line x1="928" y1="341" x2="902" y2="472" stroke="#3a3a3a" stroke-width="1.4"/>
<text x="1473.5" y="337" transform="scale(0.68 1)" class="t">30</text>
<line x1="992" y1="341" x2="1012" y2="341" stroke="#404040" stroke-width="2.4"/>
<line x1="992" y1="341" x2="932" y2="475" stroke="#3a3a3a" stroke-width="1.4"/>
<text x="1579.4" y="337" transform="scale(0.68 1)" class="t">3</text>
<line x1="1064" y1="341" x2="1084" y2="341" stroke="#404040" stroke-width="2.4"/>
<line x1="1064" y1="341" x2="969" y2="497" stroke="#3a3a3a" stroke-width="1.4"/>
<text x="1656.6" y="337" transform="scale(0.68 1)" class="t">1</text>
<line x1="1116" y1="341" x2="1137" y2="341" stroke="#404040" stroke-width="2.4"/>
<line x1="1116" y1="341" x2="1045" y2="565" stroke="#3a3a3a" stroke-width="1.4"/>
<text x="945.6" y="706" transform="scale(0.68 1)" class="t">35</text>
<line x1="633" y1="710" x2="653" y2="710" stroke="#404040" stroke-width="2.4"/>
<line x1="653" y1="710" x2="687" y2="672" stroke="#3a3a3a" stroke-width="1.4"/>
<text x="1005.9" y="726" transform="scale(0.68 1)" class="t">24</text>
<line x1="674" y1="730" x2="694" y2="730" stroke="#404040" stroke-width="2.4"/>
<line x1="694" y1="730" x2="730" y2="689" stroke="#3a3a3a" stroke-width="1.4"/>
<text x="1086.8" y="751" transform="scale(0.68 1)" class="t">13</text>
<line x1="729" y1="755" x2="749" y2="755" stroke="#404040" stroke-width="2.4"/>
<line x1="749" y1="755" x2="780" y2="721" stroke="#3a3a3a" stroke-width="1.4"/>
<text x="1169.1" y="777" transform="scale(0.68 1)" class="t">46</text>
<line x1="785" y1="781" x2="805" y2="781" stroke="#404040" stroke-width="2.4"/>
<line x1="805" y1="781" x2="838" y2="747" stroke="#3a3a3a" stroke-width="1.4"/>
<text x="1012.5" y="784" transform="scale(0.68 1)" class="t">12</text>
<line x1="677" y1="788" x2="700" y2="788" stroke="#404040" stroke-width="2.4"/>
<line x1="677" y1="788" x2="653" y2="812" stroke="#3a3a3a" stroke-width="1.4"/>
<text x="1072.1" y="808" transform="scale(0.68 1)" class="t">63</text>
<line x1="719" y1="812" x2="739" y2="812" stroke="#404040" stroke-width="2.4"/>
<line x1="719" y1="812" x2="700" y2="836" stroke="#3a3a3a" stroke-width="1.4"/>
<text x="1319.9" y="777" transform="scale(0.68 1)" class="t">62</text>
<line x1="887" y1="781" x2="908" y2="781" stroke="#404040" stroke-width="2.4"/>
<line x1="887" y1="781" x2="862" y2="816" stroke="#3a3a3a" stroke-width="1.4"/>
<text x="1366.9" y="808" transform="scale(0.68 1)" class="t">42</text>
<line x1="920" y1="812" x2="939" y2="812" stroke="#404040" stroke-width="2.4"/>
<line x1="939" y1="812" x2="959" y2="860" stroke="#3a3a3a" stroke-width="1.4"/>
<text x="1286.8" y="865" transform="scale(0.68 1)" class="t">72</text>
<line x1="867" y1="869" x2="883" y2="869" stroke="#404040" stroke-width="2.4"/>
<line x1="867" y1="869" x2="819" y2="844" stroke="#3a3a3a" stroke-width="1.4"/>
<text x="1317.6" y="882" transform="scale(0.68 1)" class="t">52</text>
<line x1="887" y1="886" x2="905" y2="886" stroke="#404040" stroke-width="2.4"/>
<line x1="905" y1="886" x2="934" y2="865" stroke="#3a3a3a" stroke-width="1.4"/>
<text x="1169.1" y="909" transform="scale(0.68 1)" class="t">41</text>
<line x1="785" y1="913" x2="805" y2="913" stroke="#404040" stroke-width="2.4"/>
<line x1="805" y1="913" x2="835" y2="944" stroke="#3a3a3a" stroke-width="1.4"/>
<text x="1497.8" y="909" transform="scale(0.68 1)" class="t">77</text>
<line x1="1009" y1="913" x2="1028" y2="913" stroke="#404040" stroke-width="2.4"/>
<line x1="1009" y1="913" x2="972" y2="936" stroke="#3a3a3a" stroke-width="1.4"/>
<text x="945.6" y="951" transform="scale(0.68 1)" class="t">49</text>
<line x1="633" y1="955" x2="653" y2="955" stroke="#404040" stroke-width="2.4"/>
<line x1="653" y1="955" x2="743" y2="950" stroke="#3a3a3a" stroke-width="1.4"/>
<text x="945.6" y="1001" transform="scale(0.68 1)" class="t">76</text>
<line x1="633" y1="1005" x2="653" y2="1005" stroke="#404040" stroke-width="2.4"/>
<line x1="653" y1="1005" x2="743" y2="972" stroke="#3a3a3a" stroke-width="1.4"/>
<text x="945.6" y="1035" transform="scale(0.68 1)" class="t">57</text>
<line x1="633" y1="1039" x2="653" y2="1039" stroke="#404040" stroke-width="2.4"/>
<line x1="653" y1="1039" x2="738" y2="1000" stroke="#3a3a3a" stroke-width="1.4"/>
<text x="1333.8" y="973" transform="scale(0.68 1)" class="t">53</text>
<line x1="897" y1="977" x2="917" y2="977" stroke="#404040" stroke-width="2.4"/>
<line x1="917" y1="977" x2="974" y2="987" stroke="#3a3a3a" stroke-width="1.4"/>
<text x="1322.1" y="1040" transform="scale(0.68 1)" class="t">6</text>
<line x1="889" y1="1044" x2="909" y2="1044" stroke="#404040" stroke-width="2.4"/>
<line x1="909" y1="1044" x2="963" y2="1059" stroke="#3a3a3a" stroke-width="1.4"/>
<text x="945.6" y="1082" transform="scale(0.68 1)" class="t">9</text>
<line x1="633" y1="1086" x2="653" y2="1086" stroke="#404040" stroke-width="2.4"/>
<line x1="653" y1="1086" x2="687" y2="1067" stroke="#3a3a3a" stroke-width="1.4"/>
<text x="946.3" y="1143" transform="scale(0.68 1)" class="t">37</text>
<line x1="633" y1="1147" x2="654" y2="1147" stroke="#404040" stroke-width="2.4"/>
<line x1="654" y1="1147" x2="718" y2="1126" stroke="#3a3a3a" stroke-width="1.4"/>
<text x="1329.4" y="1112" transform="scale(0.68 1)" class="t">74</text>
<line x1="894" y1="1116" x2="914" y2="1116" stroke="#404040" stroke-width="2.4"/>
<line x1="914" y1="1116" x2="964" y2="1130" stroke="#3a3a3a" stroke-width="1.4"/>
<text x="1744.9" y="337" transform="scale(0.68 1)" class="t">61</text>
<line x1="1176" y1="341" x2="1197" y2="341" stroke="#404040" stroke-width="2.4"/>
<line x1="1176" y1="341" x2="1140" y2="420" stroke="#3a3a3a" stroke-width="1.4"/>
<text x="1875.7" y="337" transform="scale(0.68 1)" class="t">100</text>
<line x1="1265" y1="341" x2="1286" y2="341" stroke="#404040" stroke-width="2.4"/>
<line x1="1265" y1="341" x2="1240" y2="405" stroke="#3a3a3a" stroke-width="1.4"/>
<text x="2052.9" y="337" transform="scale(0.68 1)" class="t">4</text>
<line x1="1386" y1="341" x2="1406" y2="341" stroke="#404040" stroke-width="2.4"/>
<line x1="1386" y1="341" x2="1320" y2="482" stroke="#3a3a3a" stroke-width="1.4"/>
<text x="2171.3" y="337" transform="scale(0.68 1)" class="t">33</text>
<line x1="1466" y1="341" x2="1487" y2="341" stroke="#404040" stroke-width="2.4"/>
<line x1="1466" y1="341" x2="1398" y2="442" stroke="#3a3a3a" stroke-width="1.4"/>
<text x="2324.3" y="337" transform="scale(0.68 1)" class="t">2</text>
<line x1="1571" y1="341" x2="1590" y2="341" stroke="#404040" stroke-width="2.4"/>
<line x1="1571" y1="341" x2="1455" y2="510" stroke="#3a3a3a" stroke-width="1.4"/>
<text x="2383.8" y="342" transform="scale(0.68 1)" class="t">5</text>
<line x1="1611" y1="346" x2="1631" y2="346" stroke="#404040" stroke-width="2.4"/>
<line x1="1611" y1="346" x2="1490" y2="532" stroke="#3a3a3a" stroke-width="1.4"/>
<text x="2477.9" y="342" transform="scale(0.68 1)" class="t">22</text>
<line x1="1675" y1="346" x2="1695" y2="346" stroke="#404040" stroke-width="2.4"/>
<line x1="1675" y1="346" x2="1470" y2="580" stroke="#3a3a3a" stroke-width="1.4"/>
<text x="2460.3" y="491" transform="scale(0.68 1)" class="t">32</text>
<line x1="1664" y1="495" x2="1682" y2="495" stroke="#404040" stroke-width="2.4"/>
<line x1="1664" y1="495" x2="1544" y2="602" stroke="#3a3a3a" stroke-width="1.4"/>
<text x="2589.7" y="585" transform="scale(0.68 1)" class="t">71</text>
<line x1="1751" y1="589" x2="1771" y2="589" stroke="#404040" stroke-width="2.4"/>
<line x1="1751" y1="589" x2="1679" y2="652" stroke="#3a3a3a" stroke-width="1.4"/>
<text x="2647.1" y="727" transform="scale(0.68 1)" class="t">70</text>
<line x1="1790" y1="731" x2="1810" y2="731" stroke="#404040" stroke-width="2.4"/>
<line x1="1790" y1="731" x2="1760" y2="702" stroke="#3a3a3a" stroke-width="1.4"/>
<text x="2592.6" y="763" transform="scale(0.68 1)" class="t">43</text>
<line x1="1751" y1="767" x2="1775" y2="767" stroke="#404040" stroke-width="2.4"/>
<line x1="1751" y1="767" x2="1700" y2="727" stroke="#3a3a3a" stroke-width="1.4"/>
<text x="1855.9" y="712" transform="scale(0.68 1)" class="t">21</text>
<line x1="1252" y1="716" x2="1272" y2="716" stroke="#404040" stroke-width="2.4"/>
<line x1="1252" y1="716" x2="1238" y2="762" stroke="#3a3a3a" stroke-width="1.4"/>
<text x="1901.5" y="727" transform="scale(0.68 1)" class="t">82</text>
<line x1="1283" y1="731" x2="1303" y2="731" stroke="#404040" stroke-width="2.4"/>
<line x1="1283" y1="731" x2="1271" y2="779" stroke="#3a3a3a" stroke-width="1.4"/>
<text x="1939.7" y="756" transform="scale(0.68 1)" class="t">47</text>
<line x1="1308" y1="760" x2="1330" y2="760" stroke="#404040" stroke-width="2.4"/>
<line x1="1308" y1="760" x2="1291" y2="802" stroke="#3a3a3a" stroke-width="1.4"/>
<text x="1987.5" y="770" transform="scale(0.68 1)" class="t">54</text>
<line x1="1341" y1="774" x2="1362" y2="774" stroke="#404040" stroke-width="2.4"/>
<line x1="1341" y1="774" x2="1330" y2="805" stroke="#3a3a3a" stroke-width="1.4"/>
<text x="2040.4" y="770" transform="scale(0.68 1)" class="t">86</text>
<line x1="1377" y1="774" x2="1398" y2="774" stroke="#404040" stroke-width="2.4"/>
<line x1="1377" y1="774" x2="1360" y2="831" stroke="#3a3a3a" stroke-width="1.4"/>
<text x="2097.8" y="770" transform="scale(0.68 1)" class="t">85</text>
<line x1="1416" y1="774" x2="1437" y2="774" stroke="#404040" stroke-width="2.4"/>
<line x1="1416" y1="774" x2="1396" y2="850" stroke="#3a3a3a" stroke-width="1.4"/>
<text x="2119.1" y="808" transform="scale(0.68 1)" class="t">84</text>
<line x1="1431" y1="812" x2="1451" y2="812" stroke="#404040" stroke-width="2.4"/>
<line x1="1431" y1="812" x2="1412" y2="860" stroke="#3a3a3a" stroke-width="1.4"/>
<text x="2172.1" y="826" transform="scale(0.68 1)" class="t">36</text>
<line x1="1467" y1="830" x2="1487" y2="830" stroke="#404040" stroke-width="2.4"/>
<line x1="1467" y1="830" x2="1422" y2="872" stroke="#3a3a3a" stroke-width="1.4"/>
<text x="2216.2" y="845" transform="scale(0.68 1)" class="t">87</text>
<line x1="1497" y1="849" x2="1517" y2="849" stroke="#404040" stroke-width="2.4"/>
<line x1="1497" y1="849" x2="1448" y2="882" stroke="#3a3a3a" stroke-width="1.4"/>
<text x="2269.9" y="865" transform="scale(0.68 1)" class="t">106</text>
<line x1="1531" y1="869" x2="1556" y2="869" stroke="#404040" stroke-width="2.4"/>
<line x1="1531" y1="869" x2="1465" y2="899" stroke="#3a3a3a" stroke-width="1.4"/>
<text x="1661.8" y="909" transform="scale(0.68 1)" class="t">55</text>
<line x1="1120" y1="913" x2="1140" y2="913" stroke="#404040" stroke-width="2.4"/>
<line x1="1140" y1="913" x2="1228" y2="851" stroke="#3a3a3a" stroke-width="1.4"/>
<text x="1767.6" y="923" transform="scale(0.68 1)" class="t">95</text>
<line x1="1192" y1="927" x2="1212" y2="927" stroke="#404040" stroke-width="2.4"/>
<line x1="1212" y1="927" x2="1246" y2="855" stroke="#3a3a3a" stroke-width="1.4"/>
<text x="1816.2" y="957" transform="scale(0.68 1)" class="t">73</text>
<line x1="1225" y1="961" x2="1245" y2="961" stroke="#404040" stroke-width="2.4"/>
<line x1="1245" y1="961" x2="1272" y2="920" stroke="#3a3a3a" stroke-width="1.4"/>
<text x="1958.8" y="957" transform="scale(0.68 1)" class="t">94</text>
<line x1="1322" y1="961" x2="1342" y2="961" stroke="#404040" stroke-width="2.4"/>
<line x1="1322" y1="961" x2="1298" y2="887" stroke="#3a3a3a" stroke-width="1.4"/>
<text x="1960.3" y="909" transform="scale(0.68 1)" class="t">78</text>
<line x1="1323" y1="913" x2="1343" y2="913" stroke="#404040" stroke-width="2.4"/>
<line x1="1343" y1="913" x2="1370" y2="879" stroke="#3a3a3a" stroke-width="1.4"/>
<text x="2077.9" y="986" transform="scale(0.68 1)" class="t">96</text>
<line x1="1403" y1="990" x2="1423" y2="990" stroke="#404040" stroke-width="2.4"/>
<line x1="1403" y1="990" x2="1388" y2="930" stroke="#3a3a3a" stroke-width="1.4"/>
<text x="2176.5" y="1000" transform="scale(0.68 1)" class="t">98</text>
<line x1="1470" y1="1004" x2="1490" y2="1004" stroke="#404040" stroke-width="2.4"/>
<line x1="1470" y1="1004" x2="1462" y2="966" stroke="#3a3a3a" stroke-width="1.4"/>
<text x="2210.3" y="1030" transform="scale(0.68 1)" class="t">104</text>
<line x1="1493" y1="1034" x2="1513" y2="1034" stroke="#404040" stroke-width="2.4"/>
<line x1="1513" y1="1034" x2="1527" y2="977" stroke="#3a3a3a" stroke-width="1.4"/>
<text x="1947.8" y="1180" transform="scale(0.68 1)" class="t">51</text>
<line x1="1314" y1="1184" x2="1335" y2="1184" stroke="#404040" stroke-width="2.4"/>
<line x1="1314" y1="1184" x2="1280" y2="1152" stroke="#3a3a3a" stroke-width="1.4"/>
<text x="2552.9" y="806" transform="scale(0.68 1)" class="t">67</text>
<line x1="1726" y1="810" x2="1746" y2="810" stroke="#404040" stroke-width="2.4"/>
<line x1="1726" y1="810" x2="1625" y2="768" stroke="#3a3a3a" stroke-width="1.4"/>
<text x="2522.8" y="853" transform="scale(0.68 1)" class="t">66</text>
<line x1="1705" y1="857" x2="1726" y2="857" stroke="#404040" stroke-width="2.4"/>
<line x1="1705" y1="857" x2="1571" y2="815" stroke="#3a3a3a" stroke-width="1.4"/>
<text x="2433.1" y="937" transform="scale(0.68 1)" class="t">103</text>
<line x1="1645" y1="941" x2="1664" y2="941" stroke="#404040" stroke-width="2.4"/>
<line x1="1645" y1="941" x2="1571" y2="960" stroke="#3a3a3a" stroke-width="1.4"/>
<text x="2536.8" y="978" transform="scale(0.68 1)" class="t">102</text>
<line x1="1715" y1="982" x2="1735" y2="982" stroke="#404040" stroke-width="2.4"/>
<line x1="1715" y1="982" x2="1580" y2="966" stroke="#3a3a3a" stroke-width="1.4"/>
<text x="2367.6" y="1027" transform="scale(0.68 1)" class="t">105</text>
<line x1="1600" y1="1031" x2="1620" y2="1031" stroke="#404040" stroke-width="2.4"/>
<line x1="1600" y1="1031" x2="1546" y2="969" stroke="#3a3a3a" stroke-width="1.4"/>
<text x="577.9" y="828" transform="scale(0.68 1)" class="t">101</text>
<line x1="384" y1="832" x2="402" y2="832" stroke="#404040" stroke-width="2.4"/>
<line x1="402" y1="832" x2="425" y2="897" stroke="#3a3a3a" stroke-width="1.4"/>
<text x="730.9" y="865" transform="scale(0.68 1)" class="t">92</text>
<line x1="487" y1="869" x2="507" y2="869" stroke="#404040" stroke-width="2.4"/>
<line x1="487" y1="869" x2="460" y2="961" stroke="#3a3a3a" stroke-width="1.4"/>
<text x="815.4" y="865" transform="scale(0.68 1)" class="t">90</text>
<line x1="545" y1="869" x2="564" y2="869" stroke="#404040" stroke-width="2.4"/>
<line x1="545" y1="869" x2="491" y2="925" stroke="#3a3a3a" stroke-width="1.4"/>
<text x="920.6" y="865" transform="scale(0.68 1)" class="t">93</text>
<line x1="616" y1="869" x2="636" y2="869" stroke="#404040" stroke-width="2.4"/>
<line x1="616" y1="869" x2="584" y2="924" stroke="#3a3a3a" stroke-width="1.4"/>
<text x="859.6" y="1018" transform="scale(0.68 1)" class="t">68</text>
<line x1="572" y1="1022" x2="597" y2="1022" stroke="#404040" stroke-width="2.4"/>
<line x1="572" y1="1022" x2="527" y2="972" stroke="#3a3a3a" stroke-width="1.4"/>
<text x="808.8" y="1035" transform="scale(0.68 1)" class="t">69</text>
<line x1="540" y1="1039" x2="560" y2="1039" stroke="#404040" stroke-width="2.4"/>
<line x1="540" y1="1039" x2="511" y2="1009" stroke="#3a3a3a" stroke-width="1.4"/>
<text x="740.4" y="1070" transform="scale(0.68 1)" class="t">44</text>
<line x1="495" y1="1074" x2="512" y2="1074" stroke="#404040" stroke-width="2.4"/>
<line x1="495" y1="1074" x2="441" y2="1016" stroke="#3a3a3a" stroke-width="1.4"/>
<text x="311.8" y="1127" transform="scale(0.68 1)" class="t">40</text>
<line x1="202" y1="1131" x2="222" y2="1131" stroke="#404040" stroke-width="2.4"/>
<line x1="222" y1="1131" x2="250" y2="1110" stroke="#3a3a3a" stroke-width="1.4"/>
<text x="750" y="1127" transform="scale(0.68 1)" class="t">60</text>
<line x1="500" y1="1131" x2="520" y2="1131" stroke="#404040" stroke-width="2.4"/>
<line x1="500" y1="1131" x2="430" y2="1102" stroke="#3a3a3a" stroke-width="1.4"/>
<text x="629.4" y="1163" transform="scale(0.68 1)" class="t">56</text>
<line x1="419" y1="1167" x2="437" y2="1167" stroke="#404040" stroke-width="2.4"/>
<line x1="419" y1="1167" x2="381" y2="1135" stroke="#3a3a3a" stroke-width="1.4"/>
<text x="423.5" y="1221" transform="scale(0.68 1)" class="t">97</text>
<line x1="279" y1="1225" x2="297" y2="1225" stroke="#404040" stroke-width="2.4"/>
<line x1="297" y1="1225" x2="352" y2="1260" stroke="#3a3a3a" stroke-width="1.4"/>
<text x="335.3" y="1256" transform="scale(0.68 1)" class="t">8</text>
<line x1="219" y1="1260" x2="237" y2="1260" stroke="#404040" stroke-width="2.4"/>
<line x1="237" y1="1260" x2="290" y2="1312" stroke="#3a3a3a" stroke-width="1.4"/>
<text x="249.3" y="1295" transform="scale(0.68 1)" class="t">7</text>
<line x1="160" y1="1299" x2="179" y2="1299" stroke="#404040" stroke-width="2.4"/>
<line x1="179" y1="1299" x2="222" y2="1340" stroke="#3a3a3a" stroke-width="1.4"/>
<text x="983.8" y="1237" transform="scale(0.68 1)" class="t">17</text>
<line x1="659" y1="1241" x2="679" y2="1241" stroke="#404040" stroke-width="2.4"/>
<line x1="679" y1="1241" x2="747" y2="1212" stroke="#3a3a3a" stroke-width="1.4"/>
<text x="983.8" y="1295" transform="scale(0.68 1)" class="t">25</text>
<line x1="659" y1="1299" x2="679" y2="1299" stroke="#404040" stroke-width="2.4"/>
<line x1="679" y1="1299" x2="729" y2="1255" stroke="#3a3a3a" stroke-width="1.4"/>
<text x="1677.9" y="1385" transform="scale(0.68 1)" class="t">80</text>
<line x1="1131" y1="1389" x2="1151" y2="1389" stroke="#404040" stroke-width="2.4"/>
<line x1="1131" y1="1389" x2="1069" y2="1359" stroke="#3a3a3a" stroke-width="1.4"/>
<text x="1670.6" y="1425" transform="scale(0.68 1)" class="t">81</text>
<line x1="1126" y1="1429" x2="1146" y2="1429" stroke="#404040" stroke-width="2.4"/>
<line x1="1126" y1="1429" x2="1075" y2="1400" stroke="#3a3a3a" stroke-width="1.4"/>
<text x="522.8" y="1623" transform="scale(0.68 1)" class="t">99</text>
<line x1="345" y1="1627" x2="366" y2="1627" stroke="#404040" stroke-width="2.4"/>
<line x1="366" y1="1627" x2="422" y2="1531" stroke="#3a3a3a" stroke-width="1.4"/>
<text x="869.1" y="1623" transform="scale(0.68 1)" class="t">75</text>
<line x1="581" y1="1627" x2="601" y2="1627" stroke="#404040" stroke-width="2.4"/>
<line x1="581" y1="1627" x2="560" y2="1582" stroke="#3a3a3a" stroke-width="1.4"/>
<text x="948.5" y="1623" transform="scale(0.68 1)" class="t">59</text>
<line x1="635" y1="1627" x2="655" y2="1627" stroke="#404040" stroke-width="2.4"/>
<line x1="635" y1="1627" x2="577" y2="1571" stroke="#3a3a3a" stroke-width="1.4"/>
<text x="1030.9" y="1623" transform="scale(0.68 1)" class="t">38</text>
<line x1="691" y1="1627" x2="711" y2="1627" stroke="#404040" stroke-width="2.4"/>
<line x1="691" y1="1627" x2="654" y2="1556" stroke="#3a3a3a" stroke-width="1.4"/>
<text x="1127.9" y="1623" transform="scale(0.68 1)" class="t">79</text>
<line x1="757" y1="1627" x2="777" y2="1627" stroke="#404040" stroke-width="2.4"/>
<line x1="757" y1="1627" x2="710" y2="1469" stroke="#3a3a3a" stroke-width="1.4"/>
<text x="1216.2" y="1623" transform="scale(0.68 1)" class="t">39</text>
<line x1="817" y1="1627" x2="837" y2="1627" stroke="#404040" stroke-width="2.4"/>
<line x1="817" y1="1627" x2="740" y2="1496" stroke="#3a3a3a" stroke-width="1.4"/>
<text x="1323.5" y="1623" transform="scale(0.68 1)" class="t">15</text>
<line x1="890" y1="1627" x2="910" y2="1627" stroke="#404040" stroke-width="2.4"/>
<line x1="890" y1="1627" x2="781" y2="1457" stroke="#3a3a3a" stroke-width="1.4"/>
<text x="1414.7" y="1623" transform="scale(0.68 1)" class="t">16</text>
<line x1="952" y1="1627" x2="972" y2="1627" stroke="#404040" stroke-width="2.4"/>
<line x1="952" y1="1627" x2="820" y2="1384" stroke="#3a3a3a" stroke-width="1.4"/>
<text x="1516.2" y="1622" transform="scale(0.68 1)" class="t">27</text>
<line x1="1021" y1="1626" x2="1041" y2="1626" stroke="#404040" stroke-width="2.4"/>
<line x1="1021" y1="1626" x2="934" y2="1331" stroke="#3a3a3a" stroke-width="1.4"/>
<text x="1600" y="1623" transform="scale(0.68 1)" class="t">26</text>
<line x1="1077" y1="1627" x2="1099" y2="1627" stroke="#404040" stroke-width="2.4"/>
<line x1="1077" y1="1627" x2="998" y2="1300" stroke="#3a3a3a" stroke-width="1.4"/>
<line x1="387" y1="409" x2="542" y2="409" stroke="#2a2a2a" stroke-width="2"/>
<text x="582.4" y="404" transform="scale(0.68 1)" class="t">83</text>
</g>
</svg></body></html>
